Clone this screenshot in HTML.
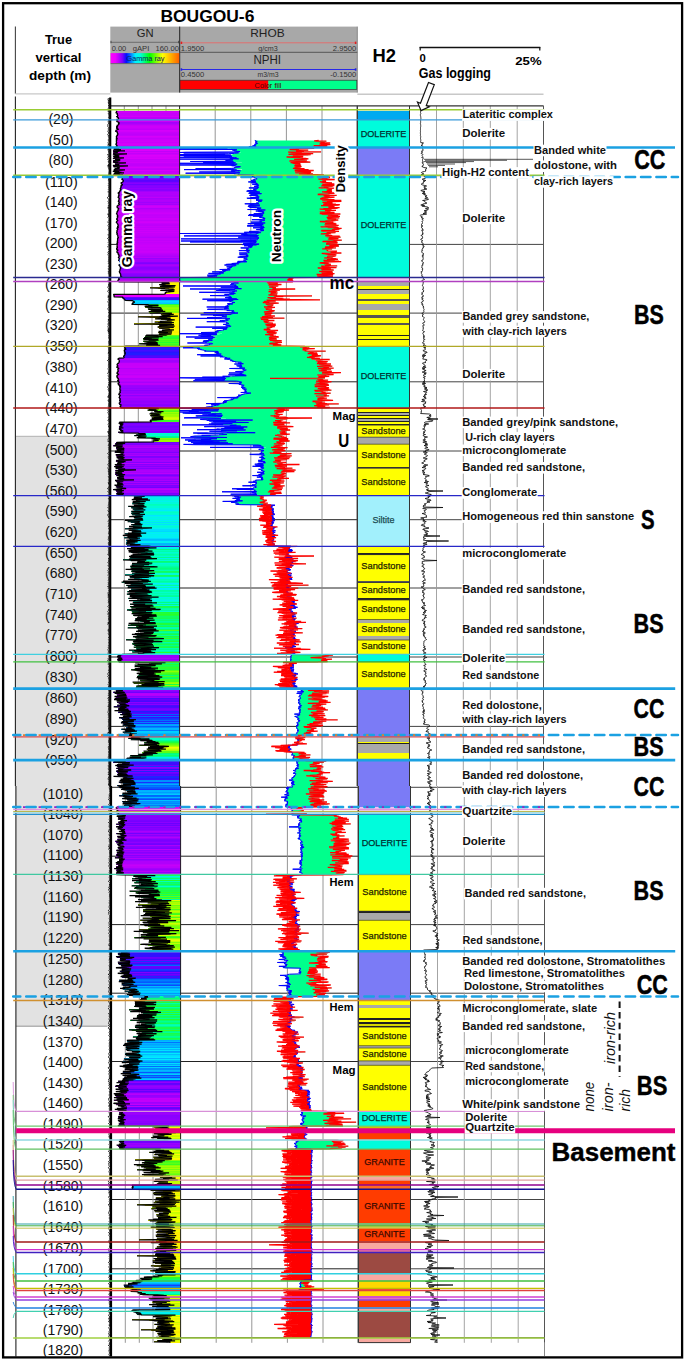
<!DOCTYPE html>
<html><head><meta charset="utf-8"><style>
html,body{margin:0;padding:0;background:#fff;width:685px;height:1361px;overflow:hidden}
svg{display:block}
text{font-family:"Liberation Sans",sans-serif}
</style></head><body>
<svg width="685" height="1361" viewBox="0 0 685 1361" font-family="'Liberation Sans', sans-serif"><text x="160.4" y="21.5" font-size="17" fill="#000" font-weight="bold" textLength="94" lengthAdjust="spacingAndGlyphs">BOUGOU-6</text>
<line x1="15.4" y1="26.6" x2="15.4" y2="93.8" stroke="#444" stroke-width="1.1"/>
<text x="58.5" y="43.6" font-size="13" fill="#000" font-weight="bold" text-anchor="middle" textLength="27" lengthAdjust="spacingAndGlyphs">True</text>
<text x="58.5" y="62.3" font-size="13" fill="#000" font-weight="bold" text-anchor="middle" textLength="46" lengthAdjust="spacingAndGlyphs">vertical</text>
<text x="60" y="80.1" font-size="13" fill="#000" font-weight="bold" text-anchor="middle" textLength="62" lengthAdjust="spacingAndGlyphs">depth (m)</text>
<line x1="15.4" y1="93.8" x2="110.3" y2="93.8" stroke="#c8c8c8" stroke-width="1.2"/>
<rect x="110.3" y="26.6" width="247.1" height="66" fill="#a8a8a8"/>
<line x1="179.7" y1="26.6" x2="179.7" y2="92.6" stroke="#222" stroke-width="1.0"/>
<line x1="357.3" y1="26.6" x2="357.3" y2="92.6" stroke="#777" stroke-width="0.8"/>
<text x="145.2" y="36.8" font-size="11.5" fill="#222" text-anchor="middle" textLength="16.8" lengthAdjust="spacingAndGlyphs">GN</text>
<line x1="110.8" y1="42.3" x2="178.8" y2="42.3" stroke="#666" stroke-width="0.9"/>
<line x1="111" y1="40.8" x2="111" y2="43.3" stroke="#444" stroke-width="0.9"/>
<line x1="178.6" y1="40.8" x2="178.6" y2="43.3" stroke="#444" stroke-width="0.9"/>
<text x="111.7" y="50.8" font-size="7.5" fill="#333" textLength="14.6" lengthAdjust="spacingAndGlyphs">0.00</text>
<text x="132.8" y="50.8" font-size="7.5" fill="#333" textLength="16.5" lengthAdjust="spacingAndGlyphs">gAPI</text>
<text x="178.9" y="50.8" font-size="7.5" fill="#333" text-anchor="end" textLength="23.4" lengthAdjust="spacingAndGlyphs">160.00</text>
<defs><linearGradient id="gr" x1="0" x2="1" y1="0" y2="0"><stop offset="0" stop-color="#ff00ff"/><stop offset="0.07" stop-color="#ee00ff"/><stop offset="0.17" stop-color="#8000ff"/><stop offset="0.23" stop-color="#0010ff"/><stop offset="0.36" stop-color="#00f0ff"/><stop offset="0.43" stop-color="#00ffe0"/><stop offset="0.57" stop-color="#00ff00"/><stop offset="0.76" stop-color="#ffff00"/><stop offset="1" stop-color="#ff6000"/></linearGradient></defs>
<rect x="110.6" y="53.1" width="68.6" height="10.2" fill="url(#gr)"/>
<line x1="110.6" y1="63.6" x2="179.2" y2="63.6" stroke="#555" stroke-width="0.7"/>
<text x="145.5" y="60.6" font-size="7.8" fill="#102060" text-anchor="middle" textLength="38" lengthAdjust="spacingAndGlyphs">Gamma ray</text>
<text x="267.4" y="36.8" font-size="11.5" fill="#222" text-anchor="middle" textLength="34.4" lengthAdjust="spacingAndGlyphs">RHOB</text>
<line x1="181" y1="42.8" x2="356" y2="42.8" stroke="#e07070" stroke-width="1.0"/>
<rect x="180.6" y="41.6" width="1.6" height="2.4" fill="#e02020"/>
<rect x="354.8" y="41.6" width="1.6" height="2.4" fill="#e02020"/>
<text x="180.8" y="50.6" font-size="7.5" fill="#333" textLength="23.4" lengthAdjust="spacingAndGlyphs">1.9500</text>
<text x="268" y="50.6" font-size="7.5" fill="#333" text-anchor="middle" textLength="19.5" lengthAdjust="spacingAndGlyphs">g/cm3</text>
<text x="356.2" y="50.6" font-size="7.5" fill="#333" text-anchor="end" textLength="23.4" lengthAdjust="spacingAndGlyphs">2.9500</text>
<line x1="179.7" y1="52.3" x2="357.3" y2="52.3" stroke="#555" stroke-width="1.0"/>
<text x="267.2" y="64.1" font-size="12" fill="#222" text-anchor="middle" textLength="27.6" lengthAdjust="spacingAndGlyphs">NPHI</text>
<line x1="181" y1="69.5" x2="356" y2="69.5" stroke="#2828e8" stroke-width="1.1"/>
<rect x="180.6" y="68.3" width="1.6" height="2.4" fill="#2020e0"/>
<rect x="354.8" y="68.3" width="1.6" height="2.4" fill="#2020e0"/>
<text x="180.8" y="77.4" font-size="7.5" fill="#333" textLength="23.4" lengthAdjust="spacingAndGlyphs">0.4500</text>
<text x="268" y="77.4" font-size="7.5" fill="#333" text-anchor="middle" textLength="21" lengthAdjust="spacingAndGlyphs">m3/m3</text>
<text x="356.2" y="77.4" font-size="7.5" fill="#333" text-anchor="end" textLength="26" lengthAdjust="spacingAndGlyphs">-0.1500</text>
<rect x="180" y="80.2" width="88.4" height="9.2" fill="#ff0000"/>
<rect x="268.4" y="80.2" width="88.4" height="9.2" fill="#00ff8c"/>
<rect x="180" y="80.2" width="176.8" height="9.2" fill="none" stroke="#333" stroke-width="0.7"/>
<text x="268" y="87.6" font-size="7.8" fill="#500000" text-anchor="middle" textLength="27" lengthAdjust="spacingAndGlyphs">Color fill</text>
<text x="372.5" y="62.2" font-size="17.5" fill="#000" font-weight="bold" textLength="23.5" lengthAdjust="spacingAndGlyphs">H2</text>
<line x1="419.6" y1="47.5" x2="540.3" y2="47.5" stroke="#111" stroke-width="1.4"/>
<line x1="420.2" y1="47" x2="420.2" y2="50.5" stroke="#111" stroke-width="1.2"/>
<line x1="539.8" y1="47" x2="539.8" y2="50.5" stroke="#111" stroke-width="1.2"/>
<text x="419.4" y="62.2" font-size="11.5" fill="#000" font-weight="bold" textLength="6.3" lengthAdjust="spacingAndGlyphs">0</text>
<text x="541.6" y="64.8" font-size="11.5" fill="#000" font-weight="bold" text-anchor="end" textLength="26.3" lengthAdjust="spacingAndGlyphs">25%</text>
<text x="418.8" y="78" font-size="14" fill="#000" font-weight="bold" textLength="72.2" lengthAdjust="spacingAndGlyphs">Gas logging</text>
<line x1="357.3" y1="94.2" x2="543.5" y2="94.2" stroke="#c8c8c8" stroke-width="1.4"/>
<rect x="3.1" y="3.2" width="679" height="1354.2" fill="none" stroke="#000" stroke-width="2.3"/>
<rect x="15.9" y="436.3" width="92.7" height="349.7" fill="#e2e2e2"/>
<rect x="15.9" y="786" width="93.5" height="240.2" fill="#e2e2e2"/>
<line x1="15.9" y1="436.3" x2="107.5" y2="436.3" stroke="#aaa" stroke-width="0.9"/>
<line x1="15.9" y1="1026.2" x2="107.5" y2="1026.2" stroke="#888" stroke-width="0.9"/>
<line x1="110.3" y1="175.7" x2="357" y2="175.7" stroke="#222" stroke-width="1.0"/>
<line x1="409.5" y1="175.7" x2="543.5" y2="175.7" stroke="#444" stroke-width="1.0"/>
<line x1="110.3" y1="244.4" x2="357" y2="244.4" stroke="#222" stroke-width="1.0"/>
<line x1="409.5" y1="244.4" x2="543.5" y2="244.4" stroke="#444" stroke-width="1.0"/>
<line x1="110.3" y1="313.1" x2="357" y2="313.1" stroke="#222" stroke-width="1.0"/>
<line x1="409.5" y1="313.1" x2="543.5" y2="313.1" stroke="#444" stroke-width="1.0"/>
<line x1="110.3" y1="381.8" x2="357" y2="381.8" stroke="#222" stroke-width="1.0"/>
<line x1="409.5" y1="381.8" x2="543.5" y2="381.8" stroke="#444" stroke-width="1.0"/>
<line x1="110.3" y1="451" x2="357" y2="451" stroke="#222" stroke-width="1.0"/>
<line x1="409.5" y1="451" x2="543.5" y2="451" stroke="#444" stroke-width="1.0"/>
<line x1="110.3" y1="519.7" x2="357" y2="519.7" stroke="#222" stroke-width="1.0"/>
<line x1="409.5" y1="519.7" x2="543.5" y2="519.7" stroke="#444" stroke-width="1.0"/>
<line x1="110.3" y1="588" x2="357" y2="588" stroke="#222" stroke-width="1.0"/>
<line x1="409.5" y1="588" x2="543.5" y2="588" stroke="#444" stroke-width="1.0"/>
<line x1="110.3" y1="657" x2="357" y2="657" stroke="#222" stroke-width="1.0"/>
<line x1="409.5" y1="657" x2="543.5" y2="657" stroke="#444" stroke-width="1.0"/>
<line x1="110.3" y1="726.4" x2="357" y2="726.4" stroke="#222" stroke-width="1.0"/>
<line x1="409.5" y1="726.4" x2="543.5" y2="726.4" stroke="#444" stroke-width="1.0"/>
<line x1="111.3" y1="787.3" x2="358" y2="787.3" stroke="#222" stroke-width="1.0"/>
<line x1="410.5" y1="787.3" x2="544.5" y2="787.3" stroke="#444" stroke-width="1.0"/>
<line x1="111.3" y1="856.2" x2="358" y2="856.2" stroke="#222" stroke-width="1.0"/>
<line x1="410.5" y1="856.2" x2="544.5" y2="856.2" stroke="#444" stroke-width="1.0"/>
<line x1="111.3" y1="924.6" x2="358" y2="924.6" stroke="#222" stroke-width="1.0"/>
<line x1="410.5" y1="924.6" x2="544.5" y2="924.6" stroke="#444" stroke-width="1.0"/>
<line x1="111.3" y1="993.2" x2="358" y2="993.2" stroke="#222" stroke-width="1.0"/>
<line x1="410.5" y1="993.2" x2="544.5" y2="993.2" stroke="#444" stroke-width="1.0"/>
<line x1="111.3" y1="1061.5" x2="358" y2="1061.5" stroke="#222" stroke-width="1.0"/>
<line x1="410.5" y1="1061.5" x2="544.5" y2="1061.5" stroke="#444" stroke-width="1.0"/>
<line x1="111.3" y1="1130.4" x2="358" y2="1130.4" stroke="#222" stroke-width="1.0"/>
<line x1="410.5" y1="1130.4" x2="544.5" y2="1130.4" stroke="#444" stroke-width="1.0"/>
<line x1="111.3" y1="1199.5" x2="358" y2="1199.5" stroke="#222" stroke-width="1.0"/>
<line x1="410.5" y1="1199.5" x2="544.5" y2="1199.5" stroke="#444" stroke-width="1.0"/>
<line x1="111.3" y1="1268.8" x2="358" y2="1268.8" stroke="#222" stroke-width="1.0"/>
<line x1="410.5" y1="1268.8" x2="544.5" y2="1268.8" stroke="#444" stroke-width="1.0"/>
<line x1="111.3" y1="1337.7" x2="358" y2="1337.7" stroke="#222" stroke-width="1.0"/>
<line x1="410.5" y1="1337.7" x2="544.5" y2="1337.7" stroke="#444" stroke-width="1.0"/>
<line x1="124.3" y1="105.8" x2="124.3" y2="786" stroke="#8a8a8a" stroke-width="0.9"/>
<line x1="125.3" y1="786" x2="125.3" y2="1342.8" stroke="#8a8a8a" stroke-width="0.9"/>
<line x1="138.3" y1="105.8" x2="138.3" y2="786" stroke="#8a8a8a" stroke-width="0.9"/>
<line x1="139.3" y1="786" x2="139.3" y2="1342.8" stroke="#8a8a8a" stroke-width="0.9"/>
<line x1="152" y1="105.8" x2="152" y2="786" stroke="#8a8a8a" stroke-width="0.9"/>
<line x1="153" y1="786" x2="153" y2="1342.8" stroke="#8a8a8a" stroke-width="0.9"/>
<line x1="166" y1="105.8" x2="166" y2="786" stroke="#8a8a8a" stroke-width="0.9"/>
<line x1="167" y1="786" x2="167" y2="1342.8" stroke="#8a8a8a" stroke-width="0.9"/>
<line x1="215.2" y1="105.8" x2="215.2" y2="786" stroke="#8a8a8a" stroke-width="0.9"/>
<line x1="216.2" y1="786" x2="216.2" y2="1342.8" stroke="#8a8a8a" stroke-width="0.9"/>
<line x1="250.8" y1="105.8" x2="250.8" y2="786" stroke="#8a8a8a" stroke-width="0.9"/>
<line x1="251.8" y1="786" x2="251.8" y2="1342.8" stroke="#8a8a8a" stroke-width="0.9"/>
<line x1="286.4" y1="105.8" x2="286.4" y2="786" stroke="#8a8a8a" stroke-width="0.9"/>
<line x1="287.4" y1="786" x2="287.4" y2="1342.8" stroke="#8a8a8a" stroke-width="0.9"/>
<line x1="322" y1="105.8" x2="322" y2="786" stroke="#8a8a8a" stroke-width="0.9"/>
<line x1="323" y1="786" x2="323" y2="1342.8" stroke="#8a8a8a" stroke-width="0.9"/>
<line x1="436.5" y1="105.8" x2="436.5" y2="786" stroke="#9a9a9a" stroke-width="0.9"/>
<line x1="437.5" y1="786" x2="437.5" y2="1342.8" stroke="#9a9a9a" stroke-width="0.9"/>
<line x1="463.3" y1="105.8" x2="463.3" y2="786" stroke="#9a9a9a" stroke-width="0.9"/>
<line x1="464.3" y1="786" x2="464.3" y2="1342.8" stroke="#9a9a9a" stroke-width="0.9"/>
<line x1="490.3" y1="105.8" x2="490.3" y2="786" stroke="#9a9a9a" stroke-width="0.9"/>
<line x1="491.3" y1="786" x2="491.3" y2="1342.8" stroke="#9a9a9a" stroke-width="0.9"/>
<line x1="517.2" y1="105.8" x2="517.2" y2="786" stroke="#9a9a9a" stroke-width="0.9"/>
<line x1="518.2" y1="786" x2="518.2" y2="1342.8" stroke="#9a9a9a" stroke-width="0.9"/>
<g shape-rendering="crispEdges">
<path fill="#cf00fa" d="M116.5 111h63.1v1.1h-63.1zM116.5 119h63.1v1.1h-63.1zM116 137h63.6v1.1h-63.6zM116.2 140h63.4v1.1h-63.4zM113 162h66.6v1.1h-66.6z"/>
<path fill="#d000fa" d="M115.6 112h64v1.1h-64z"/>
<path fill="#c500fa" d="M116.9 113h62.7v1.1h-62.7zM115.9 138h63.7v1.1h-63.7zM114.6 168h65v1.1h-65zM117.5 205h62.1v1.1h-62.1zM117 214h62.6v1.1h-62.6zM116.9 216h62.7v1.1h-62.7zM117.5 363h62.1v1.1h-62.1zM118.2 865h62.4v1.1h-62.4z"/>
<path fill="#c900fa" d="M116.8 114h62.8v1.1h-62.8zM117.1 115h62.5v1.1h-62.5zM114.6 172h65v1.1h-65zM113.7 173h65.9v1.1h-65.9zM116.8 212h62.8v1.1h-62.8zM116.8 228h62.8v1.1h-62.8zM117.1 241h62.5v1.1h-62.5z"/>
<path fill="#d200fa" d="M116.3 116h63.3v1.1h-63.3zM116.2 141h63.4v1.1h-63.4z"/>
<path fill="#be00fa" d="M117.4 117h62.2v1.1h-62.2zM118.1 197h61.5v1.1h-61.5zM118 225h61.6v1.1h-61.6zM117.8 383h61.8v1.1h-61.8zM113.1 489h66.5v1.1h-66.5z"/>
<path fill="#bf00fa" d="M118.1 118h61.5v1.1h-61.5z"/>
<path fill="#ca00fa" d="M116.8 120h62.8v1.1h-62.8zM116.6 121h63v1.1h-63zM113.4 160h66.2v1.1h-66.2zM113.4 166h66.2v1.1h-66.2zM116.7 207h62.9v1.1h-62.9zM117 246h62.6v1.1h-62.6zM116.9 377h62.7v1.1h-62.7z"/>
<path fill="#a600fc" d="M118.5 122h61.1v1.1h-61.1zM118.8 198h60.8v1.1h-60.8zM119.3 271h60.3v1.1h-60.3zM117.3 446h62.3v1.1h-62.3zM121.3 453h58.3v1.1h-58.3zM115.4 472h64.2v1.1h-64.2zM114.7 689h64.9v1.1h-64.9zM114.3 868h66.3v1.1h-66.3z"/>
<path fill="#ab00fc" d="M118.1 123h61.5v1.1h-61.5zM118.6 362h61v1.1h-61zM116.3 455h63.3v1.1h-63.3zM117.3 482h62.3v1.1h-62.3zM118.9 831h61.7v1.1h-61.7zM116.3 854h64.3v1.1h-64.3z"/>
<path fill="#b800fb" d="M118.1 124h61.5v1.1h-61.5zM117.7 237h61.9v1.1h-61.9zM118.1 379h61.5v1.1h-61.5z"/>
<path fill="#c600fa" d="M116.7 125h62.9v1.1h-62.9zM115.1 159h64.5v1.1h-64.5zM117.2 223h62.4v1.1h-62.4zM116.7 231h62.9v1.1h-62.9zM116.7 233h62.9v1.1h-62.9zM117.3 238h62.3v1.1h-62.3zM116.5 243h63.1v1.1h-63.1zM116.9 250h62.7v1.1h-62.7zM116.7 364h62.9v1.1h-62.9zM117.4 365h62.2v1.1h-62.2z"/>
<path fill="#cd00fa" d="M116.4 126h63.2v1.1h-63.2zM116.2 127h63.4v1.1h-63.4zM116.4 145h63.2v1.1h-63.2zM116.8 206h62.8v1.1h-62.8zM116.3 213h63.3v1.1h-63.3zM116.7 218h62.9v1.1h-62.9zM116.7 230h62.9v1.1h-62.9z"/>
<path fill="#c700fa" d="M116.5 128h63.1v1.1h-63.1zM117.2 132h62.4v1.1h-62.4zM112.8 171h66.8v1.1h-66.8zM117.3 226h62.3v1.1h-62.3zM116.6 234h63v1.1h-63zM117.3 239h62.3v1.1h-62.3zM117 247h62.6v1.1h-62.6zM116.7 373h62.9v1.1h-62.9zM116.8 375h62.8v1.1h-62.8z"/>
<path fill="#c000fa" d="M117 129h62.6v1.1h-62.6zM116.9 134h62.7v1.1h-62.7zM117.7 224h61.9v1.1h-61.9zM117.4 227h62.2v1.1h-62.2zM117.7 236h61.9v1.1h-61.9zM117.9 253h61.7v1.1h-61.7z"/>
<path fill="#d500fa" d="M115.9 130h63.7v1.1h-63.7zM116 136h63.6v1.1h-63.6zM117.6 167h62v1.1h-62z"/>
<path fill="#d100fa" d="M115.3 131h64.3v1.1h-64.3zM112.9 147h66.7v1.1h-66.7zM116.3 222h63.3v1.1h-63.3zM117.2 810h63.4v1.1h-63.4z"/>
<path fill="#c300fa" d="M117.5 133h62.1v1.1h-62.1zM117.3 217h62.3v1.1h-62.3zM117.5 229h62.1v1.1h-62.1zM117 242h62.6v1.1h-62.6zM117.7 280h61.9v1.1h-61.9z"/>
<path fill="#c400fa" d="M116.6 135h63v1.1h-63zM113.2 153h66.4v1.1h-66.4zM115.1 163h64.5v1.1h-64.5zM116.9 211h62.7v1.1h-62.7zM117.2 235h62.4v1.1h-62.4zM117.2 372h62.4v1.1h-62.4z"/>
<path fill="#cc00fa" d="M116.4 139h63.2v1.1h-63.2zM116.2 146h63.4v1.1h-63.4zM116.8 376h62.8v1.1h-62.8z"/>
<path fill="#cb00fa" d="M116 142h63.6v1.1h-63.6zM116.5 219h63.1v1.1h-63.1zM116.9 245h62.7v1.1h-62.7zM116.3 248h63.3v1.1h-63.3zM116.7 251h62.9v1.1h-62.9z"/>
<path fill="#d400fa" d="M116 143h63.6v1.1h-63.6zM113.3 152h66.3v1.1h-66.3zM113.4 174h66.2v1.1h-66.2z"/>
<path fill="#d600fa" d="M115.8 144h63.8v1.1h-63.8z"/>
<path fill="#df00fc" d="M114.1 148h65.5v1.1h-65.5z"/>
<path fill="#d800fa" d="M114.7 149h64.9v1.1h-64.9zM113.8 170h65.8v1.1h-65.8z"/>
<path fill="#dd00fb" d="M113 150h66.6v1.1h-66.6z"/>
<path fill="#c200fa" d="M113.2 151h66.4v1.1h-66.4zM117.5 210h62.1v1.1h-62.1zM117.3 215h62.3v1.1h-62.3zM117.3 220h62.3v1.1h-62.3zM116 873h64.6v1.1h-64.6zM118.3 1098h62.3v1.1h-62.3z"/>
<path fill="#ce00fa" d="M112.9 154h66.7v1.1h-66.7zM116.5 221h63.1v1.1h-63.1zM116.6 232h63v1.1h-63z"/>
<path fill="#db00fb" d="M115.6 155h64v1.1h-64z"/>
<path fill="#d700fa" d="M113.2 156h66.4v1.1h-66.4zM115.9 808h64.7v1.1h-64.7z"/>
<path fill="#d300fa" d="M113.7 157h65.9v1.1h-65.9zM117.1 814h63.5v1.1h-63.5z"/>
<path fill="#d900fa" d="M112.9 158h66.7v1.1h-66.7zM115.9 807h64.7v1.1h-64.7zM116.5 811h64.1v1.1h-64.1z"/>
<path fill="#c800fa" d="M113.1 161h66.5v1.1h-66.5zM117.1 244h62.5v1.1h-62.5zM116.6 249h63v1.1h-63zM116.7 252h62.9v1.1h-62.9zM117.2 366h62.4v1.1h-62.4zM116.6 367h63v1.1h-63zM116.8 809h63.8v1.1h-63.8z"/>
<path fill="#c100fa" d="M115.4 164h64.2v1.1h-64.2zM113.3 165h66.3v1.1h-66.3zM113.7 169h65.9v1.1h-65.9zM117.2 240h62.4v1.1h-62.4zM117.7 369h61.9v1.1h-61.9zM117.8 370h61.8v1.1h-61.8zM117.6 371h62v1.1h-62zM117.3 380h62.3v1.1h-62.3zM118.1 813h62.5v1.1h-62.5zM113.8 1100h66.8v1.1h-66.8zM117.6 1101h63v1.1h-63zM116.3 1104h64.3v1.1h-64.3zM120.8 1106h59.8v1.1h-59.8z"/>
<path fill="#5d02ff" d="M122.7 175h56.9v1.1h-56.9zM122.6 975h58v1.1h-58z"/>
<path fill="#5804ff" d="M122.8 176h56.8v1.1h-56.8zM122.9 180h56.7v1.1h-56.7zM116.6 700h63v1.1h-63zM115.8 1089h64.8v1.1h-64.8z"/>
<path fill="#6500ff" d="M122.4 177h57.2v1.1h-57.2zM114.1 699h65.5v1.1h-65.5zM120.1 958h60.5v1.1h-60.5z"/>
<path fill="#7100ff" d="M122.1 178h57.5v1.1h-57.5z"/>
<path fill="#6f00ff" d="M121.5 179h58.1v1.1h-58.1zM115.6 765h64v1.1h-64zM121.5 966h59.1v1.1h-59.1zM121.6 1107h59v1.1h-59z"/>
<path fill="#5e02ff" d="M122.9 181h56.7v1.1h-56.7zM121.5 968h59.1v1.1h-59.1z"/>
<path fill="#7b00ff" d="M121 182h58.6v1.1h-58.6zM116.4 475h63.2v1.1h-63.2zM121.3 820h59.3v1.1h-59.3zM118.4 827h62.2v1.1h-62.2zM120 840h60.6v1.1h-60.6z"/>
<path fill="#8800ff" d="M120.8 183h58.8v1.1h-58.8zM120.8 186h58.8v1.1h-58.8zM118.8 422h60.8v1.1h-60.8zM114.7 696h64.9v1.1h-64.9zM123.8 1090h56.8v1.1h-56.8zM118 1125h62.6v1.1h-62.6z"/>
<path fill="#6d00ff" d="M121.6 184h58v1.1h-58zM114.5 710h65.1v1.1h-65.1z"/>
<path fill="#8300ff" d="M120.8 185h58.8v1.1h-58.8zM115.6 468h64v1.1h-64zM117.5 483h62.1v1.1h-62.1zM115.8 486h63.8v1.1h-63.8zM117.9 819h62.7v1.1h-62.7zM116.2 824h64.4v1.1h-64.4z"/>
<path fill="#8500ff" d="M120.5 187h59.1v1.1h-59.1zM114.8 464h64.8v1.1h-64.8zM117.5 494h62.1v1.1h-62.1zM116.2 691h63.4v1.1h-63.4zM117.4 770h62.2v1.1h-62.2zM117.6 847h63v1.1h-63z"/>
<path fill="#9300fe" d="M120.2 188h59.4v1.1h-59.4zM117.1 872h63.5v1.1h-63.5zM116.5 1082h64.1v1.1h-64.1z"/>
<path fill="#8700ff" d="M120 189h59.6v1.1h-59.6zM120.3 276h59.3v1.1h-59.3zM122 818h58.6v1.1h-58.6zM117.5 828h63.1v1.1h-63.1zM116.8 852h63.8v1.1h-63.8zM117.6 1110h63v1.1h-63z"/>
<path fill="#8900ff" d="M120 190h59.6v1.1h-59.6zM120.4 262h59.2v1.1h-59.2zM120 274h59.6v1.1h-59.6zM119.3 404h60.3v1.1h-60.3zM121 952h59.6v1.1h-59.6z"/>
<path fill="#a200fd" d="M119.4 191h60.2v1.1h-60.2zM118.9 360h60.7v1.1h-60.7zM118.1 458h61.5v1.1h-61.5zM115.5 490h64.1v1.1h-64.1z"/>
<path fill="#b200fb" d="M118.4 192h61.2v1.1h-61.2zM118.7 194h60.9v1.1h-60.9zM118.4 200h61.2v1.1h-61.2zM118.6 277h61v1.1h-61zM117.5 837h63.1v1.1h-63.1zM116.3 874h64.3v1.1h-64.3z"/>
<path fill="#b000fb" d="M117.9 193h61.7v1.1h-61.7zM118.3 201h61.3v1.1h-61.3zM118.2 279h61.4v1.1h-61.4zM118 358h61.6v1.1h-61.6zM115.8 862h64.8v1.1h-64.8zM116.5 863h64.1v1.1h-64.1z"/>
<path fill="#ac00fc" d="M118.6 195h61v1.1h-61zM115.4 470h64.2v1.1h-64.2zM117.1 477h62.5v1.1h-62.5z"/>
<path fill="#ae00fc" d="M118.2 196h61.4v1.1h-61.4zM118.6 394h61v1.1h-61z"/>
<path fill="#ad00fc" d="M118.9 199h60.7v1.1h-60.7zM118.6 256h61v1.1h-61zM118.4 281h61.2v1.1h-61.2zM117.7 658h61.9v1.1h-61.9zM117.8 660h61.8v1.1h-61.8zM113.8 1093h66.8v1.1h-66.8z"/>
<path fill="#a100fd" d="M118.9 202h60.7v1.1h-60.7zM119.2 361h60.4v1.1h-60.4zM116.9 449h62.7v1.1h-62.7zM116.3 870h64.3v1.1h-64.3z"/>
<path fill="#af00fb" d="M118.3 203h61.3v1.1h-61.3zM118 471h61.6v1.1h-61.6z"/>
<path fill="#a300fd" d="M118.6 204h61v1.1h-61zM119.4 396h60.2v1.1h-60.2z"/>
<path fill="#b100fb" d="M117.9 208h61.7v1.1h-61.7zM116.9 695h62.7v1.1h-62.7z"/>
<path fill="#bd00fa" d="M117.7 209h61.9v1.1h-61.9zM117.8 374h61.8v1.1h-61.8zM116.2 864h64.4v1.1h-64.4zM116.3 866h64.3v1.1h-64.3z"/>
<path fill="#b900fb" d="M118.1 254h61.5v1.1h-61.5zM117 463h62.6v1.1h-62.6z"/>
<path fill="#b400fb" d="M118.6 255h61v1.1h-61zM118.1 368h61.5v1.1h-61.5zM117.7 378h61.9v1.1h-61.9zM120.8 488h58.8v1.1h-58.8z"/>
<path fill="#ba00fa" d="M118.2 257h61.4v1.1h-61.4z"/>
<path fill="#9900fe" d="M118.9 258h60.7v1.1h-60.7zM119.8 266h59.8v1.1h-59.8zM119.6 391h60v1.1h-60zM119.4 400h60.2v1.1h-60.2zM119.1 403h60.5v1.1h-60.5zM115.7 454h63.9v1.1h-63.9zM117.3 654h62.3v1.1h-62.3zM115.6 697h64v1.1h-64zM118.9 1114h61.7v1.1h-61.7zM119.5 1148h61.1v1.1h-61.1z"/>
<path fill="#aa00fc" d="M118.7 259h60.9v1.1h-60.9zM119 397h60.6v1.1h-60.6zM115 480h64.6v1.1h-64.6zM118.2 845h62.4v1.1h-62.4z"/>
<path fill="#a500fc" d="M118.4 260h61.2v1.1h-61.2zM117.2 484h62.4v1.1h-62.4z"/>
<path fill="#a400fd" d="M119.4 261h60.2v1.1h-60.2zM116.2 460h63.4v1.1h-63.4zM115.9 461h63.7v1.1h-63.7zM118.4 469h61.2v1.1h-61.2z"/>
<path fill="#8000ff" d="M120.6 263h59v1.1h-59zM115.4 841h65.2v1.1h-65.2zM118.4 951h62.2v1.1h-62.2zM121.6 972h59v1.1h-59z"/>
<path fill="#9f00fd" d="M119.2 264h60.4v1.1h-60.4zM118.9 851h61.7v1.1h-61.7zM119.2 1113h61.4v1.1h-61.4z"/>
<path fill="#a900fc" d="M118.9 265h60.7v1.1h-60.7zM116.4 491h63.2v1.1h-63.2z"/>
<path fill="#8b00ff" d="M120 267h59.6v1.1h-59.6zM120.4 268h59.2v1.1h-59.2zM120 390h59.6v1.1h-59.6zM117 702h62.6v1.1h-62.6zM114.8 1109h65.8v1.1h-65.8zM118.4 1116h62.2v1.1h-62.2z"/>
<path fill="#9100ff" d="M119.7 269h59.9v1.1h-59.9zM120.3 1119h60.3v1.1h-60.3z"/>
<path fill="#9b00fd" d="M119.7 270h59.9v1.1h-59.9zM118.8 450h60.8v1.1h-60.8zM116.6 869h64v1.1h-64z"/>
<path fill="#a700fc" d="M119.3 272h60.3v1.1h-60.3z"/>
<path fill="#9200fe" d="M120.1 273h59.5v1.1h-59.5zM119.3 476h60.3v1.1h-60.3zM117.2 659h62.4v1.1h-62.4zM116.1 826h64.5v1.1h-64.5zM116.9 853h63.7v1.1h-63.7z"/>
<path fill="#8600ff" d="M120.5 275h59.1v1.1h-59.1zM120.5 405h59.1v1.1h-59.1zM115.3 443h64.3v1.1h-64.3zM115.6 481h64v1.1h-64zM116.7 816h63.9v1.1h-63.9zM119.1 859h61.5v1.1h-61.5z"/>
<path fill="#b500fb" d="M118.6 278h61v1.1h-61zM117.7 359h61.9v1.1h-61.9zM118.2 381h61.4v1.1h-61.4zM114.6 693h65v1.1h-65z"/>
<path fill="#fcf300" d="M161.6 282h18v1.1h-18zM159.5 1203h21.1v1.1h-21.1zM155.8 1224h24.8v1.1h-24.8zM161.4 1245h19.2v1.1h-19.2zM137 1255h43.6v1.1h-43.6zM153.5 1258h27.1v1.1h-27.1zM169.5 1342h11.1v1.1h-11.1z"/>
<path fill="#fcf400" d="M161.7 283h17.9v1.1h-17.9zM171.4 289h8.2v1.1h-8.2zM160.4 290h19.2v1.1h-19.2zM159.2 325h20.4v1.1h-20.4zM155.8 1253h24.8v1.1h-24.8z"/>
<path fill="#fbf900" d="M159.2 284h20.4v1.1h-20.4zM158.8 333h20.8v1.1h-20.8zM159.6 334h20v1.1h-20zM155.7 1198h24.9v1.1h-24.9zM150.7 1227h29.9v1.1h-29.9zM158.9 1241h21.7v1.1h-21.7zM154.5 1315h26.1v1.1h-26.1zM165 1327h15.6v1.1h-15.6z"/>
<path fill="#fcf200" d="M162.1 285h17.5v1.1h-17.5zM160.9 314h18.7v1.1h-18.7zM159.1 328h20.5v1.1h-20.5zM154.5 1206h26.1v1.1h-26.1zM155.4 1248h25.2v1.1h-25.2zM157.2 1249h23.4v1.1h-23.4z"/>
<path fill="#fbfc00" d="M159.9 286h19.7v1.1h-19.7zM165.3 329h14.3v1.1h-14.3zM157.5 1134h23.1v1.1h-23.1zM161.5 1228h19.1v1.1h-19.1zM161.5 1317h19.1v1.1h-19.1z"/>
<path fill="#fcf600" d="M150 287h29.6v1.1h-29.6zM154.9 1271h25.7v1.1h-25.7zM155.3 1272h25.3v1.1h-25.3z"/>
<path fill="#fded00" d="M157.8 288h21.8v1.1h-21.8zM156.8 1246h23.8v1.1h-23.8z"/>
<path fill="#fee700" d="M168.4 291h11.2v1.1h-11.2z"/>
<path fill="#fbfa00" d="M165.1 292h14.5v1.1h-14.5zM134 323h45.6v1.1h-45.6zM155.5 1128h25.1v1.1h-25.1zM161.2 1196h19.4v1.1h-19.4zM152.6 1260h28v1.1h-28zM151.3 1330h29.3v1.1h-29.3zM161.3 1335h19.3v1.1h-19.3z"/>
<path fill="#fafd00" d="M164.7 293h14.9v1.1h-14.9zM154.6 321h25v1.1h-25zM155.4 1129h25.2v1.1h-25.2zM154.4 1154h26.2v1.1h-26.2zM145.3 1205h35.3v1.1h-35.3zM154.9 1263h25.7v1.1h-25.7zM150.9 1265h29.7v1.1h-29.7zM164.1 1273h16.5v1.1h-16.5zM157 1338h23.6v1.1h-23.6z"/>
<path fill="#ed00fe" d="M113.6 294h66v1.1h-66z"/>
<path fill="#ea00fe" d="M113.8 295h65.8v1.1h-65.8z"/>
<path fill="#e900fe" d="M113.8 296h65.8v1.1h-65.8z"/>
<path fill="#6b00ff" d="M122.2 297h57.4v1.1h-57.4zM119.6 823h61v1.1h-61zM117.4 957h63.2v1.1h-63.2z"/>
<path fill="#430bff" d="M123 298h56.6v1.1h-56.6z"/>
<path fill="#450aff" d="M123.9 299h55.7v1.1h-55.7zM113.7 706h65.9v1.1h-65.9zM122 977h58.6v1.1h-58.6z"/>
<path fill="#00bcff" d="M125.3 300h54.3v1.1h-54.3z"/>
<path fill="#00dcff" d="M133.2 301h46.4v1.1h-46.4z"/>
<path fill="#00d1ff" d="M132.7 302h46.9v1.1h-46.9zM124.6 991h56v1.1h-56zM123.2 1065h57.4v1.1h-57.4z"/>
<path fill="#00c5ff" d="M132.2 303h47.4v1.1h-47.4zM126.4 540h53.2v1.1h-53.2z"/>
<path fill="#1aff48" d="M131.6 304h48v1.1h-48z"/>
<path fill="#71ff0d" d="M152.9 305h26.7v1.1h-26.7z"/>
<path fill="#68ff11" d="M144.7 306h34.9v1.1h-34.9z"/>
<path fill="#8dff03" d="M145.1 307h34.5v1.1h-34.5zM142.4 1160h38.2v1.1h-38.2z"/>
<path fill="#97ff00" d="M160 308h19.6v1.1h-19.6z"/>
<path fill="#85ff06" d="M148 309h31.6v1.1h-31.6zM156.4 1171h24.2v1.1h-24.2z"/>
<path fill="#a1ff00" d="M151 310h28.6v1.1h-28.6zM153.4 416h26.2v1.1h-26.2zM144.7 948h35.9v1.1h-35.9z"/>
<path fill="#87ff05" d="M148.7 311h30.9v1.1h-30.9zM135.9 907h44.7v1.1h-44.7zM144 1167h36.6v1.1h-36.6z"/>
<path fill="#8cff04" d="M149.2 312h30.4v1.1h-30.4z"/>
<path fill="#fee500" d="M162.5 313h17.1v1.1h-17.1z"/>
<path fill="#fbf800" d="M162.2 315h17.4v1.1h-17.4zM150.4 324h29.2v1.1h-29.2zM135 1159h45.6v1.1h-45.6zM155.9 1229h24.7v1.1h-24.7zM141 1329h39.6v1.1h-39.6z"/>
<path fill="#fee900" d="M138 316h41.6v1.1h-41.6zM155.9 1269h24.7v1.1h-24.7z"/>
<path fill="#fdec00" d="M149.5 317h30.1v1.1h-30.1zM155.1 318h24.5v1.1h-24.5zM158.7 1268h21.9v1.1h-21.9zM155.6 1331h25v1.1h-25z"/>
<path fill="#fbf700" d="M161 319h18.6v1.1h-18.6zM155.7 1199h24.9v1.1h-24.9zM155.9 1236h24.7v1.1h-24.7zM156.3 1250h24.3v1.1h-24.3zM155.2 1274h25.4v1.1h-25.4z"/>
<path fill="#fdeb00" d="M166.8 320h12.8v1.1h-12.8zM155.8 1232h24.8v1.1h-24.8zM166.8 1237h13.8v1.1h-13.8zM161.5 1332h19.1v1.1h-19.1z"/>
<path fill="#f6ff00" d="M158.3 322h21.3v1.1h-21.3zM154.8 1211h25.8v1.1h-25.8z"/>
<path fill="#fdee00" d="M157.7 326h21.9v1.1h-21.9zM154.1 1192h26.5v1.1h-26.5zM165.9 1233h14.7v1.1h-14.7zM155.7 1235h24.9v1.1h-24.9z"/>
<path fill="#fdf000" d="M158 327h21.6v1.1h-21.6zM158.7 331h20.9v1.1h-20.9zM161.6 1230h19v1.1h-19z"/>
<path fill="#fbfb00" d="M162.2 330h17.4v1.1h-17.4zM154.7 1184h25.9v1.1h-25.9zM157.4 1221h23.2v1.1h-23.2z"/>
<path fill="#fcf100" d="M158.3 332h21.3v1.1h-21.3zM153.7 1194h26.9v1.1h-26.9z"/>
<path fill="#65ff12" d="M146.4 335h33.2v1.1h-33.2zM144.1 744h35.5v1.1h-35.5z"/>
<path fill="#32ff25" d="M145 336h34.6v1.1h-34.6z"/>
<path fill="#20ff3a" d="M144.2 337h35.4v1.1h-35.4zM133.2 615h46.4v1.1h-46.4zM133 636h46.6v1.1h-46.6z"/>
<path fill="#28ff29" d="M143.1 338h36.5v1.1h-36.5z"/>
<path fill="#53ff19" d="M143.4 339h36.2v1.1h-36.2z"/>
<path fill="#3dff20" d="M148.5 340h31.1v1.1h-31.1z"/>
<path fill="#4bff1b" d="M143.3 341h36.3v1.1h-36.3zM148.6 679h31v1.1h-31zM140.8 936h39.8v1.1h-39.8z"/>
<path fill="#24ff31" d="M148.5 342h31.1v1.1h-31.1z"/>
<path fill="#4dff1b" d="M139.1 343h40.5v1.1h-40.5zM151.8 917h28.8v1.1h-28.8z"/>
<path fill="#36ff23" d="M152 344h27.6v1.1h-27.6zM132.2 1030h48.4v1.1h-48.4z"/>
<path fill="#45ff1d" d="M146.2 345h33.4v1.1h-33.4z"/>
<path fill="#2f12ff" d="M124.8 346h54.8v1.1h-54.8z"/>
<path fill="#360fff" d="M124.5 347h55.1v1.1h-55.1zM114.9 760h64.7v1.1h-64.7z"/>
<path fill="#2121ff" d="M124.7 348h54.9v1.1h-54.9zM122.1 1080h58.5v1.1h-58.5z"/>
<path fill="#241cff" d="M124.3 349h55.3v1.1h-55.3zM121.4 711h58.2v1.1h-58.2z"/>
<path fill="#470aff" d="M123.9 350h55.7v1.1h-55.7z"/>
<path fill="#380fff" d="M124.2 351h55.4v1.1h-55.4z"/>
<path fill="#2715ff" d="M124.7 352h54.9v1.1h-54.9z"/>
<path fill="#241bff" d="M124.4 353h55.2v1.1h-55.2z"/>
<path fill="#251bff" d="M124.7 354h54.9v1.1h-54.9z"/>
<path fill="#420bff" d="M123.9 355h55.7v1.1h-55.7zM118.3 712h61.3v1.1h-61.3z"/>
<path fill="#5007ff" d="M123.4 356h56.2v1.1h-56.2z"/>
<path fill="#4b08ff" d="M123.6 357h56v1.1h-56zM114.6 698h65v1.1h-65z"/>
<path fill="#a800fc" d="M118.8 382h60.8v1.1h-60.8zM113.3 445h66.3v1.1h-66.3zM113.8 1103h66.8v1.1h-66.8z"/>
<path fill="#bc00fa" d="M118.2 384h61.4v1.1h-61.4zM118.8 849h61.8v1.1h-61.8zM116.5 1099h64.1v1.1h-64.1z"/>
<path fill="#9e00fd" d="M119.4 385h60.2v1.1h-60.2zM119.4 398h60.2v1.1h-60.2zM115.6 467h64v1.1h-64zM119.9 834h60.7v1.1h-60.7zM117.3 856h63.3v1.1h-63.3zM116.6 1145h64v1.1h-64z"/>
<path fill="#9a00fe" d="M119.4 386h60.2v1.1h-60.2zM119.8 387h59.8v1.1h-59.8zM119.1 393h60.5v1.1h-60.5zM117 656h62.6v1.1h-62.6zM118.4 1146h62.2v1.1h-62.2z"/>
<path fill="#9100fe" d="M119.5 388h60.1v1.1h-60.1zM119.8 401h59.8v1.1h-59.8zM118.5 1087h62.1v1.1h-62.1z"/>
<path fill="#9d00fd" d="M119.7 389h59.9v1.1h-59.9zM122.2 832h58.4v1.1h-58.4zM121.7 1143h58.9v1.1h-58.9z"/>
<path fill="#9600fe" d="M119.8 392h59.8v1.1h-59.8zM116.2 448h63.4v1.1h-63.4zM114.9 1095h65.7v1.1h-65.7zM119.2 1112h61.4v1.1h-61.4z"/>
<path fill="#8d00ff" d="M119.6 395h60v1.1h-60zM120 430h59.6v1.1h-59.6z"/>
<path fill="#a000fd" d="M119.6 399h60v1.1h-60zM117.3 478h62.3v1.1h-62.3zM113.9 1097h66.7v1.1h-66.7zM118.4 1102h62.2v1.1h-62.2z"/>
<path fill="#9400fe" d="M119.4 402h60.2v1.1h-60.2z"/>
<path fill="#9800fe" d="M120 406h59.6v1.1h-59.6zM120.8 838h59.8v1.1h-59.8zM115.2 1086h65.4v1.1h-65.4zM116.2 1096h64.4v1.1h-64.4z"/>
<path fill="#8a00ff" d="M120.6 407h59v1.1h-59zM120.1 704h59.5v1.1h-59.5zM120 846h60.6v1.1h-60.6zM116.1 1085h64.5v1.1h-64.5zM119.1 1088h61.5v1.1h-61.5zM121.3 1115h59.3v1.1h-59.3z"/>
<path fill="#45ff1e" d="M143.5 408h36.1v1.1h-36.1z"/>
<path fill="#95ff00" d="M148.8 409h30.8v1.1h-30.8z"/>
<path fill="#5fff14" d="M147.5 410h32.1v1.1h-32.1z"/>
<path fill="#4dff1a" d="M154.3 411h25.3v1.1h-25.3zM141.9 1162h38.7v1.1h-38.7z"/>
<path fill="#9eff00" d="M156.8 412h22.8v1.1h-22.8zM151.3 414h28.3v1.1h-28.3z"/>
<path fill="#7eff09" d="M149.5 413h30.1v1.1h-30.1zM142.6 922h38v1.1h-38z"/>
<path fill="#9aff00" d="M150.3 415h29.3v1.1h-29.3zM138.8 685h40.8v1.1h-40.8zM153.3 1276h27.3v1.1h-27.3z"/>
<path fill="#c8ff00" d="M151.9 417h27.7v1.1h-27.7zM149.7 941h30.9v1.1h-30.9zM155.3 1309h25.3v1.1h-25.3z"/>
<path fill="#d4ff00" d="M154.6 418h25v1.1h-25zM148.9 939h31.7v1.1h-31.7z"/>
<path fill="#c2ff00" d="M151.9 419h27.7v1.1h-27.7zM157 1305h23.6v1.1h-23.6z"/>
<path fill="#2eff26" d="M150.1 420h29.5v1.1h-29.5zM139.6 667h40v1.1h-40z"/>
<path fill="#43ff1e" d="M150.5 421h29.1v1.1h-29.1z"/>
<path fill="#7300ff" d="M118.6 423h61v1.1h-61zM116.6 487h63v1.1h-63zM117.4 844h63.2v1.1h-63.2zM119 1147h61.6v1.1h-61.6z"/>
<path fill="#8400ff" d="M120.2 424h59.4v1.1h-59.4zM114.1 466h65.5v1.1h-65.5zM118.1 817h62.5v1.1h-62.5zM119.5 829h61.1v1.1h-61.1zM121.4 835h59.2v1.1h-59.2zM116.3 855h64.3v1.1h-64.3z"/>
<path fill="#7d00ff" d="M119.8 425h59.8v1.1h-59.8zM118.4 709h61.2v1.1h-61.2zM118.2 848h62.4v1.1h-62.4zM118.1 1105h62.5v1.1h-62.5z"/>
<path fill="#7000ff" d="M119 426h60.6v1.1h-60.6z"/>
<path fill="#7500ff" d="M119.2 427h60.4v1.1h-60.4z"/>
<path fill="#7f00ff" d="M119.4 428h60.2v1.1h-60.2zM114.7 452h64.9v1.1h-64.9zM116.8 456h62.8v1.1h-62.8z"/>
<path fill="#7800ff" d="M119.1 429h60.5v1.1h-60.5zM121.1 431h58.5v1.1h-58.5zM115.8 444h63.8v1.1h-63.8zM118.5 843h62.1v1.1h-62.1z"/>
<path fill="#8200ff" d="M118.1 432h61.5v1.1h-61.5zM116.8 457h62.8v1.1h-62.8zM117.9 462h61.7v1.1h-61.7zM119 1123h61.6v1.1h-61.6z"/>
<path fill="#00fdcf" d="M138.3 433h41.3v1.1h-41.3z"/>
<path fill="#00ffc2" d="M136.8 434h42.8v1.1h-42.8zM128.3 738h51.3v1.1h-51.3z"/>
<path fill="#00f9da" d="M134.3 435h45.3v1.1h-45.3z"/>
<path fill="#00ff95" d="M138.2 436h41.4v1.1h-41.4zM135 1001h45.6v1.1h-45.6z"/>
<path fill="#00ff82" d="M136.8 437h42.8v1.1h-42.8z"/>
<path fill="#89ff05" d="M151.5 438h28.1v1.1h-28.1z"/>
<path fill="#77ff0b" d="M152.5 439h27.1v1.1h-27.1z"/>
<path fill="#9dff00" d="M153.1 440h26.5v1.1h-26.5zM150.4 916h30.2v1.1h-30.2z"/>
<path fill="#98ff00" d="M152.9 441h26.7v1.1h-26.7z"/>
<path fill="#7400ff" d="M116.2 442h63.4v1.1h-63.4zM118.3 708h61.3v1.1h-61.3zM118.9 1141h61.7v1.1h-61.7zM120 1142h60.6v1.1h-60.6z"/>
<path fill="#b600fb" d="M116.1 447h63.5v1.1h-63.5z"/>
<path fill="#9700fe" d="M115.1 451h64.5v1.1h-64.5zM118.2 655h61.4v1.1h-61.4zM117.9 1120h62.7v1.1h-62.7z"/>
<path fill="#9c00fd" d="M118.8 459h60.8v1.1h-60.8zM115.6 465h64v1.1h-64zM117.6 657h62v1.1h-62zM117.3 836h63.3v1.1h-63.3zM119.5 1140h61.1v1.1h-61.1z"/>
<path fill="#bb00fa" d="M117.6 473h62v1.1h-62zM116 867h64.6v1.1h-64.6zM116.5 871h64.1v1.1h-64.1z"/>
<path fill="#8c00ff" d="M115.1 474h64.5v1.1h-64.5zM117.6 767h62v1.1h-62zM118.3 822h62.3v1.1h-62.3zM116.4 850h64.2v1.1h-64.2zM119.3 1111h61.3v1.1h-61.3zM118.3 1117h62.3v1.1h-62.3z"/>
<path fill="#9500fe" d="M118.7 479h60.9v1.1h-60.9zM116.1 690h63.5v1.1h-63.5z"/>
<path fill="#7c00ff" d="M114.5 485h65.1v1.1h-65.1zM116.3 768h63.3v1.1h-63.3z"/>
<path fill="#a500fd" d="M117.2 492h62.4v1.1h-62.4z"/>
<path fill="#7a00ff" d="M116.1 493h63.5v1.1h-63.5zM118.1 1081h62.5v1.1h-62.5z"/>
<path fill="#00ffb1" d="M117.2 495h62.4v1.1h-62.4zM130.7 555h48.9v1.1h-48.9zM121.5 582h58.1v1.1h-58.1zM138.3 877h42.3v1.1h-42.3z"/>
<path fill="#00f2ec" d="M134.2 496h45.4v1.1h-45.4zM134.4 578h45.2v1.1h-45.2zM140.2 1281h40.4v1.1h-40.4z"/>
<path fill="#00f1ef" d="M133.7 497h45.9v1.1h-45.9zM127 545h52.6v1.1h-52.6z"/>
<path fill="#00f3e8" d="M135.5 498h44.1v1.1h-44.1z"/>
<path fill="#00f4e5" d="M131.8 499h47.8v1.1h-47.8zM129.9 577h49.7v1.1h-49.7zM126.5 758h53.1v1.1h-53.1z"/>
<path fill="#00f7dd" d="M135.9 500h43.7v1.1h-43.7zM133.4 519h46.2v1.1h-46.2zM132.9 527h46.7v1.1h-46.7zM133.6 605h46v1.1h-46z"/>
<path fill="#00f2ed" d="M132.8 501h46.8v1.1h-46.8zM128.3 534h51.3v1.1h-51.3zM129.6 757h50v1.1h-50z"/>
<path fill="#00f9d9" d="M132.5 502h47.1v1.1h-47.1zM132.3 503h47.3v1.1h-47.3zM127.6 521h52v1.1h-52zM132 563h47.6v1.1h-47.6zM131 584h48.6v1.1h-48.6z"/>
<path fill="#00ffba" d="M137.8 504h41.8v1.1h-41.8z"/>
<path fill="#00ffc0" d="M133.9 505h45.7v1.1h-45.7z"/>
<path fill="#00fad5" d="M128.2 506h51.4v1.1h-51.4zM129 556h50.6v1.1h-50.6zM131.9 573h47.7v1.1h-47.7zM136.9 1314h43.7v1.1h-43.7z"/>
<path fill="#00fcd1" d="M131.2 507h48.4v1.1h-48.4z"/>
<path fill="#00f2eb" d="M132.6 508h47v1.1h-47z"/>
<path fill="#00f1ee" d="M132.8 509h46.8v1.1h-46.8zM127.5 536h52.1v1.1h-52.1zM126.4 542h53.2v1.1h-53.2z"/>
<path fill="#00e8ff" d="M134 510h45.6v1.1h-45.6zM133 1290h47.6v1.1h-47.6z"/>
<path fill="#00fad7" d="M131.3 511h48.3v1.1h-48.3z"/>
<path fill="#00ffc4" d="M132.4 512h47.2v1.1h-47.2zM131.8 611h47.8v1.1h-47.8zM137.9 653h41.7v1.1h-41.7zM135.7 1280h44.9v1.1h-44.9zM137.5 1292h43.1v1.1h-43.1z"/>
<path fill="#00fcd2" d="M131.1 513h48.5v1.1h-48.5z"/>
<path fill="#00fad6" d="M131.8 514h47.8v1.1h-47.8zM129.7 560h49.9v1.1h-49.9z"/>
<path fill="#00e5ff" d="M135.4 515h44.2v1.1h-44.2z"/>
<path fill="#00f0f2" d="M129.2 516h50.4v1.1h-50.4zM124.9 528h54.7v1.1h-54.7z"/>
<path fill="#00f7df" d="M134.1 517h45.5v1.1h-45.5z"/>
<path fill="#00f1ed" d="M135.1 518h44.5v1.1h-44.5z"/>
<path fill="#00eaff" d="M124.9 520h54.7v1.1h-54.7zM129.2 1057h51.4v1.1h-51.4z"/>
<path fill="#00dfff" d="M130.7 522h48.9v1.1h-48.9z"/>
<path fill="#00f8dc" d="M134.5 523h45.1v1.1h-45.1z"/>
<path fill="#00e1ff" d="M131.2 524h48.4v1.1h-48.4zM126.7 1050h53.9v1.1h-53.9zM130 1056h50.6v1.1h-50.6zM131.5 1310h49.1v1.1h-49.1z"/>
<path fill="#00f5e4" d="M132.6 525h47v1.1h-47z"/>
<path fill="#00fbd2" d="M129.1 526h50.5v1.1h-50.5z"/>
<path fill="#00deff" d="M131.6 529h48v1.1h-48zM128.7 530h50.9v1.1h-50.9zM129 1063h51.6v1.1h-51.6zM131.8 1311h48.8v1.1h-48.8z"/>
<path fill="#00d7ff" d="M131.7 531h47.9v1.1h-47.9z"/>
<path fill="#00f3ea" d="M133.1 532h46.5v1.1h-46.5zM131.1 589h48.5v1.1h-48.5zM136.1 1313h44.5v1.1h-44.5z"/>
<path fill="#00ecfd" d="M124.7 533h54.9v1.1h-54.9zM131.2 737h48.4v1.1h-48.4z"/>
<path fill="#00eff4" d="M122.8 535h56.8v1.1h-56.8zM124.2 537h55.4v1.1h-55.4z"/>
<path fill="#00d9ff" d="M128.7 538h50.9v1.1h-50.9z"/>
<path fill="#00bbff" d="M132.2 539h47.4v1.1h-47.4zM129.3 986h51.3v1.1h-51.3zM129.4 990h51.2v1.1h-51.2zM131.9 1187h48.7v1.1h-48.7z"/>
<path fill="#00eff3" d="M127.3 541h52.3v1.1h-52.3z"/>
<path fill="#00b9ff" d="M125.9 543h53.7v1.1h-53.7zM129.6 1070h51v1.1h-51z"/>
<path fill="#00b8ff" d="M130.6 544h49v1.1h-49zM130.4 733h49.2v1.1h-49.2zM128.5 1060h52.1v1.1h-52.1z"/>
<path fill="#00ff86" d="M142.5 546h37.1v1.1h-37.1z"/>
<path fill="#00f6e1" d="M130.8 547h48.8v1.1h-48.8z"/>
<path fill="#00edfa" d="M127 548h52.6v1.1h-52.6zM124.7 583h54.9v1.1h-54.9z"/>
<path fill="#01ff80" d="M132.8 549h46.8v1.1h-46.8z"/>
<path fill="#00ffbc" d="M128.7 550h50.9v1.1h-50.9zM141.6 580h38v1.1h-38z"/>
<path fill="#00ffa9" d="M128.7 551h50.9v1.1h-50.9zM127 609h52.6v1.1h-52.6zM141.1 1024h39.5v1.1h-39.5z"/>
<path fill="#00fbd3" d="M131.3 552h48.3v1.1h-48.3z"/>
<path fill="#00ffc1" d="M141.2 553h38.4v1.1h-38.4zM126.9 594h52.7v1.1h-52.7z"/>
<path fill="#00ffa5" d="M132.5 554h47.1v1.1h-47.1z"/>
<path fill="#00ff8e" d="M129.8 557h49.8v1.1h-49.8zM132.2 756h47.4v1.1h-47.4z"/>
<path fill="#00f4e7" d="M130 558h49.6v1.1h-49.6z"/>
<path fill="#00ffab" d="M123 559h56.6v1.1h-56.6zM127.7 627h51.9v1.1h-51.9zM136.3 648h43.3v1.1h-43.3z"/>
<path fill="#08ff70" d="M137.6 561h42v1.1h-42z"/>
<path fill="#00ff88" d="M137 562h42.6v1.1h-42.6z"/>
<path fill="#00ffbf" d="M131.7 564h47.9v1.1h-47.9z"/>
<path fill="#00ffbb" d="M136.2 565h43.4v1.1h-43.4zM136.1 881h44.5v1.1h-44.5z"/>
<path fill="#00ffa3" d="M130.4 566h49.2v1.1h-49.2zM129.1 590h50.5v1.1h-50.5z"/>
<path fill="#00ff90" d="M130.5 567h49.1v1.1h-49.1zM134.9 1026h45.7v1.1h-45.7z"/>
<path fill="#03ff7c" d="M132.2 568h47.4v1.1h-47.4zM135 887h45.6v1.1h-45.6z"/>
<path fill="#00ff8d" d="M125.6 569h54v1.1h-54z"/>
<path fill="#00ffaf" d="M132.2 570h47.4v1.1h-47.4zM137.1 628h42.5v1.1h-42.5z"/>
<path fill="#11ff5b" d="M131.2 571h48.4v1.1h-48.4zM136.6 677h43v1.1h-43z"/>
<path fill="#07ff73" d="M141.7 572h37.9v1.1h-37.9zM132.2 643h47.4v1.1h-47.4z"/>
<path fill="#00f9d8" d="M125 574h54.6v1.1h-54.6z"/>
<path fill="#13ff58" d="M133 575h46.6v1.1h-46.6z"/>
<path fill="#06ff75" d="M129.5 576h50.1v1.1h-50.1z"/>
<path fill="#00ffb6" d="M128.2 579h51.4v1.1h-51.4z"/>
<path fill="#00ff9b" d="M123 581h56.6v1.1h-56.6zM139.7 621h39.9v1.1h-39.9zM132.2 651h47.4v1.1h-47.4zM140.3 740h39.3v1.1h-39.3z"/>
<path fill="#00ff9e" d="M126.3 585h53.3v1.1h-53.3z"/>
<path fill="#00eef7" d="M127.8 586h51.8v1.1h-51.8z"/>
<path fill="#00ffb0" d="M127.6 587h52v1.1h-52z"/>
<path fill="#00ebfe" d="M142.1 588h37.5v1.1h-37.5z"/>
<path fill="#00ffaa" d="M127.4 591h52.2v1.1h-52.2zM139.9 642h39.7v1.1h-39.7zM141.9 1007h38.7v1.1h-38.7z"/>
<path fill="#00fecb" d="M135.4 592h44.2v1.1h-44.2z"/>
<path fill="#00ffae" d="M128.6 593h51v1.1h-51z"/>
<path fill="#00ffa2" d="M129.8 595h49.8v1.1h-49.8z"/>
<path fill="#00ff99" d="M129.7 596h49.9v1.1h-49.9z"/>
<path fill="#00f4e6" d="M131.5 597h48.1v1.1h-48.1z"/>
<path fill="#00ffc8" d="M128.4 598h51.2v1.1h-51.2z"/>
<path fill="#00f8db" d="M140.2 599h39.4v1.1h-39.4zM134 603h45.6v1.1h-45.6z"/>
<path fill="#00f3e9" d="M129 600h50.6v1.1h-50.6z"/>
<path fill="#00fdcc" d="M133.4 601h46.2v1.1h-46.2z"/>
<path fill="#00ff84" d="M132.7 602h46.9v1.1h-46.9zM139.8 1294h40.8v1.1h-40.8z"/>
<path fill="#05ff77" d="M130 604h49.6v1.1h-49.6zM140.9 998h39.7v1.1h-39.7zM139.2 1008h41.4v1.1h-41.4zM129 1029h51.6v1.1h-51.6z"/>
<path fill="#1bff46" d="M130.1 606h49.5v1.1h-49.5zM129 1009h51.6v1.1h-51.6zM136.1 1038h44.5v1.1h-44.5z"/>
<path fill="#12ff5a" d="M131.4 607h48.2v1.1h-48.2z"/>
<path fill="#00ff9f" d="M136.2 608h43.4v1.1h-43.4z"/>
<path fill="#00ff96" d="M129.4 610h50.2v1.1h-50.2zM132.9 1036h47.7v1.1h-47.7z"/>
<path fill="#25ff2f" d="M132.4 612h47.2v1.1h-47.2z"/>
<path fill="#1fff3c" d="M131.6 613h48v1.1h-48zM130.5 624h49.1v1.1h-49.1z"/>
<path fill="#2aff27" d="M139.2 614h40.4v1.1h-40.4z"/>
<path fill="#0dff65" d="M141.6 616h38v1.1h-38zM136.8 1039h43.8v1.1h-43.8z"/>
<path fill="#10ff5d" d="M136.9 617h42.7v1.1h-42.7z"/>
<path fill="#16ff50" d="M135.5 618h44.1v1.1h-44.1zM136.8 1016h43.8v1.1h-43.8z"/>
<path fill="#00ff89" d="M135.4 619h44.2v1.1h-44.2z"/>
<path fill="#0aff6c" d="M134.7 620h44.9v1.1h-44.9z"/>
<path fill="#00ff87" d="M143.9 622h35.7v1.1h-35.7z"/>
<path fill="#21ff38" d="M128.6 623h51v1.1h-51z"/>
<path fill="#01ff7f" d="M128.1 625h51.5v1.1h-51.5z"/>
<path fill="#1bff45" d="M136.3 626h43.3v1.1h-43.3z"/>
<path fill="#0eff63" d="M142.4 629h37.2v1.1h-37.2zM129.5 895h51.1v1.1h-51.1z"/>
<path fill="#53ff18" d="M138.2 630h41.4v1.1h-41.4z"/>
<path fill="#00ff8b" d="M136.1 631h43.5v1.1h-43.5z"/>
<path fill="#00ffa7" d="M143.8 632h35.8v1.1h-35.8z"/>
<path fill="#0bff68" d="M134.8 633h44.8v1.1h-44.8z"/>
<path fill="#18ff4c" d="M131.9 634h47.7v1.1h-47.7z"/>
<path fill="#00ff9d" d="M136.6 635h43v1.1h-43z"/>
<path fill="#0fff60" d="M135.1 637h44.5v1.1h-44.5zM132 878h48.6v1.1h-48.6zM135.1 1005h45.5v1.1h-45.5z"/>
<path fill="#35ff23" d="M147.7 638h31.9v1.1h-31.9zM140.9 1012h39.7v1.1h-39.7zM144.5 1161h36.1v1.1h-36.1z"/>
<path fill="#00ff85" d="M126 639h53.6v1.1h-53.6z"/>
<path fill="#0cff67" d="M137.5 640h42.1v1.1h-42.1zM138 678h41.6v1.1h-41.6zM143.9 1279h36.7v1.1h-36.7z"/>
<path fill="#22ff35" d="M132.9 641h46.7v1.1h-46.7z"/>
<path fill="#17ff4e" d="M132.5 644h47.1v1.1h-47.1zM146.2 884h34.4v1.1h-34.4z"/>
<path fill="#00ff8f" d="M134.4 645h45.2v1.1h-45.2zM143.3 649h36.3v1.1h-36.3z"/>
<path fill="#14ff55" d="M135.8 646h43.8v1.1h-43.8zM137 893h43.6v1.1h-43.6z"/>
<path fill="#1cff43" d="M133.7 647h45.9v1.1h-45.9zM134.2 888h46.4v1.1h-46.4z"/>
<path fill="#00ffb9" d="M129 650h50.6v1.1h-50.6z"/>
<path fill="#27ff2a" d="M145.1 652h34.5v1.1h-34.5zM132 880h48.6v1.1h-48.6z"/>
<path fill="#8f00ff" d="M118.1 661h61.5v1.1h-61.5zM120.2 1122h60.4v1.1h-60.4z"/>
<path fill="#55ff18" d="M135.2 662h44.4v1.1h-44.4zM134.8 670h44.8v1.1h-44.8z"/>
<path fill="#05ff78" d="M150.5 663h29.1v1.1h-29.1z"/>
<path fill="#29ff27" d="M137.6 664h42v1.1h-42z"/>
<path fill="#13ff57" d="M134.6 665h45v1.1h-45zM139.1 1017h41.5v1.1h-41.5z"/>
<path fill="#1dff42" d="M134.6 666h45v1.1h-45z"/>
<path fill="#24ff32" d="M135.2 668h44.4v1.1h-44.4z"/>
<path fill="#1eff3e" d="M131.1 669h48.5v1.1h-48.5z"/>
<path fill="#8eff03" d="M139.5 671h40.1v1.1h-40.1z"/>
<path fill="#5eff15" d="M139.5 672h40.1v1.1h-40.1z"/>
<path fill="#46ff1d" d="M136.7 673h42.9v1.1h-42.9z"/>
<path fill="#34ff23" d="M139 674h40.6v1.1h-40.6z"/>
<path fill="#04ff79" d="M137.8 675h41.8v1.1h-41.8z"/>
<path fill="#47ff1d" d="M137.1 676h42.5v1.1h-42.5z"/>
<path fill="#3fff20" d="M139.9 680h39.7v1.1h-39.7z"/>
<path fill="#3fff1f" d="M149.9 681h29.7v1.1h-29.7z"/>
<path fill="#8bff04" d="M132.6 682h47v1.1h-47zM144.3 925h36.3v1.1h-36.3z"/>
<path fill="#a0ff00" d="M133.5 683h46.1v1.1h-46.1z"/>
<path fill="#19ff4a" d="M141.5 684h38.1v1.1h-38.1z"/>
<path fill="#1cff42" d="M136.3 686h43.3v1.1h-43.3z"/>
<path fill="#66ff11" d="M135.8 687h43.8v1.1h-43.8zM142.1 905h38.5v1.1h-38.5z"/>
<path fill="#7e00ff" d="M113.7 688h65.9v1.1h-65.9z"/>
<path fill="#6e00ff" d="M113.4 692h66.2v1.1h-66.2zM118.9 825h61.7v1.1h-61.7zM120.5 960h60.1v1.1h-60.1zM123.5 974h57.1v1.1h-57.1z"/>
<path fill="#b900fa" d="M116.6 694h63v1.1h-63z"/>
<path fill="#4909ff" d="M121 701h58.6v1.1h-58.6z"/>
<path fill="#6c00ff" d="M118.8 703h60.8v1.1h-60.8z"/>
<path fill="#4f07ff" d="M117.2 705h62.4v1.1h-62.4zM113.5 761h66.1v1.1h-66.1z"/>
<path fill="#4d08ff" d="M120.7 707h58.9v1.1h-58.9z"/>
<path fill="#5a03ff" d="M122.2 713h57.4v1.1h-57.4zM117.7 775h61.9v1.1h-61.9z"/>
<path fill="#035dff" d="M120.3 714h59.3v1.1h-59.3z"/>
<path fill="#400cff" d="M127.2 715h52.4v1.1h-52.4z"/>
<path fill="#006dff" d="M122.9 716h56.7v1.1h-56.7zM122.8 796h57.8v1.1h-57.8zM127.5 979h53.1v1.1h-53.1z"/>
<path fill="#3011ff" d="M119.1 717h60.5v1.1h-60.5zM118 769h61.6v1.1h-61.6zM117.8 953h62.8v1.1h-62.8z"/>
<path fill="#1932ff" d="M120.5 718h59.1v1.1h-59.1zM125.7 961h54.9v1.1h-54.9zM119.3 964h61.3v1.1h-61.3z"/>
<path fill="#1141ff" d="M122.3 719h57.3v1.1h-57.3z"/>
<path fill="#0073ff" d="M123 720h56.6v1.1h-56.6zM121.6 984h59v1.1h-59zM130.4 1042h50.2v1.1h-50.2z"/>
<path fill="#1c2cff" d="M121.6 721h58v1.1h-58z"/>
<path fill="#0082ff" d="M120.9 722h58.7v1.1h-58.7z"/>
<path fill="#1c2bff" d="M123.2 723h56.4v1.1h-56.4z"/>
<path fill="#00a1ff" d="M125.1 724h54.5v1.1h-54.5zM125.7 734h53.9v1.1h-53.9zM125.8 1047h54.8v1.1h-54.8z"/>
<path fill="#00a4ff" d="M122.5 725h57.1v1.1h-57.1zM124.2 1044h56.4v1.1h-56.4z"/>
<path fill="#035eff" d="M129.9 726h49.7v1.1h-49.7z"/>
<path fill="#0087ff" d="M126.4 727h53.2v1.1h-53.2z"/>
<path fill="#00b6ff" d="M126.8 728h52.8v1.1h-52.8zM125.8 1049h54.8v1.1h-54.8z"/>
<path fill="#00b3ff" d="M121.4 729h58.2v1.1h-58.2zM120.1 988h60.5v1.1h-60.5z"/>
<path fill="#007bff" d="M125.1 730h54.5v1.1h-54.5z"/>
<path fill="#00cfff" d="M125.4 731h54.2v1.1h-54.2zM132.5 1282h48.1v1.1h-48.1z"/>
<path fill="#00ccff" d="M122.7 732h56.9v1.1h-56.9zM128.1 992h52.5v1.1h-52.5z"/>
<path fill="#00b4ff" d="M118.2 735h61.4v1.1h-61.4z"/>
<path fill="#00a3ff" d="M133.2 736h46.4v1.1h-46.4z"/>
<path fill="#00fdce" d="M130.8 739h48.8v1.1h-48.8z"/>
<path fill="#0eff62" d="M146.6 741h33v1.1h-33zM140.9 897h39.7v1.1h-39.7zM137.9 1035h42.7v1.1h-42.7z"/>
<path fill="#1eff3f" d="M144.2 742h35.4v1.1h-35.4z"/>
<path fill="#4cff1b" d="M148 743h31.6v1.1h-31.6z"/>
<path fill="#86ff06" d="M139.2 745h40.4v1.1h-40.4zM136.6 1165h44v1.1h-44z"/>
<path fill="#b2ff00" d="M162.9 746h16.7v1.1h-16.7zM149.3 1152h31.3v1.1h-31.3z"/>
<path fill="#f3ff00" d="M148.1 747h31.5v1.1h-31.5zM164.3 1178h16.3v1.1h-16.3zM148.6 1320h32v1.1h-32z"/>
<path fill="#e2ff00" d="M147.8 748h31.8v1.1h-31.8z"/>
<path fill="#c4ff00" d="M146.7 749h32.9v1.1h-32.9zM156.3 1222h24.3v1.1h-24.3z"/>
<path fill="#aaff00" d="M151.7 750h27.9v1.1h-27.9zM142.5 1170h38.1v1.1h-38.1z"/>
<path fill="#59ff16" d="M143.5 751h36.1v1.1h-36.1z"/>
<path fill="#58ff17" d="M142.4 752h37.2v1.1h-37.2z"/>
<path fill="#08ff71" d="M143.6 753h36v1.1h-36z"/>
<path fill="#00ff92" d="M138.3 754h41.3v1.1h-41.3z"/>
<path fill="#0bff69" d="M130.3 755h49.3v1.1h-49.3z"/>
<path fill="#00c3ff" d="M127.8 759h51.8v1.1h-51.8z"/>
<path fill="#410cff" d="M113.4 762h66.2v1.1h-66.2z"/>
<path fill="#3b0eff" d="M122.2 763h57.4v1.1h-57.4zM120.6 779h59v1.1h-59z"/>
<path fill="#3f0cff" d="M117.1 764h62.5v1.1h-62.5z"/>
<path fill="#1735ff" d="M117.3 766h62.3v1.1h-62.3z"/>
<path fill="#2023ff" d="M116.1 771h63.5v1.1h-63.5z"/>
<path fill="#7700ff" d="M117.4 772h62.2v1.1h-62.2z"/>
<path fill="#6700ff" d="M118.4 773h61.2v1.1h-61.2zM116.8 1108h63.8v1.1h-63.8z"/>
<path fill="#440bff" d="M117.2 774h62.4v1.1h-62.4z"/>
<path fill="#2025ff" d="M113.5 776h66.1v1.1h-66.1zM120.6 976h60v1.1h-60z"/>
<path fill="#2024ff" d="M124.3 777h55.3v1.1h-55.3z"/>
<path fill="#2e12ff" d="M122.9 778h56.7v1.1h-56.7z"/>
<path fill="#008fff" d="M119.6 780h60v1.1h-60zM131.7 1068h48.9v1.1h-48.9zM125 1069h55.6v1.1h-55.6z"/>
<path fill="#0092ff" d="M122.3 781h57.3v1.1h-57.3zM122.3 801h58.3v1.1h-58.3z"/>
<path fill="#1a30ff" d="M118.8 782h60.8v1.1h-60.8z"/>
<path fill="#008aff" d="M123.3 783h56.3v1.1h-56.3zM122.9 987h57.7v1.1h-57.7z"/>
<path fill="#00abff" d="M123 784h56.6v1.1h-56.6z"/>
<path fill="#006bff" d="M117.4 785h62.2v1.1h-62.2z"/>
<path fill="#007dff" d="M121.5 786h59.1v1.1h-59.1z"/>
<path fill="#025fff" d="M119.4 787h61.2v1.1h-61.2z"/>
<path fill="#0953ff" d="M122.3 788h58.3v1.1h-58.3zM122.6 1072h58v1.1h-58z"/>
<path fill="#1b2fff" d="M121 789h59.6v1.1h-59.6z"/>
<path fill="#00b0ff" d="M126.3 790h54.3v1.1h-54.3z"/>
<path fill="#00b5ff" d="M126.8 791h53.8v1.1h-53.8zM122.5 793h58.1v1.1h-58.1zM125.1 797h55.5v1.1h-55.5zM124.6 1043h56v1.1h-56zM132.3 1189h48.3v1.1h-48.3z"/>
<path fill="#009dff" d="M128 792h52.6v1.1h-52.6z"/>
<path fill="#00c9ff" d="M122.3 794h58.3v1.1h-58.3z"/>
<path fill="#0066ff" d="M119.2 795h61.4v1.1h-61.4zM121.1 965h59.5v1.1h-59.5z"/>
<path fill="#0071ff" d="M122.2 798h58.4v1.1h-58.4z"/>
<path fill="#0b4dff" d="M126.7 799h53.9v1.1h-53.9z"/>
<path fill="#00c2ff" d="M129.1 800h51.5v1.1h-51.5z"/>
<path fill="#0096ff" d="M122.9 802h57.7v1.1h-57.7z"/>
<path fill="#0088ff" d="M122.5 803h58.1v1.1h-58.1zM122.2 806h58.4v1.1h-58.4zM131.9 1076h48.7v1.1h-48.7zM124 1286h56.6v1.1h-56.6z"/>
<path fill="#00a8ff" d="M125.3 804h55.3v1.1h-55.3z"/>
<path fill="#006fff" d="M124.1 805h56.5v1.1h-56.5z"/>
<path fill="#da00fb" d="M116.2 812h64.4v1.1h-64.4z"/>
<path fill="#9000ff" d="M121.6 815h59v1.1h-59zM121 830h59.6v1.1h-59.6zM116.4 842h64.2v1.1h-64.2zM119 1124h61.6v1.1h-61.6zM118.9 1144h61.7v1.1h-61.7z"/>
<path fill="#7600ff" d="M119.6 821h61v1.1h-61z"/>
<path fill="#7200ff" d="M116.4 833h64.2v1.1h-64.2z"/>
<path fill="#8100ff" d="M117.4 839h63.2v1.1h-63.2zM120.6 1092h60v1.1h-60z"/>
<path fill="#8e00ff" d="M114.9 857h65.7v1.1h-65.7zM117.8 1118h62.8v1.1h-62.8zM118.6 1121h62v1.1h-62z"/>
<path fill="#b300fb" d="M121.4 858h59.2v1.1h-59.2z"/>
<path fill="#9b00fe" d="M119.1 860h61.5v1.1h-61.5z"/>
<path fill="#af00fc" d="M117.6 861h63v1.1h-63z"/>
<path fill="#16ff51" d="M133.7 875h46.9v1.1h-46.9z"/>
<path fill="#00f7de" d="M133.4 876h47.2v1.1h-47.2z"/>
<path fill="#00ffbe" d="M139.2 879h41.4v1.1h-41.4z"/>
<path fill="#0eff61" d="M134.4 882h46.2v1.1h-46.2z"/>
<path fill="#02ff7d" d="M140.8 883h39.8v1.1h-39.8zM140.4 1000h40.2v1.1h-40.2zM136.7 1022h43.9v1.1h-43.9z"/>
<path fill="#00ff83" d="M131.6 885h49v1.1h-49z"/>
<path fill="#00fccf" d="M136.1 886h44.5v1.1h-44.5z"/>
<path fill="#10ff5e" d="M144.7 889h35.9v1.1h-35.9z"/>
<path fill="#1cff44" d="M140.5 890h40.1v1.1h-40.1z"/>
<path fill="#19ff4b" d="M129.5 891h51.1v1.1h-51.1z"/>
<path fill="#30ff25" d="M135.6 892h45v1.1h-45z"/>
<path fill="#42ff1f" d="M148.7 894h31.9v1.1h-31.9z"/>
<path fill="#61ff13" d="M135.1 896h45.5v1.1h-45.5z"/>
<path fill="#55ff17" d="M150 898h30.6v1.1h-30.6z"/>
<path fill="#00ffa1" d="M138.1 899h42.5v1.1h-42.5z"/>
<path fill="#e1ff00" d="M140.9 900h39.7v1.1h-39.7z"/>
<path fill="#84ff07" d="M135.1 901h45.5v1.1h-45.5z"/>
<path fill="#acff00" d="M147.6 902h33v1.1h-33z"/>
<path fill="#a8ff00" d="M151.1 903h29.5v1.1h-29.5z"/>
<path fill="#bbff00" d="M138 904h42.6v1.1h-42.6zM153.8 1133h26.8v1.1h-26.8z"/>
<path fill="#94ff01" d="M142.5 906h38.1v1.1h-38.1zM150.4 919h30.2v1.1h-30.2z"/>
<path fill="#9cff00" d="M156.5 908h24.1v1.1h-24.1zM133.7 931h46.9v1.1h-46.9zM143.8 1175h36.8v1.1h-36.8z"/>
<path fill="#48ff1c" d="M143 909h37.6v1.1h-37.6zM145.1 913h35.5v1.1h-35.5z"/>
<path fill="#a3ff00" d="M143.2 910h37.4v1.1h-37.4z"/>
<path fill="#bfff00" d="M143.1 911h37.5v1.1h-37.5zM152.3 1207h28.3v1.1h-28.3z"/>
<path fill="#a6ff00" d="M145.7 912h34.9v1.1h-34.9z"/>
<path fill="#3eff20" d="M143.6 914h37v1.1h-37z"/>
<path fill="#caff00" d="M140.7 915h39.9v1.1h-39.9z"/>
<path fill="#c6ff00" d="M142.6 918h38v1.1h-38zM140.2 920h40.4v1.1h-40.4z"/>
<path fill="#6fff0e" d="M147.4 921h33.2v1.1h-33.2z"/>
<path fill="#d2ff00" d="M148.5 923h32.1v1.1h-32.1zM162.6 1195h18v1.1h-18z"/>
<path fill="#b4ff00" d="M140.1 924h40.5v1.1h-40.5zM140.7 934h39.9v1.1h-39.9zM150.3 1299h30.3v1.1h-30.3z"/>
<path fill="#7bff0a" d="M148 926h32.6v1.1h-32.6z"/>
<path fill="#6dff0f" d="M150.5 927h30.1v1.1h-30.1z"/>
<path fill="#72ff0d" d="M148.4 928h32.2v1.1h-32.2zM137 1169h43.6v1.1h-43.6z"/>
<path fill="#dbff00" d="M139 929h41.6v1.1h-41.6z"/>
<path fill="#74ff0c" d="M142.6 930h38v1.1h-38z"/>
<path fill="#6aff10" d="M142.8 932h37.8v1.1h-37.8z"/>
<path fill="#69ff10" d="M165.9 933h14.7v1.1h-14.7z"/>
<path fill="#d1ff00" d="M146.1 935h34.5v1.1h-34.5z"/>
<path fill="#39ff22" d="M134.3 937h46.3v1.1h-46.3z"/>
<path fill="#96ff00" d="M143.5 938h37.1v1.1h-37.1zM157.7 1275h22.9v1.1h-22.9z"/>
<path fill="#e7ff00" d="M149.6 940h31v1.1h-31zM158.4 1252h22.2v1.1h-22.2zM132 1319h48.6v1.1h-48.6z"/>
<path fill="#83ff07" d="M148.5 942h32.1v1.1h-32.1z"/>
<path fill="#c3ff00" d="M151.2 943h29.4v1.1h-29.4z"/>
<path fill="#79ff0a" d="M140.4 944h40.2v1.1h-40.2z"/>
<path fill="#7aff0a" d="M148.2 945h32.4v1.1h-32.4zM155.2 946h25.4v1.1h-25.4z"/>
<path fill="#91ff02" d="M149.6 947h31v1.1h-31z"/>
<path fill="#bdff00" d="M152.4 949h28.2v1.1h-28.2zM152.9 1136h27.7v1.1h-27.7z"/>
<path fill="#cdff00" d="M144 950h36.6v1.1h-36.6zM153.6 1202h27v1.1h-27z"/>
<path fill="#3111ff" d="M118.1 954h62.5v1.1h-62.5zM119.5 955h61.1v1.1h-61.1z"/>
<path fill="#3410ff" d="M116 956h64.6v1.1h-64.6z"/>
<path fill="#3a0eff" d="M119.7 959h60.9v1.1h-60.9zM118 963h62.6v1.1h-62.6z"/>
<path fill="#6a00ff" d="M117.8 962h62.8v1.1h-62.8z"/>
<path fill="#6001ff" d="M115.9 967h64.7v1.1h-64.7z"/>
<path fill="#133eff" d="M121.8 969h58.8v1.1h-58.8z"/>
<path fill="#1a2fff" d="M121.5 970h59.1v1.1h-59.1z"/>
<path fill="#2815ff" d="M119.7 971h60.9v1.1h-60.9z"/>
<path fill="#4a09ff" d="M117.8 973h62.8v1.1h-62.8z"/>
<path fill="#1835ff" d="M128.3 978h52.3v1.1h-52.3z"/>
<path fill="#007cff" d="M119.2 980h61.4v1.1h-61.4z"/>
<path fill="#006aff" d="M118.8 981h61.8v1.1h-61.8z"/>
<path fill="#0658ff" d="M123.6 982h57v1.1h-57z"/>
<path fill="#009bff" d="M121.6 983h59v1.1h-59z"/>
<path fill="#0d49ff" d="M123.1 985h57.5v1.1h-57.5zM124.4 1077h56.2v1.1h-56.2z"/>
<path fill="#00cdff" d="M122.7 989h57.9v1.1h-57.9z"/>
<path fill="#0098ff" d="M132.8 993h47.8v1.1h-47.8z"/>
<path fill="#00c8ff" d="M126.7 994h53.9v1.1h-53.9zM122.8 1079h57.8v1.1h-57.8z"/>
<path fill="#00a2ff" d="M128.8 995h51.8v1.1h-51.8z"/>
<path fill="#00ffad" d="M140.3 996h40.3v1.1h-40.3z"/>
<path fill="#00ff8c" d="M141.5 997h39.1v1.1h-39.1z"/>
<path fill="#00ffa4" d="M140 999h40.6v1.1h-40.6z"/>
<path fill="#23ff34" d="M138.6 1002h42v1.1h-42z"/>
<path fill="#00ffac" d="M135 1003h45.6v1.1h-45.6z"/>
<path fill="#0cff68" d="M139.5 1004h41.1v1.1h-41.1z"/>
<path fill="#26ff2c" d="M134.2 1006h46.4v1.1h-46.4zM142.7 1019h37.9v1.1h-37.9z"/>
<path fill="#3cff21" d="M138.1 1010h42.5v1.1h-42.5z"/>
<path fill="#00ff81" d="M130.3 1011h50.3v1.1h-50.3z"/>
<path fill="#00ff91" d="M143.1 1013h37.5v1.1h-37.5zM137.1 1015h43.5v1.1h-43.5z"/>
<path fill="#2dff26" d="M138.5 1014h42.1v1.1h-42.1zM143.9 1277h36.7v1.1h-36.7z"/>
<path fill="#00ff94" d="M133 1018h47.6v1.1h-47.6zM140.1 1021h40.5v1.1h-40.5z"/>
<path fill="#0cff66" d="M130.4 1020h50.2v1.1h-50.2z"/>
<path fill="#15ff54" d="M145.3 1023h35.3v1.1h-35.3z"/>
<path fill="#00ffb8" d="M135.6 1025h45v1.1h-45z"/>
<path fill="#17ff4d" d="M135 1027h45.6v1.1h-45.6z"/>
<path fill="#18ff4b" d="M138.8 1028h41.8v1.1h-41.8z"/>
<path fill="#02ff7f" d="M135.9 1031h44.7v1.1h-44.7z"/>
<path fill="#00ff97" d="M141.6 1032h39v1.1h-39z"/>
<path fill="#1aff47" d="M136.6 1033h44v1.1h-44z"/>
<path fill="#11ff5c" d="M139.5 1034h41.1v1.1h-41.1z"/>
<path fill="#00ff8a" d="M137.4 1037h43.2v1.1h-43.2z"/>
<path fill="#00aeff" d="M126.9 1040h53.7v1.1h-53.7zM137.4 1052h43.2v1.1h-43.2z"/>
<path fill="#00bdff" d="M127.2 1041h53.4v1.1h-53.4zM125.9 1046h54.7v1.1h-54.7zM125 1054h55.6v1.1h-55.6z"/>
<path fill="#00b1ff" d="M123 1045h57.6v1.1h-57.6zM123.7 1078h56.9v1.1h-56.9z"/>
<path fill="#00e3ff" d="M126.4 1048h54.2v1.1h-54.2z"/>
<path fill="#00a0ff" d="M132 1051h48.6v1.1h-48.6z"/>
<path fill="#00ebff" d="M125.1 1053h55.5v1.1h-55.5z"/>
<path fill="#00dbff" d="M126.1 1055h54.5v1.1h-54.5z"/>
<path fill="#00b2ff" d="M123.9 1058h56.7v1.1h-56.7z"/>
<path fill="#00e7ff" d="M125 1059h55.6v1.1h-55.6z"/>
<path fill="#00a5ff" d="M123.1 1061h57.5v1.1h-57.5zM126.7 1064h53.9v1.1h-53.9z"/>
<path fill="#0084ff" d="M121.8 1062h58.8v1.1h-58.8z"/>
<path fill="#006cff" d="M119.6 1066h61v1.1h-61zM124.8 1287h55.8v1.1h-55.8z"/>
<path fill="#00d0ff" d="M125.2 1067h55.4v1.1h-55.4z"/>
<path fill="#00adff" d="M122.8 1071h57.8v1.1h-57.8zM120.7 1073h59.9v1.1h-59.9z"/>
<path fill="#00ceff" d="M129.9 1074h50.7v1.1h-50.7z"/>
<path fill="#0a51ff" d="M122.5 1075h58.1v1.1h-58.1z"/>
<path fill="#5f02ff" d="M119.8 1083h60.8v1.1h-60.8z"/>
<path fill="#6600ff" d="M119.4 1084h61.2v1.1h-61.2z"/>
<path fill="#6201ff" d="M115.8 1091h64.8v1.1h-64.8z"/>
<path fill="#b700fb" d="M119.2 1094h61.4v1.1h-61.4z"/>
<path fill="#dfff00" d="M152.6 1126h28v1.1h-28zM158.6 1156h22v1.1h-22zM153 1193h27.6v1.1h-27.6zM137 1204h43.6v1.1h-43.6zM156.2 1256h24.4v1.1h-24.4zM154.4 1324h26.2v1.1h-26.2z"/>
<path fill="#fafc00" d="M154.3 1127h26.3v1.1h-26.3zM154 1158h26.6v1.1h-26.6zM153.1 1219h27.5v1.1h-27.5zM156.2 1226h24.4v1.1h-24.4zM161.3 1325h19.3v1.1h-19.3z"/>
<path fill="#beff00" d="M154.6 1130h26v1.1h-26zM168.9 1153h11.7v1.1h-11.7z"/>
<path fill="#e4ff00" d="M158.9 1131h21.7v1.1h-21.7zM163.2 1247h17.4v1.1h-17.4zM155.7 1318h24.9v1.1h-24.9z"/>
<path fill="#e6ff00" d="M154.4 1132h26.2v1.1h-26.2z"/>
<path fill="#cbff00" d="M157.7 1135h22.9v1.1h-22.9zM157 1209h23.6v1.1h-23.6z"/>
<path fill="#e5ff00" d="M151.2 1137h29.4v1.1h-29.4zM153.5 1151h27.1v1.1h-27.1z"/>
<path fill="#c5ff00" d="M157.2 1138h23.4v1.1h-23.4zM163.4 1212h17.2v1.1h-17.2z"/>
<path fill="#eeff00" d="M164 1139h16.6v1.1h-16.6zM154.7 1223h25.9v1.1h-25.9zM155.1 1259h25.5v1.1h-25.5z"/>
<path fill="#fafe00" d="M154.7 1149h25.9v1.1h-25.9zM159.3 1336h21.3v1.1h-21.3zM162.2 1339h18.4v1.1h-18.4z"/>
<path fill="#ccff00" d="M155.7 1150h24.9v1.1h-24.9zM158.9 1213h21.7v1.1h-21.7zM157.3 1322h23.3v1.1h-23.3zM157.3 1340h23.3v1.1h-23.3z"/>
<path fill="#c1ff00" d="M158.3 1155h22.3v1.1h-22.3zM156.8 1183h23.8v1.1h-23.8z"/>
<path fill="#d8ff00" d="M153.3 1157h27.3v1.1h-27.3z"/>
<path fill="#5cff15" d="M144.2 1163h36.4v1.1h-36.4z"/>
<path fill="#3bff21" d="M133.9 1164h46.7v1.1h-46.7z"/>
<path fill="#a2ff00" d="M141.2 1166h39.4v1.1h-39.4z"/>
<path fill="#abff00" d="M145.7 1168h34.9v1.1h-34.9z"/>
<path fill="#93ff01" d="M143.6 1172h37v1.1h-37z"/>
<path fill="#79ff0b" d="M158.6 1173h22v1.1h-22z"/>
<path fill="#63ff12" d="M142 1174h38.6v1.1h-38.6z"/>
<path fill="#ddff00" d="M156.5 1176h24.1v1.1h-24.1zM156.2 1307h24.4v1.1h-24.4z"/>
<path fill="#faff00" d="M159.9 1177h20.7v1.1h-20.7zM156.2 1197h24.4v1.1h-24.4z"/>
<path fill="#b0ff00" d="M155 1179h25.6v1.1h-25.6z"/>
<path fill="#f9ff00" d="M155.4 1180h25.2v1.1h-25.2zM152.4 1302h28.2v1.1h-28.2zM157.8 1334h22.8v1.1h-22.8z"/>
<path fill="#c0ff00" d="M153.7 1181h26.9v1.1h-26.9zM151.4 1208h29.2v1.1h-29.2z"/>
<path fill="#c7ff00" d="M158.5 1182h22.1v1.1h-22.1z"/>
<path fill="#00a9ff" d="M131.9 1185h48.7v1.1h-48.7z"/>
<path fill="#00baff" d="M132.3 1186h48.3v1.1h-48.3z"/>
<path fill="#00aaff" d="M131.9 1188h48.7v1.1h-48.7z"/>
<path fill="#f0ff00" d="M150.5 1190h30.1v1.1h-30.1z"/>
<path fill="#feea00" d="M162.6 1191h18v1.1h-18zM156.9 1234h23.7v1.1h-23.7z"/>
<path fill="#fdef00" d="M158.7 1200h21.9v1.1h-21.9zM139 1239h41.6v1.1h-41.6zM159.9 1323h20.7v1.1h-20.7zM156.1 1337h24.5v1.1h-24.5z"/>
<path fill="#deff00" d="M154.8 1201h25.8v1.1h-25.8zM156.3 1214h24.3v1.1h-24.3zM148.7 1298h31.9v1.1h-31.9z"/>
<path fill="#d6ff00" d="M154.2 1210h26.4v1.1h-26.4z"/>
<path fill="#ebff00" d="M159.5 1215h21.1v1.1h-21.1zM153.8 1266h26.8v1.1h-26.8zM154 1341h26.6v1.1h-26.6z"/>
<path fill="#ceff00" d="M156.7 1216h23.9v1.1h-23.9z"/>
<path fill="#e8ff00" d="M158.1 1217h22.5v1.1h-22.5z"/>
<path fill="#cfff00" d="M161.7 1218h18.9v1.1h-18.9z"/>
<path fill="#f1ff00" d="M148.4 1220h32.2v1.1h-32.2z"/>
<path fill="#fcf500" d="M169 1225h11.6v1.1h-11.6zM155.1 1254h25.5v1.1h-25.5zM157.1 1257h23.5v1.1h-23.5zM152.8 1262h27.8v1.1h-27.8z"/>
<path fill="#edff00" d="M156.9 1231h23.7v1.1h-23.7z"/>
<path fill="#ecff00" d="M156.8 1238h23.8v1.1h-23.8z"/>
<path fill="#efff00" d="M155.9 1240h24.7v1.1h-24.7zM157.7 1321h22.9v1.1h-22.9z"/>
<path fill="#fcf000" d="M150.8 1242h29.8v1.1h-29.8zM159.6 1243h21v1.1h-21zM155.9 1328h24.7v1.1h-24.7z"/>
<path fill="#fee800" d="M158.6 1244h22v1.1h-22zM150.3 1270h30.3v1.1h-30.3z"/>
<path fill="#e0ff00" d="M154.4 1251h26.2v1.1h-26.2z"/>
<path fill="#d0ff00" d="M163.9 1261h16.7v1.1h-16.7z"/>
<path fill="#d3ff00" d="M160.9 1264h19.7v1.1h-19.7z"/>
<path fill="#fdea00" d="M161.2 1267h19.4v1.1h-19.4z"/>
<path fill="#1fff3d" d="M140.3 1278h40.3v1.1h-40.3z"/>
<path fill="#00afff" d="M128.1 1283h52.5v1.1h-52.5z"/>
<path fill="#007fff" d="M128 1284h52.6v1.1h-52.6z"/>
<path fill="#133fff" d="M123.7 1285h56.9v1.1h-56.9z"/>
<path fill="#00a6ff" d="M127.9 1288h52.7v1.1h-52.7z"/>
<path fill="#00cbff" d="M131.5 1289h49.1v1.1h-49.1z"/>
<path fill="#00fec9" d="M130.6 1291h50v1.1h-50z"/>
<path fill="#00ffc3" d="M139.8 1293h40.8v1.1h-40.8z"/>
<path fill="#afff00" d="M153.3 1295h27.3v1.1h-27.3z"/>
<path fill="#bcff00" d="M154.1 1296h26.5v1.1h-26.5z"/>
<path fill="#a9ff00" d="M152.2 1297h28.4v1.1h-28.4z"/>
<path fill="#b8ff00" d="M154.7 1300h25.9v1.1h-25.9zM153 1316h27.6v1.1h-27.6z"/>
<path fill="#b9ff00" d="M152.7 1301h27.9v1.1h-27.9z"/>
<path fill="#baff00" d="M156.4 1303h24.2v1.1h-24.2z"/>
<path fill="#c9ff00" d="M149.1 1304h31.5v1.1h-31.5zM152.2 1306h28.4v1.1h-28.4z"/>
<path fill="#dcff00" d="M162 1308h18.6v1.1h-18.6z"/>
<path fill="#00edf8" d="M135.4 1312h45.2v1.1h-45.2z"/>
<path fill="#f5ff00" d="M157.3 1326h23.3v1.1h-23.3z"/>
<path fill="#fbf600" d="M157.4 1333h23.2v1.1h-23.2z"/>
</g>
<path d="M116.5 111l.2.2-.2.2 .3.3 .3.2-.8.2-.7.2 .9.2-.4.3-.3.2 1.1.2 0 .2 .6.2-.1.3 .1.2-.7.2 .3.2 .6.2-.1.3 .3.2 .1.2-.9.2 .4.2 .1.3-.5.2-.8.2 .7.2 0 .2 .4.3 .6.2 .2.2 .5.2-.6.2 .3.3-.3.2 .5.2 .4.2-1.1.2-.9.3-.5.2 .9.2-.2.2 .2.2-.4.3 0 .2-.2.2-.2.2 .2.2 .2.3 .7.2 .2.2 .6.2 .3.2 .5.3-.2.2-1 .2 .4.2 .5.2 .3.3-.3.2 0 .2-.9.2 .3.2-.1.3-.7.2-.9.2 .7.2 .8.2-1 .3 .5.2-.3.2-.7.2-.3.2 .6.3 .7.2-1 .2 .3.2-.8.2 .5.3-.2.2 .8.2 .8.2-.2.2 .7.3-.7.2-.9.2 .2.2-.9.2-.4.3 .1.2 .4.2-.5.2-.6.2 1 .3-.2.2 1 .2 .7.2-.4.2-.1.3-.1.2 .2.2 .1.2 0 .2 .1.3 .7.2-.3.2-.3.2 .3.2-.7.3-.4.2 .9.2-.2.2 0 .2-1 .3-.1.2 .3.2-.8.2 .4.2 .3.3-.7.2 .4.2 .1.2 .4.2-.2.3 .4.2 .4.2-.9.2-.7.2 .5.3 .9.2-.5.2 0 .2 .2.2-.3.3-.2.2-.2.2-.1.2 .3.2-.2.3-.1.2 .6.2-.8.2 .4.2 .5.3-.3.2-.4.2 .7.2-.5.2-.4.3 .1.2 .5.2-.6.2-.1.2-.1.3 .8.2 0 .2 .7.2-.6.2-.3.3 .4.2 .7.2-.2.2-.5.2-.6.3-.1.2-.4.2 0 .2-2.8.2 4.9.3 1.2.2-2.5.2-.4.2-2 .2 1.4.3 1.4.2-1.3.2 5.3.2-6.2.2-1.7.3 5.3.2 1.3.2 5.4.2-4.9.2-2 .3-3 .2-1.5.2-.4.2 3.4.2 1.2.3-4.5.2 1 .2 .3.2 .6.2-2 .3 1.1.2 12.7.2-5.2.2-6.7.2 .8.3-3 .2 6.4.2-1.5.2 1.4.2-3.6.3 3.7.2-4.8.2 .2.2-1.5.2 5.4.3 .5.2-4.5.2-.6.2-.3.2 10.3.3-3.6.2-7.5.2 6.8.2-3.3.2 3.6.3-1.8.2-.3.2-2.8.2 5.2.2-1.2.3-3.3.2-2.4.2 6.7.2-2.2.2 .7.3-5.5.2 1.4.2 2.6.2-4.1.2 1.3.3 3.6.2-3.3.2 11.4.2-2.9.2-8 .3 3.6.2 .8.2-3.5.2-.2.2-.4.3 .8.2 3 .2-2.1.2-3.8.2 .1.3 .8.2 13.8.2-4.6.2-8.8.2-1.2.3 1.1.2 3.6.2 .4.2 1.1.2-.6.3-1.4.2-.3.2 2.3.2-5 .2 3 .3 1.8.2-2.4.2 2.4.2-5.7.2 11.3.3-3.1.2-7.8.2-.3.2 4.1.2 1.5.3-6.6.2 2.1.2 1.6.2-1.4.2 4 .3 2.3.2-6.8.2 9.4.2-3.6.2-3.2.3-3.5.2 6.2.2-3.3.2 2.3.2-3.5.3 4.2.2-6.2.2 9.6.2-.3.2 .5.3 .4.2-.5.2-.3.2 .4.2 .2.3 .3.2-.4.2-.6.2-.3.2 .5.3-.4.2-.2.2 0 .2-.1.2-.1.3 .6.2-.5.2-.7.2 .8.2 .4.3 .6.2-.4.2 .4.2 .3.2-.7.3 .1.2 .2.2-.1.2-.2.2-.5.3-.4.2-.5.2-.5.2 .2.2-.3.3 .5.2-.6.2 .6.2 .2.2 .5.3 .3.2 .3.2-.3.2-.9.2 .2.3-.6.2-.3.2 .2.2-.1.2-.1.3 .5.2 0 .2-.4.2-.4.2 .4.3-.1.2 .3.2-.4.2-.5.2 0 .3 .4.2-.6.2 .4.2 .5.2 .2.3 .1.2-.9.2 .1.2 .3.2-.7.3-.4.2-.2.2 .1.2-.1.2 0 .3 .4.2-.6.2-.5.2-.3.2-.2.3-.3.2 .9.2 .6.2-.5.2 .1.3-.1.2-.2.2 0 .2 .3.2 .2.3-.2.2-.3.2-.1.2-.4.2 .3.3 .4.2-.1.2-.5.2-.2.2 0 .3 .3.2 .5.2-.1.2 .4.2 .1.3-.2.2-.2.2 0 .2 .2.2-.1.3 .2.2-.2.2-.3.2 0 .2 .2.3-.5.2-.1.2 0 .2 .5.2 .5.3-.3.2 .4.2 .2.2-.6.2-.1.3-.6.2 .4.2 .1.2 .4.2 .2.3 0 .2 0 .2-.1.2-.7.2 0 .3-.7.2-.4.2 .5.2-.6.2-.4.3-.2.2 .7.2-.3.2-.5.2 .7.3-.4.2 .6.2 .3.2 .4.2 .4.3 0 .2 .1.2-.8.2 .3.2-.1.3 .2.2-.7.2 .3.2 .5.2-.8.3-.2.2 .1.2 .3.2-.4.2-.4.3-.2.2-.1.2 .4.2-.1.2-.2.3 0 .2-.1.2-.1.2-.4.2 .2.3 .7.2-.1.2 .3.2-.4.2 .3.3 .3.2 .1.2-.1.2-.1.2 .2.3 .4.2-.6.2-.6.2 .4.2 .5.3-.1.2-.2.2 .3.2-.5.2-.3.3-.3.2 .2.2-.2.2-.2.2 .4.3 .6.2-.3.2 .3.2-.2.2 .5.3 0 .2-.4.2-.4.2-.5.2 .1.3 0 .2-.3.2 0 .2 0 .2 .5.3-.3.2 .8.2-.1.2 .2.2-.1.3 .4.2 .3.2 0 .2-.2.2 .2.3 .3.2-.3.2 .1.2 .4.2-.3.3-.5.2-.4.2 .3.2 .1.2 .5.3 .3.2-.6.2-.5.2-.3.2-.3.3 .3.2 .5.2 .4.2-.4.2 .4.3-.4.2-.1.2 .2.2-.6.2-.4.3 .5.2-.2.2-.1.2 .2.2 .2.3-.6.2 0 .2 0 .2 .1.2-.2.3 .2.2 .7.2-.2.2 .1.2-.5.3-.2.2 .4.2-.5.2 .7.2 .5.3-.6.2 .6.2-.3.2 .3.2 .3.3-.4.2 .1.2 .1.2 .3.2-.5.3 .3.2 .4.2 0 .2-.1.2-.7.3 0 .2-.3.2 .3.2 .2.2 0 .3-.5.2 .2.2 .2.2-.5.2 .5.3 .2.2-.6.2 .6.2-.6.2-.2.3 .4.2 .1.2 0 .2 .2.2-.2.3-.2.2-.4.2-.5.2 .5.2 .4.3 0 .2 .3.2-.2.2-.3.2-.1.3 .5.2-.6.2 .1.2-.2.2 .4.3-.1.2-.2.2 0 .2 .1.2 .4.3-.2.2 .5.2-.6.2-.2.2-.4.3-.3.2 .6.2 .4.2-.4.2-.3.3 .1.2 .5.2 .4.2 .3.2 0 .3-.5.2-.1.2-.4.2 .2.2 .2.3-.4.2-.2.2 .5.2-.5.2 .5.3 .6.2 .5.2-.3.2-.1.2 .1.3 0 .2 .5.2 0 .2-.4.2 .3.3-.2.2 1 .2 .2.2-.8.2 .4.3 .2.2-.1.2 0 .2-.1.2-.4.3 .1.2-.5.2 .2.2 .3.2 0 .3 .2.2 .6.2 .4.2-.6.2 .4.3 .1.2-.7.2-.1.2-.3.2-.3.3 .2.2 .7.2-.1.2 .5.2 .2.3-.5.2 .5.2 .1.2 .5.2 .1.3 .1.2-.3.2 .2.2 .4.2 .3.3-.4.2 .2.2-.3.2-.6.2-.6.3-.4.2-.2.2-.1.2 .2.2 .5.3 .2.2 0 .2 .3.2-.2.2 .1.3 .4.2-.1.2-.3.2 .6.2 .3.3-.2.2-.2.2 .1.2 .2.2-.4.3-.5.2-.2.2 .6.2-.3.2 .1.3-.2.2-.1.2-.1.2 .1.2-.1.3-.3.2-.1.2 0 .2 .4.2-.2.3-.2.2 .3.2 .3.2 .5.2-.3.3 .2.2 .1.2-.4.2 .9.2-.2.3-.3.2 .3.2-.2.2 .4.2 0 .3-.3.2-.3.2 .6.2 0 .2 .5.3 .1.2 .7.2-.3.2-3.2.2-.1.3 .3.2 .2.2-.2.2-.3.2 .2.3 .5.2 0 .2-.5.2-.4.2-.2.3-.1.2-.3.2-.1.2 .4.2 .5.3-.2.2 .6.2-.1.2 .3.2 50.2.3-1 .2-6.8.2 1.1.2 2.4.2-3.4.3 6.7.2 .3.2 1.1.2-7 .2-1.9.3-1.7.2 4.1.2 2.2.2-.6.2-2.8.3 13.5.2-5.8.2-7.8.2-2.1.2 7.4.3-5 .2 12.6.2-2.5.2-8.6.2 1.4.3-15.2.2 7.8.2 4.3.2-2.5.2 9.5.3-4.1.2 8.7.2-1 .2-1.3.2 3.3.3-3.9.2-9.6.2-.8.2 8.5.2 1.6.3-2.1.2 5.9.2-3.3.2-1.9.2-3 .3 .6.2-1.2.2-.4.2 .1.2 .8.3-.9.2-.4.2 .7.2-.8.2-50.9.3-.1.2 .1.2 .2.2-.1.2 .1.3 .1.2 .1.2-.1.2 .2.2-.2.3 0 .2-.2.2 8.9.2 .1.2-.3.3-.3.2 .8.2 .5.2 .6.2-.1.3 .2.2-.3.2 .7.2-.6.2 .4.3 .8.2 .6.2-.5.2 6.8.2 .8.3 .3.2 .6.2 .5.2-.4.2 .6.3 .1.2-.6.2-.5.2-.8.2-.1.3 .9.2-.8.2 .2.2-.7.2-.6.3 .6.2 16.3.2-.2.2 9.1.2 1.1.3-4.1.2-1.5.2 5.5.2-12.1.2-1.6.3 7.7.2-3.7.2 .6.2-4.2.2 2.4.3 12.1.2 1.6.2-1.2.2 1.3.2-.4.3 .8.2-13.7.2 1.6.2-1.1.2 5.5.3-.4.2 9.4.2-12 .2 11 .2-10.2.3 5 .2-6.3.2 14.8.2-16.6.2 9.2.3-8.7.2 7.9.2-1 .2 4.4.2-10.7.3 22.1.2-9.4.2 7.3.2-2 .2-2.8.3 8.8.2-5.7.2-4.9.2-2.3.2 1.7.3-.4.2 8.1.2-.3.2 7.9.2-6.1.3-7.5.2-4.8.2-21.5.2 11.5.2 17.8.3-6.7.2 .1.2 6.7.2 3.2.2-3.2.3-8.5.2-3.8.2 15.6.2-9.7.2 10 .3 3.8.2-8 .2 7 .2-4.6.2 3.1.3-2.2.2 1.8.2-12.1.2 3.2.2 2 .3-10.4.2 14.5.2-10.8.2 15.6.2-13.7.3 9.8.2-9.8.2 10.5.2 1.1.2-37.8.3 16.4.2 10.5.2 13.1.2-8.2.2 3.9.3-4.7.2 4.5.2-10.3.2 13.1.2 2.3.3-15.5.2 12.3.2-13.7.2 .3.2 15.8.3-13.7.2 12.9.2-13 .2-.9.2 2.8.3 2.9.2 4.7.2-4.2.2 3.6.2 1 .3-4.6.2 8.7.2-11.8.2 .1.2 6.8.3 1.3.2-2.6.2 4.4.2-13.5.2 1.6.3 7.6.2-8.1.2-1.5.2 8.1.2 5.6.3-7.5.2 5.3.2-.8.2-6 .2-4.2.3 12.6.2-11.6.2 7.6.2-7.8.2 7 .3-20.2.2 0 .2 6 .2 5.7.2-13.1.3 12.6.2-5.6.2 10.7.2-17.6.2 12.4.3-1.1.2-12.2.2 14.6.2-11 .2 1.2.3-5.9.2 2.1.2 .4.2 6.3.2-8.5.3 14.8.2-8.9.2 5.5.2 3.8.2-10.1.3 8.6.2-7.7.2-6.1.2 12.5.2-8.6.3-2.9.2 4.3.2 2.1.2-2.2.2 9.1.3-.7.2-10.5.2 11 .2-12.6.2-5.7.3 8.8.2 10.2.2-6.1.2 5.4.2 .5.3-11.7.2 13.9.2-11.6.2 8.4.2-4 .3-27.5.2-.4.2-.2.2 .2.2 .1.3-.4.2-.2.2 .5.2-.3.2 .1.3-.1.2 .8.2 .1.2 .3.2-.1.3-.5.2-.5.2-.5.2 .6.2-.5.3-.5.2 .9.2-.4.2 .6.2-.5.3 0 .2-.3.2 .5.2 .2.2 .2.3 .2.2 .4.2-.4.2 0 .2-.3.3-.6.2 .5.2 0 .2 .3.2-.5.3 0 .2-.2.2 .3.2-.7.2-.2.3 .1.2-.6.2 .2.2 .4.2-.1.3 .2.2 .1.2-.4.2-.2.2-4.3.3-.3.2-.2.2-.5.2-.3.2-.3.3 .6.2 .3.2 .3.2 .4.2-.1.3 .3.2-.3.2-.3.2 .3.2 .2.3 .1.2-.3.2 0 .2-.5.2 .3.3 .2.2-.6.2 .2.2-.7.2-.6.3 .2.2-.4.2 0 .2 0 .2-.6.3 .3.2 .5.2 0 .2-.1.2 .4.3 .3.2-.3.2-.5.2-.1.2 0 .3-.4.2-.2.2 .6.2 .4.2 .6.3 .5.2 .3.2-.4.2-.5.2-.3.3 0 .2 0 .2 .1.2-.2.2 .5.3-.3.2-.1.2 .5.2 .3.2-.3.3-.4.2 .4.2-.7.2-.4.2 .2.3 .2.2-.4.2-.4.2-.1.2 .6.3 .1.2 .7.2 .3.2 .5.2-.7.3-.4.2-.6.2 .1.2-.1.2-.4.3 .3.2-.3.2 0 .2 0 .2 .6.3 0 .2-.1.2-.4.2 .1.2 .4.3 .3.2 .6.2 .3.2-.4.2-.4.3 .3.2 .4.2-.1.2 .4.2-.1.3-.4.2-.4.2-.6.2 .4.2 .5.3 .5.2-.1.2 .1.2 .4.2 .2.3-.1.2-.3.2-.1.2-.5.2-.5.3 .3.2 .7.2-.1.2-.2.2-.2.3-.1.2 .4.2 1.1.2 .6.2-.6.3-.3.2 .1.2-.1.2 .5.2 .3.3 .4.2 0 .2-.8.2 .1.2 0 .3-.1.2-.3.2 .3.2 .5.2-.6.3 .2.2-.2.2 0 .2 .5.2 .5.3 0 .2-.6.2 .5.2-.6.2-.2.3 .4.2-.3.2-.3.2 .6.2 .5.3-.4.2-.2.2-.3.2-.5.2-.2.3 .8.2-.5.2-.2.2-.3.2-.3.3 .3.2 .5.2 .6.2 .1.2 .4.3-.7.2-.2.2 .6.2-.5.2-.3.3 .1.2-.1.2 .2.2-.5.2-.1.3 .8.2-.4.2 .6.2-.3.2 .7.3 .1.2 .1.2-.5.2-.5.2 .4.3-.4.2-.2.2 .5.2 .6.2-.6.3 .6.2 0 .2-.2.2-.5.2 0 .3 .7.2-.3.2-.5.2-.3.2-.3.3 .1.2 .7.2-.4.2-.2.2 .8.3 .6.2 .6.2-.5.2-.3.2 .6.3-.2.2 .2.2-.4.2-.6.2-.1.3 .4.2 .3.2 .1.2-.1.2 0 .3-.1.2 22.9.2 6.5.2 7 .2 1.8.3-9.7.2-.3.2 6.5.2 .1.2-5.9.3 6.9.2-8.9.2 6.1.2 1.1.2 2.9.3-.5.2-2.8.2 9.2.2-6.2.2-2.6.3 2.1.2 2 .2 .9.2 1.6.2-10.8.3 3.9.2 4.9.2-7.7.2-2.1.2 7.6.3-5.8.2 4 .2 5.1.2-2.6.2-4.9.3-2.6.2 6.7.2-6 .2 2.4.2 8 .3-5.7.2 7.8.2-2.8.2-4.1.2-2.9.3 2.2.2-4 .2 11.2.2-8.5.2 2.9.3-1.6.2-4 .2 .3.2 11.3.2-5.7.3-1.3.2-6.3.2 .5.2-.6.2 .1.3 .7.2 .5.2-.9.2 .7.2 .4.3-31.4.2-1 .2 1.6.2 2.7.2-4.7.3 3.2.2-3.4.2 1.9.2-.6.2 3.4.3-1.1.2-2 .2 2.8.2-1.8.2-1.4.3 1.8.2-.9.2 1.6.2-.2.2-2 .3 .6.2-.5.2-1.2.2 2.6.2-1.8.3-.6.2 4.2.2-1.6.2-1.2.2-.4.3-.8.2 0 .2-.3.2 .3.2 2 .3-.8.2 .1.2 .9.2-1.6.2 3.2.3-1.1.2-.3.2-.2.2 .3.2-.8.3 2.3.2-5.3.2 2.5.2-1.6.2 3.5.3 16.3.2-.5.2 2 .2 5.1.2-1 .3-2.5.2 4 .2-6.4.2-2.7.2-.5.3-.6.2-1.4.2 9.6.2 1.1.2 1.5.3-8.3.2 2.1.2 4.7.2 .7.2-2.4.3 .9.2-7.4.2 1.7.2 17.2.2-4.2.3 4.5.2 4 .2-7.5.2 4.2.2-2.8.3 1.4.2 2.2.2-2.9.2 4.1.2-3 .3-2.6.2-.2.2 1.3.2-1.3.2 .8.3 .2.2-30 .2-6.6.2-1 .2 3.2.3-3.3.2 5.2.2 3.7.2-2.3.2-7.5.3 .5.2 2.1.2-.9.2 2.9.2 2 .3 .8.2-8.3.2 7.2.2-8.3.2 5.4.3 3.9.2-4.2.2-1.1.2 4.6.2-1.8.3-4 .2 3.2.2-.3.2 5.1.2-6.6.3 6.9.2-8.2.2 .7.2 7.1.2-5.4.3 2.2.2-3.9.2 7.4.2-4.1.2 1.1.3-2.5.2 1.7.2-5.2.2 5.2.2-5.4.3 7.8.2 1.3.2-9.5.2 2.6.2 6.4.3-3.9.2 3.3.2-.6.2 .9.2-2.1.3 1.3.2 .2.2-2.3.2-3.7.2-1.1.3 8.8.2-5.5.2 4.9.2-7.6.2 6.9.3-3.6.2-1.1.2 2.7.2-4.4.2 0 .3 4.9.2 2.9.2-5.9.2-1.9.2 6.2.3-2.9.2 1.8.2-3.8.2 5.2.2 .7.3-3.5.2-1.7.2 13.2.2-5.4.2-10.4.3 2.6.2 4 .2-6.9.2 2.4.2 2.8.3 4.5.2-6.3.2-1.4.2 6 .2-5.7.3 3.2.2-2.2.2-2.2.2 1.1.2 3.4.3-.9.2-3.6.2 4.8.2-7 .2 9.8.3-5 .2 2.3.2-6 .2-.3.2 6.3.3-6.7.2 4.7.2-5.8.2 9.6.2-3.3.3-2.2.2 3.9.2-6.1.2-.4.2 5.5.3-2.7.2-2.8.2 3.5.2 6 .2-2.2.3-1.6.2-2.9.2 17.6.2-6.9.2-9.6.3-4.1.2 3.5.2 0 .2 4.5.2 0 .3-5.4.2 2 .2-.7.2-3.9.2 6.5.3-4 .2-2.5.2 2.2.2 4.6.2-.3.3-1.9.2-4.9.2 5.1.2-1.4.2 6.3.3-6.1.2 0 .2-.7.2-1.9.2 4 .3-2.2.2 5.6.2-3.5.2 3.1.2-4.1.3 4.6.2-5.1.2 3.2.2-4.9.2 1.3.3 .4.2-.3.2 5.7.2-6.9.2 3.2.3 1.8.2-3.6.2 5 .2 10.3.2-9.2.3-9.8.2 4.8.2 3.6.2-7.8.2 1.2.3-.7.2 7.1.2-4.9.2-.7.2-.2.3 2.5.2-2.6.2 .2.2 2 .2 3.2.3-2.9.2 1.1.2-3.7.2 .4.2 1.4.3 4.5.2-5.5.2-3.5.2 1.2.2 4.6.3-3.2.2 4.1.2-.9.2 2.6.2-7.1.3 4.1.2-2.7.2 2.6.2 .7.2-3.9.3 5.2.2 4.1.2-.2.2-4.9.2 .2.3-1.4.2-3.7.2-2.8.2 8.1.2 .6.3-6.3.2 8.4.2-5.9.2-.7.2 .8.3-.9.2-.8.2 5.9.2-1.2.2-3.7.3-.2.2 4.5.2-1.7.2-2.9.2 6.8.3-.7.2-7.1.2 1.9.2-.5.2 1.7.3 .2.2 3.9.2-.5.2-5.6.2 24.4.3-8 .2 9.6.2-6.3.2 7.8.2-8.2.3-2.3.2 4.8.2-.2.2-4.2.2 7.4.3-8.3.2 1.8.2 2.1.2 .3.2 10 .3-10.8.2-3.1.2-2.2.2 6.6.2 11.6.3-8.9.2-4.5.2-.7.2 4.1.2-2.5.3-4.7.2 12.9.2-.9.2-3.7.2-7.8.3-.8.2 6.4.2-.6.2-.2.2 1.8.3-1.8.2 6.5.2-12.3.2 10.3.2 1 .3-4.8.2-1 .2 .1.2-4 .2 10.5.3-2.5.2 0 .2-6.8.2-6.9.2 13.6.3 4.6.2-6.8.2 5.2.2-4.8.2-.2.3-8.6.2 10 .2 2.2.2-7.7.2-3.1.3 6.6.2-1.9.2-4.5.2 10.4.2 2.1.3-5.9.2-4.7.2 2.2.2 .8.2-3.7.3-.1.2-2.6.2 12.3.2-7.5.2 7.7.3-3.8.2-.7.2-6.9.2 5.4.2-6.7.3 3 .2 .6.2 5.4.2-8.3.2 13.2.3-11 .2-2 .2 8.3.2-.9.2 .4.3-3.3.2-1.1.2 7.7.2-5 .2-8.9.3 12.7.2-6.5.2 5.5.2-5.9.2-.7.3-.2.2 2.3.2-1.3.2 7.4.2-2.4.3 2.7.2-7.1.2 4.6.2-6.9.2 2 .3 2.7.2 5.1.2-18.3.2 15.7.2-1 .3-2.1.2-.4.2-9.5.2 12.2.2-2.6.3-6.5.2 9.1.2-5.1.2 1.2.2 2.2.3 2.6.2-1.1.2-5.1.2 2.5.2 1.9.3 3.5.2-11.2.2 9.3.2-4.9.2 5.3.3-1.9.2 2.8.2-9.2.2 4.1.2-7.6.3 .8.2 4.4.2 7.7.2-9.1.2 8.5.3-8.4.2 19 .2-5.7.2-17.7.2 14.3.3-18 .2 13.4.2-.5.2-3.3.2-1.8.3-1.1.2 .3.2-3.2.2 6.4.2 5.9.3-2.9.2-4.9.2 2.3.2 5.8.2-9.6.3 5.1.2 4 .2-2.9.2-4.8.2 13.1.3-18.3.2 7.8.2 4.8.2-15.8.2 4.2.3-.6.2 4.7.2 3 .2 5.1.2-7.3.3-11 .2 3.6.2 1.3.2 14.2.2-5.2.3 1.4.2-10.6.2 2.6.2 4.4.2-3.5.3 6 .2-12.8.2 15.8.2-10.3.2-1 .3 9.6.2-8.4.2 7.5.2-1.2.2-2.2.3-1.8.2-5.8.2 4.9.2 9.4.2-6.5.3-4.3.2-2.6.2 1.8.2 6.9.2 1.6.3-9.3.2-1.9.2 .9.2 7.8.2-7.9.3 0 .2 .8.2 3.4.2 2.1.2-7.6.3 4.7.2 4.7.2 5.2.2-3.8.2 3.2.3-9.9.2 6.5.2-4.9.2-4.6.2 21.1.3 2.4.2-2.1.2-5.9.2-6.4.2 9.6.3-12.7.2-2.2.2 25.7.2-13 .2-12.5.3-4 .2 8.2.2 9.4.2-11.8.2 15.8.3-13.6.2 10.7.2-14.9.2-2.1.2 .2.3 17.6.2 6 .2-23.6.2 16.4.2-9.3.3-7.3.2 3.4.2-.8.2 6.5.2 9.8.3-3.7.2 9.9.2-8.6.2-4 .2 .8.3-9.5.2 21.7.2-14 .2-1.5.2 .1.3 15.2.2-23.3.2 1.8.2 15.5.2-10 .3-9 .2 3.2.2 18.4.2-16.3.2-4.2.3 2.4.2-2.7.2 21.8.2-21.6.2 6.5.3 7.6.2 12.9.2-10.8.2-17.3.2 12.8.3-10.4.2-8.3.2 6.7.2 16.6.2-15.5.3 10.1.2-3.2.2 7.2.2-1.4.2 .3.3-6.2.2 1.2.2-1.5.2 11.9.2-10.4.3-1.8.2 15.3.2-20.3.2 19.6.2-3.4.3-11.9.2 .1.2 10.7.2 1.9.2-17.3.3 12.2.2-.1.2-4.5.2-3.1.2 7.9.3-13.1.2-.6.2 22.8.2 4.3.2-17.4.3-8 .2 9.1.2 1.3.2-12 .2 1.7.3 7.6.2-4 .2 14.3.2-7.5.2-17 .3 18.1.2-1.8.2-6.6.2-3.1.2 11.8.3 10.2.2-4 .2-1.8.2-17.2.2 3.9.3 5.9.2-5.6.2 13.5.2-7.2.2 5.5.3-3 .2-4.6.2-7.7.2 23 .2-15.7.3 5.6.2-10.5.2 14.1.2 .6.2-12 .3-12 .2 8 .2 16.6.2 3.7.2 .8.3-22 .2 17.4.2 1.5.2-21.5.2 9.4.3 10.1.2-2.2.2-16.9.2 12.2.2-6.5.3 .5.2-1.7.2 .7.2 4.7.2-4.7.3-6.9.2 13.5.2 4.9.2 2.2.2-4.8.3-2.4.2 7 .2-6.1.2-19.5.2 27.9.3-20.3.2 14.9.2-24 .2 26.6.2-20.2.3-.5.2-.7.2 1.8.2-3.8.2 18.2.3-6.6.2 4.7.2 11.8.2-21.4.2 9.2.3-9.6.2-.4.2-4.3.2 18.9.2-17.3.3 18 .2-.8.2-6.1.2 2.9.2-14.1.3 27.1.2-7.7.2-19.6.2 19.3.2-2.7.3 12.4.2-13.9.2-.6.2 4.7.2-15.7.3 8.7.2-3.8.2-4.5.2 17.5.2 .2.3-6.4.2-13.7.2 15.4.2-1.9.2 8.8.3-23.7.2 21.4.2-21.7.2 24.7.2-2.3.3 0 .2-14.4.2 .5.2-6.3.2 .7.3 17.2.2-18.9.2-1.7.2 4.6.2 1.7.3 2.1.2 10.7.2 2.4.2-18.6.2 21.8.3-10.7.2-9.6.2 3.4.2-5 .2 3.7.3 2.6.2 22.6.2-27.1.2 11.1.2 9.3.3-11.7.2-11.8.2 11.1.2 5.1.2 5.7.3-5.1.2 1.2.2-6.2.2 9.2.2-12.4.3 15.1.2-8.4.2-14.7.2 23 .2-18.6.3 6.9.2 11.6.2-10.6.2 2.9.2 2.3.3 3.4.2-17.2.2 24.3.2-18.8.2-1.9.3-.2.2-2.1.2 11.2.2-15.2.2 5.2.3 3.3.2 4.1.2 10 .2-19 .2 9 .3-3.4.2 14.4.2-15 .2 9.8.2-18.3.3 20.2.2-17.4.2 .5.2 16.9.2-12.5.3-6.4.2 19.7.2 4.5.2-19.4.2 13.8.3-14.4.2 25 .2-1.7.2-26.5.2-5.4.3 2.4.2 11.3.2 11.1.2-20.2.2 8.9.3-8.7.2 9.2.2 4.7.2-10.5.2 10.8.3-13.6.2 20.1.2-14.7.2 3.8.2-5.2.3 15.3.2-20.1.2 16.1.2-8.5.2 12.2.3 0 .2 4.9.2-7.7.2-15.4.2 1.6.3 16.5.2 4.3.2 1.2.2-7.6.2-7.6.3 6.7.2-10.6.2 5.3.2 2.2.2 4 .3-12.3.2 16.5.2-7.9.2-10 .2 1.2.3-.8.2-.5.2 11.4.2-8.3.2-3.1.3 19.2.2-5.2.2-8.5.2-6.2.2 7.8.3-2.8.2 5.3.2 4.8.2-3.6.2 1.6.3 .2.2 7.5.2-11.6.2 9.6.2-18.2.3-6.7.2 27.2.2-7.7.2-7.1.2-10.5.3 15.5.2-5.8.2-1.3.2-10.8.2 11.2.3 3.8.2-4 .2 13.3.2 4.6.2-18.2.3 10.8.2-13.3.2 6.2.2 3.7.2 7.7.3-26.2.2 12.1.2 5.6.2-8.3.2 3.8.3 10.1.2 5 .2-13.6.2 13.9.2-10.4.3 2.4.2-10.1.2 1 .2 13.3.2 6.2.3-20.7.2-1.9.2 11.1.2 4.7.2-2.2.3-5.9.2 9.9.2-1.4.2-6.9.2-5.6.3 13.4.2-1.2.2-17.2.2 16.4.2-10.5.3-8.8.2 3.5.2 6.5.2 .7.2 9 .3-7.4.2 12.4.2-20 .2 1.7.2 17.3.3-22.6.2 .9.2 4.7.2 0 .2 9.4.3-12.9.2 13.4.2-.8.2 7.1.2 9.1.3-13 .2-14.8.2 12.9.2-4.6.2 6.3.3-24.7.2 11.5.2 16.1.2-9.7.2-2.8.3 6.1.2-13.8.2 23.8.2 5.1.2-29.4.3 7 .2 13.3.2-8 .2-.2.2 4.3.3-15.4.2 16.6.2 1.6.2-19.9.2 14.3.3-14 .2 4 .2 16.5.2-9.7.2 2.8.3-11.7.2 15.5.2-2 .2 6.1.2-16.6.3-1.6.2 5.2.2-.5.2-6.8.2 15.6.3 9.7.2-3.4.2-8.1.2-6.7.2 10.8.3-6.8.2-8.5.2 11.9.2-4.9.2 12.7.3-10.7.2-16.3.2 15.3.2-10.2.2 5.4.3-4.8.2 16.3.2-.7.2-6.4.2 .4.3-12.1.2 20.2.2-7.3.2 10.1.2-9.4.3-2.2.2-.8.2-4.9.2 4.7.2 1.1.3-13.1.2-8.4.2-.1.2-4.8.2 1.8.3 1.4.2-1.2.2-1.1.2 1.4.2 1.4.3-2.2.2-1.8.2 3 .2-.3.2 .9.3-1.2.2-1.8.2 2 .2 1.8.2 .7.3-2.8.2-1.6.2 2.6.2 1.8.2 0 .3-1 .2-3.9.2 3 .2-2.4.2 2.6.3 .6.2-1.8.2-1.1.2 3.6.2-.6.3-2.4.2 18.5.2 3 .2 25.3.2-30.3.3 20.6.2 4 .2-9.3.2 8.4.2 3 .3-12.4.2-.4.2-11.5.2 1.4.2 14.3.3-18.7.2 21.1.2-15.3.2 15 .2-10.3.3 4.3.2-14.8.2 6.5.2 4.9.2 5.3.3-11.7.2 9.3.2-1.7.2 10.8.2-8.2.3-14.6.2 22.8.2-16 .2-6.3.2-1.4.3 21.1.2-24.3.2 3.7.2 18 .2-16.3.3 28.1.2-9 .2-3.9.2-12.2.2 4 .3 13 .2 4.5.2-9.3.2-12.2.2 12.7.3-4.9.2 7 .2-17.6.2 3.4.2 2.1.3 13.5.2-7 .2 5 .2-14.7.2 10 .3-7.7.2-1.9.2 2.7.2 17.3.2-21.6.3 14.7.2-10.5.2-4.9.2 22.6.2 2.5.3-16.9.2-8.7.2 10.6.2 13.1.2-3.4.3-.6.2-11.8.2-6.5.2 10.6.2 11.1.3-4.6.2-2.9.2-2.8.2-9.5.2 14.5.3-13.9.2 13 .2 .3.2-.9.2-3 .3 14.8.2-10.3.2-21.8.2 26 .2-9.2.3 2.8.2-18.7.2 20.7.2-8.5.2 18.6.3-6.6.2-12.6.2-.6.2-3 .2 18.4.3 4.6.2-5.7.2 2.4.2-11.1.2-11.3.3-2.5.2 22 .2-20.3.2 18.6.2-11.3.3-3.7.2 21.6.2-27.4.2 24.5.2 1.9.3-13.1.2-32.7.2-2.7.2 3.3.2 6.2.3-1.9.2-6.6.2 5.7.2-3.5.2 6 .3-6.8.2 3.1.2 1.8.2 1.8.2-5.9.3-.7.2 .6.2 7.5.2-10.9.2 6.9.3 4.5.2-6.6.2-.2.2-3.4.2 9.7.3-7.9.2 7.5.2 2.2.2-9.5.2 3.3.3 6 .2-3.3.2 3.7.2-3.7.2-5.7.3 3.6.2 6.3.2-12.1.2 .3.2 11.7.3-11.1.2 3 .2 3.6.2-.2.2 5.5.3-11.5.2 1.2.2-2.6.2 4.2.2 4 .3 3.2.2-11.9.2 4.4.2 11.5.2-4.3.3-.7.2 2.9.2-11.3.2 5.5.2 7.5.3-3.2.2-5.4.2 6.3.2-10.3.2 11 .3-10 .2 5.8.2-2.7.2-2.3.2 1.3.3 5.5.2-.6.2-4.5.2-.4.2 1.9.3 5.1.2-3 .2-6.9.2 10.4.2 1.5.3-.4.2-4.3.2-3.8.2 4.2.2-11.1.3 7 .2 5.4.2 .1.2-2.5.2-3 .3-1 .2 5.3.2-3.8.2-2.1.2-.8.3 10 .2-8.9.2 4 .2-5 .2 1.3.3 9.3.2-12.3.2-2.2.2 15 .2-8.1.3 9.6.2-3.6.2-2.7.2-6.4.2 10.8.3 1 .2 .1.2-7 .2-1 .2 4.7.3 3.5.2-6.9.2 8.2.2-3.4.2-.8.3-7.2.2 9 .2 .8.2-2.9.2 3.5.3 .6.2-5.4.2-1.8.2-1.2.2 7.9.3 .8.2-7.3.2 1.1.2-4.5.2-1.8.3 5 .2-3.6.2 9 .2-4.1.2 1.8.3-.5.2-4.4.2 10.5.2 3.1.2-5.8.3-3.3.2 1.8.2-2.7.2-2.9.2 10.5.3 .1.2-6.3.2-5.7.2 5.5.2-4.3.3 4.9.2-1.4.2-5.4.2 7.4.2 5.3.3-6.2.2-4.2.2 1 .2 9.8.2-8.9.3 3.7.2-2.4.2-1.3.2-2.6.2 13 .3-6.9.2-.9.2 7.5.2-5.3.2 5.4.3-2.6.2-4.5.2 2.9.2-2.1.2 2.7.3-5.3.2 .4.2 3.7.2 1.2.2-2.7.3 4.6.2-12.2.2 3.7.2 .7.2 5 .3 3.4.2 .7.2-9.8.2 7.7.2-6.7.3 10.8.2-4.6.2-6.9.2 6.2.2-8.9.3 8.4.2-1.6.2-2.6.2-2.7.2 6.8.3-.6.2 .6.2 3.1.2 2.9.2-7.2.3 6.2.2-3.7.2-6.6.2 11.2.2-7.6.3 10.6.2-21.7.2 20.6.2 1.3.2-6.9.3 11.3.2-4 .2-9.3.2 5.7.2 2.7.3-8.1.2 6 .2-6.7.2-2.5.2 12.4.3 8.7.2-17.7.2 13.6.2-14.5.2 11.3.3 8.2.2-6.2.2 8.1.2-11.9.2 7.6.3 5.3.2-5.2.2-1.4.2 8.9.2-8.7.3 1.5.2 10.2.2-9.9.2-4.4.2 11.8.3-4.8.2 8.3.2-11.5.2 2.3.2-1.1.3-5.1.2 3 .2 9.9.2-17.8.2 19.9.3-8 .2 4.3.2-5.4.2 13.4.2 5.5.3-2.6.2-3.4.2-1.9.2-12.9.2 15.6.3-12.5.2-3.1.2 4.5.2 10 .2-10.7.3-4.1.2 18.1.2-19.2.2 13 .2-11.5.3-.3.2 4.6.2-.8.2 9.1.2-6.3.3 7.1.2-18.1.2 14.2.2-6.6.2-7 .3 11.9.2-4.5.2-3.7.2-1.5.2-3.9.3 3 .2 12.1.2-13.5.2-.4.2 6.2.3-11.5.2 6.7.2 7.8.2-.5.2-8.2.3 2 .2-15.8.2 16.1.2-14.2.2 6.2.3 2.6.2-8.3.2 .4.2-3.5.2 6.8.3-2 .2 12 .2-4.4.2-14.7.2-.8.3 18.2.2-18.1.2 7.9.2-2.7.2-4 .3 17.1.2-26.1.2 12.8.2-16.7.2 10 .3-1.2.2-10 .2 .2.2 11.8.2-12.2.3 4.9.2-5 .2 5.5.2 10.1.2 .9.3-5.7.2-2 .2 7.2.2-6.6.2 6.7.3-11.5.2 5 .2-5.9.2 3.6.2 13 .3-18.1.2 .1.2 5.3.2 8.7.2-8 .3-4.4.2 8.2.2-2.3.2-2.7.2 7.3.3 .2.2-10.4.2 7.1.2-1.7.2-6.7.3 3.4.2 .1.2-1.8.2 4.9.2-2.9.3 3.2.2 7.8.2-.2.2-12.5.2 3.9.3-4.8.2-1.3.2 12 .2-1.7.2-.1.3 1.7.2-10.6.2 4.4.2 2.3.2-6.3.3 1.1.2 7.7.2-6 .2-2.2.2 2.4.3-2.9.2 8 .2 1.3.2-10 .2 3 .3-.9.2 8.9.2-10.5.2 13.3.2 1.7.3-19.2.2 6.7.2 12.2.2-9.8.2 2.3.3-.6.2 2.9.2-2.9.2-1.4.2 10.6.3-4.4.2 2.3.2-3.3.2-7.5.2 10.8.3-6.9.2 1.1.2-5 .2 .3.2 12.7.3-14 .2 3.1.2 6.1.2 5.5.2-12 .3 4.3.2-7.8.2 2.3.2 13.8.2-7 .3-7.4.2 15 .2-10.7.2-.2.2-1.3.3 1.1.2 11.2.2-2.1.2-8.8.2-1.7.3-1.9.2 10 .2-9.4.2-4.3.2 1.4.3 6.2.2 4.1.2-7.6.2 8.1.2 5.3.3-15.5.2 .5.2 6.2.2-4.2.2 2 .3 14.9.2-16.5.2 2.5.2 7.9.2-11.7.3 14.2.2-3.1.2-8.9.2 3.1.2 4.6.3-.7.2 3.1.2-1.3.2 3.1.2-3.8.3-4.5.2 8.8.2-.6.2-2.8.2-1.6.3-2.6.2 3.8.2-9.3.2 13.3.2-12.4.3 14.2.2-15.3.2 8.8.2-6.7.2 5.4.3-4.5.2 1.2.2-3 .2 6.2.2-10.5.3 7.1.2 6.7.2-10.2.2 6.7.2-5.6.3 8.4.2-7.2.2 1.4.2 .4.2 9.7.3-7 .2 .4.2-7.8.2 7.4.2 9 .3-11.9.2 1.4.2 5.9.2 1.4.2-6.3.3 8.2.2-6.5.2 7.6.2-11.1.2 4.9.3-9.9.2 11.7.2 2.9.2-1.6.2-9.7.3 1.1.2-3.8.2 7.4.2-4.6.2 14.7.3-17.9.2 16 .2-12.8.2 6 .2-6.4.3 5.3.2-3.9.2-1.8.2-.8.2 3 .3 3.7.2 4.3.2-12.9.2 2.9.2 .6.3-8 .2-.6.2-.5.2-.7.2 1 .3-.1.2 .7.2-.8.2-.8.2 .9.3 .5.2 .8.2 .1.2-.2.2 .3.3-1 .2 0 .2-.1.2-.7.2 .3.3-.3.2 .1.2-.1.2-.2.2-.1.3 .3.2 .9.2 .7.2 .4.2 .3.3-.7.2 .6.2-.7.2-.9.2 0 .3 .4.2 6.7.2-.3.2-2.3.2 4.2.3-3.2.2-1.5.2-4.4.2 8.6.2-7.2.3 2.5.2 2 .2-2.7.2-1.8.2 1.2.3 5.9.2-3.2.2 2.1.2 .6.2-1.4.3-5.4.2 5 .2 0 .2-1 .2-.6.3 .7.2 1.4.2 3.6.2-5.7.2-1.1.3 .8.2 3.2.2-4.6.2-1.3.2 3.1.3 3.3.2-4.9.2-1.2.2 4.9.2-3.9.3 4.4.2-4 .2-3.8.2 3.7.2 4.3.3 1 .2-1.6.2-2 .2 2.7.2-.6.3-4.8.2 5.2.2-1.2.2-1.8.2-3.9.3-1.1.2 3.4.2 3.4.2-4.5.2 3.6.3-1.8.2-.3.2 1.5.2-2.6.2-1.3.3 2 .2 2.9.2 2.6.2-3.3.2-.3.3-.2.2-.2.2 3.3.2-1.2.2-.3.3-3.9.2 6.2.2-6 .2 .8.2 3.5.3-1.2.2 2.2.2 .9.2-1.1.2 1 .3-.1.2-8.7.2 2.1.2 5.3.2-1.1.3-2.8.2 2.2.2 1 .2-1.7.2 0 .3 5.1.2-2.6.2 2.3.2-8.9.2 4.7.3-4.3.2 1.1.2 6 .2-1.4.2-1.4.3-4.5.2 5.8.2 .2.2 0 .2-1.9.3-.8.2 1.6.2 2.4.2-3.9.2-3.5.3 9.1.2-6.5.2 2.5.2-1.6.2 .2.3-5.7.2 5.5.2 1 .2-.3.2-2.3.3 2.3.2 1.8.2-3.5.2-3.5.2 2.7.3-.6.2 5 .2-4.9.2 2.3.2-2.2.3 .6.2-1.9.2 1.9.2 .1.2-.4.3 1.3.2-2.1.2 5.4.2-3.6.2 .7.3 3.6.2-.5.2-4.5.2 2.1.2-3.8.3 3.2.2-2.6.2 4.4.2-3.9.2 4.4.3-.7.2-3.6.2 2 .2 2.7.2-2.8.3 1.2.2-4.3.2-1.2.2 3.6.2-3.4.3 5.5.2 .2.2-1.2.2-2.2.2 5.4.3-3 .2-4.5.2 6.6.2-1 .2-5.5.3 1.1.2 3.6.2-.4.2 2.4.2-6.7.3 6.3.2-.4.2-6.5.2 3.9.2-3.9.3 6 .2 .1.2-1.8.2-3.3.2 2 .3-.2.2 4.1.2-4.9.2 1 .2-.3.3 3.4.2-7.5.2 7.8.2-1 .2 .8.3-1.1.2 3.4.2-4.3.2-1.4.2 4.2.3 .3.2-2.7.2-1.8.2 1.8.2 2.5.3-3.6.2 2.1.2-.9.2-3.4.2 .1.3 .2.2 4.8.2-.6.2-6.3.2 4 .3-3.3.2 4.7.2-4 .2 5.3.2-6.3.3 3.9.2 1.8.2-.9.2-2.6.2 1.3.3 2.3.2-3.8.2 3.9.2-.1.2-.5.3-1.4.2 1.6.2-5.4.2 4.1.2-4.4.3 3.8.2 3 .2-1.1.2 1.5.2-4.4.3-4.5.2 8.9.2-6.6.2 2.1.2-1.1.3 5.6.2-4 .2-2.9.2 3.4.2-2.6.3 2.1.2 1.6.2-2.4.2 2 .2-3.9.3 6.2.2-5.6.2 3.3.2-2.2.2 5.8.3-8 .2 5.3.2-.7.2 2.1.2 0 .3-.3.2-6.1.2 .5.2 6.1.2 20.4.3-9.6.2 21.6.2-14.9.2-.6.2-6.4.3 1.1.2 12.6.2-.4.2-8.4.2 0 .3 12.8.2-5.3.2-.4.2-9.8.2-.1.3 6.7.2-10.2.2 7.5.2-.1.2-.2.3 12.6.2-2 .2-11 .2 7.1.2-13.9.3 19.2.2-15.1.2 7.9.2-1.7.2 13.4.3-16.8.2 1.9.2-.6.2-.8.2-5 .3 15.3.2 2 .2 4.5.2 1.7.2-17.1.3 9.8.2 1.4.2 .9.2-6.7.2 4.6.3-11.6.2 15.1.2-8.8.2-13.9.2 26.1.3-21.6.2 20.4.2-6.1.2-9.9.2-3.7.3 2.6.2-4.4.2 1.1.2-1.9.2 18.5.3-16.6.2 18.2.2-17.4.2 17.1.2-9.3.3 6.3.2-5.9.2-4.6.2 17.9.2-13.5.3 6.8.2-9.9.2-12.3.2 29.4.2-13.3.3-7.4.2 22.1.2-21.3.2 18.1.2-14.7.3-6.8.2 1.4.2 2.1.2 3.9.2 8.3.3 8.2.2-3.4.2-2.1.2 5.7.2-11 .3 3.1.2-.2.2-22.1.2 30.4.2-12.2.3 .3.2-11.6.2 2.3.2-3.6.2 18.7.3 .4.2-13.3.2 9.9.2-7.3.2 10 .3-3.1.2 6 .2-6.4.2-2.7.2-4.3.3-4.9.2 7 .2 13.6.2 3.3.2-16.8.3 26.1.2-30.4.2 6.3.2 5.7.2-17.8.3 29.6.2-24.5.2 28 .2-16.5.2 2.6.3-6.7.2 4.5.2-1 .2 11.5.2 6.6.3-10.6.2 7.6.2-7.1.2 4.9.2-13.4.3-12.6.2 13.1.2 20 .2-12.6.2-16.4.3 6.8.2 .7.2-.8.2 17.7.2-24 .3 3.7.2-10.3.2 26 .2 8.6.2-10.3.3 4.4.2-8 .2-.1.2 7.6.2-17.9.3-.7.2 25.2.2-27.7.2 24.6.2-24.4.3 18.3.2-.6.2 8.1.2 .3.2-15.8.3-10.4.2 11.3.2-2.2.2 12.7.2-19.2.3 3.5.2 22.6.2-20.1.2-6.6.2 17 .3 7 .2-10 .2-5.1.2 1.8.2-12.2.3 25.5.2-3.4.2-20.1.2-4.9.2 24.7.3 3.5.2-18.5.2 20.3.2-2.4.2-11.8.3 13.9.2-9.5.2-2 .2-7.1.2 5 .3-14.2.2 13.2.2 14.8.2-15.6.2-3.5.3 3.3.2 4.3.2-1.8.2-6.9.2-10.2.3 10.8.2 25.1.2-21.7.2-7 .2 11.9.3 .3.2-3.8.2 12.3.2-24 .2-1.5.3 25.6.2-12.7.2-7 .2 0 .2 9.5.3-3.6.2 3.7.2-14.8.2 16.7.2-19.9.3 6 .2-1.8.2 16.2.2-6.2.2-9.6.3 19.6.2-16.3.2 7.8.2-6.3.2 .3.3 4.6.2-2.2.2 19.2.2-20.9.2 16.8.3 1 .2-14.7.2 20.3.2-15.7.2-9.8.3 7.7.2 6.8.2 7.1.2-31 .2 8 .3-3.3.2 35.3.2-36.4.2 8.4.2 11.4.3-28.7.2 20.5.2 15.2.2-1.4.2-24.3.3 12.7.2-13.6.2 7.7.2 15.4.2 1.3.3 9.2.2-8 .2-21.2.2 23.5.2-30 .3 9.2.2 7.5.2 .2.2-11.5.2 7.8.3 4.3.2-17.4.2 4.5.2 6.6.2-.7.3-2.6.2 7.2.2 10.1.2-24.5.2-7.1.3 26.4.2-6.2.2-6.3.2 12.3.2-17 .3 23.5.2-12.5.2 2.7.2 6.9.2-15.2.3 16.1.2 1 .2 4.3.2-20.7.2 .1.3 15.4.2-3.4.2 8 .2 .4.2-21.6.3 21.7.2-10.3.2 2.7.2 5.4.2-16.8.3 .6.2 13.4.2 1.2.2-22.7.2-3.3.3 26.2.2-21.3.2 24.6.2-21.7.2 9.5.3 16.1.2-6.5.2-1.1.2-9.8.2 5.6.3-6.8.2-2.7.2 22.4.2-20.2.2-5.1.3 22 .2-26.9.2 1.1.2 14.7.2 9.9.3-6 .2 8.9.2-20.9.2 15.8.2-15.8.3 17 .2-20.4.2-5 .2 24.7.2-7.9.3-34.3.2 3.5.2-9.8.2-1.8.2 8.5.3 .4.2-4.2.2 4.5.2-6.6.2 8.8.3-5.5.2 .5.2-7 .2 2.5.2 4.8.3 5 .2-12 .2 3.4.2 6.2.2 .9.3-9.1.2 8.5.2-4.2.2 6.2.2-11.7.3-2.3.2 1.2.2 .2.2 16.8.2-4.2.3-1.2.2-.2.2 3.8.2-11.5.2-.8.3 3.1.2 .8.2 1.8.2-3.3.2-1.4.3-1.4.2 2.4.2-1.6.2 .2.2 8.4.3 1 .2-1.5.2-.3.2-2.6.2 4.6.3-12.5.2 12.4.2-1.6.2-9.6.2 4.6.3 3.6.2 1.8.2-11 .2 11.9.2-4.4.3-6.2.2 2.4.2 .4.2 10.1.2-.2.3-7 .2-2.5.2-1.4.2 8.3.2 2.2.3-4.6.2-5.5.2 2.9.2 1.9.2-10.4.3 11 .2-10.9.2 5.5.2 7.3.2-2.4.3 4.8.2-7.1.2-2.3.2 8.6.2-5.5.3 6 .2-9.4.2 3.6.2-.9.2 .8.3 5 .2-10.3.2 8.4.2-6.9.2 1.1.3-.7.2 7.7.2-.1.2-1.4.2-6 .3-3.5.2-.5.2 4.5.2 6.9.2-1.6.3-3.3.2 6.4.2-4 .2-3.2.2 8.6.3-6.9.2-.1.2-2.5.2-1.2.2 10.8.3-3.2.2-8.4.2 6 .2-4.6.2 2.6.3 2.5.2 1.6.2 .6.2 6.5.2-3 .3-4.5.2 4 .2-.7.2-4.1.2 1.5.3 3.3.2-3.7.2-9.4.2 3.3.2 10.3.3-10.1.2 10.7.2-11.4.2-3.2.2 12.3.3-7.4.2 10.1.2 1.4.2-11.6.2 9 .3-11 .2 .9.2 8.7.2-6 .2 .4.3 2.7.2 5.3.2-9.1.2-2.9.2 9.6.3-4.4.2-.7.2 3 .2-6 .2 14.1.3-7.9.2 1.1.2-.9.2 1.1.2-1.4.3-.7.2-4.6.2-1 .2-.2.2-2.6.3 5.1.2-2.9.2 13.3.2-12.9.2 14.6.3-3.6.2-4.4.2 5.4.2-3.2.2-2.1.3 1.6.2-6.4.2 10.3.2 3.8.2-1.7.3-.8.2-5.4.2 4.7.2-7.4.2 7.7.3 4.3.2 0 .2-7 .2 4.7.2-5 .3 2 .2-5.2.2 10.5.2-13.4.2 8.6.3-2.3.2-4.2.2 11.2.2-6.6.2 10.7.3 0 .2-3.8.2 9.2.2-4.4.2-2.7.3 5.5.2-2.6.2-3.8.2-.5.2 5.4.3-5.5.2 5.6.2-.8.2 1.1.2-1 .3-4.3.2-1.5.2 6.6.2-.7.2-2.2.3 1.5.2-4.8.2-5.4.2 2.7.2-2.6.3 0 .2 21.2.2-17.7.2 12.5.2 5.1.3-11.3.2-9.8.2 .3.2-.2.2 8.4.3-8.6.2 18.8.2-7.5.2 9.8.2-16.6.3-4.4.2 4 .2 4.6.2-3.1.2 5.2.3-5.5.2-6.1.2 4 .2 8.4.2-4.7.3 12.9.2-.5.2-11.1.2 10.2.2-14.2.3 1.9.2 .5.2 11.1.2 1.3.2-15 .3 2 .2 4.4.2-16.4.2 9.1.2 7.7.3-4 .2 7.7.2-6.4.2-6.2.2-6.6.3 27.7.2-11 .2 6.7.2 7.3.2-4.1.3-16 .2 14.1.2-2.3.2-8.3.2-1.3.3 13.6.2-9.2.2-4.4.2-4.6.2 13 .3 4.8.2-17.9.2 4.2.2-5.5.2 1.8.3 1.4.2 12.1.2-9.2.2-4.4.2-2 .3 2.3.2 6.2.2 9.3.2-.9.2-10.4.3-10.3.2 15.2.2-6.9.2-3 .2 4.4.3 6.9.2-3.7.2 11.3.2-26.8.2 11 .3 3 .2 7.7.2-15.4.2 20.4.2-17 .3 6.9.2-4.6.2 9.1.2 4.2.2-19 .3 5.1.2 14.3.2-5.4.2 1 .2-6.4.3 9.4.2-11.9.2-1.7.2 5.4.2-3.1.3 2.1.2-8 .2-1.9.2 16.4.2-10.1.3 13.3.2-20.3.2 12.1.2 1.4.2 3.6.3-4.8.2-12.2.2 19.7.2-12.8.2-.9.3 5.2.2 1.5.2-8.9.2 .5.2-3 .3 3.3.2 16.2.2-6.5.2-20.3.2 3.2.3 25 .2-7.9.2-6.2.2 7.3.2-14.5.3 26.5.2-8.8.2-8.5.2 2.4.2-5.9.3 1.3.2 10 .2-5.3.2-9.7.2-1.3.3 19.5.2 .2.2-16.8.2 6.6.2-3.7.3 3.1.2-7.6.2 4.4.2-.9.2 12.5.3-15.5.2 13.6.2-1.3.2-13.4.2 13.6.3-18 .2 4.5.2 1.1.2 8.3.2-4.9.3 7.8.2-13.4.2-.2.2 10 .2-1.3.3 9 .2-10.3.2-6.7.2 18.4.2-25.3.3-3 .2 12.6.2-10.4.2 9.9.2-7.1.3 4.1.2-3.6.2-5.2.2 3.2.2 11.9.3-3.8.2-1.5.2 1 .2-8.8.2-2.7.3-1.9.2 14.6.2-12.1.2 14.6.2-17.5.3 1.5.2 14.1.2-14.2.2-2.6.2 11.4.3-2.6.2 1.6.2-4.3.2 8.4.2 2 .3-13.6.2 4.6.2-4.7.2 1.8.2 9.8.3-6.9.2 .4.2-2.5.2 10.9.2-12.9.3 4.1.2-4.7.2 1.8.2-.8.2 2.1.3-1.1.2-1.1.2 2.7.2 3 .2 6 .3 1.8.2-2.7.2-5.5.2 8.2.2-2.7.3-.1.2 1.6.2-.4.2-5.9.2-6.7.3 3.8.2 4.9.2-9.6.2 11.7.2-11.8.3 15.1.2-12.2.2 .4.2 12.3.2-14.5.3 8.5.2-6.6.2 14.3.2-12.3.2 4.7.3 4.1.2-2.4.2-6.5.2-.7.2 11.3.3-3.6.2 1.7.2-8.3.2 1.1.2 6.6.3-14.1.2 1.5.2-.4.2 8.6.2 5 .3-10.1.2 2.2.2 7.9.2-2.2.2 6.1.3-19.4.2 5.1.2 3.9.2 8.1.2-13.3.3 12.9.2-18 .2 15.5.2 1.4.2-1.9.3-7.8.2 10 .2-2.2.2 2.6.2-6.1.3-1.8.2-2.7.2-2.1.2-1.5.2-2 .3 10 .2-3.6.2 8.1.2-18.1.2 3.9.3 3.8.2-4.1.2 3.8.2 11.4.2-13.2.3 1.5.2 5.8.2 4 .2 1.5.2-6.3.3 3.4.2-10 .2-.1.2 6.9.2 5.8.3 .7.2-8.8.2 7.7.2-7.7.2 2.6.3-4.7.2-4.7.2 11 .2 .5.2-6.2.3-4.5.2 .3.2 5.5.2-6.8.2 8.3.3-1 .2 .6.2-9.8.2 6.7.2 7.2.3 4.7.2-7.2.2-2.2.2 5.5.2-12.9.3 3.5.2 10.7.2-9.6.2 8.9.2-4.1.3 1.4.2 6.7.2-15.6.2 6 .2 7.2.3-11.8.2 3.9.2 11.7.2-17.7.2 10.8.3 1 .2-12.3.2-.4.2 4.2.2-1.6.3 8.1.2-7.4.2-4 .2 2.3.2-.8.3 5.1.2-10.6.2 4.3.2-3.6.2 5 .3 1.4.2-.8.2-7.9.2 6.6.2 2.3.3 3.4.2-4.2.2 .9.2-5.7.2 3 .3 5 .2-8.4.2 6.7.2 .7.2-.1.3-5 .2-5.6.2 7.8.2-8.7.2 11.1.3-5.9.2 1 .2 2.6.2 2.9.2-8.3.3-.1.2 1.9.2-.3.2-1 .2 4.1.3-2.4.2 7.3.2-11.9.2-.4.2 1.8.3 3.7.2 3.8.2-1.3.2 4.7.2-.9.3-2.2.2-5 .2-.7.2-3.9.2 6 .3 3.9.2 1.4.2-6.5.2 5 .2 .5.3-4.4.2-2.4.2-3.3.2-2.2.2 1.4.3 4.2.2-.2.2 3.2.2 1.7.2-7.9.3-1.3.2 3.4.2 3.7.2-6.4.2 10.3.3-6.6.2-3.1.2 2.1.2 1.5.2-1.7.3 8.8.2-13 .2 5.9.2 2.6.2-4.1.3 8.9.2-4.9.2-5.8.2 4.4.2 2.1.3 4.8.2 1 .2-15 .2 4.7.2 .6.3 3.8.2-3.4.2-1 .2-.9.2 6.6.3-6 .2 .2.2 2.7.2 3.6.2-.1.3-4.9.2-5.9.2 0 .2 1.3.2 14.8.3-11.1.2 1.2.2-3.7.2 2.4.2 .3.3 7.1.2-5 .2-.2.2-2.8.2 4.5.3 1.6.2-.9.2-2.5.2 .4.2 5.8.3-5.4.2 3 .2-1.6.2 2.6.2-8.8.3 7.5.2 2.5.2-1.8.2-5.3.2-4.9.3 5.9.2 3.2.2-6.3.2 2.4.2 6.5.3-5.6.2-3.1.2 3.9.2-1.6.2-.8.3 1 .2-.6.2-.5.2 3.1.2 .3.3-.8.2 .1.2-.7.2-.2.2-1.8.3 4.9.2-.2.2-5 .2 1.3.2 1.6.3 .5.2 3 .2-4 .2 1.8.2 1.1.3-2.8.2-2.7.2-.3.2 5.6.2-2 .3-.2.2 2.2.2-5.7.2 4.4.2-2.1.3-.3.2-2.5.2 4 .2 1.3.2-2.1.3-.7.2 5.4.2-5.1.2 1.5.2-4.2.3 2.5.2 3.5.2-2.1.2 1.2.2-3 .3-1.4.2 4.6.2-1.5.2 2.8.2-.9.3-3.4.2 3.6.2-1.5.2-.9.2 2.8.3-5.2.2 0 .2 4.9.2-3.9.2 4.1.3-1.6.2-.8.2 3.3.2-7 .2 .3.3 50.9.2-2.4.2-4 .2-10.2.2 15.1.3-13.4.2 9.5.2 1.7.2-5 .2 7.6.3 1.1.2-2 .2-4.1.2-7.6.2-.1.3 6.9.2 3.7.2-7.5.2-3.9.2 10.4.3 .5.2-3.4.2 1.3.2 8.2.2-9.4.3 3.5.2-6.8.2 8.9.2-9.6.2 17.6.3-10.6.2-10.8.2 14.3.2-7 .2 1.5.3-9.4.2 7.5.2 10.3.2-.9.2-13.2.3 5 .2 1.8.2-.4.2 .4.2-6.6.3 3.5.2-8.3.2 1.5.2 7.3.2-6.8.3 13.4.2-5.5.2-11.6.2 16.9.2-2.3.3 4.9.2-13.5.2 14.2.2-.8.2-6.6.3 6.5.2-6.1.2-.4.2 4.4.2-48.9.3 4.6.2-3.7.2 2.2.2 0 .2-.5.3 2 .2-5.2.2 4.7.2-3.6.2 2 .3-1.1.2 .3.2 2.3.2-.1.2-1.7.3 2.6.2-2.3.2-3.1.2 1 .2 .4.3 1.8.2-5.5.2 6.6.2 3 .2-4.2.3-3.2.2-.4.2 2.6.2 3.5.2 .5.3-3.1.2-2.3.2 3 .2 .7.2-4.3.3 .8.2-.3.2 3.3.2 .8.2-4 .3 41.1.2-4.8.2-1.2.2 2.5.2 6.9.3-4.4.2 4.6.2-8.6.2 13.4.2-3.7.3-11.9.2 16 .2-7.9.2 8.9.2-21.2.3 22.1.2-13.4.2 4.4.2 9.6.2-2.6.3-.5.2 5.2.2-19.2.2 13.1.2-13.6.3 5.1.2 3.9.2 3.6.2-8.7.2 7.7.3-.8.2-6.6.2 13.9.2-4 .2-7.6.3-1.1.2-6.5.2 6.5.2-6.1.2 18.1.3-16.2.2 5.7.2-7.3.2 16.7.2 1.3.3-14.9.2 14.3.2-3.9.2-11.5.2-21 .3 15.2.2-7.8.2 22.4.2-4.8.2-12 .3-3.5.2 13.9.2-6 .2 10.2.2-3 .3-12 .2-4.3.2-1.4.2 8.7.2 6.7.3-11.8.2-1 .2-.3.2 4.3.2-2.2.3-12.4.2 18.4.2 2 .2-8.4.2-9.3.3 6.1.2 13 .2-10.5.2 3.9.2-3.2.3-4.7.2 14.1.2 3.3.2-14.6.2 9 .3 7.7.2-15 .2 10 .2-.3.2-6.2.3 6.6.2-12.3.2 6.7.2 3.1.2-16.3.3 11.7.2 7.1.2 4.7.2-18 .2 20.9.3-7 .2 5.8.2-4.4.2 .7.2-7.8.3 3.8.2-2.4.2-8.5.2 25.5.2-8.6.3 4.6.2-6.5.2 7.1.2-1.6.2-15 .3-5.1.2-2 .2 8.4.2 12.8.2-19.4.3 6.1.2-5.2.2 25.2.2-13.4.2 7.2.3 2.9.2-4.1.2-2.6.2 12.2.2-4.1.3-5 .2 5.5.2 7.1.2-11.3.2 4.9.3-.5.2-7.5.2-6.2.2 12.4.2-2.4.3-5 .2 17.8.2-9.8.2-12.6.2 12.4.3-14.1.2 2 .2 12.1.2-8.1.2 7.2.3 1.1.2-9.5.2 4 .2 3.1.2-2.8.3-4.8.2 14.1.2-6.7.2-8.6.2 3.8.3 9.9.2-15.8.2 2.5.2-25.1.2 .2.3-.4.2 .8.2-.2.2-.1.2-.1.3 .6.2 .7.2-.3.2-.3.2 0 .3-1 .2-.1.2 .6.2 .4.2-1 .3 .7.2-.3.2 .8.2-.5.2 35.7.3 3.8.2 3.2.2-24.8.2 23.9.2 5.5.3-24.6.2 7.3.2 5.3.2-4.5.2 1.3.3 6.9.2-10.3.2-7.2.2 6 .2 12.8.3-19.9.2 13.7.2-9.5.2 17.8.2-7 .3-5.9.2-8.4.2 5.7.2-4 .2 13.1.3-5.9.2 11.4.2 1.5.2-14.3.2 5.1.3 8.6.2-11.6.2 5.3.2 5 .2-5.7.3-3.3.2-8.4.2 13.5.2-14 .2 4.8.3-4.7.2 19.5.2-18.7.2-.9.2 7.7.3 8.4.2-1.5.2 10 .2-21.6.2 17.8.3-13.1.2-8.6.2 12.6.2-5.4.2-3.3.3-2.2.2 23.1.2-9.9.2 5 .2-21.1.3 22.4.2-11.5.2-3.3.2-1.7.2 2.5.3 12 .2 .9.2-19.6.2-18.3.2 8.3.3 28.2.2-3.4.2-17.8.2 12.1.2 11.9.3-21.8.2 17.6.2-16.9.2-2.9.2 11.2.3-2.8.2-4.9.2 10.1.2-.8.2 2 .3 .5.2-16.2.2 11.2.2 1.9.2 1.1.3 3.9.2-12.5.2 9.3.2 .8.2-12.9.3 16 .2-5.9.2 6.1.2-6 .2-9.6.3 5.2.2 11 .2-5 .2 .5.2-3.1.3 2.6.2 1.2.2 1.7.2-10 .2 4.4.3 4 .2-3.8.2 4.9.2-6.8.2-5.3.3 4.7.2 5.6.2 1.6.2-8.7.2-2.8.3 13.5.2-1.3.2-6 .2-3.4.2 2.5.3 14.5.2-17.9.2-.5.2 13.3.2-8.3.3 8.2.2-9.6.2 7.6.2-14.5.2-1.7.3 19.2.2-17.1.2-6.8.2 16.2.2 6.8.3-15.4.2-6.1.2 15.2.2-3.5.2-4.2.3 3.5.2 14.1.2 .2.2-4 .2-1.1.3-13.8.2 9.6.2-8.8.2-2.4.2 9.2.3 5.1.2-7.2.2 .1.2 4 .2-10.1.3 16.6.2 1 .2-4.4.2 4.7.2-2.6.3-6.7.2-8.2.2 13.6.2-11.4.2-7.7.3 8.6.2 6.7.2 8.7.2-4.5.2-3.4.3 3.3.2 1.1.2-9.7.2-5.6.2 13.4.3-2.8.2-9.2.2 15.5.2-1.1.2-10.1.3 13.6.2 .1.2-12.3.2-5.1.2 8.2.3-9.2.2 15.8.2-16.9.2 17.3.2-4.7.3-.1.2 .9.2 1.8.2 2.9.2 .7.3-8.7.2-9 .2 9.8.2-3.8.2-5.5.3 11.3.2-13 .2 10.2.2 10.3.2-2.8.3-11.4.2-6.1.2 3.1.2 5.3.2 3.2.3 2.4.2-3.1.2 8.2.2-8.2.2-10 .3 14.3.2-11.8.2 7 .2 5.8.2-5.8.3 7.8.2-18.3.2-16.8.2 16.9.2 21.7.3-3.4.2-12.6.2 10.7.2-13.4.2 5.1.3 2.4.2-1.7.2-8.7.2 6.9.2 3.6.3-15.7.2 17.8.2 4.9.2 .1.2-14 .3 11.6.2-5.9.2 9.8.2 1.5.2-18 .3 6.7.2 2.4.2-3.6.2 2.2.2-4.9.3 11 .2-12.3.2 0 .2 15.7.2-19 .3 20.8.2-12.6.2-1.8.2 9.5.2 3.4.3-15 .2-5.7.2 5.8.2 11.8.2-6.3.3 .4.2 4.3.2-14.2.2 2.9.2-3.8.3 20 .2-9.4.2 3 .2-9.9.2 3.3.3-.5.2-.7.2-7.7.2 11.8.2-5.1.3-.6.2-2.1.2 1.4.2-3.9.2-.1.3 14.4.2-9.5.2 12.5.2-11 .2-7.1.3 19 .2-5.1.2 3.6.2 .1.2 1.5.3-37.2.2 19.2.2 1.7.2 10.8.2 6.8.3-3.7.2-14.7.2 16.9.2-4.2.2-7.3.3 12.4.2 1 .2-18.4.2-4 .2 6.2.3 16.6.2-18.3.2-2.9.2 11.4.2 1.5.3 4.1.2-13.3.2 1.8.2-8 .2 13.7.3 6.9.2-1.3.2-8 .2 2.3.2 8.1.3-21.5.2 9.9.2 7.4.2-1.5.2-13.7.3 20.1.2-8.2.2-1.7.2-1.9.2-1.6.3 9.7.2-10.4.2 8.4.2 3.8.2 1.4.3-23.6.2 2.9.2 .9.2 8.8.2-4.8.3 12.1.2-9.6.2 12.5.2-3.2.2-.8.3 4.2.2-.4.2-14.1.2-.7.2 12 .3-11.7.2-.4.2 14.6.2-17.3.2 8.3.3-9.6.2-1.8.2 15.1.2-17.6.2 16.3.3-11.7.2 9.2.2 11.5.2-1.6.2-16.5.3-2.2.2 20.2.2-8.3.2-3.1.2 7.4.3-6.6.2 11.8.2 3.6.2-25.1.2 8 .3 12.5.2-1.5.2-13.8.2 2.8.2-2.4.3-3.1.2 4.5.2-8.9.2 2.3.2 3.6.3-2.5.2-9.1.2-3.7.2 3.8.2 2.9.3-3.2.2 4.9.2-12 .2 3.2.2 7.6.3-9.7.2 10.5.2-3.6.2 1.7.2-6.1.3-3.3.2-1.7.2-1.9.2-1.3.2 3.1.3 3.8.2-1.7.2-.7.2 1.1.2-8.6.3 1.1.2-1.3.2 7.8.2-5.7.2-3.3.3-3.2.2 5.7.2-1.2.2 5 .2-9.4.3 2.8.2-3 .2 4.2.2-8.5.2 5.2.3-.8.2 .5.2-.6.2-4 .2 4.4.3 .6.2 4.5.2-1.9.2-2.3.2-4.5.3 1 .2 2.1.2 4.3.2 2.1.2-4.3.3 2.1.2 .1.2 4.7.2-1.7.2-3.7.3 9.3.2-5 .2-2.8.2 1.8.2 1.4.3 1.5.2-1.7.2-5.4.2 5.7.2 1.3.3 .7.2 .3.2 3.3.2-4.4.2 2.3.3 1.7.2-.4.2 3.9.2 .6.2-5.8.3 1.1.2 7.7.2-6.1.2 14.7.2 6.7.3-10.6.2 13.4.2-5.4.2-5.1.2-.1.3-2 .2 .8.2-1.1.2-1.6.2 15.1.3-7.3.2 9.9.2-21.2.2 6.4.2 9.3.3-10.3.2-1.3.2 6.2.2 3.8.2-12.5.3 2.3.2 10.7.2 5.6.2-4 .2-.3.3-9.9.2 15.5.2-17.5.2 12.7.2-10.1.3-2.9.2 14.4.2-10 .2-.5.2-3.5.3 9.4.2-5.8.2 0 .2 5.5.2 8.4.3-1.4.2-12.4.2-7.4.2 14 .2 11.3.3-17.1.2-.3.2 10.8.2-4.4.2-.4.3-10.8.2 16.5.2-4.6.2-1.2.2-6.7.3 13.2.2 .6.2-.8.2-5.4.2 1.1.3 5.3.2-8.2.2-6.7.2 8.7.2 6.3.3-12.7.2-23.7.2-1.6.2 2.2.2-3 .3 5.1.2-4.8.2 1.6.2 5.8.2-4 .3-1.7.2 1.9.2 1.3.2-1.1.2 4.9.3-3.6.2 1.1.2-1.9.2 4.3.2 .8.3-2.5.2-1.8.2 4.9.2-1 .2 34.7.3-10 .2-9.4.2 15.8.2-17.4.2 16 .3-12.1.2-5.4.2 17.3.2-2.9.2-5.9.3 2.2.2 1.2.2 3 .2-10.1.2-2.1.3 11.1.2 4.1.2-2.4.2-6.5.2 2.4.3 .1.2-32.5.2 16.6.2 4.7.2 1.6.3-.8.2 11.4.2 7.6.2-15.4.2 16.6.3-11.7.2 4.1.2-9.3.2 11.8.2-6.3.3-5.6.2 2.6.2 1.3.2 1 .2 1.5.3 6.3.2-12.6.2-3 .2 12.9.2 6.4.3-7.7.2 2 .2 4.4.2-11.1.2-4 .3 1.6.2 1.8.2 9.6.2-12.6.2 14.5.3-7.2.2 4 .2 6.4.2-18.7.2 17.3.3-18.1.2 5 .2-3.9.2 18.6.2-9.2.3 1.2.2-26.6.2 10.3.2 .6.2 18 .3 3.7.2-13 .2 13.1.2-18.1.2 6.5.3-3.6.2 10.4.2 2.2.2 3.2.2-3.7.3-9.1.2-.6.2-3.5.2 13.3.2-2.7.3-8.9.2 13.7.2 2.3.2 .2.2-17.5.3 3.6.2 4.1.2 8.2.2-12.4.2 9.8.3-2.7.2 .8.2-.8.2-9.1.2 5.3.3-2.7.2-5.8.2 19.1.2-17.9.2-.3.3 9.5.2 1.5.2 11.7.2-10.2.2-2.9.3-3 .2 8.4.2-9.8.2 9.8.2-2.6.3-12.1.2 17.8.2-14.9.2-1.3.2 6.2.3-2.1.2-9 .2 16.5.2-1 .2" fill="none" stroke="#000" stroke-width="1.25" stroke-linejoin="bevel"/>
<path fill="#00ff8c" d="M254.8 140.5h63.8v.3h-63.8zM255.9 140.8h58.2v.3h-58.2zM255.3 141.1h71.1v.3h-71.1zM257.2 141.4h58.1v.3h-58.1zM256.4 141.7h65v.3h-65zM257.2 142h62.7v.3h-62.7zM255.3 142.3h66.2v.3h-66.2zM256.3 142.6h68.4v.3h-68.4zM256.5 142.9h73.2v.3h-73.2zM255.8 143.2h74.2v.3h-74.2zM257.6 143.5h64.5v.3h-64.5zM255.3 143.8h64.4v.3h-64.4zM255.5 144.1h64.5v.3h-64.5zM254.5 144.4h67v.3h-67zM256.2 144.7h74.2v.3h-74.2zM255.7 145h66.5v.3h-66.5zM254.2 145.3h70v.3h-70zM253.5 145.6h59.9v.3h-59.9zM255.5 145.9h62.8v.3h-62.8zM252 146.2h75.2v.3h-75.2zM255.8 146.5h66.8v.3h-66.8zM248.9 146.8h71.8v.3h-71.8zM256.5 147.1h61.2v.3h-61.2zM255.1 147.4h57.1v.3h-57.1zM233 147.7h57.2v.3h-57.2zM229.2 148h67.5v.3h-67.5zM227.1 148.3h87.1v.3h-87.1zM231 148.6h63.5v.3h-63.5zM227.4 148.9h71v.3h-71zM232.1 149.2h67v.3h-67zM233.2 149.5h56.3v.3h-56.3zM237 149.8h59.9v.3h-59.9zM232.5 150.1h75.7v.3h-75.7zM235.3 150.4h64.1v.3h-64.1zM234.5 150.7h63.6v.3h-63.6zM234.3 151h61.7v.3h-61.7zM235.8 151.3h68.1v.3h-68.1zM240 151.6h56.5v.3h-56.5zM237.4 151.9h83.7v.3h-83.7zM237.5 152.2h50.6v.3h-50.6zM241 152.5h55.2v.3h-55.2zM238.6 152.8h63.2v.3h-63.2zM235.1 153.1h59.4v.3h-59.4zM234.4 153.4h64v.3h-64zM228.5 153.7h84.7v.3h-84.7zM232.5 154h59.7v.3h-59.7zM225.1 154.3h63.3v.3h-63.3zM232.5 154.6h78.3v.3h-78.3zM228.9 154.9h79.1v.3h-79.1zM231 155.2h66.7v.3h-66.7zM230.9 155.5h70.7v.3h-70.7zM231.4 155.8h61.2v.3h-61.2zM233.1 156.1h62.9v.3h-62.9zM228.3 156.4h74.9v.3h-74.9zM232.3 156.7h67.3v.3h-67.3zM230.1 157h56.5v.3h-56.5zM234.5 157.3h58.2v.3h-58.2zM234.6 157.6h63.3v.3h-63.3zM236.6 157.9h66.6v.3h-66.6zM229.8 158.2h71.6v.3h-71.6zM232.7 158.5h72.6v.3h-72.6zM238.6 158.8h69.8v.3h-69.8zM229.3 159.1h72.3v.3h-72.3zM231.1 159.4h63v.3h-63zM233.1 159.7h72v.3h-72zM231.6 160h75.3v.3h-75.3zM228.6 160.3h66.5v.3h-66.5zM225.6 160.6h79.2v.3h-79.2zM231.7 160.9h57.9v.3h-57.9zM232.9 161.2h57.1v.3h-57.1zM232.2 161.5h71.8v.3h-71.8zM233.1 161.8h74.6v.3h-74.6zM233.8 162.1h76.5v.3h-76.5zM241.8 162.4h54.1v.3h-54.1zM235.5 162.7h55.1v.3h-55.1zM234 163h65.2v.3h-65.2zM230.9 163.3h61.6v.3h-61.6zM234.3 163.6h65.9v.3h-65.9zM235.1 163.9h64.7v.3h-64.7zM237.2 164.2h58.5v.3h-58.5zM234.9 164.5h62v.3h-62zM236 164.8h58.6v.3h-58.6zM230.4 165.1h70.7v.3h-70.7zM235.5 165.4h64.1v.3h-64.1zM231.6 165.7h63.3v.3h-63.3zM235.1 166h59.5v.3h-59.5zM235.4 166.3h61.5v.3h-61.5zM240.5 166.6h61v.3h-61zM239.4 166.9h55.8v.3h-55.8zM239.6 167.2h58.2v.3h-58.2zM234.2 167.5h64.4v.3h-64.4zM234.4 167.8h59.7v.3h-59.7zM235.2 168.1h65.5v.3h-65.5zM231.3 168.4h61.6v.3h-61.6zM229.3 168.7h74.3v.3h-74.3zM230 169h74.6v.3h-74.6zM233.7 169.3h70.5v.3h-70.5zM242.1 169.6h66.4v.3h-66.4zM236.6 169.9h60.7v.3h-60.7zM231.3 170.2h63.4v.3h-63.4zM239.6 170.5h74v.3h-74zM240.5 170.8h68.9v.3h-68.9zM237.8 171.1h56.8v.3h-56.8zM231.1 171.4h68.2v.3h-68.2zM235.1 171.7h69.6v.3h-69.6zM240 172h70.5v.3h-70.5zM238.2 172.3h72.7v.3h-72.7zM239.8 172.6h69.7v.3h-69.7zM234.6 172.9h60.5v.3h-60.5zM238.2 173.2h70.7v.3h-70.7zM235.2 173.5h68.1v.3h-68.1zM234.2 173.8h78.6v.3h-78.6zM239.6 174.1h59.4v.3h-59.4zM237.8 174.4h71.1v.3h-71.1zM239.2 174.7h77.2v.3h-77.2zM253.5 175h70.4v.3h-70.4zM253.9 175.3h61.2v.3h-61.2zM243.9 175.6h84.2v.3h-84.2zM252.7 175.9h72.9v.3h-72.9zM252.8 176.2h70.3v.3h-70.3zM251.1 176.5h71.8v.3h-71.8zM247 176.8h72.3v.3h-72.3zM254.3 177.1h75.6v.3h-75.6zM253.9 177.4h75.2v.3h-75.2zM254.5 177.7h75.3v.3h-75.3zM255.5 178h68.6v.3h-68.6zM256.9 178.3h64.7v.3h-64.7zM256.1 178.6h71.3v.3h-71.3zM257.2 178.9h65.9v.3h-65.9zM255.2 179.2h63.1v.3h-63.1zM253.6 179.5h82.7v.3h-82.7zM255 179.8h69.7v.3h-69.7zM252.9 180.1h69.4v.3h-69.4zM251 180.4h74.9v.3h-74.9zM252.1 180.7h70.7v.3h-70.7zM255.8 181h67.1v.3h-67.1zM252.1 181.3h71v.3h-71zM255.7 181.6h70.5v.3h-70.5zM248.3 181.9h71.7v.3h-71.7zM255.8 182.2h68v.3h-68zM255.5 182.5h65.9v.3h-65.9zM251.3 182.8h80.7v.3h-80.7zM256.5 183.1h66.2v.3h-66.2zM255.7 183.4h71.6v.3h-71.6zM257.5 183.7h66.4v.3h-66.4zM256.6 184h77.4v.3h-77.4zM252.3 184.3h82.2v.3h-82.2zM257.9 184.6h64.3v.3h-64.3zM256.9 184.9h72.3v.3h-72.3zM259 185.2h74.5v.3h-74.5zM256.4 185.5h83.7v.3h-83.7zM255.9 185.8h65.3v.3h-65.3zM254.9 186.1h77.7v.3h-77.7zM254 186.4h78v.3h-78zM258.4 186.7h69v.3h-69zM256.8 187h66.9v.3h-66.9zM257.4 187.3h71.1v.3h-71.1zM258.8 187.6h65.6v.3h-65.6zM248.9 187.9h69.9v.3h-69.9zM258 188.2h79.7v.3h-79.7zM256.7 188.5h69.5v.3h-69.5zM254.9 188.8h74.7v.3h-74.7zM253.2 189.1h78.8v.3h-78.8zM255.1 189.4h75.6v.3h-75.6zM253.9 189.7h73.2v.3h-73.2zM256.7 190h73.9v.3h-73.9zM255.9 190.3h75.8v.3h-75.8zM247.6 190.6h79.8v.3h-79.8zM255.9 190.9h71.1v.3h-71.1zM246.6 191.2h85.2v.3h-85.2zM257.8 191.5h73.7v.3h-73.7zM257.5 191.8h64.5v.3h-64.5zM259.9 192.1h69.9v.3h-69.9zM255.8 192.4h68.5v.3h-68.5zM249.4 192.7h79.6v.3h-79.6zM259.7 193h74.3v.3h-74.3zM248.6 193.3h85.9v.3h-85.9zM261.6 193.6h66.7v.3h-66.7zM260.4 193.9h69.1v.3h-69.1zM250.7 194.2h68.5v.3h-68.5zM256.2 194.5h61.5v.3h-61.5zM257.5 194.8h69.2v.3h-69.2zM255.9 195.1h71.8v.3h-71.8zM249.5 195.4h87.2v.3h-87.2zM258.1 195.7h67.6v.3h-67.6zM255.7 196h67.9v.3h-67.9zM258.2 196.3h67.9v.3h-67.9zM257.4 196.6h70.5v.3h-70.5zM259.3 196.9h70.4v.3h-70.4zM258.4 197.2h76v.3h-76zM250.6 197.5h79.8v.3h-79.8zM259.1 197.8h62.3v.3h-62.3zM246.9 198.1h81.5v.3h-81.5zM247.4 198.4h78v.3h-78zM258.1 198.7h62.9v.3h-62.9zM259 199h61.3v.3h-61.3zM258.1 199.3h69v.3h-69zM256 199.6h78.4v.3h-78.4zM257.5 199.9h68.2v.3h-68.2zM262.4 200.2h59.7v.3h-59.7zM256.2 200.5h85.2v.3h-85.2zM259.7 200.8h76v.3h-76zM260.5 201.1h66.2v.3h-66.2zM261.6 201.4h79.8v.3h-79.8zM258 201.7h75.2v.3h-75.2zM258.4 202h71v.3h-71zM258 202.3h64.4v.3h-64.4zM257.6 202.6h68.4v.3h-68.4zM256.3 202.9h76.3v.3h-76.3zM256.8 203.2h70.1v.3h-70.1zM258.8 203.5h64.8v.3h-64.8zM244.8 203.8h83v.3h-83zM254.4 204.1h81.5v.3h-81.5zM249.8 204.4h73.3v.3h-73.3zM253.2 204.7h86.6v.3h-86.6zM259.7 205h78.4v.3h-78.4zM248.5 205.3h83.1v.3h-83.1zM253 205.6h68.1v.3h-68.1zM259.8 205.9h71.9v.3h-71.9zM251.2 206.2h79.2v.3h-79.2zM247.9 206.5h86.6v.3h-86.6zM249.9 206.8h78.4v.3h-78.4zM256.3 207.1h72.8v.3h-72.8zM249.6 207.4h82.3v.3h-82.3zM259.1 207.7h80.5v.3h-80.5zM261.3 208h67.7v.3h-67.7zM261 208.3h76.6v.3h-76.6zM257.2 208.6h66.1v.3h-66.1zM260.1 208.9h70.4v.3h-70.4zM260.1 209.2h59.5v.3h-59.5zM247.6 209.5h83.8v.3h-83.8zM263.1 209.8h67.9v.3h-67.9zM265.4 210.1h61.3v.3h-61.3zM257.9 210.4h78.1v.3h-78.1zM261.8 210.7h63.1v.3h-63.1zM255.8 211h74.7v.3h-74.7zM263.5 211.3h62.2v.3h-62.2zM258.3 211.6h67.2v.3h-67.2zM260.3 211.9h67.5v.3h-67.5zM264.2 212.2h55.4v.3h-55.4zM262.5 212.5h72v.3h-72zM263.4 212.8h68.3v.3h-68.3zM263.9 213.1h67.2v.3h-67.2zM264 213.4h70.1v.3h-70.1zM253.8 213.7h65.9v.3h-65.9zM261.6 214h78.8v.3h-78.8zM260 214.3h61.7v.3h-61.7zM248.9 214.6h83.3v.3h-83.3zM263.2 214.9h69.8v.3h-69.8zM261.1 215.2h67v.3h-67zM248.1 215.5h90.2v.3h-90.2zM262.9 215.8h64.9v.3h-64.9zM252.9 216.1h80.3v.3h-80.3zM261.4 216.4h78.6v.3h-78.6zM259.7 216.7h71.2v.3h-71.2zM259.1 217h79.7v.3h-79.7zM261.5 217.3h65.1v.3h-65.1zM259.7 217.6h68.8v.3h-68.8zM264.3 217.9h75.1v.3h-75.1zM262.7 218.2h66.4v.3h-66.4zM265.2 218.5h62.1v.3h-62.1zM264.1 218.8h63.9v.3h-63.9zM264.9 219.1h62.8v.3h-62.8zM262.9 219.4h73.1v.3h-73.1zM251.9 219.7h82.8v.3h-82.8zM259.7 220h78.6v.3h-78.6zM264.9 220.3h66.5v.3h-66.5zM264.3 220.6h71.1v.3h-71.1zM259.5 220.9h65.9v.3h-65.9zM259.7 221.2h71.4v.3h-71.4zM261.7 221.5h58.1v.3h-58.1zM260.5 221.8h62.3v.3h-62.3zM250.9 222.1h82.5v.3h-82.5zM261.1 222.4h68.3v.3h-68.3zM260.8 222.7h65.6v.3h-65.6zM265.2 223h62.4v.3h-62.4zM260.7 223.3h74.9v.3h-74.9zM247.8 223.6h77.1v.3h-77.1zM263.1 223.9h73.3v.3h-73.3zM254.2 224.2h81.2v.3h-81.2zM261.3 224.5h70.1v.3h-70.1zM263.4 224.8h66v.3h-66zM259.6 225.1h64.8v.3h-64.8zM247.5 225.4h91.1v.3h-91.1zM262 225.7h63.5v.3h-63.5zM247.2 226h88.9v.3h-88.9zM261.7 226.3h73.5v.3h-73.5zM260.7 226.6h67v.3h-67zM263.9 226.9h56.7v.3h-56.7zM261.2 227.2h76.5v.3h-76.5zM264.4 227.5h63.3v.3h-63.3zM253 227.8h85.9v.3h-85.9zM262.1 228.1h72.4v.3h-72.4zM263.4 228.4h78.2v.3h-78.2zM260.3 228.7h79.4v.3h-79.4zM261.9 229h71.6v.3h-71.6zM261.5 229.3h77.9v.3h-77.9zM256.3 229.6h76.5v.3h-76.5zM263.8 229.9h68.1v.3h-68.1zM260.5 230.2h74.7v.3h-74.7zM263.9 230.5h57.5v.3h-57.5zM261.1 230.8h60.6v.3h-60.6zM261.4 231.1h62.9v.3h-62.9zM249 231.4h90v.3h-90zM251.6 231.7h74.4v.3h-74.4zM258.6 232h71v.3h-71zM244.2 232.3h90.6v.3h-90.6zM260.8 232.6h74.6v.3h-74.6zM255.8 232.9h74.5v.3h-74.5zM258.3 233.2h68.5v.3h-68.5zM257.6 233.5h73.1v.3h-73.1zM246.8 233.8h73.8v.3h-73.8zM244.4 234.1h83.7v.3h-83.7zM247.5 234.4h81v.3h-81zM241.3 234.7h87.1v.3h-87.1zM256.9 235h69.3v.3h-69.3zM243.7 235.3h87.2v.3h-87.2zM258.6 235.6h73.6v.3h-73.6zM256.4 235.9h68.6v.3h-68.6zM249.1 236.2h90.6v.3h-90.6zM257.7 236.5h68.9v.3h-68.9zM257.4 236.8h73.6v.3h-73.6zM238.2 237.1h102.4v.3h-102.4zM257.7 237.4h73.9v.3h-73.9zM258.9 237.7h77.4v.3h-77.4zM257.2 238h71.7v.3h-71.7zM258.9 238.3h74v.3h-74zM258.1 238.6h80.3v.3h-80.3zM257.3 238.9h72.3v.3h-72.3zM256.5 239.2h71.5v.3h-71.5zM257.5 239.5h76.9v.3h-76.9zM257.8 239.8h75.5v.3h-75.5zM245.2 240.1h96.6v.3h-96.6zM240.7 240.4h93.5v.3h-93.5zM256 240.7h81.4v.3h-81.4zM245.9 241h88.2v.3h-88.2zM256.6 241.3h66.9v.3h-66.9zM252.7 241.6h69.9v.3h-69.9zM255.5 241.9h81.3v.3h-81.3zM242.4 242.2h93.1v.3h-93.1zM256.2 242.5h81.4v.3h-81.4zM255.2 242.8h71.3v.3h-71.3zM254 243.1h73.9v.3h-73.9zM254.3 243.4h82.6v.3h-82.6zM243.1 243.7h88.3v.3h-88.3zM259.1 244h66.9v.3h-66.9zM258.4 244.3h79.6v.3h-79.6zM242.4 244.6h90.6v.3h-90.6zM256.6 244.9h78.4v.3h-78.4zM244.4 245.2h94.2v.3h-94.2zM252.8 245.5h77.6v.3h-77.6zM244.1 245.8h85.2v.3h-85.2zM252.4 246.1h86.5v.3h-86.5zM252.4 246.4h80.8v.3h-80.8zM248.2 246.7h84.7v.3h-84.7zM251.5 247h73.6v.3h-73.6zM251.7 247.3h81.7v.3h-81.7zM251 247.6h76.6v.3h-76.6zM240.7 247.9h95.4v.3h-95.4zM246.1 248.2h78.7v.3h-78.7zM248.6 248.5h83.7v.3h-83.7zM248.3 248.8h73.9v.3h-73.9zM246.1 249.1h85.9v.3h-85.9zM247.7 249.4h78.6v.3h-78.6zM246.7 249.7h80.6v.3h-80.6zM247.5 250h78.9v.3h-78.9zM249.6 250.3h77.6v.3h-77.6zM238.9 250.6h88.9v.3h-88.9zM249.3 250.9h78.4v.3h-78.4zM247.5 251.2h89.5v.3h-89.5zM246.7 251.5h88v.3h-88zM248.5 251.8h82.3v.3h-82.3zM248.2 252.1h82.9v.3h-82.9zM249.2 252.4h87.3v.3h-87.3zM249.2 252.7h83.2v.3h-83.2zM239.2 253h102.2v.3h-102.2zM246.7 253.3h75v.3h-75zM246.5 253.6h77.1v.3h-77.1zM247.1 253.9h80.3v.3h-80.3zM239.5 254.2h85.5v.3h-85.5zM239.7 254.5h92.8v.3h-92.8zM247.8 254.8h88.6v.3h-88.6zM247.9 255.1h79.6v.3h-79.6zM245.9 255.4h87.9v.3h-87.9zM248.3 255.7h87.7v.3h-87.7zM245.2 256h89.6v.3h-89.6zM239.5 256.3h93.3v.3h-93.3zM248.2 256.6h85.2v.3h-85.2zM246.5 256.9h80.5v.3h-80.5zM237.8 257.2h90.9v.3h-90.9zM243.6 257.5h89v.3h-89zM245.6 257.8h78.6v.3h-78.6zM247.1 258.1h83.7v.3h-83.7zM244.2 258.4h86.8v.3h-86.8zM243.7 258.7h91.3v.3h-91.3zM245.5 259h90.8v.3h-90.8zM247.5 259.3h90.5v.3h-90.5zM245.5 259.6h81.4v.3h-81.4zM244.3 259.9h90.4v.3h-90.4zM243.5 260.2h90v.3h-90zM244.7 260.5h78.6v.3h-78.6zM245 260.8h89.7v.3h-89.7zM246 261.1h92.8v.3h-92.8zM237.7 261.4h92.1v.3h-92.1zM246.9 261.7h94.3v.3h-94.3zM243.6 262h80.5v.3h-80.5zM237 262.3h89.8v.3h-89.8zM240.2 262.6h80.9v.3h-80.9zM238.2 262.9h81.9v.3h-81.9zM235.2 263.2h84.7v.3h-84.7zM231.8 263.5h96.9v.3h-96.9zM238.7 263.8h85.5v.3h-85.5zM229.1 264.1h101.6v.3h-101.6zM226.1 264.4h101v.3h-101zM235.8 264.7h94.6v.3h-94.6zM224.5 265h105.9v.3h-105.9zM236.1 265.3h90.7v.3h-90.7zM235.8 265.6h89.4v.3h-89.4zM235.6 265.9h101.6v.3h-101.6zM231.5 266.2h89.7v.3h-89.7zM232.5 266.5h89.7v.3h-89.7zM226.6 266.8h102.9v.3h-102.9zM229.8 267.1h98.8v.3h-98.8zM231.7 267.4h90.3v.3h-90.3zM229 267.7h107.5v.3h-107.5zM228.8 268h88.9v.3h-88.9zM227.3 268.3h96.7v.3h-96.7zM229.1 268.6h98.7v.3h-98.7zM230.5 268.9h97v.3h-97zM230.1 269.2h100.8v.3h-100.8zM219.7 269.5h101.6v.3h-101.6zM230.1 269.8h103.3v.3h-103.3zM228.4 270.1h104.8v.3h-104.8zM227 270.4h95.8v.3h-95.8zM222.2 270.7h99.8v.3h-99.8zM225.4 271h107v.3h-107zM225.4 271.3h93.8v.3h-93.8zM222.5 271.6h105.4v.3h-105.4zM212.2 271.9h108.1v.3h-108.1zM219 272.2h103.4v.3h-103.4zM223.4 272.5h109.4v.3h-109.4zM219.5 272.8h109.3v.3h-109.3zM223.7 273.1h97.9v.3h-97.9zM208.5 273.4h117.9v.3h-117.9zM220 273.7h114.5v.3h-114.5zM220.7 274h109.7v.3h-109.7zM219.2 274.3h97.3v.3h-97.3zM218.5 274.6h105.8v.3h-105.8zM213 274.9h115.3v.3h-115.3zM207.3 275.2h125.8v.3h-125.8zM217.1 275.5h102.5v.3h-102.5zM214.2 275.8h102.8v.3h-102.8zM214.8 276.1h105.3v.3h-105.3zM213.3 276.4h119.6v.3h-119.6zM207.6 276.7h109.7v.3h-109.7zM217 277h114.5v.3h-114.5zM212.8 277.3h104.6v.3h-104.6zM179.7 277.6h111.2v.3h-111.2zM179.7 277.9h108.9v.3h-108.9zM179.6 278.2h113.8v.3h-113.8zM179.7 278.5h109.1v.3h-109.1zM179.7 278.8h109.2v.3h-109.2zM179.6 279.1h109.5v.3h-109.5zM179.9 279.4h108v.3h-108zM179.6 279.7h113.1v.3h-113.1zM179.9 280h107.3v.3h-107.3zM180.1 280.3h109.1v.3h-109.1zM180.2 280.6h112.7v.3h-112.7zM180.2 280.9h111v.3h-111zM180.3 281.2h113v.3h-113zM180.3 281.5h109.8v.3h-109.8zM180 281.8h112.9v.3h-112.9zM233.1 282.1h33.6v.3h-33.6zM235.3 282.4h34.3v.3h-34.3zM236.5 282.7h40.6v.3h-40.6zM238.5 283h28.9v.3h-28.9zM232.7 283.3h45.1v.3h-45.1zM231.3 283.6h40.1v.3h-40.1zM233.9 283.9h38v.3h-38zM230.9 284.2h37.8v.3h-37.8zM230.4 284.5h51.1v.3h-51.1zM234.2 284.8h34.1v.3h-34.1zM236.2 285.1h40.4v.3h-40.4zM234.6 285.4h34.3v.3h-34.3zM236.4 285.7h41.9v.3h-41.9zM234.5 286h43.1v.3h-43.1zM233.6 286.3h39.2v.3h-39.2zM237.9 286.6h35.7v.3h-35.7zM234.9 286.9h36.4v.3h-36.4zM236.4 287.2h32.7v.3h-32.7zM238.3 287.5h37.5v.3h-37.5zM237.9 287.8h36.6v.3h-36.6zM236.3 288.1h38.6v.3h-38.6zM234.6 288.4h39.4v.3h-39.4zM241.5 288.7h30.9v.3h-30.9zM235.4 289h59.8v.3h-59.8zM230 289.3h42.9v.3h-42.9zM235.2 289.6h38.9v.3h-38.9zM233.6 289.9h35.2v.3h-35.2zM230.1 290.2h49.8v.3h-49.8zM231.3 290.5h39.9v.3h-39.9zM237 290.8h39.3v.3h-39.3zM236.7 291.1h40.5v.3h-40.5zM235.6 291.4h38.9v.3h-38.9zM231.7 291.7h36.7v.3h-36.7zM228.2 292h47.8v.3h-47.8zM228.7 292.3h44.6v.3h-44.6zM232.8 292.6h39.7v.3h-39.7zM234.3 292.9h43.3v.3h-43.3zM231.1 293.2h39.6v.3h-39.6zM235.4 293.5h41.5v.3h-41.5zM229.5 293.8h45.1v.3h-45.1zM233.9 294.1h43.3v.3h-43.3zM224.5 294.4h45.6v.3h-45.6zM229 294.7h45.6v.3h-45.6zM229.1 295h39.3v.3h-39.3zM227.3 295.3h49.8v.3h-49.8zM227.5 295.6h48.2v.3h-48.2zM225.6 295.9h86.4v.3h-86.4zM230.3 296.2h49.4v.3h-49.4zM230.7 296.5h52.6v.3h-52.6zM229.9 296.8h43.8v.3h-43.8zM228.7 297.1h45.9v.3h-45.9zM231.8 297.4h44.2v.3h-44.2zM225 297.7h42.6v.3h-42.6zM227.8 298h43.9v.3h-43.9zM230.6 298.3h39.5v.3h-39.5zM228.7 298.6h53.1v.3h-53.1zM236.8 298.9h46.8v.3h-46.8zM230.2 299.2h59.7v.3h-59.7zM238.2 299.5h36.6v.3h-36.6zM230.9 299.8h89.1v.3h-89.1zM225.8 300.1h40.7v.3h-40.7zM233.2 300.4h42v.3h-42zM227.9 300.7h44.6v.3h-44.6zM229.8 301h45.9v.3h-45.9zM229.4 301.3h34.5v.3h-34.5zM231.3 301.6h38.1v.3h-38.1zM231.8 301.9h35.5v.3h-35.5zM232.3 302.2h33.7v.3h-33.7zM235 302.5h27.6v.3h-27.6zM232.1 302.8h43.6v.3h-43.6zM232.9 303.1h45.7v.3h-45.7zM229.3 303.4h45v.3h-45zM227.4 303.7h38v.3h-38zM232.8 304h35.9v.3h-35.9zM227.9 304.3h37.9v.3h-37.9zM230 304.6h42.8v.3h-42.8zM228.6 304.9h44.7v.3h-44.7zM227.3 305.2h44.4v.3h-44.4zM227.9 305.5h45.2v.3h-45.2zM226.7 305.8h44.8v.3h-44.8zM228.2 306.1h39.2v.3h-39.2zM225 306.4h46.3v.3h-46.3zM228.7 306.7h42.8v.3h-42.8zM229.1 307h34.9v.3h-34.9zM228.4 307.3h46.6v.3h-46.6zM224.7 307.6h46.8v.3h-46.8zM227 307.9h38.8v.3h-38.8zM225.6 308.2h40.1v.3h-40.1zM224.4 308.5h44v.3h-44zM228.8 308.8h38.2v.3h-38.2zM229 309.1h43.1v.3h-43.1zM227.4 309.4h38.4v.3h-38.4zM223.5 309.7h44.7v.3h-44.7zM227.6 310h41.8v.3h-41.8zM229.7 310.3h41.4v.3h-41.4zM226.8 310.6h47.9v.3h-47.9zM234 310.9h37v.3h-37zM231.8 311.2h42.5v.3h-42.5zM232.4 311.5h39.4v.3h-39.4zM231.9 311.8h32.1v.3h-32.1zM233.6 312.1h31v.3h-31zM235 312.4h33.9v.3h-33.9zM232.5 312.7h35.8v.3h-35.8zM238 313h33.4v.3h-33.4zM233.8 313.3h38.6v.3h-38.6zM232.8 313.6h32.1v.3h-32.1zM231 313.9h34.1v.3h-34.1zM231.3 314.2h39.4v.3h-39.4zM231 314.5h39.7v.3h-39.7zM224.6 314.8h39.9v.3h-39.9zM223.5 315.1h47.6v.3h-47.6zM226.8 315.4h41.8v.3h-41.8zM224.7 315.7h40.4v.3h-40.4zM227 316h47.9v.3h-47.9zM221.9 316.3h44.6v.3h-44.6zM223.4 316.6h38.7v.3h-38.7zM225.6 316.9h40.7v.3h-40.7zM226.6 317.2h36v.3h-36zM224.6 317.5h48.5v.3h-48.5zM224.5 317.8h35.7v.3h-35.7zM221.7 318.1h62.7v.3h-62.7zM223.2 318.4h44.8v.3h-44.8zM230 318.7h38.4v.3h-38.4zM225.3 319h42.2v.3h-42.2zM226.4 319.3h34.6v.3h-34.6zM227.2 319.6h39.7v.3h-39.7zM226 319.9h42.3v.3h-42.3zM228.4 320.2h34.7v.3h-34.7zM221.6 320.5h52.8v.3h-52.8zM219.8 320.8h45.9v.3h-45.9zM224.6 321.1h44.5v.3h-44.5zM224.5 321.4h42.2v.3h-42.2zM228.2 321.7h35.6v.3h-35.6zM226 322h42.3v.3h-42.3zM227.4 322.3h37.3v.3h-37.3zM226.5 322.6h39v.3h-39zM226.1 322.9h43.5v.3h-43.5zM228 323.2h44.9v.3h-44.9zM228.9 323.5h42.1v.3h-42.1zM226.2 323.8h43.7v.3h-43.7zM226.6 324.1h49v.3h-49zM223.2 324.4h45v.3h-45zM226.9 324.7h38.5v.3h-38.5zM227.6 325h41.5v.3h-41.5zM229.8 325.3h46v.3h-46zM227 325.6h46.9v.3h-46.9zM225.7 325.9h40.8v.3h-40.8zM231.1 326.2h40.6v.3h-40.6zM230.4 326.5h44.5v.3h-44.5zM228.3 326.8h42.2v.3h-42.2zM225.6 327.1h46.5v.3h-46.5zM225.9 327.4h46v.3h-46zM227.7 327.7h42.1v.3h-42.1zM224.2 328h42.5v.3h-42.5zM223.4 328.3h45.6v.3h-45.6zM227 328.6h41.5v.3h-41.5zM224.5 328.9h43.7v.3h-43.7zM226.6 329.2h43.8v.3h-43.8zM223.1 329.5h40.6v.3h-40.6zM224 329.8h42.5v.3h-42.5zM222.6 330.1h42.3v.3h-42.3zM221.2 330.4h56.9v.3h-56.9zM216.8 330.7h60v.3h-60zM216.7 331h50.1v.3h-50.1zM217.2 331.3h54.4v.3h-54.4zM215.2 331.6h55.7v.3h-55.7zM218.5 331.9h56.9v.3h-56.9zM217.6 332.2h53.8v.3h-53.8zM217.5 332.5h49.1v.3h-49.1zM214.7 332.8h62.1v.3h-62.1zM216.9 333.1h58.3v.3h-58.3zM214.8 333.4h58v.3h-58zM222 333.7h53.8v.3h-53.8zM216.7 334h51.6v.3h-51.6zM219.7 334.3h50.8v.3h-50.8zM216.9 334.6h48.2v.3h-48.2zM213.2 334.9h59.6v.3h-59.6zM216.6 335.2h56.9v.3h-56.9zM211.1 335.5h59.3v.3h-59.3zM207.3 335.8h62.5v.3h-62.5zM206.7 336.1h69.2v.3h-69.2zM216.4 336.4h57.3v.3h-57.3zM213.2 336.7h64v.3h-64zM213.6 337h65.1v.3h-65.1zM214.4 337.3h56.3v.3h-56.3zM214.7 337.6h54.2v.3h-54.2zM211.6 337.9h58.8v.3h-58.8zM216.3 338.2h57.6v.3h-57.6zM212.7 338.5h63.8v.3h-63.8zM212.8 338.8h56.7v.3h-56.7zM210.6 339.1h66.2v.3h-66.2zM208.4 339.4h60.7v.3h-60.7zM209.5 339.7h61.6v.3h-61.6zM211.1 340h63.7v.3h-63.7zM212.4 340.3h57.6v.3h-57.6zM205.2 340.6h75.9v.3h-75.9zM203.4 340.9h78v.3h-78zM208.7 341.2h63.9v.3h-63.9zM202.9 341.5h74.9v.3h-74.9zM205.4 341.8h73.1v.3h-73.1zM207 342.1h72.3v.3h-72.3zM204.8 342.4h77.1v.3h-77.1zM204.5 342.7h75.1v.3h-75.1zM208.7 343h66.4v.3h-66.4zM212 343.3h57.8v.3h-57.8zM212.6 343.6h65v.3h-65zM212.7 343.9h56.3v.3h-56.3zM209.1 344.2h64.8v.3h-64.8zM210 344.5h64v.3h-64zM209.2 344.8h72.1v.3h-72.1zM204.9 345.1h68.1v.3h-68.1zM204.3 345.4h69.4v.3h-69.4zM205.9 345.7h68.3v.3h-68.3zM207.8 346h66.4v.3h-66.4zM192.5 346.3h112.4v.3h-112.4zM179.6 346.6h123.2v.3h-123.2zM188.9 346.9h111.1v.3h-111.1zM190.2 347.2h116.5v.3h-116.5zM193.2 347.5h109.5v.3h-109.5zM179.6 347.8h129.7v.3h-129.7zM199.7 348.1h106.7v.3h-106.7zM197.2 348.4h108.1v.3h-108.1zM199.7 348.7h115.1v.3h-115.1zM197.9 349h104.7v.3h-104.7zM201.4 349.3h107.1v.3h-107.1zM200.4 349.6h105.2v.3h-105.2zM202.3 349.9h100.2v.3h-100.2zM203.9 350.2h102.3v.3h-102.3zM204.5 350.5h100.4v.3h-100.4zM205.7 350.8h98.9v.3h-98.9zM204.6 351.1h121.1v.3h-121.1zM218 351.4h89.6v.3h-89.6zM216.5 351.7h93.6v.3h-93.6zM218.5 352h95.1v.3h-95.1zM214.8 352.3h95.3v.3h-95.3zM218.7 352.6h90.8v.3h-90.8zM217.2 352.9h99.8v.3h-99.8zM218 353.2h98.7v.3h-98.7zM218.5 353.5h89.1v.3h-89.1zM216.2 353.8h97.3v.3h-97.3zM221.3 354.1h90.7v.3h-90.7zM217.1 354.4h100.7v.3h-100.7zM197.1 354.7h118.5v.3h-118.5zM217.1 355h97.7v.3h-97.7zM221 355.3h90.6v.3h-90.6zM221.4 355.6h99.2v.3h-99.2zM200.6 355.9h119.9v.3h-119.9zM222.9 356.2h95.7v.3h-95.7zM221.8 356.5h90.7v.3h-90.7zM219.9 356.8h89v.3h-89zM224.5 357.1h90.3v.3h-90.3zM225.1 357.4h81.9v.3h-81.9zM226.7 357.7h84.8v.3h-84.8zM224.9 358h88.4v.3h-88.4zM230.2 358.3h89.6v.3h-89.6zM228.3 358.6h85.7v.3h-85.7zM224.4 358.9h87v.3h-87zM226.4 359.2h88.3v.3h-88.3zM229.6 359.5h100.1v.3h-100.1zM229.7 359.8h92.7v.3h-92.7zM232.2 360.1h83.4v.3h-83.4zM232.2 360.4h88v.3h-88zM230.4 360.7h85.2v.3h-85.2zM233.3 361h87.4v.3h-87.4zM232.4 361.3h88.5v.3h-88.5zM235.5 361.6h92.2v.3h-92.2zM235 361.9h82.6v.3h-82.6zM241.3 362.2h80.1v.3h-80.1zM241 362.5h85.7v.3h-85.7zM241.4 362.8h75.9v.3h-75.9zM238 363.1h84.2v.3h-84.2zM239.6 363.4h82.1v.3h-82.1zM243.4 363.7h73.3v.3h-73.3zM234.4 364h96.6v.3h-96.6zM240.7 364.3h78.2v.3h-78.2zM240.2 364.6h83.3v.3h-83.3zM241.5 364.9h77.6v.3h-77.6zM241.4 365.2h84.5v.3h-84.5zM241.8 365.5h88.8v.3h-88.8zM236.6 365.8h87.2v.3h-87.2zM237.5 366.1h94.7v.3h-94.7zM241.1 366.4h76v.3h-76zM242.2 366.7h79.4v.3h-79.4zM239.3 367h88.9v.3h-88.9zM239.8 367.3h84.8v.3h-84.8zM240.1 367.6h88.9v.3h-88.9zM242.3 367.9h80.5v.3h-80.5zM245 368.2h88.7v.3h-88.7zM229.5 368.5h88.6v.3h-88.6zM243.2 368.8h82.4v.3h-82.4zM242.9 369.1h88.2v.3h-88.2zM244 369.4h79.4v.3h-79.4zM242.7 369.7h78.6v.3h-78.6zM246.3 370h76.1v.3h-76.1zM245.8 370.3h75.1v.3h-75.1zM243.5 370.6h83.2v.3h-83.2zM243.1 370.9h75.7v.3h-75.7zM243.4 371.2h88.2v.3h-88.2zM235.5 371.5h95.6v.3h-95.6zM242.6 371.8h79.7v.3h-79.7zM243.5 372.1h87.6v.3h-87.6zM240.5 372.4h86.4v.3h-86.4zM240.7 372.7h100.3v.3h-100.3zM228.9 373h93v.3h-93zM242.2 373.3h84.2v.3h-84.2zM241.4 373.6h87.1v.3h-87.1zM239.7 373.9h89.4v.3h-89.4zM240.4 374.2h87.6v.3h-87.6zM243.7 374.5h89.9v.3h-89.9zM228.4 374.8h97v.3h-97zM245.6 375.1h71.5v.3h-71.5zM235.3 375.4h91.1v.3h-91.1zM246.3 375.7h72.4v.3h-72.4zM231.8 376h88.9v.3h-88.9zM232.4 376.3h96.8v.3h-96.8zM229.5 376.6h94.2v.3h-94.2zM226.1 376.9h92.3v.3h-92.3zM222 377.2h98.4v.3h-98.4zM224.8 377.5h100.2v.3h-100.2zM221.4 377.8h96.3v.3h-96.3zM222.2 378.1h102.8v.3h-102.8zM225.9 378.4h44.1v.3h-44.1zM224.5 378.7h98.3v.3h-98.3zM225.5 379h91.6v.3h-91.6zM222.6 379.3h97.4v.3h-97.4zM225.1 379.6h97.2v.3h-97.2zM222.4 379.9h101.1v.3h-101.1zM224.4 380.2h103.7v.3h-103.7zM223.9 380.5h95v.3h-95zM222.1 380.8h96.3v.3h-96.3zM236 381.1h80.1v.3h-80.1zM238.8 381.4h81.3v.3h-81.3zM239.8 381.7h91.8v.3h-91.8zM241.1 382h87.2v.3h-87.2zM241.8 382.3h77.7v.3h-77.7zM239.4 382.6h80.8v.3h-80.8zM241.1 382.9h82.1v.3h-82.1zM241.2 383.2h74.4v.3h-74.4zM228.8 383.5h92.1v.3h-92.1zM239.3 383.8h88.4v.3h-88.4zM241.2 384.1h81.4v.3h-81.4zM238.9 384.4h89.7v.3h-89.7zM241.8 384.7h84.8v.3h-84.8zM242.8 385h71.9v.3h-71.9zM244.2 385.3h84.7v.3h-84.7zM243.8 385.6h81.1v.3h-81.1zM241.4 385.9h81.7v.3h-81.7zM242.9 386.2h74v.3h-74zM243.3 386.5h71.4v.3h-71.4zM242.5 386.8h83.9v.3h-83.9zM242.4 387.1h74.8v.3h-74.8zM241.2 387.4h84.2v.3h-84.2zM245.3 387.7h83.7v.3h-83.7zM244.9 388h80.7v.3h-80.7zM242.5 388.3h80.9v.3h-80.9zM242.1 388.6h75.5v.3h-75.5zM243.8 388.9h77.5v.3h-77.5zM246.6 389.2h82.9v.3h-82.9zM243.9 389.5h76v.3h-76zM243.6 389.8h83.6v.3h-83.6zM245.4 390.1h86v.3h-86zM244.9 390.4h69.4v.3h-69.4zM246.2 390.7h81.8v.3h-81.8zM245.8 391h72.3v.3h-72.3zM244.6 391.3h70.3v.3h-70.3zM246.6 391.6h76.6v.3h-76.6zM245.3 391.9h75.5v.3h-75.5zM246.6 392.2h76.2v.3h-76.2zM240.8 392.5h84.7v.3h-84.7zM246.5 392.8h74.7v.3h-74.7zM250.9 393.1h79.8v.3h-79.8zM249.1 393.4h78v.3h-78zM245.7 393.7h68.8v.3h-68.8zM243.7 394h78.5v.3h-78.5zM243.8 394.3h80.9v.3h-80.9zM241.6 394.6h85.2v.3h-85.2zM242 394.9h81.9v.3h-81.9zM238.1 395.2h86.5v.3h-86.5zM240.5 395.5h83.8v.3h-83.8zM240.9 395.8h88.2v.3h-88.2zM240.6 396.1h75.2v.3h-75.2zM237.8 396.4h88.7v.3h-88.7zM237.2 396.7h79.7v.3h-79.7zM236.7 397h85.7v.3h-85.7zM238.4 397.3h85.9v.3h-85.9zM217.4 397.6h104.1v.3h-104.1zM237.8 397.9h84.9v.3h-84.9zM234 398.2h92.9v.3h-92.9zM233.4 398.5h85.5v.3h-85.5zM234.1 398.8h83.5v.3h-83.5zM230.8 399.1h88.2v.3h-88.2zM233.1 399.4h89.2v.3h-89.2zM232.8 399.7h84.5v.3h-84.5zM229.9 400h96v.3h-96zM228.8 400.3h104.2v.3h-104.2zM227.1 400.6h95.3v.3h-95.3zM224.1 400.9h100.9v.3h-100.9zM227 401.2h86.3v.3h-86.3zM224.1 401.5h88.5v.3h-88.5zM223 401.8h98.4v.3h-98.4zM226.4 402.1h94.9v.3h-94.9zM226.4 402.4h95.1v.3h-95.1zM222.7 402.7h92.4v.3h-92.4zM224.2 403h100.5v.3h-100.5zM222.6 403.3h102.3v.3h-102.3zM206.1 403.6h120.9v.3h-120.9zM220.3 403.9h118.5v.3h-118.5zM216.9 404.2h99.3v.3h-99.3zM211.3 404.5h108v.3h-108zM218.7 404.8h110.4v.3h-110.4zM217 405.1h104.3v.3h-104.3zM216.2 405.4h102.8v.3h-102.8zM213.9 405.7h100.2v.3h-100.2zM211.4 406h107.4v.3h-107.4zM212.7 406.3h112.5v.3h-112.5zM210.3 406.6h112.8v.3h-112.8zM207 406.9h118.3v.3h-118.3zM205.7 407.2h111.3v.3h-111.3zM205.8 407.5h124v.3h-124zM205.3 407.8h117.4v.3h-117.4zM179.6 408.1h99.1v.3h-99.1zM212.2 408.4h66v.3h-66zM213.2 408.7h63.4v.3h-63.4zM213.3 409h71.5v.3h-71.5zM219 409.3h59.1v.3h-59.1zM191.8 409.6h92.2v.3h-92.2zM207.2 409.9h81.4v.3h-81.4zM208.2 410.2h80.7v.3h-80.7zM179.6 410.5h98v.3h-98zM218.4 410.8h55.7v.3h-55.7zM203.9 411.1h74.1v.3h-74.1zM188.9 411.4h87.2v.3h-87.2zM198.7 411.7h85.1v.3h-85.1zM219.3 412h61.9v.3h-61.9zM196 412.3h80v.3h-80zM210.8 412.6h68.2v.3h-68.2zM182.7 412.9h93.5v.3h-93.5zM184.4 413.2h90.1v.3h-90.1zM190.5 413.5h86.7v.3h-86.7zM221.7 413.8h56v.3h-56zM212 414.1h64v.3h-64zM215.7 414.4h67v.3h-67zM207.8 414.7h69.8v.3h-69.8zM202.4 415h77.4v.3h-77.4zM222.6 415.3h51.5v.3h-51.5zM203 415.6h72.1v.3h-72.1zM195.8 415.9h74.8v.3h-74.8zM216.5 416.2h59.4v.3h-59.4zM221.9 416.5h57.2v.3h-57.2zM217.7 416.8h55.9v.3h-55.9zM197 417.1h89v.3h-89zM197.3 417.4h83.3v.3h-83.3zM184.7 417.7h103v.3h-103zM225.9 418h86.1v.3h-86.1zM221 418.3h54.6v.3h-54.6zM219.9 418.6h68.2v.3h-68.2zM202.3 418.9h76.5v.3h-76.5zM200.1 419.2h86.6v.3h-86.6zM200.5 419.5h82.3v.3h-82.3zM207.5 419.8h75.3v.3h-75.3zM252.7 420.1h28.8v.3h-28.8zM206.8 420.4h73.4v.3h-73.4zM224.4 420.7h50.7v.3h-50.7zM209.3 421h70.9v.3h-70.9zM236.1 421.3h41.3v.3h-41.3zM213 421.6h67.5v.3h-67.5zM232.2 421.9h49.4v.3h-49.4zM232.5 422.2h54v.3h-54zM248.5 422.5h24.6v.3h-24.6zM213.6 422.8h76.4v.3h-76.4zM211.3 423.1h72.2v.3h-72.2zM228.7 423.4h44.9v.3h-44.9zM232.4 423.7h50.7v.3h-50.7zM208.9 424h73.3v.3h-73.3zM211.3 424.3h73.1v.3h-73.1zM223.1 424.6h50.4v.3h-50.4zM235.2 424.9h40.4v.3h-40.4zM236.4 425.2h37.3v.3h-37.3zM229.9 425.5h49.3v.3h-49.3zM235.3 425.8h49.4v.3h-49.4zM240.9 426.1h44.9v.3h-44.9zM212 426.4h77.9v.3h-77.9zM204.2 426.7h89.2v.3h-89.2zM247.3 427h30v.3h-30zM224.5 427.3h60.3v.3h-60.3zM243.6 427.6h38.5v.3h-38.5zM227.2 427.9h50.5v.3h-50.5zM243.1 428.2h34.1v.3h-34.1zM221.4 428.5h66.4v.3h-66.4zM243.5 428.8h39.6v.3h-39.6zM216.6 429.1h66.4v.3h-66.4zM219.5 429.4h63.5v.3h-63.5zM197 429.7h82.6v.3h-82.6zM245.7 430h44.5v.3h-44.5zM234.5 430.3h46.5v.3h-46.5zM221 430.6h63.1v.3h-63.1zM236.9 430.9h46.4v.3h-46.4zM209.5 431.2h75.7v.3h-75.7zM221.6 431.5h63.7v.3h-63.7zM220.8 431.8h59.2v.3h-59.2zM226.6 432.1h53.1v.3h-53.1zM226.8 432.4h56.3v.3h-56.3zM255.2 432.7h26.5v.3h-26.5zM193.2 433h93.1v.3h-93.1zM207.6 433.3h72.6v.3h-72.6zM197.6 433.6h86.6v.3h-86.6zM223.2 433.9h63.6v.3h-63.6zM222.3 434.2h67.5v.3h-67.5zM226.9 434.5h57.4v.3h-57.4zM219.1 434.8h57.8v.3h-57.8zM218.8 435.1h63.7v.3h-63.7zM201.7 435.4h73.4v.3h-73.4zM210.6 435.7h70.3v.3h-70.3zM194.3 436h83.9v.3h-83.9zM193.1 436.3h88.9v.3h-88.9zM190.6 436.6h90.5v.3h-90.5zM196.8 436.9h87.3v.3h-87.3zM216.8 437.2h65.9v.3h-65.9zM227 437.5h59.7v.3h-59.7zM215.1 437.8h67.8v.3h-67.8zM193.9 438.1h79.8v.3h-79.8zM208.9 438.4h68.5v.3h-68.5zM217 438.7h71.1v.3h-71.1zM214.4 439h58.9v.3h-58.9zM201 439.3h78.7v.3h-78.7zM211.2 439.6h76.9v.3h-76.9zM185 439.9h96.4v.3h-96.4zM195.7 440.2h83.4v.3h-83.4zM189.6 440.5h90.2v.3h-90.2zM226.4 440.8h62.8v.3h-62.8zM188 441.1h101.4v.3h-101.4zM213.2 441.4h67.4v.3h-67.4zM200.9 441.7h79.7v.3h-79.7zM219.5 442h57.4v.3h-57.4zM191 442.3h85.6v.3h-85.6zM220.1 442.6h59.2v.3h-59.2zM228 442.9h56.1v.3h-56.1zM200.8 443.2h80.9v.3h-80.9zM193.4 443.5h91.6v.3h-91.6zM232.7 443.8h41.3v.3h-41.3zM205 444.1h76.5v.3h-76.5zM183.6 444.4h100.1v.3h-100.1zM193.7 444.7h84.6v.3h-84.6zM258.4 445h20.1v.3h-20.1zM260.2 445.3h22.3v.3h-22.3zM261.3 445.6h14v.3h-14zM253 445.9h27.2v.3h-27.2zM260.2 446.2h13.2v.3h-13.2zM260.5 446.5h20v.3h-20zM261.3 446.8h16.2v.3h-16.2zM263.5 447.1h19.2v.3h-19.2zM266.1 447.4h5v.3h-5zM262.6 447.7h25v.3h-25zM261.7 448h19.9v.3h-19.9zM264 448.3h13.4v.3h-13.4zM263.8 448.6h20.7v.3h-20.7zM261.9 448.9h22.4v.3h-22.4zM258.8 449.2h24v.3h-24zM258.8 449.5h17.3v.3h-17.3zM260.6 449.8h11.4v.3h-11.4zM261.2 450.1h21.9v.3h-21.9zM261.1 450.4h18.2v.3h-18.2zM264 450.7h21.4v.3h-21.4zM261.1 451h19.2v.3h-19.2zM262 451.3h12.4v.3h-12.4zM262.1 451.6h14.5v.3h-14.5zM262.2 451.9h17.5v.3h-17.5zM262.4 452.2h10.7v.3h-10.7zM261.9 452.5h16.5v.3h-16.5zM260.9 452.8h20.6v.3h-20.6zM262.1 453.1h7.5v.3h-7.5zM259.7 453.4h18.1v.3h-18.1zM264 453.7h27.5v.3h-27.5zM263.6 454h22.5v.3h-22.5zM249.8 454.3h30.4v.3h-30.4zM251.5 454.6h34.9v.3h-34.9zM263.3 454.9h19v.3h-19zM264.5 455.2h20v.3h-20zM263.1 455.5h16.4v.3h-16.4zM263 455.8h28.8v.3h-28.8zM261.3 456.1h21.5v.3h-21.5zM262.3 456.4h19.6v.3h-19.6zM262.8 456.7h14.8v.3h-14.8zM262.8 457h27.5v.3h-27.5zM259.4 457.3h18.5v.3h-18.5zM263.9 457.6h16.3v.3h-16.3zM261.6 457.9h12.4v.3h-12.4zM262.4 458.2h22.5v.3h-22.5zM265.1 458.5h24.2v.3h-24.2zM263.9 458.8h14.8v.3h-14.8zM260.9 459.1h13.8v.3h-13.8zM262.6 459.4h24.2v.3h-24.2zM261 459.7h26v.3h-26zM261.9 460h17.6v.3h-17.6zM258.2 460.3h16.7v.3h-16.7zM258.9 460.6h20.4v.3h-20.4zM262.4 460.9h18.7v.3h-18.7zM260.8 461.2h18.2v.3h-18.2zM264.7 461.5h13.6v.3h-13.6zM258.3 461.8h14.9v.3h-14.9zM265.1 462.1h11v.3h-11zM263.4 462.4h22.9v.3h-22.9zM265.5 462.7h16.8v.3h-16.8zM264.8 463h12v.3h-12zM262.1 463.3h20.4v.3h-20.4zM257.7 463.6h23.3v.3h-23.3zM262.8 463.9h18.2v.3h-18.2zM254.8 464.2h23.6v.3h-23.6zM262.5 464.5h36.9v.3h-36.9zM261.9 464.8h15.7v.3h-15.7zM263.8 465.1h19.6v.3h-19.6zM262.1 465.4h12.6v.3h-12.6zM255.5 465.7h22.3v.3h-22.3zM263.6 466h23.4v.3h-23.4zM252.6 466.3h28.7v.3h-28.7zM262.5 466.6h12.6v.3h-12.6zM262.5 466.9h15v.3h-15zM263.1 467.2h22.1v.3h-22.1zM260.7 467.5h19.7v.3h-19.7zM262.6 467.8h17.9v.3h-17.9zM264.1 468.1h28.4v.3h-28.4zM261.9 468.4h22.7v.3h-22.7zM261.6 468.7h14.9v.3h-14.9zM261.7 469h23.9v.3h-23.9zM258.5 469.3h24.2v.3h-24.2zM260.3 469.6h22.5v.3h-22.5zM261.3 469.9h32.3v.3h-32.3zM262.6 470.2h33v.3h-33zM261.1 470.5h23.2v.3h-23.2zM263.1 470.8h19.6v.3h-19.6zM262.7 471.1h21v.3h-21zM264.5 471.4h16.9v.3h-16.9zM263.2 471.7h31.2v.3h-31.2zM263.9 472h18.4v.3h-18.4zM257.1 472.3h27.6v.3h-27.6zM264 472.6h17.7v.3h-17.7zM263.2 472.9h17.5v.3h-17.5zM262.4 473.2h19.5v.3h-19.5zM260.7 473.5h23.1v.3h-23.1zM264.4 473.8h21.8v.3h-21.8zM262.9 474.1h19.7v.3h-19.7zM258.6 474.4h25.2v.3h-25.2zM261.2 474.7h19.4v.3h-19.4zM262.5 475h10.6v.3h-10.6zM260.3 475.3h17v.3h-17zM252.5 475.6h30.5v.3h-30.5zM261.8 475.9h24.2v.3h-24.2zM260.4 476.2h24.3v.3h-24.3zM259.3 476.5h24v.3h-24zM261.3 476.8h14.7v.3h-14.7zM256.9 477.1h15.6v.3h-15.6zM262.7 477.4h20.8v.3h-20.8zM261.1 477.7h17.6v.3h-17.6zM261.9 478h17.5v.3h-17.5zM262.8 478.3h26.2v.3h-26.2zM261 478.6h17.2v.3h-17.2zM261.2 478.9h22.8v.3h-22.8zM263.3 479.2h13.7v.3h-13.7zM261 479.5h18.9v.3h-18.9zM262.6 479.8h18.7v.3h-18.7zM255.5 480.1h16.1v.3h-16.1zM255.2 480.4h14.8v.3h-14.8zM255.8 480.7h23v.3h-23zM256.6 481h27.7v.3h-27.7zM253.2 481.3h20v.3h-20zM254.4 481.6h26.1v.3h-26.1zM255.4 481.9h16.5v.3h-16.5zM248.5 482.2h25.5v.3h-25.5zM256.7 482.5h17.2v.3h-17.2zM257 482.8h26.9v.3h-26.9zM255.7 483.1h24.8v.3h-24.8zM256.4 483.4h19.8v.3h-19.8zM256.8 483.7h22v.3h-22zM255.5 484h14v.3h-14zM256 484.3h18.3v.3h-18.3zM255.3 484.6h25.1v.3h-25.1zM252 484.9h25.7v.3h-25.7zM254.5 485.2h19.8v.3h-19.8zM254.6 485.5h20.3v.3h-20.3zM242.5 485.8h42.2v.3h-42.2zM256.5 486.1h23.4v.3h-23.4zM254.9 486.4h27.8v.3h-27.8zM254.7 486.7h20.8v.3h-20.8zM255.3 487h18.6v.3h-18.6zM256.4 487.3h17.4v.3h-17.4zM254.6 487.6h22.1v.3h-22.1zM253.3 487.9h29.7v.3h-29.7zM253.8 488.2h18v.3h-18zM252 488.5h27.1v.3h-27.1zM252 488.8h25.2v.3h-25.2zM253.2 489.1h26.4v.3h-26.4zM236.8 489.4h45v.3h-45zM252.4 489.7h28.7v.3h-28.7zM254.8 490h23.8v.3h-23.8zM255.4 490.3h17.7v.3h-17.7zM254.3 490.6h15v.3h-15zM254.1 490.9h18.2v.3h-18.2zM254.6 491.2h19.6v.3h-19.6zM256.7 491.5h16v.3h-16zM256.3 491.8h11.6v.3h-11.6zM251.2 492.1h30.1v.3h-30.1zM251.9 492.4h21.8v.3h-21.8zM255.1 492.7h16.7v.3h-16.7zM256.3 493h14v.3h-14zM254.8 493.3h26.9v.3h-26.9zM256.2 493.6h16.2v.3h-16.2zM251.6 493.9h19.1v.3h-19.1zM230.7 494.2h44.8v.3h-44.8zM256.9 494.5h13v.3h-13zM253.5 494.8h21.3v.3h-21.3zM253.8 495.1h21.9v.3h-21.9zM249.3 495.4h20.9v.3h-20.9zM232.1 495.7h31.7v.3h-31.7zM237.5 496h22.2v.3h-22.2zM234.3 496.3h27.2v.3h-27.2zM239.1 496.6h21.5v.3h-21.5zM234.8 496.9h28.8v.3h-28.8zM240.8 497.2h22.6v.3h-22.6zM237.6 497.5h23.4v.3h-23.4zM239.4 497.8h21.2v.3h-21.2zM239.7 498.1h21.9v.3h-21.9zM232.6 498.4h29.3v.3h-29.3zM239.1 498.7h20.7v.3h-20.7zM239.7 499h23.4v.3h-23.4zM236.4 499.3h27v.3h-27zM238.7 499.6h24.5v.3h-24.5zM240 499.9h22.6v.3h-22.6zM238.6 500.2h28v.3h-28zM234.9 500.5h31.2v.3h-31.2zM242.6 500.8h23.6v.3h-23.6zM238.2 501.1h26v.3h-26zM222.7 501.4h40.8v.3h-40.8zM237.4 501.7h27.6v.3h-27.6zM234 502h28.3v.3h-28.3zM231.1 502.3h28.6v.3h-28.6zM234.9 502.6h25.7v.3h-25.7zM234.9 502.9h27.8v.3h-27.8zM238.4 503.2h29.5v.3h-29.5zM238.5 503.5h24.9v.3h-24.9zM237.6 503.8h28.1v.3h-28.1zM235.7 504.1h29.9v.3h-29.9zM236.7 504.4h26.8v.3h-26.8zM241.2 504.7h22.6v.3h-22.6zM273.2 526.9h4.3v.3h-4.3zM271.8 535.3h6.4v.3h-6.4zM273.1 537.7h3v.3h-3zM273.2 538h.2v.3h-.2zM273.3 538.9h.6v.3h-.6zM272.9 539.5h.5v.3h-.5zM271.6 540.7h.3v.3h-.3zM270.8 541.3h5.2v.3h-5.2zM273.5 541.6h1.2v.3h-1.2zM272.6 542.2h0v.3h0zM274.4 544h.4v.3h-.4zM273.2 545.8h1.3v.3h-1.3zM291.1 546.4h6.1v.3h-6.1zM284.3 547.9h5.7v.3h-5.7zM291.6 552.4h4v.3h-4zM287 553.3h1.5v.3h-1.5zM287.7 553.6h.9v.3h-.9zM290.4 556h23.6v.3h-23.6zM291.2 558.4h6.9v.3h-6.9zM291.2 560.5h6.7v.3h-6.7zM293.6 561.7h2.7v.3h-2.7zM290.8 563.8h15.2v.3h-15.2zM289.2 566.2h3.4v.3h-3.4zM289 566.8h1.2v.3h-1.2zM287 567.1h3.7v.3h-3.7zM291.1 567.4h.8v.3h-.8zM286.5 571.6h.9v.3h-.9zM290.4 573.1h.9v.3h-.9zM289 576.4h1.5v.3h-1.5zM289 577.3h3.6v.3h-3.6zM286.4 580.9h3.7v.3h-3.7zM289.2 581.5h0v.3h0zM286.8 582.1h4.4v.3h-4.4zM288.7 583h6.5v.3h-6.5zM287.6 583.3h15.3v.3h-15.3zM287.5 585.1h21v.3h-21zM288.2 586.3h2.9v.3h-2.9zM286.5 588.1h11.8v.3h-11.8zM289.3 589.6h5.8v.3h-5.8zM285.5 590.2h.7v.3h-.7zM285.6 590.8h5.2v.3h-5.2zM285.7 591.7h.7v.3h-.7zM288.7 592.9h2.2v.3h-2.2zM288.3 593.2h4.4v.3h-4.4zM288.2 594.1h4.3v.3h-4.3zM290.3 594.4h4.5v.3h-4.5zM290.5 594.7h6.1v.3h-6.1zM287.3 595.3h8.7v.3h-8.7zM287.9 596.2h4.2v.3h-4.2zM288.8 597.7h2.3v.3h-2.3zM291.7 598h2.4v.3h-2.4zM290.6 599.5h4.5v.3h-4.5zM292.2 600.4h5.9v.3h-5.9zM294.3 604h2.7v.3h-2.7zM290.1 610.9h.8v.3h-.8zM294.5 613h2.6v.3h-2.6zM291.6 613.6h5.1v.3h-5.1zM286 616.6h5v.3h-5zM292.2 618.1h4.4v.3h-4.4zM292.6 620.2h1.8v.3h-1.8zM292.2 621.4h9v.3h-9zM294.1 622.3h11.9v.3h-11.9zM295 624.1h1.2v.3h-1.2zM294.8 625h1.7v.3h-1.7zM293.2 628.6h9.2v.3h-9.2zM293.1 628.9h.2v.3h-.2zM293.5 629.8h4.6v.3h-4.6zM291.9 630.4h4v.3h-4zM290.8 632.5h1.7v.3h-1.7zM295 632.8h7.8v.3h-7.8zM287.3 634.3h.4v.3h-.4zM290.9 635.8h4.9v.3h-4.9zM292.3 636.1h1.2v.3h-1.2zM291.5 636.7h.5v.3h-.5zM295.6 639.7h.5v.3h-.5zM295.4 640h4.3v.3h-4.3zM295 641.8h5.9v.3h-5.9zM293.5 643.6h.7v.3h-.7zM293.6 644.5h5.5v.3h-5.5zM285.2 647.8h1v.3h-1zM294.4 648.4h6.4v.3h-6.4zM292.2 649h.1v.3h-.1zM291.9 649.3h18.4v.3h-18.4zM291.9 649.9h5.4v.3h-5.4zM294.5 650.8h.2v.3h-.2zM294.1 652h1v.3h-1zM291.7 652.3h8.7v.3h-8.7zM293 652.6h3.6v.3h-3.6zM291.4 654.7h29.6v.3h-29.6zM291.1 655h41.9v.3h-41.9zM291.3 655.3h33.2v.3h-33.2zM291.4 655.6h37.5v.3h-37.5zM291.7 655.9h36.2v.3h-36.2zM290.5 656.2h36.3v.3h-36.3zM291.2 656.5h30.6v.3h-30.6zM290.7 656.8h33.5v.3h-33.5zM290.8 657.1h28.4v.3h-28.4zM291.3 657.4h23.5v.3h-23.5zM290.6 657.7h20v.3h-20zM290.6 658h33.3v.3h-33.3zM290.9 658.3h33v.3h-33zM290.5 658.6h35.6v.3h-35.6zM290.2 658.9h32.1v.3h-32.1zM290.1 659.2h42v.3h-42zM291.5 659.5h34.4v.3h-34.4zM291 659.8h31.1v.3h-31.1zM290.4 660.1h30.8v.3h-30.8zM290.6 660.4h33.1v.3h-33.1zM290.3 660.7h37v.3h-37zM291.4 661h32.2v.3h-32.2zM290.4 661.3h30.4v.3h-30.4zM290.4 661.6h37.3v.3h-37.3zM290 661.9h28v.3h-28zM291 663.4h5.8v.3h-5.8zM292.1 672.7h0v.3h0zM294.7 674.8h1.5v.3h-1.5zM293.3 677.5h4.1v.3h-4.1zM295.2 677.8h1.5v.3h-1.5zM294.8 678.4h1.8v.3h-1.8zM291.4 681.7h4.5v.3h-4.5zM301.7 688.6h26.9v.3h-26.9zM301.1 688.9h19.1v.3h-19.1zM301.9 689.2h17.9v.3h-17.9zM301.4 689.5h20.9v.3h-20.9zM301.6 689.8h14.3v.3h-14.3zM302.9 690.1h19.1v.3h-19.1zM300.8 690.4h7.3v.3h-7.3zM302 690.7h13.6v.3h-13.6zM301.1 691h28.1v.3h-28.1zM301.6 691.3h12.1v.3h-12.1zM303.8 691.6h23v.3h-23zM297.3 691.9h26.4v.3h-26.4zM302.7 692.2h17.3v.3h-17.3zM303.1 692.5h16v.3h-16zM302.8 692.8h26v.3h-26zM299.8 693.1h12.3v.3h-12.3zM296.7 693.4h22.7v.3h-22.7zM301.7 693.7h24.8v.3h-24.8zM301.5 694h14.5v.3h-14.5zM302 694.3h9.5v.3h-9.5zM301.4 694.6h20.4v.3h-20.4zM301 694.9h21.1v.3h-21.1zM299.3 695.2h9.7v.3h-9.7zM300.3 695.5h10.6v.3h-10.6zM300.1 695.8h7.9v.3h-7.9zM299.8 696.1h22.4v.3h-22.4zM299.2 696.4h29v.3h-29zM298.7 696.7h28.6v.3h-28.6zM300.3 697h11.4v.3h-11.4zM300.7 697.3h24.1v.3h-24.1zM300.1 697.6h13.2v.3h-13.2zM299.9 697.9h20.2v.3h-20.2zM300.6 698.2h16.3v.3h-16.3zM300.7 698.5h21.2v.3h-21.2zM299.6 698.8h8.6v.3h-8.6zM299.9 699.1h17.5v.3h-17.5zM298.8 699.4h20.7v.3h-20.7zM298.2 699.7h13.5v.3h-13.5zM299.5 700h23.4v.3h-23.4zM298 700.3h28.1v.3h-28.1zM299.1 700.6h24.5v.3h-24.5zM299.1 700.9h28.6v.3h-28.6zM299.6 701.2h25.6v.3h-25.6zM299.9 701.5h19.9v.3h-19.9zM299.5 701.8h19.2v.3h-19.2zM298.2 702.1h24.4v.3h-24.4zM299.3 702.4h31.3v.3h-31.3zM298 702.7h21.2v.3h-21.2zM299 703h21.3v.3h-21.3zM298.7 703.3h9v.3h-9zM299.8 703.6h19.3v.3h-19.3zM300.5 703.9h16.8v.3h-16.8zM299.5 704.2h26.8v.3h-26.8zM300.1 704.5h15.8v.3h-15.8zM299.3 704.8h21.7v.3h-21.7zM299.9 705.1h16.7v.3h-16.7zM300.9 705.4h11.4v.3h-11.4zM301.7 705.7h19.5v.3h-19.5zM299.8 706h16.8v.3h-16.8zM300.1 706.3h17.5v.3h-17.5zM298.7 706.6h20.5v.3h-20.5zM300.8 706.9h10.9v.3h-10.9zM301 707.2h11.2v.3h-11.2zM298.6 707.5h24.4v.3h-24.4zM299.2 707.8h21.8v.3h-21.8zM299.3 708.1h25.8v.3h-25.8zM299.2 708.4h20v.3h-20zM298 708.7h18.2v.3h-18.2zM299.7 709h8.1v.3h-8.1zM300.6 709.3h25.5v.3h-25.5zM299.8 709.6h16.8v.3h-16.8zM300.4 709.9h27.5v.3h-27.5zM299 710.2h23.1v.3h-23.1zM300 710.5h17.9v.3h-17.9zM300.6 710.8h17.5v.3h-17.5zM299.8 711.1h19.8v.3h-19.8zM299.4 711.4h17v.3h-17zM299.8 711.7h23.9v.3h-23.9zM300.3 712h21.1v.3h-21.1zM299.8 712.3h11.2v.3h-11.2zM300.4 712.6h11.6v.3h-11.6zM298.8 712.9h15.6v.3h-15.6zM300 713.2h15.8v.3h-15.8zM299.6 713.5h17.1v.3h-17.1zM298.6 713.8h26.1v.3h-26.1zM294.4 714.1h18.2v.3h-18.2zM298.2 714.4h19.4v.3h-19.4zM300.1 714.7h15.9v.3h-15.9zM298.6 715h16.2v.3h-16.2zM297.5 715.3h11.4v.3h-11.4zM298.9 715.6h26.5v.3h-26.5zM298.6 715.9h19.6v.3h-19.6zM296.5 716.2h19.8v.3h-19.8zM294.7 716.5h16.6v.3h-16.6zM296.6 716.8h20.7v.3h-20.7zM296.5 717.1h23.2v.3h-23.2zM296.4 717.4h27.1v.3h-27.1zM297.9 717.7h16.1v.3h-16.1zM297.4 718h21.8v.3h-21.8zM299 718.3h19v.3h-19zM298.3 718.6h18.3v.3h-18.3zM299.3 718.9h27.1v.3h-27.1zM297.3 719.2h21.4v.3h-21.4zM297.8 719.5h17.3v.3h-17.3zM298.6 719.8h39.1v.3h-39.1zM298.1 720.1h18.8v.3h-18.8zM298.2 720.4h25v.3h-25zM300.1 720.7h19.7v.3h-19.7zM299.3 721h27v.3h-27zM298.4 721.3h21v.3h-21zM299.3 721.6h20.9v.3h-20.9zM298.9 721.9h15.2v.3h-15.2zM297.8 722.2h15.7v.3h-15.7zM297.1 722.5h16.6v.3h-16.6zM296.6 722.8h25.9v.3h-25.9zM297.8 723.1h16.5v.3h-16.5zM297.8 723.4h23.8v.3h-23.8zM297.4 723.7h12.2v.3h-12.2zM298.3 724h14.3v.3h-14.3zM297.3 724.3h21.1v.3h-21.1zM298.4 724.6h8.7v.3h-8.7zM297.3 724.9h13.7v.3h-13.7zM297.8 725.2h24.9v.3h-24.9zM296.3 725.5h26.1v.3h-26.1zM298.3 725.8h23.7v.3h-23.7zM297.3 726.1h12.4v.3h-12.4zM296.4 726.4h12.6v.3h-12.6zM296 726.7h7.7v.3h-7.7zM296.6 727h14.9v.3h-14.9zM296.6 727.3h7.5v.3h-7.5zM296.6 727.6h12.8v.3h-12.8zM296.7 727.9h16.6v.3h-16.6zM296.3 728.2h20.2v.3h-20.2zM297.5 728.5h16.3v.3h-16.3zM297.6 728.8h13.5v.3h-13.5zM297.2 729.1h14.9v.3h-14.9zM297.6 729.4h15.7v.3h-15.7zM297.6 729.7h13.7v.3h-13.7zM298.6 730h15.2v.3h-15.2zM298.4 730.3h8.6v.3h-8.6zM297.2 730.6h11.2v.3h-11.2zM298.5 730.9h12.5v.3h-12.5zM297.5 731.2h20.1v.3h-20.1zM297.8 731.5h12.8v.3h-12.8zM298.1 731.8h13.1v.3h-13.1zM297.7 732.1h11.7v.3h-11.7zM296.9 732.4h9.2v.3h-9.2zM297.3 732.7h13.8v.3h-13.8zM296.2 733h11.8v.3h-11.8zM296.3 733.3h7.7v.3h-7.7zM296.4 733.6h11.8v.3h-11.8zM296.8 733.9h7.1v.3h-7.1zM296.5 734.2h16.2v.3h-16.2zM295.9 734.5h7.5v.3h-7.5zM294.6 734.8h13.3v.3h-13.3zM297.1 735.1h6v.3h-6zM296.7 735.7h1.9v.3h-1.9zM297.6 736h0v.3h0zM298.5 736.9h1v.3h-1zM299 737.5h6.2v.3h-6.2zM298.7 738.1h3.6v.3h-3.6zM298.2 738.4h5.3v.3h-5.3zM297.6 739h4.6v.3h-4.6zM299.2 739.3h1v.3h-1zM297.3 739.6h7.6v.3h-7.6zM298.6 739.9h1.4v.3h-1.4zM299 740.2h1.2v.3h-1.2zM297.7 740.5h4.1v.3h-4.1zM298.6 740.8h1.8v.3h-1.8zM297.9 741.1h1.7v.3h-1.7zM297.4 741.7h1.7v.3h-1.7zM298.4 742h.6v.3h-.6zM296.9 743.2h6.1v.3h-6.1zM297.7 743.5h3.2v.3h-3.2zM296.2 743.8h10.7v.3h-10.7zM288.3 751.3h3.1v.3h-3.1zM292.3 752.2h5.6v.3h-5.6zM292.2 752.5h12.4v.3h-12.4zM291.8 752.8h9.3v.3h-9.3zM292.1 753.1h11.6v.3h-11.6zM292.2 753.4h13.9v.3h-13.9zM292.7 753.7h5.8v.3h-5.8zM292 754h9.6v.3h-9.6zM292.6 754.3h10.4v.3h-10.4zM291.9 754.6h13.8v.3h-13.8zM291.3 754.9h19.2v.3h-19.2zM293.6 755.2h9.8v.3h-9.8zM293.6 755.5h7.6v.3h-7.6zM294.8 755.8h3.9v.3h-3.9zM293.6 756.1h12.2v.3h-12.2zM293 756.4h6.5v.3h-6.5zM293.3 756.7h3.9v.3h-3.9zM293.4 757.3h16.7v.3h-16.7zM292.8 757.6h14.9v.3h-14.9zM294.1 757.9h6.1v.3h-6.1zM293.2 758.2h9.3v.3h-9.3zM293.4 758.5h6v.3h-6zM292.7 758.8h10.2v.3h-10.2zM294 759.1h15.2v.3h-15.2zM294 759.4h4.8v.3h-4.8zM296 759.7h1.5v.3h-1.5zM294.4 760h12.2v.3h-12.2zM299.2 760.3h24.3v.3h-24.3zM297.9 760.6h7.7v.3h-7.7zM298.9 760.9h27.3v.3h-27.3zM296.6 761.2h28.5v.3h-28.5zM296.2 761.5h19.6v.3h-19.6zM296.9 761.8h22.5v.3h-22.5zM296.2 762.1h27.7v.3h-27.7zM297.3 762.4h15.8v.3h-15.8zM297.9 762.7h17.8v.3h-17.8zM297.5 763h18.9v.3h-18.9zM297.9 763.3h19.8v.3h-19.8zM296.7 763.6h22.8v.3h-22.8zM296.9 763.9h15.7v.3h-15.7zM297.1 764.2h20.1v.3h-20.1zM297.8 764.5h14.7v.3h-14.7zM298.8 764.8h10.7v.3h-10.7zM296.8 765.1h17.6v.3h-17.6zM296.7 765.4h19.5v.3h-19.5zM298 765.7h23.7v.3h-23.7zM298.5 766h17.7v.3h-17.7zM297.6 766.3h22.4v.3h-22.4zM298.4 766.6h11.5v.3h-11.5zM297.2 766.9h26.1v.3h-26.1zM297.5 767.2h21.3v.3h-21.3zM297.1 767.5h20.8v.3h-20.8zM296.8 767.8h21.1v.3h-21.1zM295.9 768.1h23.9v.3h-23.9zM298.7 768.4h21.7v.3h-21.7zM295.5 768.7h25.7v.3h-25.7zM296.6 769h20v.3h-20zM295 769.3h22.1v.3h-22.1zM296 769.6h22.1v.3h-22.1zM295.5 769.9h17.7v.3h-17.7zM295.5 770.2h25.8v.3h-25.8zM293.2 770.5h10.4v.3h-10.4zM294.7 770.8h19.9v.3h-19.9zM295.6 771.1h23.7v.3h-23.7zM295.7 771.4h15.3v.3h-15.3zM295.2 771.7h26.8v.3h-26.8zM294.5 772h26.1v.3h-26.1zM294.7 772.3h29.5v.3h-29.5zM294.2 772.6h35.8v.3h-35.8zM294.5 772.9h26.5v.3h-26.5zM293 773.2h25.7v.3h-25.7zM293.9 773.5h26.9v.3h-26.9zM296 773.8h26.7v.3h-26.7zM296.2 774.1h23.8v.3h-23.8zM295.4 774.4h23.9v.3h-23.9zM295 774.7h21.8v.3h-21.8zM295.4 775h25.5v.3h-25.5zM294.7 775.3h15.2v.3h-15.2zM294.8 775.6h17.9v.3h-17.9zM293.8 775.9h12.4v.3h-12.4zM294.9 776.2h17.2v.3h-17.2zM294.2 776.5h18.9v.3h-18.9zM293.3 776.8h28.1v.3h-28.1zM293.2 777.1h31.2v.3h-31.2zM293.8 777.4h31.7v.3h-31.7zM291.9 777.7h31v.3h-31zM292 778h27.1v.3h-27.1zM292.2 778.3h35.6v.3h-35.6zM291.6 778.6h24.3v.3h-24.3zM291.5 778.9h24.2v.3h-24.2zM292.6 779.2h34.6v.3h-34.6zM292.7 779.5h27.2v.3h-27.2zM292.9 779.8h30.2v.3h-30.2zM289 780.1h29.6v.3h-29.6zM291.6 780.4h26.6v.3h-26.6zM290.8 780.7h18.7v.3h-18.7zM292.6 781h27.9v.3h-27.9zM293.8 781.3h39v.3h-39zM294.2 781.6h21.8v.3h-21.8zM292 781.9h27.1v.3h-27.1zM294.2 782.2h32.5v.3h-32.5zM292 782.5h35.8v.3h-35.8zM291.2 782.8h24.4v.3h-24.4zM292.9 783.1h18.7v.3h-18.7zM293.7 783.4h21.5v.3h-21.5zM291.1 783.7h24.6v.3h-24.6zM292.6 784h28.2v.3h-28.2zM292 784.3h18.1v.3h-18.1zM294.6 784.6h31.7v.3h-31.7zM292.2 784.9h24.1v.3h-24.1zM291.6 785.2h32.4v.3h-32.4zM291.9 785.5h21.8v.3h-21.8zM291.9 785.8h23.3v.3h-23.3zM292.5 786.1h22v.3h-22zM292.7 786.4h21.6v.3h-21.6zM292.1 786.7h35.4v.3h-35.4zM292.5 787h18.2v.3h-18.2zM287.8 787.3h37.1v.3h-37.1zM288.6 787.6h36.3v.3h-36.3zM286.1 787.9h34.5v.3h-34.5zM288.2 788.2h25.8v.3h-25.8zM286.4 788.5h26.8v.3h-26.8zM288.7 788.8h19.3v.3h-19.3zM287.7 789.1h31v.3h-31zM287.6 789.4h25.8v.3h-25.8zM288 789.7h26.1v.3h-26.1zM286.8 790h38v.3h-38zM287.4 790.3h30.9v.3h-30.9zM286.5 790.6h39.2v.3h-39.2zM287.3 790.9h21.7v.3h-21.7zM286.2 791.2h40.7v.3h-40.7zM286.4 791.5h29.6v.3h-29.6zM285.6 791.8h29v.3h-29zM288 792.1h29.2v.3h-29.2zM288 792.4h21.4v.3h-21.4zM286.8 792.7h37.6v.3h-37.6zM288.5 793h32.9v.3h-32.9zM286.9 793.3h36.4v.3h-36.4zM288.4 793.6h31.3v.3h-31.3zM286.4 793.9h20v.3h-20zM286.5 794.2h19.7v.3h-19.7zM286.7 794.5h35.9v.3h-35.9zM284.5 794.8h30.4v.3h-30.4zM289.2 795.1h21v.3h-21zM289 795.4h25.3v.3h-25.3zM286.8 795.7h36.7v.3h-36.7zM287.3 796h31.6v.3h-31.6zM285.6 796.3h27.1v.3h-27.1zM286.8 796.6h22v.3h-22zM285.4 796.9h38.9v.3h-38.9zM281.2 797.2h29.1v.3h-29.1zM287.2 797.5h26.3v.3h-26.3zM285.4 797.8h34.1v.3h-34.1zM287.6 798.1h24.1v.3h-24.1zM285.4 798.4h29.6v.3h-29.6zM285.4 798.7h32.1v.3h-32.1zM285.9 799h22.4v.3h-22.4zM284.4 799.3h34.7v.3h-34.7zM285.5 799.6h34.2v.3h-34.2zM285.2 799.9h39v.3h-39zM285.8 800.2h33.5v.3h-33.5zM284.9 800.5h29.5v.3h-29.5zM284.2 800.8h26.2v.3h-26.2zM285.9 801.1h36.3v.3h-36.3zM287.9 801.4h21.9v.3h-21.9zM287.1 801.7h22.9v.3h-22.9zM287.7 802h39.3v.3h-39.3zM287.2 802.3h32.1v.3h-32.1zM288.1 802.6h30.4v.3h-30.4zM286.8 802.9h38.5v.3h-38.5zM287.5 803.2h29.9v.3h-29.9zM287.9 803.5h26v.3h-26zM287.1 803.8h42.6v.3h-42.6zM287.1 804.1h24.5v.3h-24.5zM285.6 804.4h42v.3h-42zM287.3 804.7h23v.3h-23zM287.8 805h27.9v.3h-27.9zM286.6 805.3h28.9v.3h-28.9zM286.1 805.6h31.6v.3h-31.6zM285.2 805.9h35.8v.3h-35.8zM286.5 806.2h24.3v.3h-24.3zM286.2 806.5h35.7v.3h-35.7zM285.6 806.8h36.7v.3h-36.7zM290.6 807.1h16.1v.3h-16.1zM290.3 807.4h16.3v.3h-16.3zM289.7 807.7h9.3v.3h-9.3zM291 808h5.7v.3h-5.7zM291.8 808.3h10.9v.3h-10.9zM291.6 808.6h8.4v.3h-8.4zM291.8 808.9h7.6v.3h-7.6zM291.5 809.2h4.7v.3h-4.7zM292.2 809.5h9v.3h-9zM292.7 809.8h8.1v.3h-8.1zM291.9 810.1h9.8v.3h-9.8zM292.7 810.4h10.1v.3h-10.1zM291.7 810.7h11.5v.3h-11.5zM292.3 811h11.6v.3h-11.6zM291.7 811.3h10.3v.3h-10.3zM291.9 811.6h6.1v.3h-6.1zM292.3 811.9h6.6v.3h-6.6zM291.1 812.2h10.8v.3h-10.8zM292.9 812.5h9.5v.3h-9.5zM293.6 813.1h6v.3h-6zM293.4 813.4h13.4v.3h-13.4zM292.1 813.7h10.2v.3h-10.2zM291.3 814h11.2v.3h-11.2zM291.4 814.3h12.3v.3h-12.3zM291.8 814.6h7.2v.3h-7.2zM291.7 814.9h9.1v.3h-9.1zM299.8 815.2h36.9v.3h-36.9zM299.1 815.5h35.1v.3h-35.1zM299.8 815.8h34.2v.3h-34.2zM298.7 816.1h40v.3h-40zM297 816.4h37.2v.3h-37.2zM298.8 816.7h38.6v.3h-38.6zM299 817h41.6v.3h-41.6zM297.4 817.3h40.9v.3h-40.9zM298.5 817.6h44.3v.3h-44.3zM297.5 817.9h42.4v.3h-42.4zM299.3 818.2h47.8v.3h-47.8zM299.5 818.5h38.6v.3h-38.6zM300.5 818.8h39.5v.3h-39.5zM301.7 819.1h33v.3h-33zM300.5 819.4h48.3v.3h-48.3zM300.1 819.7h42.6v.3h-42.6zM301.1 820h43.7v.3h-43.7zM298.9 820.3h35.8v.3h-35.8zM299.1 820.6h37.9v.3h-37.9zM302 820.9h39.8v.3h-39.8zM300.6 821.2h48.4v.3h-48.4zM301.2 821.5h32.2v.3h-32.2zM302.1 821.8h39.4v.3h-39.4zM300.9 822.1h30.8v.3h-30.8zM299.5 822.4h41.6v.3h-41.6zM299.6 822.7h46.1v.3h-46.1zM299.8 823h34.4v.3h-34.4zM299 823.3h30.5v.3h-30.5zM299.4 823.6h33.8v.3h-33.8zM298.3 823.9h52.5v.3h-52.5zM299.4 824.2h36.5v.3h-36.5zM298.4 824.5h33.2v.3h-33.2zM299.9 824.8h42v.3h-42zM300.3 825.1h41.8v.3h-41.8zM298.3 825.4h37.5v.3h-37.5zM299.3 825.7h36.6v.3h-36.6zM299.1 826h38.4v.3h-38.4zM298.4 826.3h44.8v.3h-44.8zM298.8 826.6h37.4v.3h-37.4zM289 826.9h47.8v.3h-47.8zM297.4 827.2h34.9v.3h-34.9zM298.5 827.5h35.8v.3h-35.8zM299.7 827.8h42.2v.3h-42.2zM301.2 828.1h38v.3h-38zM298.6 828.4h44.8v.3h-44.8zM298.8 828.7h36v.3h-36zM299.1 829h31.9v.3h-31.9zM299.7 829.3h38.7v.3h-38.7zM298.9 829.6h46.2v.3h-46.2zM299.8 829.9h33.7v.3h-33.7zM298.7 830.2h33.7v.3h-33.7zM300.3 830.5h34.6v.3h-34.6zM301 830.8h37.5v.3h-37.5zM300.2 831.1h34.9v.3h-34.9zM299 831.4h42.6v.3h-42.6zM299.3 831.7h39.4v.3h-39.4zM299.5 832h37.1v.3h-37.1zM300 832.3h45.9v.3h-45.9zM298.6 832.6h37.9v.3h-37.9zM297.4 832.9h38.9v.3h-38.9zM298.7 833.2h36.2v.3h-36.2zM299.4 833.5h37.4v.3h-37.4zM300.6 833.8h36.2v.3h-36.2zM300 834.1h30.4v.3h-30.4zM299.1 834.4h32.4v.3h-32.4zM299.7 834.7h37.4v.3h-37.4zM299.5 835h39.9v.3h-39.9zM299.5 835.3h32.6v.3h-32.6zM298.9 835.6h39.5v.3h-39.5zM301.1 835.9h43.5v.3h-43.5zM299.4 836.2h37.7v.3h-37.7zM299.1 836.5h38.3v.3h-38.3zM300.2 836.8h38.7v.3h-38.7zM299.7 837.1h38v.3h-38zM299.2 837.4h37.7v.3h-37.7zM298.8 837.7h37.1v.3h-37.1zM298.6 838h40.8v.3h-40.8zM300 838.3h33.1v.3h-33.1zM297.8 838.6h35.7v.3h-35.7zM298.2 838.9h45v.3h-45zM299.2 839.2h49.6v.3h-49.6zM300.2 839.5h42.8v.3h-42.8zM300.3 839.8h36.1v.3h-36.1zM300.4 840.1h30.3v.3h-30.3zM301.2 840.4h36v.3h-36zM300.8 840.7h30.1v.3h-30.1zM301.3 841h47.8v.3h-47.8zM301 841.3h41.9v.3h-41.9zM302 841.6h44.6v.3h-44.6zM301.7 841.9h36.6v.3h-36.6zM302.5 842.2h32v.3h-32zM301.5 842.5h43v.3h-43zM300.2 842.8h42v.3h-42zM301 843.1h49.5v.3h-49.5zM300.7 843.4h39.1v.3h-39.1zM300.8 843.7h32.7v.3h-32.7zM300.5 844h38.6v.3h-38.6zM301.7 844.3h47.6v.3h-47.6zM303.1 844.6h39.3v.3h-39.3zM301.7 844.9h32v.3h-32zM300.4 845.2h35.7v.3h-35.7zM302.3 845.5h36.7v.3h-36.7zM301.7 845.8h44.7v.3h-44.7zM301 846.1h32.1v.3h-32.1zM303.3 846.4h36.4v.3h-36.4zM303.2 846.7h40.4v.3h-40.4zM301 847h28v.3h-28zM304.1 847.3h41.5v.3h-41.5zM303.1 847.6h45.7v.3h-45.7zM300 847.9h29.8v.3h-29.8zM300.4 848.2h43v.3h-43zM301.7 848.5h45.9v.3h-45.9zM302.5 848.8h46.4v.3h-46.4zM302.4 849.1h34.9v.3h-34.9zM300.9 849.4h32v.3h-32zM300.4 849.7h37.5v.3h-37.5zM301.5 850h38.7v.3h-38.7zM301.1 850.3h43.7v.3h-43.7zM301.8 850.6h38.3v.3h-38.3zM300.7 850.9h39.2v.3h-39.2zM300.7 851.2h40.5v.3h-40.5zM300.9 851.5h34.6v.3h-34.6zM301.3 851.8h35.4v.3h-35.4zM302.6 852.1h34.9v.3h-34.9zM300.3 852.4h38.4v.3h-38.4zM300.7 852.7h29.3v.3h-29.3zM301.6 853h43.7v.3h-43.7zM301.3 853.3h45.3v.3h-45.3zM301.9 853.6h33.5v.3h-33.5zM303 853.9h41v.3h-41zM301.9 854.2h36.6v.3h-36.6zM301.3 854.5h47.4v.3h-47.4zM300.7 854.8h29.6v.3h-29.6zM302.1 855.1h40.2v.3h-40.2zM301.4 855.4h43.2v.3h-43.2zM302.3 855.7h41.8v.3h-41.8zM303 856h49.4v.3h-49.4zM302.2 856.3h47.8v.3h-47.8zM301.2 856.6h31.1v.3h-31.1zM302.3 856.9h44.1v.3h-44.1zM301.4 857.2h38.1v.3h-38.1zM301.2 857.5h31.7v.3h-31.7zM301.7 857.8h49v.3h-49zM301.5 858.1h30.5v.3h-30.5zM301.5 858.4h38.9v.3h-38.9zM302.2 858.7h38v.3h-38zM302.3 859h37.4v.3h-37.4zM302.3 859.3h45.3v.3h-45.3zM301.1 859.6h46.6v.3h-46.6zM301.8 859.9h39.1v.3h-39.1zM302.4 860.2h38.1v.3h-38.1zM299.8 860.5h31.9v.3h-31.9zM300.5 860.8h46.4v.3h-46.4zM300.8 861.1h46.3v.3h-46.3zM299.7 861.4h38.4v.3h-38.4zM301.4 861.7h44.4v.3h-44.4zM300.8 862h47.7v.3h-47.7zM300.5 862.3h41.2v.3h-41.2zM301.7 862.6h37.2v.3h-37.2zM299.2 862.9h36v.3h-36zM299.2 863.2h45.6v.3h-45.6zM301.4 863.5h47.4v.3h-47.4zM301.6 863.8h36.2v.3h-36.2zM300.1 864.1h43.3v.3h-43.3zM300 864.4h34.6v.3h-34.6zM300.3 864.7h29.6v.3h-29.6zM302.1 865h30.4v.3h-30.4zM301.5 865.3h38.9v.3h-38.9zM301.8 865.6h37.7v.3h-37.7zM300.7 865.9h41.8v.3h-41.8zM301 866.2h39.3v.3h-39.3zM300.6 866.5h41.6v.3h-41.6zM300.1 866.8h35.6v.3h-35.6zM300.7 867.1h34v.3h-34zM299.7 867.4h28v.3h-28zM300 867.7h35v.3h-35zM301.6 868h40.3v.3h-40.3zM301.9 868.3h34.2v.3h-34.2zM302.2 868.6h33.5v.3h-33.5zM301.6 868.9h32.8v.3h-32.8zM292.7 869.2h42.5v.3h-42.5zM300.9 869.5h43.3v.3h-43.3zM301.4 869.8h39.9v.3h-39.9zM300.5 870.1h39v.3h-39zM300.9 870.4h45.4v.3h-45.4zM300.5 870.7h33.5v.3h-33.5zM301.4 871h45.1v.3h-45.1zM300.1 871.3h30.8v.3h-30.8zM300 871.6h37.8v.3h-37.8zM299.4 871.9h38.1v.3h-38.1zM300.2 872.2h40.4v.3h-40.4zM299.7 872.5h44.9v.3h-44.9zM301.1 872.8h42.6v.3h-42.6zM302.3 873.1h33.4v.3h-33.4zM302.2 873.4h35.3v.3h-35.3zM302.4 873.7h39.7v.3h-39.7zM302.4 874h39.9v.3h-39.9zM300.9 874.3h42.6v.3h-42.6zM301.8 874.6h40.9v.3h-40.9zM300.5 874.9h31.6v.3h-31.6zM290.7 875.5h3.6v.3h-3.6zM287.3 877h2.4v.3h-2.4zM289.1 878.2h1v.3h-1zM287.8 878.8h9.1v.3h-9.1zM286.6 880h7.3v.3h-7.3zM287 881.8h1.9v.3h-1.9zM289.5 882.1h4.7v.3h-4.7zM289 887.8h3.8v.3h-3.8zM292.2 892.3h8.6v.3h-8.6zM291.1 892.9h.6v.3h-.6zM293.4 893.2h1.3v.3h-1.3zM294 894.1h2.1v.3h-2.1zM292.4 896.2h1.4v.3h-1.4zM293.3 896.5h1.2v.3h-1.2zM292 897.1h3.8v.3h-3.8zM294.3 898.3h10.1v.3h-10.1zM293.3 901.6h.1v.3h-.1zM290.7 902.8h5v.3h-5zM293.4 908.2h2.6v.3h-2.6zM292.3 908.5h4.8v.3h-4.8zM296.5 913h2.9v.3h-2.9zM295.7 919.9h4.2v.3h-4.2zM294.5 920.2h.8v.3h-.8zM299.6 926.2h.6v.3h-.6zM297.5 927.1h1.7v.3h-1.7zM297.5 927.7h1.1v.3h-1.1zM299.1 929.2h1.7v.3h-1.7zM295.8 930.1h4.3v.3h-4.3zM296.1 931.3h3.1v.3h-3.1zM296.9 933.1h11.8v.3h-11.8zM295.6 934h5.6v.3h-5.6zM294.6 934.3h5.6v.3h-5.6zM296.6 935.2h.5v.3h-.5zM296.6 935.5h.7v.3h-.7zM296.4 937h1.9v.3h-1.9zM297.9 937.3h1.1v.3h-1.1zM297.4 939.1h1.8v.3h-1.8zM294.5 940.3h3v.3h-3zM294.6 940.9h6.9v.3h-6.9zM292.3 941.8h8.3v.3h-8.3zM293.6 944.2h3.4v.3h-3.4zM292.5 944.5h4.1v.3h-4.1zM293.2 945.7h2.5v.3h-2.5zM291.6 946.9h1.3v.3h-1.3zM296.8 948.4h1v.3h-1zM295.2 949.6h4.4v.3h-4.4zM282.1 951.1h37.2v.3h-37.2zM282.6 951.4h32.5v.3h-32.5zM281.8 951.7h41v.3h-41zM281.7 952h40v.3h-40zM281.7 952.3h48v.3h-48zM282.7 952.6h33.6v.3h-33.6zM283.9 952.9h44.2v.3h-44.2zM282.4 953.2h42.3v.3h-42.3zM282.8 953.5h43.7v.3h-43.7zM282.8 953.8h35.9v.3h-35.9zM283.8 954.1h43.1v.3h-43.1zM283.5 954.4h26.9v.3h-26.9zM279.5 954.7h37.6v.3h-37.6zM283.3 955h33.4v.3h-33.4zM280.7 955.3h30v.3h-30zM281.2 955.6h35.1v.3h-35.1zM283.7 955.9h29.9v.3h-29.9zM280.1 956.2h42.9v.3h-42.9zM281.8 956.5h46.8v.3h-46.8zM284.1 956.8h35.8v.3h-35.8zM285.4 957.1h35v.3h-35zM283.1 957.4h45.2v.3h-45.2zM282.5 957.7h37.3v.3h-37.3zM285.5 958h32.6v.3h-32.6zM286.3 958.3h33.2v.3h-33.2zM284.8 958.6h32.4v.3h-32.4zM284.4 958.9h40.8v.3h-40.8zM283 959.2h38.2v.3h-38.2zM278.8 959.5h40.3v.3h-40.3zM284.9 959.8h36.5v.3h-36.5zM284.1 960.1h32.7v.3h-32.7zM288.1 960.4h36.5v.3h-36.5zM286.9 960.7h38.3v.3h-38.3zM285.7 961h32.3v.3h-32.3zM286.7 961.3h32.5v.3h-32.5zM287.1 961.6h40.4v.3h-40.4zM286.6 961.9h34.9v.3h-34.9zM285.4 962.2h41.7v.3h-41.7zM277.4 962.5h42.3v.3h-42.3zM286.3 962.8h28.5v.3h-28.5zM285.8 963.1h23.1v.3h-23.1zM284.2 963.4h36.3v.3h-36.3zM285.1 963.7h36.6v.3h-36.6zM284.9 964h40.6v.3h-40.6zM284.9 964.3h38.5v.3h-38.5zM287.3 964.6h31.2v.3h-31.2zM286.8 964.9h39.1v.3h-39.1zM285.5 965.2h34.8v.3h-34.8zM285.4 965.5h34.6v.3h-34.6zM287 965.8h28.7v.3h-28.7zM284.9 966.1h32.4v.3h-32.4zM278.9 966.4h48.6v.3h-48.6zM285.6 966.7h40v.3h-40zM283.3 967h40.6v.3h-40.6zM282.9 967.3h33.8v.3h-33.8zM283.3 967.6h46.4v.3h-46.4zM285.3 967.9h23.7v.3h-23.7zM300.3 968.2h10.3v.3h-10.3zM300.1 968.5h13.1v.3h-13.1zM300.8 968.8h15.2v.3h-15.2zM299.8 969.1h13.2v.3h-13.2zM300.2 969.4h16.5v.3h-16.5zM299.8 969.7h9.2v.3h-9.2zM299.2 970h13v.3h-13zM299.5 970.3h9.3v.3h-9.3zM300.2 970.6h16.6v.3h-16.6zM298.9 970.9h11.2v.3h-11.2zM299.5 971.2h18.5v.3h-18.5zM300.4 971.5h13.5v.3h-13.5zM301.2 971.8h6.7v.3h-6.7zM300.3 972.1h9.9v.3h-9.9zM298.7 972.4h18.8v.3h-18.8zM301.1 972.7h12.6v.3h-12.6zM300.3 973h11.2v.3h-11.2zM299.9 973.3h7.4v.3h-7.4zM299.7 973.6h15.5v.3h-15.5zM300.3 973.9h9.1v.3h-9.1zM289.6 974.2h31.1v.3h-31.1zM287.9 974.5h27.8v.3h-27.8zM287.5 974.8h24.1v.3h-24.1zM287.9 975.1h22.4v.3h-22.4zM280.1 975.4h34.4v.3h-34.4zM285.2 975.7h21.3v.3h-21.3zM286.3 976h34.3v.3h-34.3zM284.9 976.3h34.8v.3h-34.8zM286.1 976.6h26.7v.3h-26.7zM287.9 976.9h24.1v.3h-24.1zM288.2 977.2h20.6v.3h-20.6zM286.3 977.5h35.6v.3h-35.6zM288.9 977.8h35.4v.3h-35.4zM286.5 978.1h30.8v.3h-30.8zM285.5 978.4h31.1v.3h-31.1zM288.7 978.7h25.2v.3h-25.2zM285.5 979h32.5v.3h-32.5zM289.1 979.3h38.2v.3h-38.2zM286.8 979.6h39.1v.3h-39.1zM288.1 979.9h31.4v.3h-31.4zM289.1 980.2h27.4v.3h-27.4zM287.4 980.5h21.5v.3h-21.5zM287.7 980.8h32.9v.3h-32.9zM288 981.1h28.9v.3h-28.9zM288.2 981.4h33.1v.3h-33.1zM287.6 981.7h29.8v.3h-29.8zM288.3 982h40.2v.3h-40.2zM286.9 982.3h39.4v.3h-39.4zM285.6 982.6h27.7v.3h-27.7zM288.8 982.9h21.8v.3h-21.8zM287.4 983.2h18.9v.3h-18.9zM289.9 983.5h26.4v.3h-26.4zM287.6 983.8h24.7v.3h-24.7zM288.6 984.1h27.3v.3h-27.3zM290.7 984.4h17.8v.3h-17.8zM289.4 984.7h29.1v.3h-29.1zM289.3 985h41.5v.3h-41.5zM287.1 985.3h41.5v.3h-41.5zM278.8 985.6h31.5v.3h-31.5zM288 985.9h23.6v.3h-23.6zM289.2 986.2h36.2v.3h-36.2zM290 986.5h33.1v.3h-33.1zM286.5 986.8h29.4v.3h-29.4zM289.8 987.1h37.2v.3h-37.2zM289.4 987.4h25.2v.3h-25.2zM288.6 987.7h33.6v.3h-33.6zM286.4 988h45.4v.3h-45.4zM287.4 988.3h32.6v.3h-32.6zM286.7 988.6h39.8v.3h-39.8zM287.6 988.9h34.7v.3h-34.7zM287.9 989.2h40v.3h-40zM287.2 989.5h25.4v.3h-25.4zM287.3 989.8h34.9v.3h-34.9zM286.6 990.1h32.1v.3h-32.1zM289.5 990.4h25.3v.3h-25.3zM291.6 990.7h34.3v.3h-34.3zM289.1 991h40v.3h-40zM291.7 991.3h33.5v.3h-33.5zM290.3 991.6h24.5v.3h-24.5zM288.9 991.9h29.1v.3h-29.1zM288 992.2h27.8v.3h-27.8zM291.3 992.5h29.3v.3h-29.3zM289.8 992.8h23.8v.3h-23.8zM289.7 993.1h34.5v.3h-34.5zM288.9 993.4h37.2v.3h-37.2zM290.3 993.7h32.7v.3h-32.7zM291 994h27.7v.3h-27.7zM289.3 994.3h34.6v.3h-34.6zM291.3 994.6h33.6v.3h-33.6zM291.5 994.9h24.5v.3h-24.5zM288 995.2h34.6v.3h-34.6zM288.7 995.5h28v.3h-28zM289.6 995.8h35.2v.3h-35.2zM288.6 996.1h38.9v.3h-38.9zM290.4 996.4h32.7v.3h-32.7zM290.9 996.7h5v.3h-5zM289.5 997h.4v.3h-.4zM290.4 997.6h.9v.3h-.9zM288.6 998.8h5v.3h-5zM292.4 1007.2h2.7v.3h-2.7zM289.7 1009.9h1v.3h-1zM288.7 1010.2h2.6v.3h-2.6zM290.2 1010.5h7.4v.3h-7.4zM287.1 1011.7h3.7v.3h-3.7zM290.6 1014.4h.2v.3h-.2zM294.5 1017.1h9.1v.3h-9.1zM291.7 1017.7h8v.3h-8zM290.2 1020.1h5.7v.3h-5.7zM290.2 1020.7h4.5v.3h-4.5zM289.1 1021.3h.9v.3h-.9zM288.9 1023.7h3.1v.3h-3.1zM284.8 1025.2h5.6v.3h-5.6zM288.3 1028.5h1.7v.3h-1.7zM293.5 1033.3h1v.3h-1zM293.6 1034.2h5.3v.3h-5.3zM293.6 1036.9h2v.3h-2zM292.4 1037.2h11.6v.3h-11.6zM295.7 1038.1h1v.3h-1zM294 1038.4h6.1v.3h-6.1zM294.7 1040.2h3.5v.3h-3.5zM293.2 1040.8h5.5v.3h-5.5zM295 1044.4h.3v.3h-.3zM298.4 1045.9h1.3v.3h-1.3zM297.6 1047.1h1.2v.3h-1.2zM293.7 1047.7h.7v.3h-.7zM292.6 1048.6h.7v.3h-.7zM296.5 1050.4h1.6v.3h-1.6zM295.4 1051.9h10v.3h-10zM296.4 1054h.1v.3h-.1zM294.2 1054.3h2.4v.3h-2.4zM292.7 1057.9h3.5v.3h-3.5zM294.8 1058.5h5.1v.3h-5.1zM295.8 1059.4h2.3v.3h-2.3zM296.3 1062.1h1.7v.3h-1.7zM296.9 1063h6v.3h-6zM298.3 1063.3h.9v.3h-.9zM298 1067.5h5.5v.3h-5.5zM301 1069.3h3.6v.3h-3.6zM299.8 1069.9h4.7v.3h-4.7zM300.7 1072h2.3v.3h-2.3zM300.7 1072.9h1.8v.3h-1.8zM303.7 1074.7h1.9v.3h-1.9zM300 1076.5h4.8v.3h-4.8zM301.1 1079.2h7.5v.3h-7.5zM300.4 1079.5h2.7v.3h-2.7zM299.3 1079.8h7.8v.3h-7.8zM301.8 1080.7h3.6v.3h-3.6zM300.1 1082.5h3.5v.3h-3.5zM299.2 1083.4h8.2v.3h-8.2zM299.1 1084.9h7.1v.3h-7.1zM308.9 1097.2h.3v.3h-.3zM308.4 1107.7h.5v.3h-.5zM310.9 1109.5h.2v.3h-.2zM310.2 1110.4h1.2v.3h-1.2zM299.9 1111.3h26.9v.3h-26.9zM301 1111.6h22.4v.3h-22.4zM301 1111.9h30v.3h-30zM302.1 1112.2h33.2v.3h-33.2zM302.8 1112.5h28.8v.3h-28.8zM301.2 1112.8h26v.3h-26zM302 1113.1h41.8v.3h-41.8zM302.5 1113.4h41.2v.3h-41.2zM301.8 1113.7h24.6v.3h-24.6zM302.8 1114h20.6v.3h-20.6zM301.6 1114.3h31.4v.3h-31.4zM300.2 1114.6h34.4v.3h-34.4zM301.8 1114.9h33.1v.3h-33.1zM302.1 1115.2h32v.3h-32zM301 1115.5h30.5v.3h-30.5zM300.9 1115.8h30.1v.3h-30.1zM305.9 1116.1h25.6v.3h-25.6zM302.8 1116.4h24v.3h-24zM303.6 1116.7h30.4v.3h-30.4zM304.2 1117h29.9v.3h-29.9zM303.7 1117.3h39.7v.3h-39.7zM303.6 1117.6h28.2v.3h-28.2zM302.2 1117.9h29.4v.3h-29.4zM302.2 1118.2h27.1v.3h-27.1zM304.2 1118.5h28.4v.3h-28.4zM304.1 1118.8h47.1v.3h-47.1zM303.9 1119.1h27.9v.3h-27.9zM302.3 1119.4h26.3v.3h-26.3zM301.7 1119.7h36.6v.3h-36.6zM303 1120h29.6v.3h-29.6zM302.9 1120.3h20.1v.3h-20.1zM302.1 1120.6h33.9v.3h-33.9zM302.1 1120.9h28v.3h-28zM303.5 1121.2h37.9v.3h-37.9zM303.6 1121.5h23.8v.3h-23.8zM302.9 1121.8h31.7v.3h-31.7zM304.2 1122.1h51.9v.3h-51.9zM303.2 1122.4h32.5v.3h-32.5zM304 1122.7h38.6v.3h-38.6zM303.3 1123h34.5v.3h-34.5zM300.9 1123.3h23.5v.3h-23.5zM302.6 1123.6h24.9v.3h-24.9zM300.1 1123.9h37.3v.3h-37.3zM301.9 1124.2h36.4v.3h-36.4zM300.8 1124.5h41.2v.3h-41.2zM302.3 1124.8h40.1v.3h-40.1zM302.4 1125.1h26.8v.3h-26.8zM302.3 1125.4h37v.3h-37zM304.4 1125.7h21.6v.3h-21.6zM304.2 1126h38.8v.3h-38.8zM298 1140.1h38.7v.3h-38.7zM298.2 1140.4h40.5v.3h-40.5zM297.3 1140.7h46v.3h-46zM298.6 1141h43.2v.3h-43.2zM297 1141.3h34.9v.3h-34.9zM296.8 1141.6h37.3v.3h-37.3zM295.7 1141.9h39v.3h-39zM297.2 1142.2h43.9v.3h-43.9zM296.4 1142.5h36.7v.3h-36.7zM296.8 1142.8h42.3v.3h-42.3zM295.8 1143.1h48.6v.3h-48.6zM294.2 1143.4h39.7v.3h-39.7zM295.4 1143.7h47.3v.3h-47.3zM295.9 1144h48.2v.3h-48.2zM295.7 1144.3h49.8v.3h-49.8zM294.9 1144.6h38.4v.3h-38.4zM295.3 1144.9h43v.3h-43zM296.3 1145.2h45.6v.3h-45.6zM296.1 1145.5h45.8v.3h-45.8zM296.6 1145.8h29.8v.3h-29.8zM297.4 1146.1h50.9v.3h-50.9zM294.5 1146.4h44.3v.3h-44.3zM296 1146.7h42.2v.3h-42.2zM296.4 1147h49.2v.3h-49.2zM296.8 1147.3h41.6v.3h-41.6zM297.1 1147.6h42.6v.3h-42.6zM295.8 1147.9h46.1v.3h-46.1zM296.5 1148.2h43.9v.3h-43.9zM295.1 1148.5h36.6v.3h-36.6zM295.6 1148.8h33.7v.3h-33.7zM301.2 1280.2h2.9v.3h-2.9zM300.9 1280.5h1.1v.3h-1.1zM302 1280.8h11.1v.3h-11.1zM301.7 1281.1h7v.3h-7zM302.2 1281.4h5.8v.3h-5.8zM300.9 1281.7h3v.3h-3zM300.8 1282h2.3v.3h-2.3zM300.1 1282.3h9.4v.3h-9.4zM301.7 1282.6h6.2v.3h-6.2zM299.9 1282.9h2v.3h-2zM300 1283.2h.9v.3h-.9zM300 1283.5h5.5v.3h-5.5zM299.5 1283.8h9v.3h-9zM300.7 1284.1h2.7v.3h-2.7zM301.1 1284.4h4.7v.3h-4.7zM300.3 1284.7h4.4v.3h-4.4zM301 1285h2.9v.3h-2.9zM300.4 1285.3h7.2v.3h-7.2zM300.5 1285.6h7.1v.3h-7.1zM300 1285.9h11.4v.3h-11.4zM300.7 1286.2h10.3v.3h-10.3zM299.6 1286.5h5.4v.3h-5.4zM301.5 1286.8h12.8v.3h-12.8zM299.9 1287.1h10.4v.3h-10.4zM299.9 1287.4h8.3v.3h-8.3zM300.3 1287.7h1v.3h-1zM300.2 1288h10.4v.3h-10.4zM301 1288.3h8.3v.3h-8.3zM300.9 1288.6h6.5v.3h-6.5zM298.7 1288.9h8.8v.3h-8.8zM299.6 1289.2h11.5v.3h-11.5zM300.5 1289.5h4v.3h-4zM300.8 1289.8h23.2v.3h-23.2z"/>
<path fill="#ff0000" d="M271.1 505h3.3v.3h-3.3zM263.2 505.3h11.8v.3h-11.8zM260.9 505.6h11.8v.3h-11.8zM265.5 505.9h6.6v.3h-6.6zM257 506.2h15.3v.3h-15.3zM260.5 506.5h10.9v.3h-10.9zM264.3 506.8h8v.3h-8zM263.5 507.1h8.3v.3h-8.3zM265.1 507.4h5.8v.3h-5.8zM263.8 507.7h7.9v.3h-7.9zM263.9 508h8.5v.3h-8.5zM262.8 508.3h10.3v.3h-10.3zM266.9 508.6h5.8v.3h-5.8zM262.8 508.9h10.9v.3h-10.9zM259 509.2h14.1v.3h-14.1zM264.8 509.5h7.1v.3h-7.1zM259.3 509.8h14.2v.3h-14.2zM263 510.1h8.6v.3h-8.6zM267.8 510.4h4.1v.3h-4.1zM262.4 510.7h10.8v.3h-10.8zM270.6 511h2.1v.3h-2.1zM266.8 511.3h7.1v.3h-7.1zM265.4 511.6h7.4v.3h-7.4zM266.7 511.9h7v.3h-7zM262.3 512.2h11.3v.3h-11.3zM267.9 512.5h4.1v.3h-4.1zM264 512.8h8.4v.3h-8.4zM263 513.1h10.3v.3h-10.3zM264.4 513.4h9.6v.3h-9.6zM264 513.7h8.9v.3h-8.9zM266.6 514h8.1v.3h-8.1zM264 514.3h9.9v.3h-9.9zM265.6 514.6h9v.3h-9zM269.9 514.9h3.1v.3h-3.1zM268.2 515.2h4.2v.3h-4.2zM266.3 515.5h5.4v.3h-5.4zM260 515.8h11.5v.3h-11.5zM262.1 516.1h11.2v.3h-11.2zM267 516.4h5.7v.3h-5.7zM262.6 516.7h10.1v.3h-10.1zM267.4 517h4.8v.3h-4.8zM260.5 517.3h12.5v.3h-12.5zM266.3 517.6h6v.3h-6zM269.4 517.9h4.4v.3h-4.4zM268.8 518.2h3.8v.3h-3.8zM258.9 518.5h15.8v.3h-15.8zM269.1 518.8h3.9v.3h-3.9zM259.6 519.1h13.1v.3h-13.1zM266.9 519.4h4.6v.3h-4.6zM271.7 519.7h0v.3h0zM265.3 520h7.7v.3h-7.7zM261.1 520.3h13.7v.3h-13.7zM259.2 520.6h14.2v.3h-14.2zM268.7 520.9h5.6v.3h-5.6zM262.3 521.2h10.7v.3h-10.7zM271.7 521.5h.3v.3h-.3zM269.2 521.8h1.9v.3h-1.9zM271.3 522.1h1.6v.3h-1.6zM266.8 522.4h6.9v.3h-6.9zM266.1 522.7h7.8v.3h-7.8zM266.5 523h4.8v.3h-4.8zM267.9 523.3h5.6v.3h-5.6zM270 523.6h2v.3h-2zM271.7 523.9h1.1v.3h-1.1zM266.9 524.2h5.5v.3h-5.5zM266.3 524.5h6.1v.3h-6.1zM266.8 524.8h4.6v.3h-4.6zM260.3 525.1h11.6v.3h-11.6zM267.9 525.4h2.6v.3h-2.6zM269.9 525.7h2.5v.3h-2.5zM266 526h5.8v.3h-5.8zM270 526.3h2.9v.3h-2.9zM264.1 526.6h8.4v.3h-8.4zM263 527.2h10v.3h-10zM267.2 527.5h8.2v.3h-8.2zM267.5 527.8h5.2v.3h-5.2zM267.8 528.1h5.8v.3h-5.8zM266.4 528.4h7.2v.3h-7.2zM269.7 528.7h4.6v.3h-4.6zM267.2 529h6.2v.3h-6.2zM269.9 529.3h3.4v.3h-3.4zM270.1 529.6h2.8v.3h-2.8zM265.9 529.9h7.4v.3h-7.4zM267 530.2h6.3v.3h-6.3zM269.4 530.5h5.8v.3h-5.8zM262 530.8h13.5v.3h-13.5zM264 531.1h8.1v.3h-8.1zM271.2 531.4h2.2v.3h-2.2zM269.6 531.7h4.5v.3h-4.5zM269.9 532h3.1v.3h-3.1zM271.4 532.3h3.8v.3h-3.8zM264.3 532.6h9.7v.3h-9.7zM262.2 532.9h11.7v.3h-11.7zM268.6 533.2h4.8v.3h-4.8zM266 533.5h7.7v.3h-7.7zM266.7 533.8h6.8v.3h-6.8zM264.9 534.1h7.4v.3h-7.4zM262.7 534.4h10.2v.3h-10.2zM272 534.7h1.7v.3h-1.7zM272.8 535h2.5v.3h-2.5zM266.2 535.6h6.8v.3h-6.8zM269.9 535.9h2.8v.3h-2.8zM265.6 536.2h6.9v.3h-6.9zM268.7 536.5h5.4v.3h-5.4zM270.1 536.8h4.8v.3h-4.8zM270.6 537.1h1.4v.3h-1.4zM265.6 537.4h8.6v.3h-8.6zM267.4 538.3h5.1v.3h-5.1zM268.1 538.6h5.4v.3h-5.4zM270.2 539.2h2.9v.3h-2.9zM267 539.8h7.1v.3h-7.1zM268.1 540.1h5.2v.3h-5.2zM265.9 540.4h7.5v.3h-7.5zM265.2 541h8v.3h-8zM271.6 541.9h.4v.3h-.4zM266.3 542.5h6.7v.3h-6.7zM267.9 542.8h5.4v.3h-5.4zM271.5 543.1h1.1v.3h-1.1zM268.2 543.4h4.7v.3h-4.7zM271.1 543.7h1.4v.3h-1.4zM270.7 544.3h2.4v.3h-2.4zM263.5 544.6h11.1v.3h-11.1zM270 544.9h4.1v.3h-4.1zM270 545.2h2.5v.3h-2.5zM267.2 545.5h5.6v.3h-5.6zM277.3 546.1h13.7v.3h-13.7zM288.5 546.7h2.4v.3h-2.4zM278.3 547h12.1v.3h-12.1zM283.2 547.3h4.7v.3h-4.7zM284.2 547.6h5.6v.3h-5.6zM286.8 548.2h1.7v.3h-1.7zM286.1 548.5h.5v.3h-.5zM282.4 548.8h7.5v.3h-7.5zM276.7 549.1h10.7v.3h-10.7zM288.7 549.4h.9v.3h-.9zM282.4 549.7h9.7v.3h-9.7zM283 550h6.4v.3h-6.4zM275.9 550.3h16.6v.3h-16.6zM284.3 550.6h8.3v.3h-8.3zM273 550.9h15.4v.3h-15.4zM282.4 551.2h9.2v.3h-9.2zM284.4 551.5h7.8v.3h-7.8zM281.1 551.8h7.1v.3h-7.1zM278.9 552.1h10v.3h-10zM282.6 552.7h3.6v.3h-3.6zM273.7 553h13.3v.3h-13.3zM275 553.9h11.8v.3h-11.8zM287.2 554.2h1.1v.3h-1.1zM281.9 554.5h4.8v.3h-4.8zM278.9 554.8h9.8v.3h-9.8zM288.1 555.1h.7v.3h-.7zM287 555.4h3.3v.3h-3.3zM285.5 555.7h4.6v.3h-4.6zM285.2 556.3h4.4v.3h-4.4zM286.4 556.6h5.4v.3h-5.4zM284.1 556.9h6.8v.3h-6.8zM274.3 557.2h17.4v.3h-17.4zM281.7 557.5h3.4v.3h-3.4zM278.8 557.8h13.5v.3h-13.5zM279.1 558.1h11.9v.3h-11.9zM282.6 558.7h8.8v.3h-8.8zM286.4 559h4.4v.3h-4.4zM278.7 559.3h10.7v.3h-10.7zM282.2 559.6h8.9v.3h-8.9zM292.8 559.9h.7v.3h-.7zM282.2 560.2h11.5v.3h-11.5zM282.5 560.8h12.3v.3h-12.3zM287.6 561.1h4.8v.3h-4.8zM278.9 561.4h15.5v.3h-15.5zM284.2 562h7.2v.3h-7.2zM291.5 562.3h.7v.3h-.7zM283.3 562.6h9.5v.3h-9.5zM274.5 562.9h17.8v.3h-17.8zM287.6 563.2h2.5v.3h-2.5zM286.9 563.5h4.9v.3h-4.9zM281.7 564.1h8.1v.3h-8.1zM282.7 564.4h9v.3h-9zM282.8 564.7h8.8v.3h-8.8zM274.9 565h16.9v.3h-16.9zM277.8 565.3h12.5v.3h-12.5zM289.9 565.6h3.4v.3h-3.4zM278.7 565.9h12.1v.3h-12.1zM285.5 566.5h3.9v.3h-3.9zM277.5 567.7h11v.3h-11zM276.7 568h11.5v.3h-11.5zM286.1 568.3h3.4v.3h-3.4zM284.3 568.6h2.8v.3h-2.8zM281.5 568.9h4.1v.3h-4.1zM285.9 569.2h.5v.3h-.5zM284.7 569.5h5.2v.3h-5.2zM284.3 569.8h6.6v.3h-6.6zM288.7 570.1h.7v.3h-.7zM278.9 570.4h10.9v.3h-10.9zM278.1 570.7h9.4v.3h-9.4zM270.5 571h17v.3h-17zM284.5 571.3h1.6v.3h-1.6zM276.5 571.9h10.8v.3h-10.8zM286.5 572.2h.1v.3h-.1zM279.1 572.5h9.4v.3h-9.4zM277.4 572.8h11.8v.3h-11.8zM285.5 573.4h5v.3h-5zM288.7 573.7h3.1v.3h-3.1zM277.3 574h12.1v.3h-12.1zM273.3 574.3h15.7v.3h-15.7zM281.9 574.6h5.9v.3h-5.9zM280.1 574.9h8.1v.3h-8.1zM284 575.2h7.3v.3h-7.3zM280.6 575.5h8.7v.3h-8.7zM279.2 575.8h10v.3h-10zM274.9 576.1h16.3v.3h-16.3zM278.5 576.7h10v.3h-10zM283.7 577h7.3v.3h-7.3zM280.5 577.6h10.4v.3h-10.4zM279.7 577.9h10.4v.3h-10.4zM281.3 578.2h10.7v.3h-10.7zM284 578.5h5.1v.3h-5.1zM284.8 578.8h5.8v.3h-5.8zM281.5 579.1h9v.3h-9zM290.3 579.4h2v.3h-2zM268.9 579.7h19.7v.3h-19.7zM278.8 580h9.7v.3h-9.7zM279.4 580.3h8.2v.3h-8.2zM279.8 580.6h8.4v.3h-8.4zM282.4 581.2h5.4v.3h-5.4zM277.6 581.8h10.2v.3h-10.2zM283.9 582.4h4.7v.3h-4.7zM270.7 582.7h18.2v.3h-18.2zM278.5 583.6h8.8v.3h-8.8zM279.9 583.9h5.7v.3h-5.7zM274 584.2h11.1v.3h-11.1zM286.5 584.5h1v.3h-1zM272.5 584.8h15v.3h-15zM283.9 585.4h2.3v.3h-2.3zM273.1 585.7h14v.3h-14zM271.7 586h17.5v.3h-17.5zM276.3 586.6h11.4v.3h-11.4zM277.5 586.9h8.7v.3h-8.7zM273.5 587.2h16v.3h-16zM281.1 587.5h5.8v.3h-5.8zM284.4 587.8h2.2v.3h-2.2zM282.2 588.4h7.2v.3h-7.2zM273.9 588.7h14.5v.3h-14.5zM273.9 589h13v.3h-13zM283.3 589.3h3.3v.3h-3.3zM286.8 589.9h.9v.3h-.9zM279 590.5h8.6v.3h-8.6zM285.1 591.1h.2v.3h-.2zM280.3 591.4h7.2v.3h-7.2zM277.1 592h10.3v.3h-10.3zM272.2 592.3h14.7v.3h-14.7zM275.4 592.6h12.4v.3h-12.4zM283.3 593.5h7.2v.3h-7.2zM286.1 593.8h1.4v.3h-1.4zM280.5 595h8.7v.3h-8.7zM280.2 595.6h6.4v.3h-6.4zM288.2 595.9h2.5v.3h-2.5zM276.9 596.5h10.8v.3h-10.8zM283.9 596.8h3.9v.3h-3.9zM282.2 597.1h4.6v.3h-4.6zM280 597.4h7.1v.3h-7.1zM285 598.3h5.1v.3h-5.1zM283.1 598.6h5.4v.3h-5.4zM278.6 598.9h9.3v.3h-9.3zM272.7 599.2h19.9v.3h-19.9zM281.6 599.8h8.5v.3h-8.5zM292.9 600.1h.2v.3h-.2zM286.8 600.7h5v.3h-5zM285.6 601h5.5v.3h-5.5zM283.7 601.3h10.7v.3h-10.7zM290.3 601.6h2v.3h-2zM289.9 601.9h4.7v.3h-4.7zM287 602.2h6v.3h-6zM285.9 602.5h8v.3h-8zM290.2 602.8h4v.3h-4zM282.3 603.1h12.3v.3h-12.3zM284.9 603.4h10.5v.3h-10.5zM288.9 603.7h6.8v.3h-6.8zM285.9 604.3h8.8v.3h-8.8zM282.3 604.6h12v.3h-12zM279.6 604.9h14.7v.3h-14.7zM287.4 605.2h3v.3h-3zM284.6 605.5h9.7v.3h-9.7zM283.7 605.8h10.9v.3h-10.9zM284.6 606.1h8.2v.3h-8.2zM282.6 606.4h12.7v.3h-12.7zM286.4 606.7h8v.3h-8zM292.8 607h2.7v.3h-2.7zM292 607.3h5.5v.3h-5.5zM292.5 607.6h3.2v.3h-3.2zM286.4 607.9h7.5v.3h-7.5zM287.1 608.2h8.7v.3h-8.7zM289.3 608.5h3.2v.3h-3.2zM277.7 608.8h13.7v.3h-13.7zM272.9 609.1h18.8v.3h-18.8zM282.4 609.4h6.2v.3h-6.2zM279 609.7h11.1v.3h-11.1zM288.8 610h2.5v.3h-2.5zM284.9 610.3h6.3v.3h-6.3zM285.5 610.6h5v.3h-5zM278.2 611.2h14.6v.3h-14.6zM289.3 611.5h3.3v.3h-3.3zM287.5 611.8h4.5v.3h-4.5zM280.8 612.1h11.4v.3h-11.4zM288.9 612.4h1.2v.3h-1.2zM277.5 612.7h16.4v.3h-16.4zM281.7 613.3h11.5v.3h-11.5zM287.4 613.9h5.6v.3h-5.6zM283.5 614.2h10.9v.3h-10.9zM294.3 614.5h1v.3h-1zM291.1 614.8h3.3v.3h-3.3zM286.1 615.1h7.2v.3h-7.2zM284.1 615.4h7.9v.3h-7.9zM279.2 615.7h14.1v.3h-14.1zM283.9 616h8.8v.3h-8.8zM288.6 616.3h7.3v.3h-7.3zM292 616.9h1.1v.3h-1.1zM282.7 617.2h11.3v.3h-11.3zM289.2 617.5h4.4v.3h-4.4zM278.5 617.8h13.9v.3h-13.9zM283.1 618.4h10v.3h-10zM291.6 618.7h3.7v.3h-3.7zM282.4 619h10.2v.3h-10.2zM290.9 619.3h4.5v.3h-4.5zM284.5 619.6h8.9v.3h-8.9zM277.9 619.9h17v.3h-17zM291.9 620.5h2.2v.3h-2.2zM288.1 620.8h5v.3h-5zM288.4 621.1h4.7v.3h-4.7zM286.6 621.7h3.6v.3h-3.6zM292.1 622h2.1v.3h-2.1zM288.2 622.6h8v.3h-8zM284.4 622.9h12.6v.3h-12.6zM292.7 623.2h6v.3h-6zM288.1 623.5h10v.3h-10zM281.6 623.8h14.2v.3h-14.2zM286.2 624.4h6.7v.3h-6.7zM284.1 624.7h9.7v.3h-9.7zM291.9 625.3h3v.3h-3zM289 625.6h5.4v.3h-5.4zM293.2 625.9h2.2v.3h-2.2zM289.7 626.2h4.6v.3h-4.6zM294.5 626.5h1.4v.3h-1.4zM283.3 626.8h11.2v.3h-11.2zM297.2 627.1h.4v.3h-.4zM282.5 627.4h13.1v.3h-13.1zM280 627.7h16.1v.3h-16.1zM282.2 628h13v.3h-13zM287.3 628.3h2.4v.3h-2.4zM287.9 629.2h5.6v.3h-5.6zM289.9 629.5h2.4v.3h-2.4zM279.4 630.1h10.3v.3h-10.3zM284.5 630.7h5.9v.3h-5.9zM285.5 631h7.4v.3h-7.4zM294.3 631.3h1.1v.3h-1.1zM289.1 631.6h6.9v.3h-6.9zM283.4 631.9h12v.3h-12zM293.8 632.2h.9v.3h-.9zM284 633.1h10.1v.3h-10.1zM284.9 633.4h9.3v.3h-9.3zM283.1 633.7h8.5v.3h-8.5zM293.4 634h.8v.3h-.8zM277.3 634.6h17.2v.3h-17.2zM286.7 634.9h6.9v.3h-6.9zM275.5 635.2h17v.3h-17zM290.3 635.5h2.1v.3h-2.1zM278.3 636.4h14.3v.3h-14.3zM292.3 637h1.9v.3h-1.9zM291.8 637.3h2.3v.3h-2.3zM276.6 637.6h18.3v.3h-18.3zM293.5 637.9h1.4v.3h-1.4zM287.3 638.2h6.9v.3h-6.9zM285.6 638.5h9.7v.3h-9.7zM286.3 638.8h6.3v.3h-6.3zM289 639.1h5.2v.3h-5.2zM281 639.4h15.4v.3h-15.4zM279.6 640.3h15.2v.3h-15.2zM290.2 640.6h5.4v.3h-5.4zM289.8 640.9h6.1v.3h-6.1zM290 641.2h4.8v.3h-4.8zM293.3 641.5h1.4v.3h-1.4zM290.3 642.1h3.7v.3h-3.7zM284.7 642.4h10.4v.3h-10.4zM290 642.7h3.9v.3h-3.9zM276.8 643h17.5v.3h-17.5zM293.2 643.3h2.7v.3h-2.7zM280 643.9h15.8v.3h-15.8zM282.3 644.2h13.1v.3h-13.1zM278.9 644.8h14.4v.3h-14.4zM290.5 645.1h2.7v.3h-2.7zM291.4 645.4h2v.3h-2zM287.3 645.7h7.1v.3h-7.1zM282.9 646h9.4v.3h-9.4zM283.5 646.3h9.9v.3h-9.9zM292.1 646.6h3.9v.3h-3.9zM287.5 646.9h6v.3h-6zM286.8 647.2h5.4v.3h-5.4zM290 647.5h3v.3h-3zM274 648.1h17v.3h-17zM287.8 648.7h3.7v.3h-3.7zM287.2 649.6h2.7v.3h-2.7zM280.2 650.2h10.6v.3h-10.6zM284.9 650.5h5.9v.3h-5.9zM285.7 651.1h7.1v.3h-7.1zM287.1 651.4h5v.3h-5zM287.7 651.7h3.9v.3h-3.9zM280.7 652.9h11.9v.3h-11.9zM291.1 653.2h1.2v.3h-1.2zM277 653.5h17.9v.3h-17.9zM292.2 653.8h.5v.3h-.5zM284.5 654.1h10.9v.3h-10.9zM287.9 654.4h3.7v.3h-3.7zM284.6 662.2h5.3v.3h-5.3zM283 662.5h7.7v.3h-7.7zM289.8 662.8h.4v.3h-.4zM291.1 663.1h.4v.3h-.4zM288.9 663.7h2.7v.3h-2.7zM289.8 664h3.2v.3h-3.2zM291.4 664.3h1.4v.3h-1.4zM289.3 664.6h4.3v.3h-4.3zM284.6 664.9h9.1v.3h-9.1zM287.3 665.2h4.9v.3h-4.9zM282.6 665.5h10.8v.3h-10.8zM286.6 665.8h6.5v.3h-6.5zM292.4 666.1h1.6v.3h-1.6zM272.9 666.4h18.5v.3h-18.5zM275.7 666.7h15.6v.3h-15.6zM281.9 667h9.4v.3h-9.4zM280.6 667.3h9.5v.3h-9.5zM277.9 667.6h15.1v.3h-15.1zM280.9 667.9h13.1v.3h-13.1zM285.8 668.2h4.4v.3h-4.4zM284.5 668.5h6v.3h-6zM287.3 668.8h4.6v.3h-4.6zM288.7 669.1h2.1v.3h-2.1zM285.7 669.4h8.3v.3h-8.3zM281.5 669.7h12.4v.3h-12.4zM287.9 670h5.8v.3h-5.8zM286.9 670.3h5.1v.3h-5.1zM283.8 670.6h7.2v.3h-7.2zM281.3 670.9h12.7v.3h-12.7zM284.1 671.2h7.7v.3h-7.7zM277.1 671.5h15v.3h-15zM284.3 671.8h7.6v.3h-7.6zM273.8 672.1h18.4v.3h-18.4zM288.1 672.4h3.7v.3h-3.7zM291.2 673h1.7v.3h-1.7zM293.3 673.3h2.9v.3h-2.9zM281.3 673.6h13.4v.3h-13.4zM285.5 673.9h12.5v.3h-12.5zM281.9 674.2h14.2v.3h-14.2zM281.4 674.5h13.8v.3h-13.8zM281.8 675.1h13.2v.3h-13.2zM287.4 675.4h4.9v.3h-4.9zM281 675.7h15.1v.3h-15.1zM290.4 676h3.9v.3h-3.9zM284.4 676.3h10.7v.3h-10.7zM284.3 676.6h9.5v.3h-9.5zM294.1 676.9h.6v.3h-.6zM292 677.2h2.8v.3h-2.8zM284.6 678.1h11.4v.3h-11.4zM290.1 678.7h5.2v.3h-5.2zM280.7 679h15.6v.3h-15.6zM295.2 679.3h2.4v.3h-2.4zM294.2 679.6h.2v.3h-.2zM284.4 679.9h11.4v.3h-11.4zM279.6 680.2h16.6v.3h-16.6zM290.2 680.5h3.1v.3h-3.1zM287.4 680.8h3.6v.3h-3.6zM291.6 681.1h1v.3h-1zM280 681.4h10.9v.3h-10.9zM289 682h4.4v.3h-4.4zM281.8 682.3h12.4v.3h-12.4zM283.5 682.6h11.1v.3h-11.1zM287.6 682.9h7.1v.3h-7.1zM291.8 683.2h1v.3h-1zM280.8 683.5h14.6v.3h-14.6zM278.1 683.8h15.7v.3h-15.7zM290.1 684.1h2.6v.3h-2.6zM288.7 684.4h5.4v.3h-5.4zM274.8 684.7h19.7v.3h-19.7zM284.7 685h9.4v.3h-9.4zM277.6 685.3h17.7v.3h-17.7zM290.5 685.6h4.9v.3h-4.9zM279.1 685.9h14.7v.3h-14.7zM286.7 686.2h10.4v.3h-10.4zM279.4 686.5h14.1v.3h-14.1zM292.8 686.8h3.8v.3h-3.8zM292.2 687.1h5.1v.3h-5.1zM295.1 687.4h1v.3h-1zM279.6 687.7h15.7v.3h-15.7zM296.2 688h.6v.3h-.6zM281.1 688.3h15.2v.3h-15.2zM295.1 735.4h1.8v.3h-1.8zM296.1 736.3h4v.3h-4zM296.6 736.6h3.3v.3h-3.3zM294.9 737.2h3.3v.3h-3.3zM295.7 737.8h2.1v.3h-2.1zM295.4 738.7h5v.3h-5zM297.2 741.4h.1v.3h-.1zM294 742.3h4.1v.3h-4.1zM296.8 742.6h.3v.3h-.3zM294.3 742.9h4.4v.3h-4.4zM294.6 744.1h2.8v.3h-2.8zM292.3 744.4h5.1v.3h-5.1zM296.9 744.7h1.2v.3h-1.2zM296.6 745h.7v.3h-.7zM281.4 745.3h6.7v.3h-6.7zM280.8 745.6h8.8v.3h-8.8zM282.9 745.9h7.3v.3h-7.3zM272.6 746.2h16.6v.3h-16.6zM271.3 746.5h18.3v.3h-18.3zM281.1 746.8h8.8v.3h-8.8zM281.3 747.1h6.9v.3h-6.9zM281.6 747.4h8.1v.3h-8.1zM275 747.7h13.1v.3h-13.1zM281.9 748h6.1v.3h-6.1zM283.6 748.3h4.9v.3h-4.9zM283.1 748.6h5.9v.3h-5.9zM282.8 748.9h8.3v.3h-8.3zM289.6 749.2h1.8v.3h-1.8zM280.1 749.5h8.7v.3h-8.7zM279.9 749.8h9.2v.3h-9.2zM280.3 750.1h8.7v.3h-8.7zM281.9 750.4h6.4v.3h-6.4zM275.5 750.7h14.3v.3h-14.3zM276.7 751h12.2v.3h-12.2zM283.7 751.6h5.1v.3h-5.1zM286.1 751.9h3.2v.3h-3.2zM293.7 757h.1v.3h-.1zM266 812.8h27.3v.3h-27.3zM275.9 875.2h15.1v.3h-15.1zM273.9 875.8h16.2v.3h-16.2zM289.5 876.1h3v.3h-3zM283.1 876.4h6.9v.3h-6.9zM283.2 876.7h6.5v.3h-6.5zM285.6 877.3h5.9v.3h-5.9zM287.4 877.6h1.3v.3h-1.3zM282.5 877.9h7.1v.3h-7.1zM286.1 878.5h1.9v.3h-1.9zM275.6 879.1h14.2v.3h-14.2zM273.4 879.4h14.4v.3h-14.4zM284 879.7h3.1v.3h-3.1zM283.3 880.3h4.7v.3h-4.7zM275.2 880.6h12.3v.3h-12.3zM281.6 880.9h8.6v.3h-8.6zM284.9 881.2h3.4v.3h-3.4zM279 881.5h9.6v.3h-9.6zM272.9 882.4h16.6v.3h-16.6zM286 882.7h7.1v.3h-7.1zM289 883h.5v.3h-.5zM276 883.3h13.1v.3h-13.1zM279.7 883.6h11.1v.3h-11.1zM279.1 883.9h13.7v.3h-13.7zM290.6 884.2h2.3v.3h-2.3zM287.8 884.5h3.6v.3h-3.6zM280.5 884.8h10.4v.3h-10.4zM273.3 885.1h17.1v.3h-17.1zM287.8 885.4h2.3v.3h-2.3zM278.5 885.7h10.8v.3h-10.8zM287.5 886h1.4v.3h-1.4zM289.8 886.3h2.6v.3h-2.6zM282.6 886.6h8v.3h-8zM287.4 886.9h3.3v.3h-3.3zM281.8 887.2h9.7v.3h-9.7zM277.4 887.5h13.1v.3h-13.1zM288.4 888.1h3.1v.3h-3.1zM285.5 888.4h4.3v.3h-4.3zM284 888.7h7.2v.3h-7.2zM279.4 889h11.4v.3h-11.4zM281.1 889.3h13.5v.3h-13.5zM287.9 889.6h6.4v.3h-6.4zM286.6 889.9h3.9v.3h-3.9zM281.8 890.2h10.6v.3h-10.6zM284.4 890.5h7.9v.3h-7.9zM280.7 890.8h13.6v.3h-13.6zM292.8 891.1h0v.3h0zM283.6 891.4h11.4v.3h-11.4zM280.6 891.7h12.8v.3h-12.8zM291.9 892h2.2v.3h-2.2zM283.2 892.6h9.5v.3h-9.5zM280.5 893.5h10.5v.3h-10.5zM287.3 893.8h4.4v.3h-4.4zM291.6 894.4h3.4v.3h-3.4zM280.9 894.7h11.7v.3h-11.7zM286.6 895h7.7v.3h-7.7zM276.6 895.3h17v.3h-17zM279.2 895.6h13.8v.3h-13.8zM289.6 895.9h2.7v.3h-2.7zM281.9 896.8h10.8v.3h-10.8zM285.1 897.4h8.3v.3h-8.3zM275.3 897.7h18.7v.3h-18.7zM288.4 898h6.6v.3h-6.6zM292.6 898.6h2.1v.3h-2.1zM279 898.9h14.8v.3h-14.8zM286.7 899.2h7.8v.3h-7.8zM287.8 899.5h8.6v.3h-8.6zM291 899.8h4.8v.3h-4.8zM280.1 900.1h11.9v.3h-11.9zM288.4 900.4h4.7v.3h-4.7zM290.9 900.7h4.1v.3h-4.1zM276.5 901h13.6v.3h-13.6zM288.6 901.3h2.5v.3h-2.5zM275.8 901.9h14.9v.3h-14.9zM276.4 902.2h15.2v.3h-15.2zM283 902.5h8v.3h-8zM280.1 903.1h14.2v.3h-14.2zM286.5 903.4h6v.3h-6zM283.2 903.7h8.8v.3h-8.8zM286.6 904h4.7v.3h-4.7zM276 904.3h16.1v.3h-16.1zM284 904.6h7.8v.3h-7.8zM285.9 904.9h6.1v.3h-6.1zM276.4 905.2h16.2v.3h-16.2zM285.1 905.5h7.8v.3h-7.8zM291.4 905.8h1.4v.3h-1.4zM283.3 906.1h10.2v.3h-10.2zM273.3 906.4h21.3v.3h-21.3zM283.5 906.7h10.7v.3h-10.7zM294.2 907h.2v.3h-.2zM286.1 907.3h7.6v.3h-7.6zM282.8 907.6h9.7v.3h-9.7zM290.7 907.9h4.3v.3h-4.3zM278.5 908.8h16.1v.3h-16.1zM280.2 909.1h15v.3h-15zM287 909.4h8.4v.3h-8.4zM285.7 909.7h9.4v.3h-9.4zM284.2 910h12.3v.3h-12.3zM277.3 910.3h19.2v.3h-19.2zM285 910.6h9.8v.3h-9.8zM292.7 910.9h3.7v.3h-3.7zM289.3 911.2h7.2v.3h-7.2zM293 911.5h6.7v.3h-6.7zM287.6 911.8h10.1v.3h-10.1zM285.9 912.1h10v.3h-10zM288.8 912.4h8.5v.3h-8.5zM280.8 912.7h15.6v.3h-15.6zM283.5 913.3h12.2v.3h-12.2zM283.1 913.6h13.1v.3h-13.1zM277.6 913.9h18.7v.3h-18.7zM276.5 914.2h20.8v.3h-20.8zM281.3 914.5h13.8v.3h-13.8zM296 914.8h1.2v.3h-1.2zM279.5 915.1h19.7v.3h-19.7zM291.6 915.4h6.9v.3h-6.9zM279.2 915.7h17.2v.3h-17.2zM290.9 916h5.4v.3h-5.4zM283.4 916.3h12.1v.3h-12.1zM291 916.6h5.8v.3h-5.8zM279.4 916.9h15v.3h-15zM288.7 917.2h7.3v.3h-7.3zM282.7 917.5h12.6v.3h-12.6zM289 917.8h3.6v.3h-3.6zM294.9 918.1h1.5v.3h-1.5zM291.9 918.4h3.9v.3h-3.9zM291.8 918.7h1.9v.3h-1.9zM284.2 919h12.3v.3h-12.3zM282.5 919.3h12.3v.3h-12.3zM282.1 919.6h11.7v.3h-11.7zM293.6 920.5h3v.3h-3zM295.7 920.8h1.8v.3h-1.8zM291.8 921.1h3.7v.3h-3.7zM293.4 921.4h3.6v.3h-3.6zM288.6 921.7h8v.3h-8zM293 922h3.2v.3h-3.2zM293.4 922.3h3v.3h-3zM295 922.6h.2v.3h-.2zM289.7 922.9h5.8v.3h-5.8zM294.6 923.2h1v.3h-1zM288.8 923.5h8.6v.3h-8.6zM286.7 923.8h10.5v.3h-10.5zM287.4 924.1h7.7v.3h-7.7zM293.6 924.4h3.4v.3h-3.4zM297.4 924.7h1.4v.3h-1.4zM283.8 925h12.4v.3h-12.4zM282.2 925.3h13.7v.3h-13.7zM289.9 925.6h7.2v.3h-7.2zM284.3 925.9h14.5v.3h-14.5zM286.5 926.5h12.4v.3h-12.4zM291 926.8h7.3v.3h-7.3zM291.4 927.4h7.5v.3h-7.5zM294 928h4.5v.3h-4.5zM295.4 928.3h1.4v.3h-1.4zM283.4 928.6h14.2v.3h-14.2zM277.9 928.9h20.3v.3h-20.3zM287.6 929.5h8v.3h-8zM289.6 929.8h9.3v.3h-9.3zM283.8 930.4h13.2v.3h-13.2zM281 930.7h14.6v.3h-14.6zM293.1 931h1v.3h-1zM288.4 931.6h8.5v.3h-8.5zM283.1 931.9h13v.3h-13zM292.6 932.2h2.5v.3h-2.5zM286.4 932.5h9.8v.3h-9.8zM288.8 932.8h8.3v.3h-8.3zM291.3 933.4h5.5v.3h-5.5zM281.9 933.7h15.8v.3h-15.8zM284.7 934.6h11.7v.3h-11.7zM292.9 934.9h3.5v.3h-3.5zM292.6 935.8h3.6v.3h-3.6zM285.8 936.1h10.6v.3h-10.6zM297.7 936.4h.2v.3h-.2zM285.7 936.7h12.6v.3h-12.6zM278.5 937.6h17.2v.3h-17.2zM285.6 937.9h8.5v.3h-8.5zM283.4 938.2h10.6v.3h-10.6zM293.8 938.5h1.9v.3h-1.9zM283.2 938.8h14v.3h-14zM280.4 939.4h18.1v.3h-18.1zM291 939.7h6.1v.3h-6.1zM285.6 940h9.5v.3h-9.5zM290.4 940.6h2.5v.3h-2.5zM290.2 941.2h3.9v.3h-3.9zM275.2 941.5h18.7v.3h-18.7zM281.6 942.1h13.9v.3h-13.9zM289.1 942.4h5.4v.3h-5.4zM277.8 942.7h16.2v.3h-16.2zM285.7 943h8.3v.3h-8.3zM290.4 943.3h1.8v.3h-1.8zM284.3 943.6h7.1v.3h-7.1zM284.9 943.9h7.4v.3h-7.4zM283.3 944.8h9.8v.3h-9.8zM285.8 945.1h10v.3h-10zM286.1 945.4h9.6v.3h-9.6zM282.5 946h13v.3h-13zM288 946.3h3.1v.3h-3.1zM282.5 946.6h9v.3h-9zM284.4 947.2h8.4v.3h-8.4zM287.9 947.5h7.9v.3h-7.9zM293.4 947.8h.5v.3h-.5zM287.5 948.1h9.9v.3h-9.9zM287.3 948.7h7.9v.3h-7.9zM278.4 949h15.6v.3h-15.6zM289.8 949.3h6.1v.3h-6.1zM283.9 949.9h10.7v.3h-10.7zM293.6 950.2h1.4v.3h-1.4zM280 950.5h13.1v.3h-13.1zM289.7 950.8h4.2v.3h-4.2zM282 997.3h10.1v.3h-10.1zM289 997.9h1.7v.3h-1.7zM274.2 998.2h18.5v.3h-18.5zM285.7 998.5h5.1v.3h-5.1zM281 999.1h7v.3h-7zM273.6 999.4h17.3v.3h-17.3zM285.2 999.7h5.3v.3h-5.3zM275 1000h14.9v.3h-14.9zM289.1 1000.3h1.2v.3h-1.2zM281 1000.6h10.9v.3h-10.9zM274.6 1000.9h13.1v.3h-13.1zM281.8 1001.2h8.1v.3h-8.1zM273.5 1001.5h15.7v.3h-15.7zM286.6 1001.8h3.7v.3h-3.7zM287.4 1002.1h4.6v.3h-4.6zM280.4 1002.4h9.4v.3h-9.4zM284.4 1002.7h5.4v.3h-5.4zM289.4 1003h.9v.3h-.9zM285.4 1003.3h3.7v.3h-3.7zM282.7 1003.6h7.5v.3h-7.5zM273.4 1003.9h15.6v.3h-15.6zM288.1 1004.2h4.1v.3h-4.1zM289.3 1004.5h4.8v.3h-4.8zM286.9 1004.8h5.4v.3h-5.4zM279.4 1005.1h12.1v.3h-12.1zM275.7 1005.4h16.5v.3h-16.5zM279.3 1005.7h11.5v.3h-11.5zM271.7 1006h19.1v.3h-19.1zM279.1 1006.3h13.2v.3h-13.2zM276.3 1006.6h16.7v.3h-16.7zM276.8 1006.9h14.3v.3h-14.3zM288.2 1007.5h4.1v.3h-4.1zM277.2 1007.8h14.8v.3h-14.8zM283.8 1008.1h7.5v.3h-7.5zM286.6 1008.4h4.3v.3h-4.3zM286.3 1008.7h4.1v.3h-4.1zM285.4 1009h7.4v.3h-7.4zM275.5 1009.3h15.6v.3h-15.6zM288.2 1009.6h.5v.3h-.5zM277.9 1010.8h11.3v.3h-11.3zM288.5 1011.1h1.5v.3h-1.5zM272.8 1011.4h15.7v.3h-15.7zM287.2 1012h.7v.3h-.7zM278.9 1012.3h10.7v.3h-10.7zM280.6 1012.6h10.2v.3h-10.2zM279.9 1012.9h10v.3h-10zM270.3 1013.2h19v.3h-19zM279.1 1013.5h10.2v.3h-10.2zM272.8 1013.8h18.1v.3h-18.1zM274.3 1014.1h15.1v.3h-15.1zM291.1 1014.7h.1v.3h-.1zM275.6 1015h13.3v.3h-13.3zM274 1015.3h17.8v.3h-17.8zM272.2 1015.6h18.1v.3h-18.1zM283.3 1015.9h5.1v.3h-5.1zM287.4 1016.2h4.1v.3h-4.1zM280 1016.5h12.5v.3h-12.5zM278.9 1016.8h14.5v.3h-14.5zM280.2 1017.4h11.4v.3h-11.4zM288.6 1018h3v.3h-3zM286.5 1018.3h5.1v.3h-5.1zM283.5 1018.6h6.7v.3h-6.7zM283.3 1018.9h8v.3h-8zM286.3 1019.2h6.1v.3h-6.1zM278.4 1019.5h11.1v.3h-11.1zM282.8 1019.8h6.7v.3h-6.7zM284.6 1020.4h5.4v.3h-5.4zM287.7 1021h2.6v.3h-2.6zM273 1021.6h16v.3h-16zM289.5 1021.9h1.8v.3h-1.8zM286 1022.2h3.7v.3h-3.7zM278.9 1022.5h10.9v.3h-10.9zM287 1022.8h.9v.3h-.9zM272.4 1023.1h15.2v.3h-15.2zM287.3 1023.4h1.8v.3h-1.8zM279.8 1024h6.6v.3h-6.6zM277.4 1024.3h9.3v.3h-9.3zM282 1024.6h5v.3h-5zM279.5 1024.9h7.1v.3h-7.1zM273.2 1025.5h15.4v.3h-15.4zM277.9 1025.8h7.9v.3h-7.9zM286.4 1026.1h4.2v.3h-4.2zM285.9 1026.4h4.6v.3h-4.6zM280.1 1026.7h10.1v.3h-10.1zM280.7 1027h7.3v.3h-7.3zM285.3 1027.3h1.3v.3h-1.3zM287.1 1027.6h2.8v.3h-2.8zM287.8 1027.9h1.8v.3h-1.8zM287.7 1028.2h2.3v.3h-2.3zM283 1028.8h7.8v.3h-7.8zM276.8 1029.1h13.7v.3h-13.7zM285.4 1029.4h2.5v.3h-2.5zM291.1 1029.7h.7v.3h-.7zM283.3 1030h8v.3h-8zM275.5 1030.3h19.5v.3h-19.5zM292.2 1030.6h2.5v.3h-2.5zM285.7 1030.9h9.2v.3h-9.2zM285 1031.2h9.4v.3h-9.4zM282.5 1031.5h12v.3h-12zM291.2 1031.8h3.2v.3h-3.2zM297.6 1032.1h.5v.3h-.5zM289.5 1032.4h6.5v.3h-6.5zM285.3 1032.7h12.5v.3h-12.5zM286.5 1033h8v.3h-8zM293.8 1033.6h2.7v.3h-2.7zM282.6 1033.9h12.2v.3h-12.2zM284 1034.5h10.9v.3h-10.9zM294.1 1034.8h1.4v.3h-1.4zM289.5 1035.1h3.9v.3h-3.9zM283.4 1035.4h10.1v.3h-10.1zM289.2 1035.7h2.6v.3h-2.6zM284.2 1036h8v.3h-8zM278.7 1036.3h16.7v.3h-16.7zM284.1 1036.6h7.8v.3h-7.8zM280.4 1037.5h13.8v.3h-13.8zM284.9 1037.8h10.4v.3h-10.4zM286.4 1038.7h8.2v.3h-8.2zM287.2 1039h6.3v.3h-6.3zM284.7 1039.3h10.3v.3h-10.3zM282.7 1039.6h11.8v.3h-11.8zM284.2 1039.9h7.8v.3h-7.8zM282.6 1040.5h11.4v.3h-11.4zM286.1 1041.1h6.6v.3h-6.6zM288.7 1041.4h6.5v.3h-6.5zM290.7 1041.7h1.6v.3h-1.6zM276.7 1042h15.8v.3h-15.8zM282.8 1042.3h10.9v.3h-10.9zM287.5 1042.6h6.6v.3h-6.6zM294.1 1042.9h2.2v.3h-2.2zM292.2 1043.2h2v.3h-2zM293.5 1043.5h1.3v.3h-1.3zM287.3 1043.8h8.4v.3h-8.4zM294 1044.1h1.3v.3h-1.3zM286 1044.7h10v.3h-10zM297 1045h.4v.3h-.4zM290.7 1045.3h6.4v.3h-6.4zM281.9 1045.6h13.3v.3h-13.3zM278.1 1046.2h20.5v.3h-20.5zM289.6 1046.5h9.6v.3h-9.6zM282.9 1046.8h13.9v.3h-13.9zM295.8 1047.4h4.1v.3h-4.1zM281.8 1048h12.3v.3h-12.3zM295.5 1048.3h.9v.3h-.9zM283.9 1048.9h9.6v.3h-9.6zM289.9 1049.2h2.8v.3h-2.8zM290.5 1049.5h4.5v.3h-4.5zM294.8 1049.8h.2v.3h-.2zM281 1050.1h14.3v.3h-14.3zM292.1 1050.7h2.1v.3h-2.1zM287.4 1051h6.3v.3h-6.3zM276.9 1051.3h19.3v.3h-19.3zM285.7 1051.6h10v.3h-10zM294.5 1052.2h3.4v.3h-3.4zM284.4 1052.5h12.1v.3h-12.1zM280.8 1052.8h16.4v.3h-16.4zM291.4 1053.1h6.3v.3h-6.3zM288.9 1053.4h7.7v.3h-7.7zM294.6 1053.7h2.7v.3h-2.7zM280.6 1054.6h14.1v.3h-14.1zM294.9 1054.9h.7v.3h-.7zM290 1055.2h4.1v.3h-4.1zM283.7 1055.5h11.4v.3h-11.4zM288.1 1055.8h7.1v.3h-7.1zM283.7 1056.1h12.1v.3h-12.1zM286.5 1056.4h7.1v.3h-7.1zM286.9 1056.7h7.8v.3h-7.8zM282.6 1057h13v.3h-13zM284.2 1057.3h11.2v.3h-11.2zM289.1 1057.6h5.2v.3h-5.2zM283.2 1058.2h13.4v.3h-13.4zM290.1 1058.8h4.4v.3h-4.4zM288.5 1059.1h9.7v.3h-9.7zM294 1059.7h4.7v.3h-4.7zM294.9 1060h2.8v.3h-2.8zM282.7 1060.3h16.1v.3h-16.1zM298.2 1060.6h.1v.3h-.1zM289.1 1060.9h8.6v.3h-8.6zM281.4 1061.2h16.1v.3h-16.1zM284.1 1061.5h12.2v.3h-12.2zM296.1 1061.8h2.3v.3h-2.3zM287.3 1062.4h10.7v.3h-10.7zM294.9 1062.7h3.4v.3h-3.4zM297.4 1063.6h.4v.3h-.4zM296.6 1063.9h1.4v.3h-1.4zM289.6 1064.2h6.8v.3h-6.8zM290.6 1064.5h8.2v.3h-8.2zM293 1064.8h4.3v.3h-4.3zM281.2 1065.1h15.7v.3h-15.7zM290.1 1065.4h8.2v.3h-8.2zM292.5 1065.7h8v.3h-8zM284.2 1066h15.2v.3h-15.2zM291 1066.3h10.3v.3h-10.3zM282.6 1066.6h17.4v.3h-17.4zM289.4 1066.9h9v.3h-9zM293.2 1067.2h8v.3h-8zM287.5 1067.8h9.6v.3h-9.6zM291.8 1068.1h7.6v.3h-7.6zM292.8 1068.4h9.9v.3h-9.9zM292.9 1068.7h7.2v.3h-7.2zM286.5 1069h16.2v.3h-16.2zM291.7 1069.6h7.9v.3h-7.9zM297.5 1070.2h3v.3h-3zM296 1070.5h6.4v.3h-6.4zM292.3 1070.8h10.1v.3h-10.1zM301.8 1071.1h.3v.3h-.3zM293 1071.4h8.4v.3h-8.4zM295.9 1071.7h5v.3h-5zM300.8 1072.3h1.6v.3h-1.6zM290.3 1072.6h10.5v.3h-10.5zM296 1073.2h4.4v.3h-4.4zM293.5 1073.5h8.5v.3h-8.5zM294 1073.8h7.1v.3h-7.1zM292.5 1074.1h8.7v.3h-8.7zM295.1 1074.4h7.8v.3h-7.8zM299.2 1075h4.4v.3h-4.4zM300.5 1075.3h2v.3h-2zM299.1 1075.6h2.7v.3h-2.7zM298.6 1075.9h1.5v.3h-1.5zM292.9 1076.2h9.1v.3h-9.1zM292.4 1076.8h6v.3h-6zM286.2 1077.1h12.6v.3h-12.6zM297.1 1077.4h4.1v.3h-4.1zM283.2 1077.7h17v.3h-17zM298 1078h4.8v.3h-4.8zM298 1078.3h.1v.3h-.1zM283.4 1078.6h19v.3h-19zM295.8 1078.9h6.3v.3h-6.3zM292.3 1080.1h5.8v.3h-5.8zM295.8 1080.4h4.7v.3h-4.7zM294.6 1081h7.4v.3h-7.4zM302.1 1081.3h.1v.3h-.1zM296 1081.6h5.8v.3h-5.8zM299.4 1081.9h2.2v.3h-2.2zM288.3 1082.2h14.5v.3h-14.5zM289 1082.8h12.2v.3h-12.2zM297.7 1083.1h2.1v.3h-2.1zM288.1 1083.7h10.6v.3h-10.6zM297.1 1084h2.9v.3h-2.9zM297.7 1084.3h3.2v.3h-3.2zM288.2 1084.6h10.3v.3h-10.3zM292.2 1085.2h4.8v.3h-4.8zM292.4 1085.5h5.3v.3h-5.3zM292.3 1085.8h7.4v.3h-7.4zM287.7 1086.1h10.7v.3h-10.7zM297.5 1086.4h1.2v.3h-1.2zM298.7 1086.7h1.3v.3h-1.3zM290.1 1087h10.3v.3h-10.3zM288.8 1087.3h13.3v.3h-13.3zM295.6 1087.6h5.2v.3h-5.2zM297.6 1087.9h2.8v.3h-2.8zM295.8 1088.2h4.5v.3h-4.5zM285.2 1088.5h15.7v.3h-15.7zM285.4 1088.8h16.9v.3h-16.9zM289 1089.1h10.6v.3h-10.6zM292 1089.4h8.9v.3h-8.9zM295.7 1089.7h3.5v.3h-3.5zM289.8 1090h10.4v.3h-10.4zM302.2 1090.3h6.8v.3h-6.8zM298.6 1090.6h10.2v.3h-10.2zM305.2 1090.9h2.7v.3h-2.7zM303.7 1091.2h3.4v.3h-3.4zM292.1 1091.5h17.8v.3h-17.8zM295 1091.8h14.2v.3h-14.2zM295.6 1092.1h12.2v.3h-12.2zM299.7 1092.4h9.7v.3h-9.7zM295.6 1092.7h13.7v.3h-13.7zM299.2 1093h10.9v.3h-10.9zM295.1 1093.3h12.2v.3h-12.2zM300.4 1093.6h7.4v.3h-7.4zM298.3 1093.9h10.3v.3h-10.3zM300.2 1094.2h7.4v.3h-7.4zM298.1 1094.5h9.9v.3h-9.9zM300.5 1094.8h9.3v.3h-9.3zM300.5 1095.1h7.7v.3h-7.7zM295.3 1095.4h11.6v.3h-11.6zM300 1095.7h8.1v.3h-8.1zM299.9 1096h7.5v.3h-7.5zM302.8 1096.3h3.5v.3h-3.5zM307 1096.6h.6v.3h-.6zM301.5 1096.9h8v.3h-8zM301.5 1097.5h6.1v.3h-6.1zM293.6 1097.8h15.5v.3h-15.5zM306.4 1098.1h2.3v.3h-2.3zM305.4 1098.4h5.1v.3h-5.1zM302.2 1098.7h7.5v.3h-7.5zM296.2 1099h11v.3h-11zM302.2 1099.3h7.4v.3h-7.4zM301.8 1099.6h6.1v.3h-6.1zM291.9 1099.9h15.6v.3h-15.6zM293.8 1100.2h13.5v.3h-13.5zM301.5 1100.5h6.3v.3h-6.3zM305 1100.8h3.2v.3h-3.2zM300.5 1101.1h6.8v.3h-6.8zM293.1 1101.4h17v.3h-17zM294.9 1101.7h15.4v.3h-15.4zM300.9 1102h8.7v.3h-8.7zM290.3 1102.3h19.6v.3h-19.6zM298 1102.6h11.5v.3h-11.5zM302.2 1102.9h7.4v.3h-7.4zM305.3 1103.2h3.5v.3h-3.5zM304.3 1103.5h3.6v.3h-3.6zM304.7 1103.8h4.8v.3h-4.8zM292.2 1104.1h17.7v.3h-17.7zM306.5 1104.4h.5v.3h-.5zM300.7 1104.7h8.4v.3h-8.4zM300.9 1105h6.4v.3h-6.4zM308.5 1105.3h1.1v.3h-1.1zM302.1 1105.6h8.4v.3h-8.4zM296.2 1105.9h13v.3h-13zM293.4 1106.2h15.7v.3h-15.7zM306 1106.5h4.1v.3h-4.1zM301.7 1106.8h8.4v.3h-8.4zM299.2 1107.1h11.5v.3h-11.5zM302.8 1107.4h7.3v.3h-7.3zM301.3 1108h6.5v.3h-6.5zM301 1108.3h8.2v.3h-8.2zM300.5 1108.6h9.4v.3h-9.4zM309 1108.9h1.3v.3h-1.3zM306.1 1109.2h3.7v.3h-3.7zM305.6 1109.8h4.4v.3h-4.4zM301.2 1110.1h8.9v.3h-8.9zM303.1 1110.7h8.1v.3h-8.1zM307 1111h4v.3h-4zM293 1126.3h13.6v.3h-13.6zM289.4 1126.6h16.5v.3h-16.5zM289.2 1126.9h16.7v.3h-16.7zM291.9 1127.2h15.4v.3h-15.4zM293.7 1127.5h13v.3h-13zM266 1127.8h41.2v.3h-41.2zM286.3 1128.1h19.5v.3h-19.5zM296.3 1128.4h10.5v.3h-10.5zM289.7 1128.7h16.2v.3h-16.2zM301.3 1129h6.2v.3h-6.2zM291.7 1129.3h15.2v.3h-15.2zM290.2 1129.6h15.6v.3h-15.6zM301.6 1129.9h4.3v.3h-4.3zM283.6 1130.2h24.4v.3h-24.4zM283.1 1130.5h24.4v.3h-24.4zM295.6 1130.8h9.1v.3h-9.1zM291.4 1131.1h14.5v.3h-14.5zM290.4 1131.4h14.9v.3h-14.9zM286.3 1131.7h18.7v.3h-18.7zM295.8 1132h10.5v.3h-10.5zM294.9 1132.3h11.5v.3h-11.5zM290.6 1132.6h14v.3h-14zM297.1 1132.9h7v.3h-7zM294.9 1133.2h10.1v.3h-10.1zM295.4 1133.5h10v.3h-10zM291.5 1133.8h14.5v.3h-14.5zM291 1134.1h14.7v.3h-14.7zM298.6 1134.4h8.7v.3h-8.7zM291.6 1134.7h14.9v.3h-14.9zM292.1 1135h13.2v.3h-13.2zM291.9 1135.3h13.6v.3h-13.6zM292.8 1135.6h12.1v.3h-12.1zM297.5 1135.9h6.7v.3h-6.7zM286.6 1136.2h18v.3h-18zM294.8 1136.5h9.5v.3h-9.5zM282.5 1136.8h22.3v.3h-22.3zM288.1 1137.1h16.2v.3h-16.2zM293 1137.4h11.3v.3h-11.3zM297.2 1137.7h7.6v.3h-7.6zM291.2 1138h14v.3h-14zM293.4 1138.3h12.4v.3h-12.4zM285.1 1138.6h21.2v.3h-21.2zM294.9 1138.9h11.7v.3h-11.7zM294.3 1139.2h12v.3h-12zM291.5 1139.5h14.8v.3h-14.8zM295.8 1139.8h11v.3h-11zM291.3 1149.1h20v.3h-20zM287.4 1149.4h23.7v.3h-23.7zM291 1149.7h20.6v.3h-20.6zM287.5 1150h24.9v.3h-24.9zM281.6 1150.3h29.6v.3h-29.6zM286.2 1150.6h26.4v.3h-26.4zM281.6 1150.9h30.7v.3h-30.7zM288.7 1151.2h23.6v.3h-23.6zM283.6 1151.5h27.6v.3h-27.6zM291.2 1151.8h20.9v.3h-20.9zM287.7 1152.1h24.1v.3h-24.1zM290.1 1152.4h21.8v.3h-21.8zM287.3 1152.7h25v.3h-25zM289.8 1153h21.6v.3h-21.6zM286.9 1153.3h23.8v.3h-23.8zM291.5 1153.6h19v.3h-19zM282.4 1153.9h29.2v.3h-29.2zM283.3 1154.2h27.9v.3h-27.9zM291.2 1154.5h19.9v.3h-19.9zM285.5 1154.8h26.1v.3h-26.1zM283.1 1155.1h28.5v.3h-28.5zM287 1155.4h25.2v.3h-25.2zM291 1155.7h20.9v.3h-20.9zM288.2 1156h23.7v.3h-23.7zM282.4 1156.3h28.9v.3h-28.9zM284.2 1156.6h28v.3h-28zM285.6 1156.9h25.7v.3h-25.7zM288.1 1157.2h23.7v.3h-23.7zM288.7 1157.5h23.2v.3h-23.2zM283.1 1157.8h28.6v.3h-28.6zM286.5 1158.1h25.3v.3h-25.3zM296.3 1158.4h15.1v.3h-15.1zM287.5 1158.7h24.3v.3h-24.3zM285.8 1159h25.4v.3h-25.4zM291.1 1159.3h20.3v.3h-20.3zM287.5 1159.6h23.6v.3h-23.6zM283.1 1159.9h28.7v.3h-28.7zM290.1 1160.2h22v.3h-22zM287.2 1160.5h25v.3h-25zM290.8 1160.8h21.8v.3h-21.8zM289 1161.1h22.3v.3h-22.3zM286.9 1161.4h24.7v.3h-24.7zM291.3 1161.7h20v.3h-20zM282.1 1162h29.3v.3h-29.3zM283.3 1162.3h28.3v.3h-28.3zM291.2 1162.6h20.5v.3h-20.5zM284.5 1162.9h27.1v.3h-27.1zM291 1163.2h20.7v.3h-20.7zM291.9 1163.5h20.1v.3h-20.1zM288.7 1163.8h22.3v.3h-22.3zM290.5 1164.1h20.5v.3h-20.5zM298.2 1164.4h12.6v.3h-12.6zM290.7 1164.7h20.2v.3h-20.2zM291.7 1165h19.5v.3h-19.5zM288.9 1165.3h22v.3h-22zM291.9 1165.6h20v.3h-20zM288.2 1165.9h22.9v.3h-22.9zM290.7 1166.2h21.1v.3h-21.1zM285.4 1166.5h25.4v.3h-25.4zM286.7 1166.8h24.7v.3h-24.7zM285.2 1167.1h26.3v.3h-26.3zM291.9 1167.4h20.2v.3h-20.2zM287.3 1167.7h24.6v.3h-24.6zM288.9 1168h22.7v.3h-22.7zM280.6 1168.3h30.5v.3h-30.5zM292 1168.6h19.3v.3h-19.3zM287.7 1168.9h23.2v.3h-23.2zM287.3 1169.2h24v.3h-24zM287.5 1169.5h23.4v.3h-23.4zM290.8 1169.8h20.3v.3h-20.3zM288.7 1170.1h21.6v.3h-21.6zM290.8 1170.4h20.3v.3h-20.3zM291.2 1170.7h20.4v.3h-20.4zM287.3 1171h24.1v.3h-24.1zM285.5 1171.3h26.5v.3h-26.5zM280.7 1171.6h30.6v.3h-30.6zM283.5 1171.9h28.2v.3h-28.2zM290.3 1172.2h21.6v.3h-21.6zM291.9 1172.5h19.8v.3h-19.8zM284.4 1172.8h27.1v.3h-27.1zM291.1 1173.1h19.6v.3h-19.6zM288.8 1173.4h21.9v.3h-21.9zM289.4 1173.7h21.9v.3h-21.9zM284.9 1174h25.9v.3h-25.9zM290.6 1174.3h20.3v.3h-20.3zM284.5 1174.6h26.8v.3h-26.8zM289.9 1174.9h21.3v.3h-21.3zM289.4 1175.2h21.4v.3h-21.4zM288.7 1175.5h23.1v.3h-23.1zM286.2 1175.8h25.6v.3h-25.6zM289 1176.1h22.9v.3h-22.9zM291.3 1176.4h20.9v.3h-20.9zM282.9 1176.7h29.7v.3h-29.7zM283.3 1177h28.7v.3h-28.7zM291.3 1177.3h20.2v.3h-20.2zM291.9 1177.6h19.9v.3h-19.9zM285.6 1177.9h25.2v.3h-25.2zM288.6 1178.2h22.2v.3h-22.2zM291.2 1178.5h20v.3h-20zM291.3 1178.8h19.5v.3h-19.5zM290.1 1179.1h20.8v.3h-20.8zM283.4 1179.4h27.4v.3h-27.4zM284 1179.7h26.8v.3h-26.8zM290.3 1180h20.6v.3h-20.6zM292 1180.3h19.9v.3h-19.9zM291.8 1180.6h19.9v.3h-19.9zM284.8 1180.9h27.6v.3h-27.6zM288.3 1181.2h23.3v.3h-23.3zM287.9 1181.5h24.2v.3h-24.2zM290.5 1181.8h20.7v.3h-20.7zM286.4 1182.1h24.9v.3h-24.9zM290.2 1182.4h21.7v.3h-21.7zM287 1182.7h24.2v.3h-24.2zM291.7 1183h19.8v.3h-19.8zM291.4 1183.3h19.7v.3h-19.7zM297.9 1183.6h14.1v.3h-14.1zM282.3 1183.9h29v.3h-29zM289.7 1184.2h21.6v.3h-21.6zM286.6 1184.5h24.6v.3h-24.6zM289.5 1184.8h21.5v.3h-21.5zM280.5 1185.1h30.8v.3h-30.8zM288.7 1185.4h22.6v.3h-22.6zM286.4 1185.7h25.7v.3h-25.7zM288.6 1186h22.6v.3h-22.6zM285.9 1186.3h25.3v.3h-25.3zM291.3 1186.6h20v.3h-20zM289 1186.9h22.8v.3h-22.8zM287.6 1187.2h24.2v.3h-24.2zM281.5 1187.5h29.7v.3h-29.7zM289.4 1187.8h22.2v.3h-22.2zM287 1188.1h23.8v.3h-23.8zM285 1188.4h26.2v.3h-26.2zM290 1188.7h21v.3h-21zM291.2 1189h20.2v.3h-20.2zM289.4 1189.3h22.1v.3h-22.1zM282.1 1189.6h29.2v.3h-29.2zM281 1189.9h29.8v.3h-29.8zM284.9 1190.2h26.5v.3h-26.5zM282.4 1190.5h29.5v.3h-29.5zM290.5 1190.8h20.8v.3h-20.8zM289.1 1191.1h22v.3h-22zM288.4 1191.4h22.2v.3h-22.2zM291.4 1191.7h20v.3h-20zM291.1 1192h20.5v.3h-20.5zM288.1 1192.3h23.8v.3h-23.8zM288.9 1192.6h22.6v.3h-22.6zM297.5 1192.9h14.1v.3h-14.1zM289 1193.2h22.5v.3h-22.5zM291.6 1193.5h20.2v.3h-20.2zM284.2 1193.8h26.8v.3h-26.8zM286.2 1194.1h25v.3h-25zM283.1 1194.4h28.4v.3h-28.4zM278.5 1194.7h32.5v.3h-32.5zM289.6 1195h21.9v.3h-21.9zM288.8 1195.3h22.9v.3h-22.9zM284.9 1195.6h26.2v.3h-26.2zM289.3 1195.9h21.2v.3h-21.2zM286.4 1196.2h24.4v.3h-24.4zM284.4 1196.5h26.5v.3h-26.5zM291.3 1196.8h20.4v.3h-20.4zM291.2 1197.1h20.6v.3h-20.6zM290.1 1197.4h21.5v.3h-21.5zM281.5 1197.7h29.7v.3h-29.7zM289.5 1198h22.4v.3h-22.4zM289.2 1198.3h21.9v.3h-21.9zM291.3 1198.6h20.4v.3h-20.4zM281 1198.9h30.4v.3h-30.4zM286.8 1199.2h24.5v.3h-24.5zM290.9 1199.5h20.4v.3h-20.4zM280.8 1199.8h30.7v.3h-30.7zM291.9 1200.1h20.2v.3h-20.2zM286.1 1200.4h25.7v.3h-25.7zM293.9 1200.7h17.7v.3h-17.7zM290.9 1201h20.4v.3h-20.4zM286.1 1201.3h25.2v.3h-25.2zM287.8 1201.6h23.3v.3h-23.3zM282.2 1201.9h29v.3h-29zM291.7 1202.2h19.1v.3h-19.1zM287.6 1202.5h23.4v.3h-23.4zM292 1202.8h19.9v.3h-19.9zM291 1203.1h20.3v.3h-20.3zM289.6 1203.4h22.5v.3h-22.5zM282.2 1203.7h29.8v.3h-29.8zM286.3 1204h25.6v.3h-25.6zM292 1204.3h19.9v.3h-19.9zM284.7 1204.6h27.5v.3h-27.5zM288.5 1204.9h23.4v.3h-23.4zM284.9 1205.2h26.2v.3h-26.2zM290.7 1205.5h20.8v.3h-20.8zM291.7 1205.8h19.7v.3h-19.7zM291.1 1206.1h20.5v.3h-20.5zM288.2 1206.4h23.2v.3h-23.2zM284.2 1206.7h27.1v.3h-27.1zM290 1207h21.6v.3h-21.6zM288.9 1207.3h22.9v.3h-22.9zM290.8 1207.6h21v.3h-21zM291.3 1207.9h20.9v.3h-20.9zM284.6 1208.2h27.6v.3h-27.6zM291 1208.5h20.6v.3h-20.6zM287.9 1208.8h23.9v.3h-23.9zM286.8 1209.1h25v.3h-25zM301.4 1209.4h10.9v.3h-10.9zM290.6 1209.7h21v.3h-21zM289.2 1210h23.1v.3h-23.1zM286.5 1210.3h25.8v.3h-25.8zM288.2 1210.6h24.1v.3h-24.1zM287.8 1210.9h23.8v.3h-23.8zM284.6 1211.2h27.2v.3h-27.2zM283.3 1211.5h28.1v.3h-28.1zM286.9 1211.8h24.7v.3h-24.7zM287.4 1212.1h23.4v.3h-23.4zM283.8 1212.4h27v.3h-27zM287.6 1212.7h23.4v.3h-23.4zM288.3 1213h22.9v.3h-22.9zM289.2 1213.3h22.4v.3h-22.4zM287.2 1213.6h24.4v.3h-24.4zM288.3 1213.9h24.1v.3h-24.1zM287 1214.2h25v.3h-25zM288.5 1214.5h23.6v.3h-23.6zM288.5 1214.8h22.5v.3h-22.5zM287.1 1215.1h24.3v.3h-24.3zM288.1 1215.4h23.1v.3h-23.1zM288.5 1215.7h22.9v.3h-22.9zM284.3 1216h26.9v.3h-26.9zM290.4 1216.3h21.3v.3h-21.3zM283.9 1216.6h27.1v.3h-27.1zM289 1216.9h22.8v.3h-22.8zM287.5 1217.2h24.6v.3h-24.6zM283 1217.5h28.3v.3h-28.3zM288.5 1217.8h23.6v.3h-23.6zM291.8 1218.1h19.9v.3h-19.9zM290.6 1218.4h21.5v.3h-21.5zM286.2 1218.7h24.9v.3h-24.9zM291.4 1219h20.3v.3h-20.3zM289.6 1219.3h22.4v.3h-22.4zM289.2 1219.6h22.5v.3h-22.5zM290.1 1219.9h21.1v.3h-21.1zM289.7 1220.2h21.5v.3h-21.5zM290.8 1220.5h19.9v.3h-19.9zM284.5 1220.8h27v.3h-27zM290.9 1221.1h19.7v.3h-19.7zM285.6 1221.4h25.6v.3h-25.6zM283.5 1221.7h27.8v.3h-27.8zM291 1222h20.3v.3h-20.3zM291 1222.3h20.2v.3h-20.2zM281.3 1222.6h29.9v.3h-29.9zM289.7 1222.9h21.7v.3h-21.7zM288.8 1223.2h22.9v.3h-22.9zM289.4 1223.5h22.2v.3h-22.2zM291.7 1223.8h19.5v.3h-19.5zM287.3 1224.1h24v.3h-24zM285.4 1224.4h26.4v.3h-26.4zM284.3 1224.7h27.3v.3h-27.3zM289.2 1225h21.6v.3h-21.6zM289.9 1225.3h21.3v.3h-21.3zM289 1225.6h22.5v.3h-22.5zM288.4 1225.9h23.4v.3h-23.4zM286.5 1226.2h25.4v.3h-25.4zM288.7 1226.5h23.6v.3h-23.6zM283.3 1226.8h28.5v.3h-28.5zM278.5 1227.1h33.3v.3h-33.3zM291 1227.4h20.3v.3h-20.3zM285.9 1227.7h25.9v.3h-25.9zM284.4 1228h26.7v.3h-26.7zM290.3 1228.3h21.1v.3h-21.1zM291.6 1228.6h20v.3h-20zM290.9 1228.9h20.6v.3h-20.6zM291.9 1229.2h19.2v.3h-19.2zM287.9 1229.5h23.1v.3h-23.1zM281.2 1229.8h30.5v.3h-30.5zM287.5 1230.1h23.8v.3h-23.8zM291.9 1230.4h19.7v.3h-19.7zM288.7 1230.7h23.6v.3h-23.6zM290.6 1231h21v.3h-21zM283.9 1231.3h27.7v.3h-27.7zM289.9 1231.6h21.8v.3h-21.8zM284.3 1231.9h27.5v.3h-27.5zM286.7 1232.2h24.7v.3h-24.7zM289.5 1232.5h22.1v.3h-22.1zM290.4 1232.8h20.9v.3h-20.9zM290.2 1233.1h20.9v.3h-20.9zM284.2 1233.4h26.4v.3h-26.4zM291.8 1233.7h19.1v.3h-19.1zM291.9 1234h19.5v.3h-19.5zM284.9 1234.3h26.3v.3h-26.3zM291.1 1234.6h20.1v.3h-20.1zM289.9 1234.9h22.6v.3h-22.6zM281.2 1235.2h30.6v.3h-30.6zM291.7 1235.5h20.5v.3h-20.5zM288.8 1235.8h23.2v.3h-23.2zM284.4 1236.1h27.4v.3h-27.4zM289.6 1236.4h21.8v.3h-21.8zM289.9 1236.7h21.6v.3h-21.6zM290.7 1237h21.1v.3h-21.1zM287.7 1237.3h24.5v.3h-24.5zM287.8 1237.6h23.7v.3h-23.7zM288.9 1237.9h22.2v.3h-22.2zM289 1238.2h23.4v.3h-23.4zM288.8 1238.5h23.2v.3h-23.2zM286.5 1238.8h25.1v.3h-25.1zM285.8 1239.1h25.2v.3h-25.2zM285.3 1239.4h26v.3h-26zM291.6 1239.7h20.7v.3h-20.7zM288.1 1240h23.5v.3h-23.5zM283.9 1240.3h27.7v.3h-27.7zM287 1240.6h24v.3h-24zM290.9 1240.9h20.2v.3h-20.2zM284.9 1241.2h27.1v.3h-27.1zM291.9 1241.5h19.7v.3h-19.7zM286.2 1241.8h25.4v.3h-25.4zM283.3 1242.1h28.3v.3h-28.3zM281.6 1242.4h30.7v.3h-30.7zM288.8 1242.7h22.9v.3h-22.9zM291.5 1243h20.1v.3h-20.1zM291.9 1243.3h19.2v.3h-19.2zM290 1243.6h21.3v.3h-21.3zM290.4 1243.9h20.7v.3h-20.7zM291.5 1244.2h20.1v.3h-20.1zM284.7 1244.5h26.5v.3h-26.5zM269 1244.8h42.5v.3h-42.5zM283.8 1245.1h27.9v.3h-27.9zM288.6 1245.4h22.8v.3h-22.8zM283.1 1245.7h28.1v.3h-28.1zM287.6 1246h23.2v.3h-23.2zM287.6 1246.3h23.7v.3h-23.7zM289.2 1246.6h21.8v.3h-21.8zM292 1246.9h19.7v.3h-19.7zM291.9 1247.2h19.2v.3h-19.2zM288 1247.5h23.8v.3h-23.8zM283.2 1247.8h27.7v.3h-27.7zM287.4 1248.1h23.9v.3h-23.9zM289.9 1248.4h21.8v.3h-21.8zM288.3 1248.7h23.9v.3h-23.9zM291.9 1249h19.9v.3h-19.9zM290.3 1249.3h21.6v.3h-21.6zM291.9 1249.6h20v.3h-20zM284.8 1249.9h26.5v.3h-26.5zM290.6 1250.2h21.4v.3h-21.4zM286.4 1250.5h25.3v.3h-25.3zM285.9 1250.8h26.1v.3h-26.1zM283.4 1251.1h28.9v.3h-28.9zM289.6 1251.4h22.6v.3h-22.6zM289.9 1251.7h22.1v.3h-22.1zM291.7 1252h20v.3h-20zM285.9 1252.3h26.1v.3h-26.1zM289.3 1252.6h22.1v.3h-22.1zM291 1252.9h20.2v.3h-20.2zM286.2 1253.2h25v.3h-25zM291.8 1253.5h19.5v.3h-19.5zM285.5 1253.8h26.1v.3h-26.1zM284.8 1254.1h26.7v.3h-26.7zM291.1 1254.4h20.7v.3h-20.7zM285.2 1254.7h26.9v.3h-26.9zM289.9 1255h22v.3h-22zM295.6 1255.3h16v.3h-16zM289.9 1255.6h21.6v.3h-21.6zM284.4 1255.9h27.2v.3h-27.2zM284.6 1256.2h26.9v.3h-26.9zM287.7 1256.5h23.9v.3h-23.9zM287.1 1256.8h24.3v.3h-24.3zM289.5 1257.1h22.1v.3h-22.1zM288.1 1257.4h23.2v.3h-23.2zM288.8 1257.7h23.1v.3h-23.1zM289.9 1258h22.3v.3h-22.3zM286.9 1258.3h24.5v.3h-24.5zM287.7 1258.6h24.2v.3h-24.2zM284.6 1258.9h27.2v.3h-27.2zM287.4 1259.2h24.5v.3h-24.5zM289.7 1259.5h21.8v.3h-21.8zM288.3 1259.8h23.5v.3h-23.5zM288.8 1260.1h23.3v.3h-23.3zM283.6 1260.4h28.2v.3h-28.2zM285.5 1260.7h26v.3h-26zM290 1261h21v.3h-21zM290.6 1261.3h20.6v.3h-20.6zM291.5 1261.6h19.7v.3h-19.7zM284 1261.9h27.6v.3h-27.6zM288 1262.2h22.7v.3h-22.7zM290.7 1262.5h20.6v.3h-20.6zM290.2 1262.8h21.7v.3h-21.7zM290.1 1263.1h21.5v.3h-21.5zM289.4 1263.4h22.4v.3h-22.4zM290.7 1263.7h21.6v.3h-21.6zM290.6 1264h21.1v.3h-21.1zM289.8 1264.3h22.2v.3h-22.2zM289.4 1264.6h22.4v.3h-22.4zM285.5 1264.9h26.4v.3h-26.4zM284.3 1265.2h26.8v.3h-26.8zM290.4 1265.5h20.9v.3h-20.9zM288.9 1265.8h22.2v.3h-22.2zM290.5 1266.1h21.3v.3h-21.3zM289.4 1266.4h23.1v.3h-23.1zM290.8 1266.7h20.5v.3h-20.5zM291.9 1267h19.7v.3h-19.7zM287.7 1267.3h23.3v.3h-23.3zM290.6 1267.6h20.2v.3h-20.2zM289.3 1267.9h22v.3h-22zM289.7 1268.2h21.9v.3h-21.9zM285.3 1268.5h26.4v.3h-26.4zM289.4 1268.8h22.1v.3h-22.1zM288.9 1269.1h22.1v.3h-22.1zM288.9 1269.4h22.3v.3h-22.3zM290.4 1269.7h21.3v.3h-21.3zM290.8 1270h19.5v.3h-19.5zM285.8 1270.3h25.3v.3h-25.3zM290.6 1270.6h20.6v.3h-20.6zM284.4 1270.9h27v.3h-27zM284.1 1271.2h27v.3h-27zM291.5 1271.5h19.1v.3h-19.1zM287.4 1271.8h24.3v.3h-24.3zM291.7 1272.1h20v.3h-20zM281.3 1272.4h30.6v.3h-30.6zM284.8 1272.7h26.9v.3h-26.9zM281.9 1273h29.1v.3h-29.1zM289.6 1273.3h22.2v.3h-22.2zM285.5 1273.6h25.8v.3h-25.8zM290.8 1273.9h21v.3h-21zM288.8 1274.2h22.7v.3h-22.7zM290.3 1274.5h21.5v.3h-21.5zM290.7 1274.8h20.1v.3h-20.1zM289.7 1275.1h22.1v.3h-22.1zM290.2 1275.4h21.7v.3h-21.7zM288 1275.7h23v.3h-23zM280.3 1276h30.9v.3h-30.9zM290.2 1276.3h21.6v.3h-21.6zM289.2 1276.6h22v.3h-22zM288.4 1276.9h23.4v.3h-23.4zM289.9 1277.2h21.1v.3h-21.1zM291.4 1277.5h20.1v.3h-20.1zM286.1 1277.8h25.6v.3h-25.6zM283.8 1278.1h27.5v.3h-27.5zM282.5 1278.4h28.4v.3h-28.4zM289.8 1278.7h21.9v.3h-21.9zM284.8 1279h27.2v.3h-27.2zM290.8 1279.3h21v.3h-21zM290.4 1279.6h21.4v.3h-21.4zM280.7 1279.9h31.3v.3h-31.3zM283.7 1290.1h27.9v.3h-27.9zM283.5 1290.4h28.2v.3h-28.2zM287 1290.7h23.9v.3h-23.9zM290.8 1291h21.2v.3h-21.2zM291.7 1291.3h19.4v.3h-19.4zM285.8 1291.6h25.7v.3h-25.7zM287.8 1291.9h23v.3h-23zM288.3 1292.2h23v.3h-23zM283.5 1292.5h28v.3h-28zM287.1 1292.8h24v.3h-24zM287.4 1293.1h24v.3h-24zM287.1 1293.4h24.5v.3h-24.5zM289.9 1293.7h21.9v.3h-21.9zM291.1 1294h20.3v.3h-20.3zM288 1294.3h23.1v.3h-23.1zM287.8 1294.6h23.5v.3h-23.5zM291.4 1294.9h20v.3h-20zM284.5 1295.2h27.2v.3h-27.2zM291.1 1295.5h20.9v.3h-20.9zM287.5 1295.8h24.3v.3h-24.3zM285.6 1296.1h25.7v.3h-25.7zM291.2 1296.4h19.9v.3h-19.9zM287.9 1296.7h23.2v.3h-23.2zM290.4 1297h20.6v.3h-20.6zM281.3 1297.3h29.7v.3h-29.7zM289.6 1297.6h22.4v.3h-22.4zM283.3 1297.9h27.7v.3h-27.7zM282.2 1298.2h29.2v.3h-29.2zM289.7 1298.5h21.3v.3h-21.3zM292 1298.8h19.3v.3h-19.3zM282.1 1299.1h29.8v.3h-29.8zM280.6 1299.4h30.5v.3h-30.5zM289 1299.7h22.5v.3h-22.5zM285 1300h26.4v.3h-26.4zM291.3 1300.3h20.5v.3h-20.5zM287.6 1300.6h24.6v.3h-24.6zM291.6 1300.9h19.4v.3h-19.4zM291.8 1301.2h19.4v.3h-19.4zM285.7 1301.5h25.8v.3h-25.8zM296 1301.8h15.4v.3h-15.4zM291.2 1302.1h20.3v.3h-20.3zM291.8 1302.4h19.3v.3h-19.3zM289.7 1302.7h21.3v.3h-21.3zM289.3 1303h21.8v.3h-21.8zM291.3 1303.3h19.7v.3h-19.7zM286 1303.6h25.1v.3h-25.1zM287.8 1303.9h23.5v.3h-23.5zM289.5 1304.2h21.7v.3h-21.7zM291.3 1304.5h19.8v.3h-19.8zM288.7 1304.8h22.6v.3h-22.6zM285.5 1305.1h26v.3h-26zM288.4 1305.4h23.6v.3h-23.6zM284.3 1305.7h27.9v.3h-27.9zM287.8 1306h24v.3h-24zM289.1 1306.3h22.6v.3h-22.6zM291.9 1306.6h19.6v.3h-19.6zM286.3 1306.9h25v.3h-25zM290.6 1307.2h21.1v.3h-21.1zM290.2 1307.5h22.2v.3h-22.2zM289.3 1307.8h22.5v.3h-22.5zM289.8 1308.1h21.4v.3h-21.4zM290.1 1308.4h20.9v.3h-20.9zM291.6 1308.7h19.8v.3h-19.8zM281.7 1309h29.3v.3h-29.3zM290.9 1309.3h21.1v.3h-21.1zM281 1309.6h30.6v.3h-30.6zM284.6 1309.9h27v.3h-27zM286.6 1310.2h24.7v.3h-24.7zM285.8 1310.5h26.1v.3h-26.1zM284.9 1310.8h27v.3h-27zM289 1311.1h22.4v.3h-22.4zM284.6 1311.4h26.8v.3h-26.8zM288.6 1311.7h23.1v.3h-23.1zM289.5 1312h22.4v.3h-22.4zM288.9 1312.3h22.8v.3h-22.8zM290.3 1312.6h21.5v.3h-21.5zM286.5 1312.9h25.3v.3h-25.3zM289.1 1313.2h22.7v.3h-22.7zM287.1 1313.5h24.7v.3h-24.7zM290.6 1313.8h21.7v.3h-21.7zM288 1314.1h24.4v.3h-24.4zM284.1 1314.4h28.3v.3h-28.3zM297.2 1314.7h14.8v.3h-14.8zM289.8 1315h22.5v.3h-22.5zM288.8 1315.3h23.1v.3h-23.1zM285.2 1315.6h26.3v.3h-26.3zM286.9 1315.9h25v.3h-25zM285.8 1316.2h25.7v.3h-25.7zM287.8 1316.5h24v.3h-24zM290 1316.8h22v.3h-22zM282.3 1317.1h29v.3h-29zM288.8 1317.4h23.1v.3h-23.1zM286.9 1317.7h25.1v.3h-25.1zM280.8 1318h30.2v.3h-30.2zM291 1318.3h20.6v.3h-20.6zM281.7 1318.6h30.6v.3h-30.6zM291.8 1318.9h20.1v.3h-20.1zM289.1 1319.2h23v.3h-23zM290.7 1319.5h20.9v.3h-20.9zM289.5 1319.8h22.6v.3h-22.6zM290.1 1320.1h21.4v.3h-21.4zM289.9 1320.4h21.7v.3h-21.7zM290.4 1320.7h21.2v.3h-21.2zM288.2 1321h23.9v.3h-23.9zM289 1321.3h22.4v.3h-22.4zM289.8 1321.6h21.4v.3h-21.4zM286 1321.9h25.9v.3h-25.9zM287.5 1322.2h23.9v.3h-23.9zM290.9 1322.5h20.3v.3h-20.3zM286 1322.8h25.4v.3h-25.4zM289 1323.1h21.8v.3h-21.8zM286.5 1323.4h24.3v.3h-24.3zM290.9 1323.7h20v.3h-20zM297.5 1324h12.9v.3h-12.9zM274.1 1324.3h37.9v.3h-37.9zM286 1324.6h25.3v.3h-25.3zM284.7 1324.9h27.3v.3h-27.3zM283.3 1325.2h28.5v.3h-28.5zM288 1325.5h24.5v.3h-24.5zM284.7 1325.8h27.2v.3h-27.2zM291.1 1326.1h20.6v.3h-20.6zM288 1326.4h23.2v.3h-23.2zM289.5 1326.7h21.5v.3h-21.5zM287.9 1327h23.8v.3h-23.8zM286.2 1327.3h25.9v.3h-25.9zM291.3 1327.6h20.6v.3h-20.6zM287.5 1327.9h24v.3h-24zM282.7 1328.2h29.2v.3h-29.2zM277.6 1328.5h34.3v.3h-34.3zM287.8 1328.8h23.4v.3h-23.4zM289.8 1329.1h21.3v.3h-21.3zM288.1 1329.4h23.3v.3h-23.3zM288.5 1329.7h23v.3h-23zM290.6 1330h21.1v.3h-21.1zM288.1 1330.3h23.6v.3h-23.6zM288.2 1330.6h23v.3h-23zM286.7 1330.9h24.9v.3h-24.9zM289.1 1331.2h22.7v.3h-22.7zM290.4 1331.5h21.9v.3h-21.9zM282.2 1331.8h30v.3h-30zM288.9 1332.1h23.4v.3h-23.4zM291.8 1332.4h19.9v.3h-19.9zM288 1332.7h23.9v.3h-23.9zM297.1 1333h14.4v.3h-14.4zM286.2 1333.3h25.3v.3h-25.3zM284.7 1333.6h26.8v.3h-26.8zM285.5 1333.9h26v.3h-26zM287.3 1334.2h24.2v.3h-24.2zM284.1 1334.5h27.2v.3h-27.2zM289.4 1334.8h21.8v.3h-21.8zM285.8 1335.1h25.1v.3h-25.1zM289.1 1335.4h22.1v.3h-22.1zM291.1 1335.7h20.3v.3h-20.3zM292 1336h19.1v.3h-19.1zM283.6 1336.3h27.3v.3h-27.3zM288.1 1336.6h22.3v.3h-22.3zM283.8 1336.9h27.6v.3h-27.6zM287.6 1337.2h23.7v.3h-23.7zM284.6 1337.5h26.6v.3h-26.6z"/>
<path d="M254.8 140.5l1.1.3-.6.3 1.9.3-.8.3 .8.3-1.9.3 1 .3 .2.3-.7.3 1.8.3-2.3.3 .2.3-1 .3 1.7.3-.5.3-1.5.3-.7.3 2 .3-3.5.3 3.8.3-6.9.3 7.6.3-1.4.3-22.1.3-36 .3 30.1.3-47.5.3 47.8.3-47.8.3 53.6.3 3.8.3-4.5.3 2.8.3-.8.3-.2.3 1.5.3 4.2.3-2.6.3-51.4.3-6.4.3 59 .3-3.5.3-.7.3-5.9.3-44.8.3 41.4.3-45.5.3 49.3.3 2.1.3-51.4.3 51.8.3-47.6.3 44.5.3 4 .3-2.2.3-50.5.3 55 .3 2 .3-6.8.3 2.9.3 5.9.3-59 .3 51.5.3 2 .3-1.5.3-3 .3-3 .3 6.1.3 1.2.3-42.6.3 42.8.3 .7.3-30.6.3 32.3.3-1.5.3-54.4.3 54.7.3 .8.3 2.1.3-2.3.3-55.3.3 0 .3 55.9.3-3.9.3 3.5.3 .3.3 5.1.3-1.1.3 .2.3-5.4.3 .2.3 .8.3-3.9.3-35.7.3 34.4.3 3.7.3-49.7.3 52.6.3-5.3.3 8.3.3 .9.3-2.7.3-6.7.3 4 .3-35.9.3 39 .3 1.6.3-5.2.3-49 .3 49.6.3-1 .3 5.4.3-1.8.3 1.4.3 14.3.3 .4.3-10 .3 8.8.3 .1.3-1.7.3-4.1.3 7.3.3-.4.3 .6.3 1 .3 1.4.3-.8.3 1.1.3-2 .3-1.6.3 1.4.3-2.1.3-1.9.3 1.1.3 3.7.3-3.7.3 3.6.3-7.4.3 7.5.3-.3.3-4.2.3 5.2.3-.8.3 1.8.3-.9.3-4.3.3 5.6.3-1 .3 2.1.3-2.6.3-.5.3-1 .3-.9.3 4.4.3-1.6.3 .6.3 1.4.3-9.9.3 9.1.3-1.3.3-1.8.3-1.7.3 1.9.3-1.2.3 2.8.3-.8.3-8.3.3 8.3.3-9.3.3 11.2.3-.3.3 2.4.3-4.1.3-6.4.3 10.3.3-11.1.3 13 .3-1.2.3-9.7.3 5.5.3 1.3.3-1.6.3-6.4.3 8.6.3-2.4.3 2.5.3-.8.3 1.9.3-.9.3-7.8.3 8.5.3-12.2.3 .5.3 10.7.3 .9.3-.9.3-2.1.3 1.5.3 4.9.3-6.2.3 3.5.3 .8.3 1.1.3-3.6.3 .4.3-.4.3-.4.3-1.3.3 .5.3 2 .3-14 .3 9.6.3-4.6.3 3.4.3 6.5.3-11.2.3 4.5.3 6.8.3-8.6.3-3.3.3 2 .3 6.4.3-6.7.3 9.5.3 2.2.3-.3.3-3.8.3 2.9.3 0 .3-12.5.3 15.5.3 2.3.3-7.5.3 3.9.3-6 .3 7.7.3-5.2.3 2 .3 3.9.3-1.7.3 .9.3 .5.3 .1.3-10.2.3 7.8.3-1.6.3-11.1.3 14.3.3-2.1.3-13 .3 14.8.3-10 .3 8.5.3-1.7.3-.6.3 2.4.3-1.8.3 4.6.3-1.6.3 2.5.3-1.1.3 .8.3-2 .3-11 .3 7.8.3 5.2.3-.6.3-4.8.3 .2.3 2 .3-1.2.3-9.6.3 10.2.3-.3.3 4.4.3-4.5.3-12.9.3 15.3.3-8.9.3 7.1.3 2.1.3-3.8.3-12.1.3 14.5.3-14.8.3 14.5.3-1 .3 3.2.3-2.7.3 3.2.3-11.4.3 9.1.3 1.3.3-3.1.3 1.6.3-.4.3-5.2.3 7.5.3-3.3.3 3.4.3-2.8.3 .3.3-12.4.3 2.6.3 7 .3-14.4.3 16.6.3-5 .3 2.5.3-78.3.3 66.8.3-2.4.3 3.1.3-6.2.3 15.6.3-13.2.3 14.9.3-74.6.3 65.1.3 8.6.3-.3.3-19.2.3 19.5.3 1.2.3-1.7.3 1.7.3-.8.3-77.1.3 75.5.3 1 .3 .3.3-12.6.3-4.5.3 15.3.3-75 .3 75.6.3-3.9.3-62.7.3 52.4.3 13.8.3-1 .3-1.2.3 .3.3-11.2.3 16 .3-.7.3-16 .3 14.2.3-12.2.3 8.4.3-8.7.3 8.3.3 0 .3-4.2.3 3.3.3 .2.3-.7.3-10.3.3 5.4.3 2.5.3-.3.3-2.2.3 1.6.3-1 .3 .8.3 2.1.3-10.7.3 10.4.3-1.8.3-.8.3 1.8.3-.3.3 1 .3 0 .3-10 .3 7.5.3-.2.3 .6.3-7.6.3 .2.3 8.1.3 .1.3-2 .3 2.4.3-3.1.3-5.7.3 8.7.3-1.7.3-8.7.3 5.8.3 2 .3 1.5.3-2.9.3-.5.3 1.8.3 2 .3-2 .3-1.2.3-.8.3 1.2.3 .3.3 1 .3-8.3.3 9.2.3-3.3.3-6.6.3 3.2.3-2 .3-3 .3-3.4.3 6.9.3-9.6.3-3 .3 9.7.3-11.3.3 11.6.3-.3.3-.2.3-4.1.3 1 .3-5.9.3 3.2.3 1.9.3-2.7.3-.2.3-1.5.3 1.8.3 1.4.3-.4.3-10.4.3 10.4.3-1.7.3-1.4.3-4.8.3 3.2.3 0 .3-2.9.3-10.3.3 6.8.3 4.4.3-3.9.3 4.2.3-15.2.3 11.5.3 .7.3-1.5.3-.7.3-5.5.3-5.7.3 9.8.3-2.9.3 .6.3-1.5.3-5.7.3 9.4.3-4.2.3-33.1.3 0 .3-.1.3 .1.3 0 .3-.1.3 .3.3-.3.3 .3.3 .2.3 .1.3 0 .3 .1.3 0 .3-.3.3 53.1.3 2.2.3 1.2.3 2 .3-5.8.3-1.4.3 2.6.3-3 .3-.5.3 3.8.3 2 .3-1.6.3 1.8.3-53.4.3 50.6.3 4.3.3-3 .3-14.1.3 17.5.3-.4.3-1.6.3-1.7.3 6.9.3-51.5.3 40 .3 5.2.3-16.5.3 11.4.3-13.9.3 20.8.3-.3.3-1.1.3-3.9.3-3.5.3-29 .3 20.5.3 14.6.3-3.2.3 4.3.3-5.9.3 4.4.3-9.4.3 4.5.3 .1.3-1.8.3-17.3.3 15.6.3 4.7.3 .4.3-.8.3-1.2.3 3.1.3-6.8.3 2.8.3 2.8.3-1.9.3 8.1.3-34.3.3 35.7.3-7.3.3-5.1.3 7.4.3-26 .3 22.6.3-.4.3 1.9.3 .5.3 .5.3 2.7.3-2.9.3 .8.3-3.6.3-1.9.3 5.4.3-4.9.3 2.1.3-1.4.3-1.3.3 .6.3-1.2.3 1.5.3-3.2.3 3.7.3-22 .3 21.7.3-3.7.3 2.3.3-1.4.3-1.2.3 4.4.3-20.9.3-.6.3 16.2.3 4.1.3 2.1.3-2.9.3 7.2.3-2.2.3 .6.3-.5.3 1.7.3 1.4.3-31.2.3 34.2.3-4.2.3-1 .3-1.8.3 .3.3-.3.3-30.4.3 22.9.3-10.5.3 11.7.3 2.3.3-5.1.3 1.5.3 2.2.3 1 .3-19.6.3 1.2.3 13.5.3-34.7.3 43 .3-4.7.3 1.1.3 .8.3-1.2.3 2.4.3-6.8.3-1.8.3 4.8.3-.1.3-17.7.3 19.2.3 1.4.3-.9.3-.4.3 1.9.3 .9.3-2.7.3 .4.3-3.4.3 3.7.3 .7.3 2.2.3-2.8.3-1.3.3 5.4.3-.7.3-2.1.3-32.6.3 30.2.3 1.8.3-3.5.3-12 .3 14.8.3-2.5.3 2.1.3-3.5.3 .9.3-1.4.3-1.4.3-4.4.3-.1.3 .5.3-2 .3 3.3.3-.9.3-16.5.3 13.6.3 2.2.3-2.1.3-34.8.3 36.7.3-15.4.3 15.6.3-3.7.3-14.7.3 12.6.3-3.8.3-.6.3-6 .3 12.5.3-27.2.3 28.4.3 .3.3-3.1.3-16.9.3 18 .3 .1.3-2.2.3-2.2.3 1.1.3 1.6.3 1.3.3-7.2.3-1.8.3 5.3.3-5.8.3 2.5.3 1.6.3-2.2.3-.3.3-17.1.3 24.6.3 .6.3 .1.3-3.6.3 .9.3-.8.3-4.3.3-.6.3 1.6.3 1.9.3-15.3.3-12.9.3 9.3.3 1.3.3 3 .3-10.2.3 16.7.3-2.5.3 2.5.3-1.8.3 3.5.3-1 .3 1.9.3 1.6.3 .6.3 1.2.3-1.1.3 13.4.3-1.5.3 2 .3-3.7.3 3.9.3-1.5.3 .8.3 .5.3-2.3.3 5.1.3-4.2.3-20 .3 20 .3 3.9.3 .4.3-20.8.3 22.3.3-1.1.3-1.9.3 4.6.3 .6.3 1.6.3-1.8.3 5.3.3-1.9.3-3.9.3 2 .3 3.2.3 .1.3 2.5.3 0 .3-1.8.3 2.9.3-.9.3 3.1.3-.5.3 6.3.3-.3.3 .4.3-3.4.3 1.6.3 3.8.3-9 .3 6.3.3-.5.3 1.3.3-.1.3 .4.3-5.2.3 .9.3 3.6.3 1.1.3-2.9.3 .5.3 .3.3 2.2.3 2.7.3-15.5.3 13.7.3-.3.3 1.1.3-1.3.3 3.6.3-.5.3-2.3.3-.4.3 .3.3-7.9.3 7.1.3 .9.3-3 .3 .2.3-11.8.3 13.3.3-.8.3-1.7.3 .7.3 3.3.3-15.3.3 17.2.3-10.3.3 11 .3-14.5.3-9.2.3 6.9.3-3.4.3-23.8.3 22.5.3-45.2.3 13.3.3 33 .3-1.4.3-22.6.3-7.1.3 30.3.3-2.7.3 2 .3-.5.3-30.5.3 42.6.3 2.8.3 1 .3 1.3.3 .7.3-2.4.3 1.7.3 .1.3-12.4.3 10.5.3 1.9.3-2.3.3 2.9.3 1 .3 1.4.3-.4.3-2.4.3 1.5.3 .4.3-.8.3-.1.3-1.2.3 4.1.3-.4.3-2.4.3-.4.3 1.7.3 2.8.3-2.7.3-.3.3 1.8.3-.5.3 1.3.3-.4.3-1.2.3 2 .3-1.3.3 1.3.3-5.8.3 5.7.3 4.4.3-1.8.3-3.4.3-2 .3 .1.3-2.2.3 .4.3-3.9.3 2.4.3 .4.3-.3.3-2.8.3-.6.3-.5.3 1.7.3-21 .3 20.4.3-3.8.3-.6.3 .7.3-3.3.3 2.3.3-.3.3-2.9.3-1.1.3-1.7.3-3 .3 2.9.3-2.9.3-1.1.3 3.4.3 0 .3-3.7.3 1.5.3-1.6.3-16.5.3 14.2.3-3.4.3-5.6.3 7.4.3-1.7.3-.8.3-2.3.3-2.5.3 1.3.3-2.4.3-3.3.3-1.3.3 .1.3-.5.3-25.7.3 32.6.3 1 .3 .1.3 5.7.3-27.2.3 15.4.3 1 .3-28.6.3 38.8.3-14.5.3-15 .3 9.8.3-18.7.3 16 .3 14.8.3-28.1.3 1.7.3 6.1.3 31.2.3-9.7.3 3.7.3-7.9.3-5.4.3 20.2.3-19.6.3-7.2.3 20.7.3 5.4.3-4.2.3-20.7.3 .3.3-12.6.3-.7.3 37 .3-1.1.3-17.6.3-2.2.3 .4.3 7 .3 45.2.3-45.9.3 17.6.3-15.1.3 26.8.3-23.1.3 19.2.3 .3.3 16 .3-34.9.3-2.3.3 17.4.3 3.7.3-23.5.3 2.4.3 11.8.3-41.1.3 54.4.3-6.5.3 5.4.3 5.6.3-28.9.3-7.8.3 43.1.3-22.8.3 19.1.3-16.4.3 15.9.3-21.7.3 22.1.3-26.9.3 2.9.3-22.5.3 48.7.3-11.2.3-13.5.3 15.9.3-27.4.3 12.1.3-.8.3 5.8.3 .2.3 28.4.3-62 .3 14.4.3-10 .3 25.6.3-.9.3 4.6.3-7.8.3-.3.3-17.1.3 8.9.3-16.3.3-1.2.3-2.5.3 6.2.3 20 .3 10.2.3-46 .3 12.9.3 15 .3 8.1.3-2.6.3-13.4.3 10.2.3-26.2.3 10.7.3-6.1.3 36.8.3-38.4.3 25.2.3-12.3.3 18.6.3-28.5.3 29.1.3 7.9.3-27.2.3-7.4.3 39.3.3-27.7.3-21.4.3 10.1.3 64.7.3 1.8.3 1.1.3-8.3.3 7.2.3 .3.3 .8.3 2.2.3-53.5.3 52.6.3-.9.3 2.3.3-.2.3-1.9.3-3.1.3 0 .3 1.8.3 .6.3-.1.3 2.9.3-2.9.3 .9.3 .1.3 .1.3 .2.3-.5.3-1 .3 1.2.3-2.4.3 4.3.3-.4.3-13.8.3 1.7.3 11.8.3 1.2.3-1.4.3-.1.3-1.7.3 1 .3 .5.3 0 .3-3.4.3 4.5.3-2.3.3 .8.3 2.7.3-1.2.3-3 .3 1.7.3-1.6.3 .9.3-3.7.3 .7.3 3.5.3-1.6.3 3.9.3-6.4.3 6.8.3-1.7.3 2.1.3-.7.3-2.7.3-4.4.3 5.1.3-8 .3 7.7.3-.6.3 1.9.3-1.7.3-6.6.3 8.1.3-11 .3 9.9.3 0 .3 .6.3-2.4.3 1.9.3 1.5.3-2.2.3-.3.3 .1.3-3.2.3 1.8.3 1 .3 1.3.3-1.5.3 2 .3-.4.3 1.8.3-1.3.3 .7.3-6.8.3 6.9.3-.8.3-.8.3-1.7.3 3.7.3-1.5.3-4.3.3 2.6.3 1.3.3-2.2.3-7.8.3 9.3.3-1.4.3-1.1.3 2 .3-4.4.3 5.8.3-1.6.3 .8.3 .9.3-1.8.3 .2.3 2.1.3-2.3.3 1.6.3-7.1.3-.3.3 .6.3 .8.3-3.4.3 1.2.3 1 .3-6.9.3 8.2.3 .3.3-1.3.3 .7.3 .4.3-1.3.3 .5.3-.7.3-3.3.3 2.5.3 .1.3-12.1.3 14 .3-1.6.3-.2.3 .6.3 1.1.3-1.8.3-1.3.3 .5.3-1.8.3-20 .3 21.2.3-16.4.3 15.6.3 2.4.3 .6.3-1.1.3-.2.3 .5.3 2.1.3-34.7.3 29.2.3 .7.3 3.2.3 1.2.3-1.5.3 1.4.3-4.6.3-20.9.3 26.2.3-3.4.3 .3.3-4.5.3-17.2.3 5.4.3-3.2.3 4.8.3-4.3.3 6 .3-3.2.3 1.8.3 .3.3-7.1.3 6.5.3 .6.3-3.3.3 2.3.3 1.3.3-1.4.3-3.7.3 7.7.3-4.4.3-15.5.3 14.7.3-3.4.3-2.9.3 3.8.3 0 .3 3.5.3 .1.3-.9.3-1.9.3 1 .3 4.5.3 33.2.3 .6.3-2.3.3-.7.3 .3.3-.9.3 .9.3-.5.3-.9.3 .8.3 .8.3 .6.3-.4.3 1.1.3-.7.3-1.2.3 1.6.3-1.9.3 .3.3 1.3.3-.5.3 1.2.3-1.1.3 .9.3-.1.3-1.7.3 .5.3 1 .3 .6.3-1.1.3 1.8.3-.8.3 .7.3-1.5.3-.7.3-.7.3-.2.3 1.9.3-.8.3 .1.3-.5.3 .9.3-.8.3 1.5.3-1.3.3 2.2.3-1.7.3-.3.3-1.2.3 .2.3 1.3.3 1.8.3-1.5.3 1 .3-1.2.3-1.1.3-1 .3 1.9.3 .8.3 .2.3-2.6.3 2.1.3-1.5.3 .9.3-.4.3 0 .3-.9.3 .4.3-1.3.3 1.8.3-.6.3 1.2.3-.5.3 .7.3-.2.3 2.4.3-2.6.3 .7.3 0 .3 .8.3-.9.3-.1.3-.3.3 .4.3 0 .3 1.7.3 .4.3-3.4.3 1.3.3 .7.3-1.1.3 2.2.3-1.2.3-.1.3-.5.3 .2.3-.1.3-1.2.3 .5.3 .9.3 1.6.3-3.5.3 1.2.3-.3.3-.3.3 1.6.3 .9.3-2.9.3 2.2.3-1.1.3 .1.3-.7.3 1 .3-.2.3-.2.3-.2.3 1.3.3-.9.3 .1.3-1.8.3 1.6.3-2.4.3 2.7.3-1.5.3 .6.3 .4.3 .2.3-.5.3 .1.3-.3.3 1.9.3-1.3.3 1.5.3-.5.3-1.6.3 .4.3 .3.3 17.7.3 .2.3-.2.3-.5.3-2.5.3 1.9.3-5.5.3 4.2.3-1.9.3 3.2.3-2.4.3 2.2.3 2.5.3-2.7.3 3.2.3-.1.3-4.1.3 3.2.3 .5.3-3.9.3 .8.3 2.6.3-5.4.3 .7.3 .1.3 .7.3-1 .3 1.6.3-1.6.3 2 .3 .1.3 1.5.3-.2.3 .3.3-.8.3 2.2.3-1 .3 .8.3-6.6.3 7.3.3-1.2.3 .1.3 .1.3-.5.3-1.4.3 1.7.3 2.4.3 .2.3-2.5.3 3.6.3-2.4.3 2 .3-.8.3-2.2.3 .8.3 .6.3-.5.3-2.2.3 1.7.3-1 .3-1.1.3 2 .3-.2.3 .3.3-1.5.3 3 .3-2.5.3-1.6.3 .2.3-.4.3-2 .3 4.1.3-2.6.3-.4.3 1.4.3-2.4.3-1.5.3 .8.3 3.6.3 .9.3-1.4.3 .3.3-2.4.3 .1.3-1.4.3 .4.3 .8.3-.7.3 1.9.3 .8.3 1.1.3 .1.3 1.3.3-2.3.3-.5.3-1.2.3 .4.3 3.1.3-2 .3-.1.3 2 .3-2.2.3-.5.3 2.5.3-2 .3 1.9.3-.8.3 1.9.3-2.9.3 1.5.3-.1.3 1.7.3-3.6.3-.1.3-.9.3 .6.3-1.8.3 1.4.3 1.4.3-1.4.3-1 .3 1.7.3 .5.3-.3.3-1.1.3-.3.3-1.7.3-.5.3 2.5.3-.1.3 0 .3-1.3.3 .8.3 2.2.3-1 .3-.4.3-1.6.3 3.2.3-2.5.3-.3.3-.1.3 2.9.3-1 .3-1.5.3-.3.3 2.7.3-1.6.3-2.2.3 2.1.3-2 .3-.2.3 2.1.3-1.8.3 1.6.3-.5.3 1 .3 .9.3-.4.3 2.2.3-3 .3 .7.3 2.1.3 .2.3-1.3.3-1.9.3-.6.3 3.9.3-2.7.3-.2.3 .2.3-1.1.3 .3.3 1.7.3 2.9.3-1.6.3-1.5.3-.7.3 4.8.3-2.1.3-.5.3 3 .3-.9.3-.5.3-.5.3 3.3.3-2.2.3 2.3.3-1.6.3 .9.3 .3.3 .4.3 .8.3 .3.3-1.4.3 .4.3-.4.3 .1.3-4 .3 4 .3 .2.3-1.7.3 2.4.3-.8.3 1 .3 2 .3-1.9.3-1.7.3 1.9.3-3.3.3-1.1.3 .3.3-3.1.3 1.5.3 1.3.3-.2.3-.7.3-.4.3 2.6.3 0 .3-.8.3 .3.3-2.1.3 3.8.3 .6.3-1.3.3-1.6.3 1.5.3 1.3.3 .9.3-.9.3-1.1.3-1.3.3 1.3.3-.6.3 3.2.3-9.9.3 7.1.3 .9.3-.4.3-1.2.3-.2.3 .9.3 2.2.3-2.7.3 2.7.3-1.9.3 1.5.3-2.3.3 1.5.3-1.1.3 .1.3-.9.3-2.1.3 4 .3 0 .3 2.1.3 .8.3 1.7.3-.6.3-2.3.3-.8.3-2.1.3 .8.3 1.1.3 .1.3-.5.3 1 .3-1.1.3 1.6.3-1.4.3 3.1.3-2 .3 .5.3-.9.3-5.5.3 3.5.3-.1.3 .4.3-1.2.3 1.2.3-3.7.3 2.1.3-1.5.3 2.6.3 2.5.3 .5.3-.6.3-.7.3-3.9.3 4.2.3-.9.3 .1.3-2.6.3 2.6.3-6.9.3 7.2.3-.9.3-1.1.3-.1.3-1.5.3 1.4.3 .3.3-1.1.3 2.6.3 0 .3 .8.3-.1.3-.6.3 1.1.3-2.7.3 1.7.3 2.1.3-.8.3-.2.3-.6.3 .8.3 .3.3-1.1.3-.1.3 .3.3-.9.3 1 .3-1.2.3 .4.3 1.6.3-2.4.3 2.3.3-.4.3-1.8.3-.3.3 0 .3 .1.3 1 .3-2.1.3 1.1.3 2.5.3-2.4.3-1.3.3 .9.3-7.9.3 5.8.3 3.4.3-2.9.3 .7.3-.3.3-2.1.3 2.1.3-1.1.3-.1.3 3.8.3-1.7.3-.7.3-.5.3 2.5.3-2.4.3 1.3.3-.5.3-.2.3 2.7.3-2.3.3 2.7.3-3.8.3-.2.3-.3.3 .2.3 .1.3 .3.3-1.2.3 .7.3-.5.3 .1.3 .5.3-.7.3 0 .3 .3.3-.4.3-.3.3-.1.3 1.4.3-.5.3-.6.3 .2.3-.3.3 1.1.3-1 .3 0 .3-.4.3-.1.3 .8.3-.5.3 1.3.3-.5.3 .7.3 1.3.3-.1.3 .7.3 .1.3-1.5.3 1.2.3-.3.3 .9.3-2.6.3-.1.3 0 .3-1.1.3 2.8.3 1 .3-3.8.3 .4.3 1.3.3-1.1.3 3.2.3 0 .3-.3.3-1.7.3-1 .3 3 .3-2.2.3 .3.3-.2.3 .3.3-.5.3 .4.3 .9.3 3.2.3-1.5.3 3.3.3-1.9.3-.9.3-.5.3 .3.3-2.7.3 3.8.3-1.8.3 .8.3-1.3.3 1 .3-.1.3-1.4.3 1.9.3 .8.3-1.2.3 .5.3 1 .3 1.3.3-3.2.3 1.4.3 .5.3-3 .3-2.4.3 1.7.3-1.6.3 .4.3 2 .3 .9.3 .3.3 0 .3-1.9.3 2.7.3-1.7.3-1 .3 1.4.3 .4.3-.4.3 1.2.3 .1.3-1.6.3 3.3.3-3.6.3 3 .3 .8.3-1.2.3-.7.3 1.4.3-.6.3 5.5.3-.6.3 .8.3-.5.3 .2.3 1.3.3-2.1.3 1.2.3-.9.3 .5.3 2.2.3-6.5.3 5.4.3 .4.3-.3.3-3 .3-3.1.3 5 .3-.2.3 .5.3-.6.3-.4.3-1.7.3 1 .3-.2.3-.3.3-.6.3-.5.3 1.6.3 .4.3-.6.3-.2.3 .7.3 .1.3-1.1.3 .3.3-1.1.3-.6.3 1.3.3-1.5.3 1.1.3 0 .3 .5.3 .3.3-.4.3-1.3.3 1.1.3-1.3.3 1 .3-.3.3 1.1.3 .7.3-1 .3 .6.3-.8.3 .6.3 1 .3 .8.3-1.9.3 .3.3-1.4.3 2.1.3 .2.3-2.4.3 .6.3 .1.3-.1.3-1.2.3 1.7.3 .9.3-.8.3 .6.3-1.4.3 1 .3 .6.3-.8.3-.4.3 .4.3 .5.3-.5.3 .6.3-1.6.3 1.2.3-.4.3-1 .3-4.2.3 3.8.3 1.9.3-1.5.3-1.1.3 1.4.3-.3.3-2.1.3-1.8.3 1.9.3-.1.3-.1.3 1.5.3-.5.3 1.6.3-.7.3 1 .3-2 .3 .5.3 .8.3-.5.3 .1.3 1.9.3-.8.3-.9.3 .9.3-.4.3-1.1.3-.7.3-.5.3 1.2.3 0 .3-.4.3 .9.3-1 .3 1.1.3-1.1.3 .5.3-1.5.3 2 .3-1 .3-.9.3-.4.3 .6.3 0 .3 0 .3 .1.3-.4.3 1.2.3 .1.3-.4.3 .4.3 0 .3 1 .3-.2.3-1.2.3 1.3.3-1 .3 .3.3 .3.3-.4.3-.8.3 .4.3-1.1.3 .1.3 .1.3 .4.3-.3.3-.6.3-1.3.3 2.5.3-.2.3-.2.3 .9.3 2.6.3-.4.3-1.3.3-.3.3 .8.3-1.2.3 .9.3-.5.3 2.2.3-2.8.3 1.6.3-1.9.3 1.3.3 .4.3-1.3.3 .9.3-.7.3-.6.3 .1.3 1 .3-.3.3-1 .3 1.5.3-1.7.3 .8.3-1.5.3 1.1.3 .1.3 .8.3-.8.3-9.3.3 1.5.3 .6.3-1 .3 .4.3 .3.3-1.7.3 1.5.3-1.6.3-.1.3 .5.3 .5.3 2.1.3 .3.3-2.6.3 .3.3-.1.3-.6.3 1.4.3-.9.3-.6.3 .5.3 .5.3 3 .3-.1.3-.4.3 .3.3 .1.3 .5.3-.7.3 .6.3-.7.3-.6.3 2.3.3 0 .3 1.2.3-1.2.3-.6.3 .3.3 .4.3-.3.3-.6.3 1.3.3-.9.3 .2.3-.7.3 1.3.3 0 .3 2 .3-1.6.3 4.8.3-1.3.3 1 .3-2.3.3-.4.3 .7.3-.7.3 1.1.3 .6.3-.4.3 .4.3-1.2.3 .2.3 .2.3 .7.3 1 .3-2 .3-.1.3 1.3.3 .5.3-.9.3 .8.3-1.2.3 .3.3-.4.3-.3.3-.9.3 2.8.3-3.2.3 1.1.3-1.6.3 1 .3-.5.3 0 .3-2.3.3 1.5.3 .9.3 .1.3-.5.3-.7.3 .2.3-.5.3 .3.3-1.5.3 .9.3 2.1.3 .2.3-.8.3-.4.3 .4.3-.7.3 .1.3-1 .3 1.1.3-.7.3-.9.3-.1.3 .6.3-1.9.3 .1.3 .2.3-.6.3-.1.3 1.1.3 .1.3 .2.3-3.9.3 2.6.3-.8.3 1.8.3 1.2.3 .4.3-2.2.3 2.2.3-2.2.3-.8.3 1.7.3 .8.3-2.6.3 1.5.3-.6.3 2.6.3-2.4.3-.6.3 .3.3 0 .3 .6.3 .2.3-.6.3 .4.3-4.7.3 .8.3-2.5.3 2.1.3-1.8.3 2.3.3-1 .3-.1.3 .4.3-1.2.3 .6.3-.9.3 .8.3-1.1.3 .2.3-.8.3 2.4.3 0 .3-1.2.3 1.7.3-1.6.3 1.5.3-2 .3 .1.3 .2.3-2.2.3 4.7.3-.2.3-2.2.3 .5.3-1.7.3 1.2.3-1.4.3-4.2.3 6 .3-1.8.3 2.2.3-2.2.3 0 .3 .5.3-1.5.3 1.1.3-.3.3 .6.3-.9.3-.7.3 1.7.3 2 .3-.8.3 .6.3-.5.3 .9.3-1.3.3 .7.3 .4.3-.8.3 0 .3-1.5.3 1.7.3 .5.3-1.2.3-.5.3-.9.3 1.3.3-.3.3-.6.3 5 .3-.3.3-.6.3 1.3.3 .8.3-.2.3 .2.3-.3.3 .7.3 .5.3-.8.3 .8.3-1 .3 .6.3-.6.3 .2.3 .4.3-1.2.3 1.8.3 .4.3 .3.3-.2.3-1.3.3-.8.3 .1.3 .4.3-.1.3 8.1.3-.7.3 .7.3-1.1.3-1.7.3 1.8.3 .2.3-1.6.3 1.1.3-1 .3 1.8.3 .2.3 1 .3 1.2.3-1.2.3-.4.3 1 .3-2.2.3 .2.3 2.9.3-1.4.3 .6.3 .9.3-1.2.3-1.4.3 .1.3 .2.3-.8.3 .4.3-1.1.3 1.1.3-1 .3 1.5.3 .4.3-2 .3 1 .3-.2.3-.7.3 .4.3-9.8.3 8.4.3 1.1.3 1.2.3 1.5.3-2.6.3 .2.3 .3.3 .6.3-.8.3 .9.3-1.1.3 1.6.3 .7.3-.8.3-1.2.3 .3.3 .2.3 .5.3-1.4.3-1.2.3 1.3.3 .7.3 1.2.3-.6.3-.9.3 .6.3-.2.3 0 .3-.6.3 2.2.3-1.7.3-.3.3 1.1.3-.5.3-.5.3-.4.3-.2.3 1.4.3-2.2.3 .4.3 1 .3 1 .3 .1.3 .1.3 .8.3-.4.3 .5.3-.3.3 1 .3-.3.3 .8.3-1 .3-1.3.3 .8.3-.3.3 .1.3-.3.3 1.2.3 1.4.3-1.4.3-1.3.3 1.9.3-.6.3-.7.3 2.3.3-.1.3-2.2.3 3.1.3-1 .3-3.1.3 .4.3 1.3.3 .8.3-.1.3-1.5.3-.5.3 1.1.3-.4.3 .7.3-1.1.3 0 .3 .2.3 .4.3 1.3.3-2.3.3 .4.3 .9.3-.3.3 .6.3 1.1.3-1.1.3-.6.3-.6.3 1.4.3-.7.3 .9.3 .7.3-.8.3-1 .3 1.1.3-.9.3-.2.3 .5.3-.2.3 0 .3 .7.3 .1.3 0 .3-1.2.3 .7.3 .6.3-2.6.3 .7.3 .3.3-1.1.3 1.7.3-.6.3-.3.3 1.2.3-2.5.3 0 .3 2.2.3 .2.3-1.5.3-.1.3 .3.3 1.8.3-.6.3 .3.3-1.1.3 .3.3-.4.3-.5.3 .6.3-1 .3 .3.3 1.6.3 .3.3 .3.3-.6.3-8.9.3 8.2.3 .5.3-.9.3 .4.3-.4.3 .9.3-1.3.3-.1.3-.6.3 .8.3-.5.3 1.4.3 1.2.3-.1.3 .2.3 0 .3-1.5.3 .9.3-1.3.3-9.5.3-.3.3-.6.3 2.4.3-2.6.3-.2.3-2.4.3 4.2.3-2.8.3 .9.3-.5.3-1.1.3-.2.3 2 .3-2 .3-.7.3-.5.3 1.4.3-.5.3 2.7.3-1.9.3 .3.3-1.6.3 2.5.3-.1.3 3.7.3-3.6.3-.4.3 1.7.3 2 .3 0 .3-1.4.3-.5.3-.5.3-.3.3-.8.3-.4.3 3.5.3-1.8.3 .1.3 .7.3-.9.3-1.5.3 2.5.3-1.7.3 1.4.3-.3.3 3.7.3-.3.3-3.8.3 1.9.3-.2.3 2.1.3-1.5.3 2.2.3-1.6.3 .7.3-1.9.3 .5.3-1.6.3 2.3.3-2.4.3 .7.3 2.3.3 1 .3-2.4.3 1.7.3-.7.3-.6.3-.7.3 .1.3 .9.3-.6.3-.7.3 1.4.3 .6.3 .9.3-.6.3 .5.3-1 .3 .8.3 1.8.3-.6.3-3.8.3 1.1.3 1.9.3-4.9.3 1 .3 2.2.3-2.6.3 .9.3-.6.3-.3.3 3.7.3-1.8.3-.6.3-.7.3 .8.3-.3.3 .1.3 .7.3 .3.3-.1.3 .8.3 1 .3-.5.3 .3.3-.7.3-1.1.3 2.5.3-1.7.3-1.1.3 2.3.3 .6.3 .2.3-.3.3 1.5.3-.1.3-1.7.3 1.6.3 .1.3 3.2.3-2 .3-1.9.3 1.5.3-.9.3 .1.3-.8.3 .5.3 0 .3 1.1.3-2.3.3 2.3.3 1.9.3-.7.3-2 .3-.2.3-.8.3 1.3.3-2.4.3 1.6.3-.7.3-2.7.3 3.7.3-.5.3-2.1.3 2.8.3-1.7.3-1 .3 1.9.3-1.2.3 2.1.3 .9.3-2 .3 1.5.3-.4.3-.5.3 .2.3-1.1.3 .3.3 0 .3 1.9.3-.2.3-2.1.3 1.9.3 1.9.3-2.6.3-.3.3 1.2.3 1.6.3 .8.3-.7.3-.6.3-.8.3 1.5.3-1.5.3 1 .3-1.7.3 .8.3 .6.3 .9.3-3.5.3 3.3.3-3.1.3 1.2.3-1.3.3-1.5.3 1.9.3 .8.3-.8.3-1.1.3 1.2.3 .8.3-.1.3 0 .3 .8.3-2.1.3-1 .3 1.8.3 0 .3 .2.3 0 .3-.4.3 .2.3 1.6.3 .3.3-1.9.3 1.5.3-2.2.3-1.6.3-.1.3 1.7.3 1.5.3 .2.3 1.1.3-1.4.3-1.9.3-.7.3-1.6.3 1.7.3-.5.3-.2.3-1.6.3 3.2.3-1 .3-.5.3 0 .3-1.8.3-.8.3 .9.3 1.3.3-1.1.3 .6.3 2.7.3-.1.3-2.5.3 2.3.3-4.4.3 .5.3 0 .3 1.2.3 2.9.3-1.7.3 3.4.3-.6.3-1.6.3-1.2.3 1.9.3-.7.3-.6.3 .5.3-2 .3 .7.3-11.7.3 .5.3-.8.3-.1.3 0 .3 1 .3 1.2.3-1.5.3 .4.3 0 .3 1 .3-.3.3-4 .3 3.8.3-2.6.3 .5.3 2.5.3-3.6.3 1.7.3 2.3.3 1.3.3-2.3.3-.6.3 3 .3 .8.3-1.5.3-.4.3-1.4.3-4.2.3 6.1.3-.8.3 4 .3-1.2.3-1.2.3 1 .3 .4.3-.5.3-1.2.3-8 .3 8.9.3-.5.3-1.6.3 .9.3-.2.3 0 .3 2.4.3-.5.3-1.3.3-.1.3 1.6.3-2.1.3-6 .3 6.7.3-2.3.3-.4.3 .4.3 2 .3 15 .3-.2.3 .7.3-1 .3 .4.3-.4.3-.6.3 .3.3 .7.3-1.3.3 .6.3 .9.3 .8.3-.9.3-1.6.3 2.4.3-.8.3-.4.3-.2.3 .6.3-10.7.3-1.7.3-.4.3 .4.3-7.8.3 5.1.3 1.1.3-1.4.3 1.2.3 1.8.3 .3.3-1.9.3 2.6.3-2.4.3-1 .3 3.2.3-3.2.3 3.6.3-2.3.3 1.3.3 1 .3-1.7.3 .3.3 .3.3 .2.3-.6.3 .7.3-1.4.3-1.3.3 3.2.3-1.4.3 2.5.3-2.3.3 1 .3 2.1.3-1.3.3-.1.3-2.2.3-8.3.3 9.2.3 1.2.3 .8.3-3.5.3 3.3.3-.4.3-.8.3-2.2.3 1 .3-.7.3 .9.3 .3.3-.7.3 .1.3-.7.3 2.9.3 2.1.3-2.5.3 2.6.3-1.4.3-1.4.3-.9.3 3.3.3-1.5.3-.1.3-.8.3 1.4.3 .7.3-1.7.3 2 .3 .2.3-3.5.3 .7.3 .9.3-1 .3 1.8.3 .5.3-1.4.3 2.6.3-1.7.3 .3.3 2 .3-1.9.3-2.2.3-.5.3 2.8.3-.4.3-.6.3 .4.3 1.7.3-4.3.3 2.2.3-.7.3 1.1.3 1.7.3-2.2.3 0 .3 .6.3-1.3.3 1.1.3-1.2.3 3.3.3 1.8.3-1.8.3-.8.3 .6.3-1.3.3 0 .3 1.5.3 .7.3-1.9.3 1.3.3-.2.3-.2.3-.6.3-.5.3-.5.3 2.4.3-1.7.3-2.5.3 1.1.3-1 .3 1.5.3-1 .3 .8.3-1.5.3-1.4.3 .8.3 1.7.3 1.2.3-.9.3-.6.3 .1.3 1.4.3-1.4.3 1.2.3 .6.3-2.3.3 2.9.3-1.5.3-1.9.3 3.1.3 1 .3 .9.3 1.1.3-3 .3 .2.3-.2.3 .1.3-1.4.3 1.1.3 1 .3-2.8.3 .1.3 .6.3-.2.3 .2.3 .1.3-1.2.3-.1.3 2.3.3-1.6.3 .1.3-1.9.3-.3.3 1.5.3-.2.3-2.6.3 .4.3 .2.3-.3.3-1.8.3 3.8.3-2.8.3 4.8.3-.1.3-.3.3-2.2.3-1.4.3 3.3.3-.3.3 .4.3-1.7.3 2.5.3-.3.3-2.6.3 3.9.3-.5.3 3.7.3-.2.3 0 .3-.4.3 .2.3-.2.3 3.7.3-2.1.3 1.8.3-3.3.3-1 .3 3 .3-1.7.3-1.2.3 1.3.3 .6.3-2 .3 0 .3-1.7.3 .3.3 3.4.3-3.6.3 1.7.3-1.2.3 1.8.3 1.1.3 .4.3-1.7.3 .6.3-1 .3 1.4.3-.5.3-2.4.3 2.6.3-.7.3-.8.3-.4.3 2.4.3-2.9.3 .3.3 1.1.3 .5.3 2 .3-2 .3 .6.3 .9.3-.3.3-.4.3 1 .3 1.4.3-.3.3-2 .3 3.3.3 .2.3 .6.3-2.4.3 .8.3 2.3.3-6.2.3 .4.3 2.3.3-3.8.3 .9.3-.8.3 2.3.3 0 .3 .2.3 1.3.3-2.2.3-.6.3 2.5.3-.5.3-.3.3 2.5.3-1.4.3 .7.3 .5.3-1.1.3 .7.3-.9.3-2.2.3 .5.3 .8.3-1.5.3 1.2.3 0 .3 .6.3-2.2.3 1.1.3 .9.3-.2.3-1.2.3-1.5.3 3.9.3-1.8.3-.2.3 3.6.3-2.4.3 2.9.3-1.1.3 1.3.3-.5.3-.7.3-.2.3-1.2.3 2.2.3-2.2.3 1.6.3 .4.3-1.4.3 1.4.3-.4.3 .1.3-1.7.3 2.4.3-1.4.3-.5.3 1.5.3 2.2.3-1 .3 1.9.3-1.5.3-1.5.3 2.7.3-3.1.3-.9.3 2.3.3 3.3.3-2.6.3 2.6.3-1.7.3-1.3.3 .1.3 .7.3 1.9.3 0 .3-.4.3-.6.3-.5.3-.2.3 1.7.3-1.6.3-.1.3-.3.3 1.7.3-1 .3 .1.3 1.7.3 .8.3-.1.3-1.1.3-.7.3-1.7.3 1.9.3-2 .3-1.6.3 .4.3 2.4.3-.9.3 2.5.3-4.7.3 4.2.3-.2.3-1 .3-.7.3-1.1.3-1.2.3 2.4.3 1.3.3 .2.3 .3.3-.5.3-.2.3 1.2.3-2.7.3 1.1.3-1.4.3-.6.3-.6.3 1.3.3 1 .3-2.5.3 .7.3-2.1.3 .7.3 2 .3-1.3.3 .3.3 1.3.3 .4.3 1.7.3-1.4.3-.3.3-.1.3 .6.3 1.4.3-2.7.3 1.3.3-1.7.3 1 .3 8.7.3-.2.3-.7.3-.9.3 2.8.3-.6.3-1.5.3 1.5.3 0 .3 .8.3-2.8.3 .5.3 .8.3-1 .3 .4.3 1.8.3-1.6.3-1.3.3 1.2.3-.7.3-1.1.3 1.4.3 1.8.3-.6.3-1.3.3 1.5.3-.4.3 1.9.3-.9.3-2.5.3 2.4.3-1.7.3-.4.3-.2.3 .6.3 .2.3-.9.3 2.9.3 .2.3-.8.3 .4.3-.4.3 .1.3-.8.3-.9.3 1.6.3 .4.3-2.9.3 2.2.3-1.8.3 2.2.3 .9.3-1.3.3-.1.3 1 .3 0 .3 .7.3-.7.3-1.7.3-.6.3 1.4.3 .7.3 .4.3-.4.3 1 .3-.9.3 0 .3 .2.3 1.1.3-.3.3-11.1.3 1.1.3 0 .3 1.1.3 .7.3-1.6.3 .8.3 .5.3-.7.3 1 .3-1.2.3-1.4.3 1.6.3 .3.3-1.1.3-.1.3 5 .3-3.1.3 .8.3 .6.3-.5.3-.1.3-1.4.3 0 .3 2 .3-.1.3-.2.3-1.6.3-.6.3 1.3.3-.1.3-.8.3 0 .3 1.4.3 .1.3-.7.3 1.3.3-1 .3 .8.3-.7.3-2.4.3 1.7.3-2.5.3 1.8.3-1.1.3 1.5.3 .1.3-.1.3 2.1.3-.2.3 2.4.3-.7.3 0 .3 1.4.3-.6.3 .5.3-1.4.3 1 .3-.8.3 1.6.3-.8.3-1.1.3 .1.3 2.2.3-.5.3-2.8.3 1.2.3-.7.3-.2.3 1.3.3 .1.3-1.8.3-.5.3 1 .3 .4.3 .5.3-.3.3 1.5.3-.6.3-1.3.3 .2.3-.6.3-.7.3 .4.3-.3.3 .5.3-.5.3-.1.3 .6.3 .4.3 .6.3 .5.3 .3.3-.3.3 0 .3 .5.3-8.8.3 .2.3-.9.3 1.3.3-1.6.3-.2.3-1.1.3 1.5.3-.8.3 .4.3-1 .3-1.6.3 1.2.3 .5.3-.2.3-.8.3 .4.3 1 .3-.2.3 .5.3 .8.3-2.9.3 1.5.3 .4.3 .4.3 .3.3-1.3.3 .7.3-1.4.3 .5.3 15.7.3-.2.3 .6.3 .7.3-1.2.3 1.5.3-.4.3 0 .3-1.1.3 .9.3-.3.3 .1.3 .5.3-1 .3-.6.3-.2.3 1 .3-.4.3-.2.3 .7.3-.1.3 .6.3-.3.3 0 .3-.5.3 .8.3-.9.3 .5.3 0 .3-.2.3 .2.3-.3.3 .3.3-.6.3 .2.3-.4.3 .7.3 .4.3 .2.3 .3.3-1.4.3 .4.3-.3.3 .1.3 .2.3 .1.3-.1.3 .1.3 .3.3-1 .3 .1.3-.3.3 .1.3 .3.3-.2.3 .9.3-.8.3 .7.3-1 .3 .5.3 .1.3 .7.3-.2.3-.3.3-.5.3 .2.3-.5.3 .5.3-.4.3 .2.3-.8.3 .9.3 .5.3-.3.3 .5.3-.6.3 .4.3 .2.3-.2.3-.2.3-.7.3 0 .3 .5.3-.5.3 0 .3 .5.3-.1.3-.5.3 1 .3 .1.3 .1.3 .3.3 .4.3-.6.3-.5.3 .3.3-1 .3-.1.3 .5.3-.4.3 .1.3-.1.3 0 .3 .1.3 1 .3-.2.3 .7.3-.8.3 .5.3-1 .3 .1.3 .8.3-.8.3 .2.3-.3.3 .9.3-.8.3 .1.3-.1.3-.2.3 .3.3 .1.3 .7.3-.9.3 .1.3 0 .3 .5.3-.1.3-.6.3 .5.3-.8.3 .3.3-.1.3 .4.3 .1.3-.2.3-.5.3 .6.3 .5.3-.6.3-.2.3-.5.3 .8.3 .2.3 .3.3-.4.3 .1.3-.1.3 .3.3-.8.3 .2.3 .3.3-.5.3 .5.3 .3.3-.8.3-.4.3 .1.3 .2.3 .7.3 .2.3-.1.3-.6.3 .7.3-.7.3 .6.3-.2.3-.1.3 0 .3 .1.3 .6.3-.2.3-.3.3-.3.3 0 .3-.2.3 .1.3-.4.3 .2.3 .9.3-.6.3 .8.3-.2.3 0 .3 0 .3 .3.3-.3.3-.8.3 .4.3-.1.3 .2.3-.2.3 0 .3 .2.3 .2.3-.1.3 .5.3 0 .3-.5.3 .2.3-.2.3 .6.3-.6.3 .6.3 0 .3 0 .3-.8.3 .2.3-.3.3 .2.3-.9.3 .1.3 .2.3 .2.3 .4.3 0 .3 .8.3-.4.3 0 .3-1 .3 .4.3-.2.3 .2.3-.2.3 .5.3-.8.3 1 .3 .1.3-.7.3 .7.3-.3.3 .4.3-1 .3 .7.3 .2.3-.3.3-.5.3 0 .3-.5.3 .8.3-.9.3 .5.3 .2.3 0 .3-.1.3 0 .3 .2.3 .4.3-.2.3-.3.3 .1.3 .4.3-.2.3-.9.3 .5.3 .2.3 .4.3 0 .3 .5.3-.6.3 .2.3-.6.3 .5.3-.8.3 .3.3 .2.3 0 .3-.4.3-.1.3 .7.3-.5.3 .5.3 .5.3-.5.3-.1.3 .1.3 .1.3-.4.3 .1.3-.1.3-.3.3-.5.3 .2.3 .6.3-.3.3 .1.3 1.2.3-.6.3 .4.3-.2.3-.1.3-.5.3 0 .3 .4.3 .4.3-.6.3-.5.3 1.3.3-.4.3-.4.3-.6.3 .4.3 .8.3-.6.3 0 .3-.6.3 .1.3 .9.3-.4.3 0 .3 0 .3 .7.3-.7.3-.1.3-.4.3 .2.3-.2.3 .5.3-.4.3 .3.3 .2.3-.4.3-.2.3-.3.3 .4.3-.3.3 .8.3-.6.3 .7.3-.9.3 .4.3 .4.3 .5.3-.4.3 .1.3 0 .3-.6.3 .7.3-.3.3 .3.3 .3.3-.1.3-.2.3-.3.3 .3.3-.6.3-.2.3 0 .3 .2.3 .3.3-.2.3 .3.3 .4.3-.3.3-.3.3-.1.3 .1.3-.1.3 .2.3-.3.3 .2.3-.3.3 .6.3 .3.3-.8.3 .6.3-.2.3 .2.3-.5.3 .3.3 .3.3-.3.3-.3.3-.5.3 .2.3 0 .3 .4.3-.9.3 .6.3 .7.3-.4.3 .2.3 .5.3-.6.3 .3.3-.2.3 .1.3-.8.3 .2.3-.2.3 .7.3 .7.3-1.2.3 .2.3-.5.3-.2.3 .5.3 .3.3 .1.3-.2.3-.5.3 .2.3 .6.3-1.5.3 .8.3 .1.3 .2.3-.3.3-.6.3 1.2.3 0 .3 .2.3-.3.3-.6.3 .8.3-.5.3 .5.3-.3.3 .3.3-.9.3 .8.3 .1.3-.8.3 .1.3 .7.3-.6.3 .6.3-.8.3 .6.3 .1.3-.5.3-.3.3 .8.3 .2.3-.1.3 .1.3 .1.3-10.8.3-.3.3 1.1.3-.3.3 .5.3-1.3.3-.1.3-.7.3 1.6.3-1.8.3 .1.3 0 .3-.5.3 1.2.3 .4.3-.8.3 .7.3-.6.3 .1.3-.5.3 .7.3-1.1.3 1.9.3-1.6.3 0 .3 .4.3-.1.3 .8.3-.1.3-2.2.3 .9.3 .9.3 .3.3 10.8.3 .1.3-.8.3 1.1.3-.9.3 .4.3-.7.3 .5.3 .2.3-.3.3 .2.3 .2.3 .1.3-.3.3-.3.3 .2.3 .1.3 .3.3 .3.3-.3.3-.3.3-.3.3 0 .3-.1.3 0 .3 1 .3-1 .3 .5.3-.5.3 .3.3 .6.3-.8.3 .4.3 0 .3 .2.3 .5.3-1.2.3 .2.3 .2.3 .1.3 0 .3-.4.3-.1.3 .2.3-.2.3 .1.3 .2.3-.1.3 0 .3 .1.3 .2.3 .5.3 .2.3-.4.3-.2.3-.1.3-.2.3 .4.3 .7.3-.6.3-.6.3-.2.3 .4.3-.5.3 1.1.3-.5.3 .1.3-.3.3 .6.3 0 .3-.5.3-.1.3 .4.3 .2.3-.2.3 .1.3 0 .3 0 .3 .1.3 .4.3 .1.3-.1.3-.3.3 .2.3-.3.3-.4.3 .3.3-.3.3 .3.3 .1.3-.6.3 .6.3 0 .3-.9.3 .6.3 .7.3-.4.3 .2.3-.5.3 .5.3-.6.3 .1.3 0 .3 .6.3-.8.3-.2.3 .7.3-.5.3-.2.3 .1.3-.5.3 0 .3 .1.3-.4.3 1.5.3-.8.3 .8.3-.2.3 .7.3-.6.3-.2.3-.5.3-.3.3 .8.3 .4.3-.2.3-.5.3 .5.3-.1.3-.6.3-.1.3 .3.3 .1.3 .2.3 0 .3-.5.3 .4.3 .1.3 .6.3-.1.3 0 .3-.5.3 .2.3-.4.3 .1.3-.1.3 0 .3 0 .3-.1.3-.3.3-.2.3 .3.3 .3.3-.4.3-.2.3-.5.3 1.1.3-.2.3-.2.3" fill="none" stroke="#0000ff" stroke-width="1.0" stroke-linejoin="bevel"/>
<path d="M318.7 140.5l-4.6.3 12.3.3-11 .3 6 .3-1.4.3 1.6.3 3.1.3 5 .3 .3.3-7.9.3-2.4.3 .3.3 1.6.3 8.8.3-8.2.3 2 .3-10.7.3 4.8.3 9 .3-4.8.3-1.7.3-3.1.3-5.4.3-22.2.3 6.6.3 17.5.3-19.7.3 3.8.3 .7.3-9.5.3 7.4.3 11.3.3-8.7.3-1.4.3-2 .3 7.8.3-7.4.3 24.6.3-33 .3 8.1.3 5.6.3-7.3.3 4 .3 14.7.3-21 .3-3.8.3 22.3.3-2.7.3-10.3.3 3.8.3-8.8.3 3.3.3 7.2.3-3.6.3-13 .3 6.1.3 5.3.3 5.1.3-1.7.3 3.9.3 3.1.3-6.8.3-7.5.3 11 .3 1.8.3-11.8.3 9.7.3-15.2.3 .4.3 14 .3 3.7.3 2.6.3-14.4.3-5.4.3 8.7.3-6.8.3 7.8.3-.4.3-4 .3 1.2.3-2.3.3 6.4.3-1.5.3-4.7.3-.3.3 2.4.3 4.5.3-6.3.3 2.6.3 .8.3-4.5.3 6.6.3-7.8.3 10.7.3 1 .3-.4.3 4.3.3-11.3.3-2.5.3 19 .3-4.3.3-14.8.3 4.7.3 5.4.3 5.9.3 .2.3-1.4.3-14.2.3 13.8.3-5.8.3 9.7.3-13.9.3 9.9.3 7.6.3 7.4.3-8.8.3 13 .3-2.5.3-2.5.3-.2.3-3.7.3 10.7.3-.8.3 .7.3-5.6.3-2.5.3 5.6.3-4.2.3-4.8.3 18 .3-11.7.3-2.3.3 3.5.3-3.1.3 .3.3 .1.3 3 .3-6.2.3 3.9.3-2.3.3 10.5.3-9.3.3 4.6.3-3.3.3 10 .3 .4.3-12.2.3 7.1.3 4.2.3 6.6.3-18.9.3 11.3.3-.5.3-4.7.3-3.6.3 4.8.3-4.1.3-5.7.3 19 .3-11.4.3 3.3.3 2.4.3-1.3.3-3.5.3 3.5.3 1 .3-4.3.3-.4.3 4.8.3-.3.3-9.5.3 7.8.3-5.6.3 4.8.3 4.9.3 .6.3-6.2.3 1.3.3-10.4.3-1.5.3 9 .3 1 .3 9 .3-10.9.3-2.2.3 2.4.3 1.8.3 1.9.3 4.8.3-4.1.3-9 .3 7 .3-3 .3-4.3.3-.8.3 6.8.3 7.3.3-8.6.3-3.7.3 19.2.3-5.6.3-9 .3 14.7.3-8.2.3-3.8.3-7 .3 3.5.3 6.7.3-5.7.3-3.3.3 4.2.3 8.1.3-12.8.3 16.7.3-1.7.3-6.5.3-10.6.3 10.7.3-1.3.3 4.1.3-6.2.3 .8.3 2.7.3 7.8.3-10.6.3 8.6.3-14.4.3 7.2.3-10.8.3 11.7.3-.3.3-4.3.3 9.3.3-11.1.3 5.6.3-4.7.3-.2.3 2.2.3-8.1.3 14.8.3-2.8.3-.6.3 3.1.3-14.5.3 20.7.3-18.7.3 10.5.3 .8.3-4.9.3 10.2.3-10.5.3 5.4.3 6.8.3-9 .3 7.8.3-12.2.3 1.8.3 10.9.3-10.2.3-1.8.3 .7.3-.3.3 8.3.3-1.4.3 3.7.3-6.9.3 4.1.3-10.1.3 5.7.3-11.3.3 2.9.3 10.7.3-4 .3-3 .3 1.2.3 7.9.3-10.6.3 11.5.3-1 .3-4.1.3-1.9.3-5 .3 14.3.3-13.1.3 10.5.3-.9.3-7.5.3-7.1.3 17.2.3-10.2.3 11.2.3-4.3.3 7.1.3-2 .3-6.1.3 5.9.3-6.6.3-.9.3 3.3.3-13.8.3 .2.3 2.7.3 14.7.3-13 .3 3.6.3 5.2.3 .7.3-5.2.3-3.5.3 3.9.3-10 .3 7.3.3 .5.3-.2.3-2.1.3 4.6.3 1.4.3-7.2.3 14.7.3-13.2.3 4.5.3 9.6.3-9 .3 4.7.3-7.4.3 4 .3 5.5.3-8.7.3-1.7.3 6.3.3-.9.3 8.4.3-7.7.3 3.3.3-3.2.3-10.7.3-1 .3 14.3.3-1.3.3 2.1.3-11.1.3 1.4.3 9 .3-5.5.3-5.4.3 11.9.3-5 .3 2.1.3 3.6.3-8.1.3-1.2.3 9.6.3-5.7.3-.3.3-7.8.3 8.4.3-6 .3 8.5.3-11.2.3 7.5.3-10.1.3 9.8.3-5.7.3 .9.3-.8.3 .8.3 .5.3 0 .3 9.3.3-2.3.3-3.9.3 .3.3 5.4.3-4.1.3 9 .3-19.7.3 1.9.3 3.8.3-2.4.3 7.5.3 3.9.3-9 .3 6.4.3 2.2.3-1.2.3-2 .3 .6.3-6.4.3 1.7.3 4 .3-8.5.3 6.6.3 .2.3 4 .3 1.3.3 1.6.3-11 .3 7.8.3-1.2.3-10.2.3 11.4.3 4.1.3-9.1.3 11.5.3-17.1.3 2.8.3-5.8.3-1 .3-.1.3 8.7.3-4.5.3 6.5.3-3.6.3 3.3.3 .1.3-3.7.3-1.7.3 12.1.3-16 .3 1 .3 7.3.3-.9.3-6.6.3 14.5.3-18.8.3 6.4.3 3.7.3-.3.3 3.4.3-9.6.3 12.2.3-.2.3-10.5.3-.8.3 10.5.3-13.4.3 8.8.3-7.6.3 2.1.3 10.4.3-4 .3-7.2.3 4.8.3 8.1.3-4.1.3-13.9.3 7.8.3 4 .3 4.8.3-13.5.3-2.5.3 3 .3 12.8.3-15.6.3 14.2.3-14.1.3-26.5.3-2.4.3 4.9.3-4.6.3 .1.3 .2.3-1.1.3 4.7.3-5.5.3 2 .3 3.7.3-1.8.3 2.3.3-3.3.3 2.8.3-26.2.3 2.9.3 7.5.3-9.6.3 10.3.3-6.4.3 .5.3-3.1.3 12.7.3-13.2.3 8.3.3-7.7.3 9.4.3-.7.3-4.8.3 .8.3-2.3.3-2.2.3 6.8.3-1.4.3 .4.3-.9.3-1.6.3 22.8.3-22.3.3 1.2.3-5.3.3 11.1.3-8.7.3 5.2.3 .8.3-2.7.3-6.1.3 7.6.3-2.7.3-.8.3 5.1.3-6.9.3 6.2.3-2.3.3 2.6.3-7.2.3 4.6.3-6.2.3 8.6.3-1.3.3 36.3.3-32.2.3 3.5.3-9.6.3 1 .3 1.3.3-8.5.3 4.3.3-1.7.3 11.7.3 1.8.3 6.3.3-15.1.3 45.2.3-53.5.3 8.7.3-2.7.3 3.2.3-11.8.3 5.4.3-2 .3-1.4.3-3.2.3 13 .3 3 .3-4.4.3-8.9.3 3.2.3-2.8.3 7 .3 .5.3-1.6.3 1.3.3-1.5.3-4.1.3 3.8.3 .3.3-7.5.3 11 .3-3.5.3-5.8.3 0 .3 2.7.3-1.4.3 5.1.3-6.3.3 2.4.3 1.2.3 1.8.3 3.5.3-3.8.3 3.4.3-2.5.3-7.8.3 .6.3 4.3.3-.5.3 3 .3 .9.3-7.4.3 .3.3 5.6.3 0 .3-6.3.3 6.6.3-2.5.3-3.4.3 9.7.3-8.4.3-4.4.3 4.1.3-3.6.3 10.4.3-12.7.3 24.1.3-16.4.3 .4.3-.9.3-6.5.3 5.9.3 1.4.3-5.2.3 11.3.3-8.7.3 3.4.3-2.4.3-3 .3 4.6.3-3.6.3 .8.3 4.1.3 3.3.3-2 .3-1.1.3 5.9.3-7.4.3-2.9.3 3.6.3 6.7.3-1.8.3-7.4.3 5.3.3 3.1.3-4.4.3 1.6.3-.2.3-2.1.3-3.1.3 2.3.3-.5.3-.3.3 2.2.3-6.7.3 2.8.3-1.6.3 13.1.3-1.2.3-10 .3 4.8.3-.8.3 4.6.3-3.9.3-4.9.3 10.2.3-1.6.3-2.4.3 3 .3-7.5.3 2.3.3-5.5.3 7.6.3 .8.3-3 .3-.7.3 6.2.3-2.2.3 3.4.3 1.5.3-8 .3-1.8.3 1.5.3 3.4.3 2.7.3-7 .3 7.3.3-7.7.3 2 .3 3.7.3-4.8.3 11.1.3 .4.3-8.9.3 5.2.3 .6.3 .9.3 2.6.3-2.3.3-4.6.3-5.1.3 7.7.3-8.5.3 4.7.3 .2.3 7.3.3-8.3.3 .7.3 .5.3 0 .3 30.7.3-2.1.3-2.8.3 6.6.3-3.9.3 6.6.3-2.9.3-1.2.3 9.6.3-12.2.3 5.8.3-2.7.3-3.2.3 3.7.3-1.2.3-.4.3 21.1.3-18.1.3 2.5.3 3.5.3-3.5.3-.6.3 7.5.3-.3.3-9.1.3 5.9.3-1.5.3 5.8.3-2.2.3-.8.3-3.2.3 8.9.3 .1.3-2 .3-6.1.3-3.5.3 5.8.3-7.8.3 4.5.3 1.8.3 6.6.3-5.9.3-2.6.3 3.3.3 15 .3-7.3.3-6.8.3 4.6.3-4.5.3 5.1.3 .2.3 6.7.3-10.1.3 3.8.3 5.3.3-9.4.3 5 .3-.5.3-5 .3 14.2.3-12 .3 4.5.3-4.4.3 6.8.3 4.7.3-6.8.3 8.5.3-15.3.3 4.6.3 6.6.3-3.6.3 4.3.3-6.1.3 10.9.3-15.6.3 7.5.3 5.5.3-7.7.3-2.1.3 1.1.3-1.5.3 5.9.3-8 .3 12.8.3-.4.3-8.9.3 8.8.3-4.2.3 14.1.3-19.1.3 4.5.3 2.1.3 .5.3-.9.3 5.5.3-8.1.3-8.3.3 9.2.3-7.7.3 2 .3 8.5.3-5.5.3-5.3.3 2.1.3 4.5.3-7.3.3 7.3.3-55 .3 52.8.3-5.7.3 2.9.3 2.3.3 1.2.3 4.6.3-9.3.3-.3.3-2.4.3 4 .3 11.5.3-3.3.3-8.8.3 .8.3 2.9.3-7.5.3 5.2.3 6.7.3-5 .3 6 .3-2 .3-12 .3 14.3.3-4 .3-1.7.3-6.3.3-2.2.3 11.7.3-9.2.3 8.2.3 3.5.3-3.2.3-2.3.3-5.8.3 3.7.3 8.1.3-9.6.3 7.3.3 4.3.3-17.1.3 13.7.3-9.9.3-3.2.3 8.3.3-2.4.3 2 .3 2.8.3-4.3.3 9.4.3-3.6.3-12.7.3 7.8.3 2.6.3 2 .3-2.8.3 .6.3-.3.3 4.8.3-13.3.3 10.6.3-9.4.3 5.4.3 1.9.3-2.8.3 1.2.3 4.2.3-8 .3-1.4.3 1.5.3 3.2.3-4.9.3 8.6.3 7.2.3-10.7.3 2.6.3-11.8.3-.6.3 8.8.3-.1.3 .3.3-6.5.3 9.6.3 .2.3 2.1.3 11.8.3-22.7.3 3.2.3 9.8.3-7.7.3-2.4.3-4.9.3 4.6.3 6.5.3-2.1.3 2.1.3-8.2.3 12.8.3-7.1.3-44 .3-.4.3-1.7.3 8.2.3-6.7.3 5.9.3 4.5.3 .3.3-11.2.3-3.5.3 3.9.3-1.9.3 7.7.3-2.6.3-5.2.3 3 .3-2.9.3-1.5.3 2.6.3 .5.3-1.7.3 6.7.3-5.1.3 2.2.3-5.7.3 1 .3-4.6.3 5.4.3 3.1.3-5.4.3 12.4.3-5.3.3 7 .3 24.3.3-36.4.3 12.5.3-9.3.3 7.9.3-3.9.3 0 .3-1.3.3-1.3.3-5.2.3 5.2.3-2.8.3 3.1.3 1.1.3 4.9.3-13.4.3 17 .3-6.6.3-9.9.3 9.5.3-.9.3 2.2.3-11 .3 2.2.3-1.9.3 5.5.3 5.5.3 1 .3 4.1.3 3.6.3-16.1.3 7.5.3-2.7.3-4.4.3-.5.3 10.6.3-4.7.3-.1.3 0 .3-3.4.3 10.6.3-9.1.3 3 .3-.8.3 1.9.3 .1.3-5.3.3-.2.3 3.2.3-1.3.3 4.5.3-6 .3 4 .3 2.6.3 3 .3-5.5.3-7.3.3 5.6.3-7.5.3 5.8.3-2.7.3 3.8.3-.9.3 3.1.3-1.5.3 4 .3-3.9.3-9.1.3 3.7.3 10.8.3-14.9.3 6.4.3 8.5.3-6.8.3-2.3.3 .7.3 9.3.3 .3.3-8.8.3 0 .3-3.7.3-.3.3 2.7.3 4.8.3-2.4.3 3.3.3-11.1.3 7.6.3 2.3.3-5.5.3 .3.3 3.9.3-7.3.3 5 .3-6.8.3 7.1.3-3 .3 5.2.3-11.7.3 16.6.3-6 .3-4.2.3 7.1.3-.2.3-1.5.3-6.7.3-4.1.3 11.1.3-3.8.3 6.1.3-5.1.3-5.9.3 2.2.3 3.1.3-6.6.3 5.3.3 3.1.3-11.8.3 8.1.3 13.7.3-5.4.3-5.9.3 6.1.3-4 .3 2.2.3-5 .3 12.3.3-9 .3-.9.3-4.3.3 12.7.3-12.3.3 2.2.3-6.2.3 10.9.3 4.4.3-10.6.3-4 .3 12 .3 .2.3-7.4.3-4.6.3 4.4.3 1.7.3-2 .3-.7.3-5.1.3 2.8.3 10.3.3-4 .3-5.5.3 5.7.3-1.5.3 0 .3-2.6.3 21.1.3-22 .3 5.9.3-8.7.3 3.1.3 9.2.3-5.6.3-6.3.3 2.4.3 7.8.3-4.9.3 .1.3 11.9.3-7.8.3-8.1.3 9.1.3-2.9.3 .1.3 10.8.3 2 .3-11.2.3-1.8.3 1.1.3-2.4.3 13.1.3-12 .3 2.3.3-3 .3-1 .3 1.2.3 1.9.3 2.4.3-3.6.3 1.3.3-3.3.3-7.5.3 4.3.3 5.6.3 3 .3-1.3.3-1.4.3-7.3.3-3.6.3 11.1.3-4.8.3 .6.3 9.7.3-10.7.3 5.7.3-7 .3 2.9.3 1.3.3-9.6.3-1.7.3 8.9.3 5.6.3-11.2.3 7.3.3-8.6.3 2.1.3-.2.3 10.1.3-3.5.3-4.2.3 2.6.3-9.3.3 4.9.3 6 .3-2.8.3-3.3.3 .6.3 9.8.3-4.8.3 2.8.3-7.2.3-1.6.3-.1.3 2.9.3 6.2.3-11.1.3 7.3.3-1.9.3 2.4.3 2.2.3-.6.3-2.6.3-5.5.3-3.8.3 3 .3 1.9.3-1.5.3-4.8.3 13.3.3-7.5.3-1.9.3-1.5.3 11.4.3-9.3.3-1.7.3 4.9.3-5.7.3 4.9.3 .8.3-5.4.3-6.4.3-4.2.3 1.9.3-.9.3 3 .3-.2.3-2.4.3-.4.3 1 .3 .3.3-2.1.3 3.3.3 .3.3-.3.3-.6.3 4.2.3-.6.3 .1.3-2.1.3-.6.3 1.5.3-2.7.3-2.6.3 .8.3 2.2.3 5.2.3-4.6.3 2.4.3-.1.3-2.1.3 .2.3 7.4.3-7.9.3-2.3.3 4.6.3-8.5.3 3.5.3 3.8.3-.8.3 1.6.3-1.3.3 .1.3-1.1.3 4.1.3-4.1.3-3.8.3 5.8.3-5.5.3 3.7.3 4.8.3-5.4.3 8.2.3-3.8.3-1.4.3 1.3.3-4.4.3 5.6.3-3.9.3-1 .3 1.4.3-.4.3 2.6.3-2.6.3 1.6.3 4.3.3-1.7.3-1.9.3-6.3.3 2.1.3 4.9.3-4.4.3 4.8.3-6.9.3 5.8.3 3.1.3-.6.3-9.9.3 10.2.3-9.5.3 7.3.3 4.8.3-6.4.3-4.2.3-1.9.3 9.5.3-6.4.3 9.4.3-2.5.3 2.1.3-4.5.3-.7.3 .4.3 1.4.3 2.1.3 1.7.3-4.8.3-.6.3 .5.3-6.5.3 7.6.3 2 .3-3.9.3 4 .3-5.9.3 13.4.3-14.5.3 4.2.3 .3.3 .3.3-1.4.3 3.3.3-2.5.3 2.7.3 .2.3-4.2.3 1.1.3 2.4.3-7.4.3 2 .3 7.2.3-1.6.3 .3.3 1.5.3-7.1.3-2.1.3 6.4.3-2.6.3 .7.3-1.8.3-2.2.3 9.3.3 .8.3 5.3.3-11.9.3 3.7.3-4.3.3 3.1.3 1.4.3 .5.3-5 .3 10.5.3-2.7.3-6 .3 .7.3 5.8.3-3.7.3 3.2.3-6.4.3 1.1.3-2.2.3 6 .3-6.7.3 10.8.3-1.4.3-3 .3 1.1.3-6.4.3 1.6.3 3.6.3-3.3.3 2.9.3 3.7.3-4.1.3-7.2.3 6.5.3 0 .3-2.8.3 7.3.3 2.8.3 20 .3-8.8.3-10.2.3 4.9.3 1 .3 5.7.3-3.1.3-.7.3-3.7.3-5.7.3 12 .3-6.3.3 .6.3-7.1.3 8.4.3-11.3.3 9.4.3 2 .3-3.3.3-2.2.3 16.7.3-13 .3-8.9.3 14.8.3 .1.3-13.6.3 12.2.3-5.3.3-3 .3 9.2.3-1.1.3-1.5.3 28.5.3-28.8.3 1.2.3-2.3.3-9.8.3 7.4.3-2.9.3 .3.3 19 .3-15.5.3 3.8.3-7.7.3 3.5.3 10.6.3-10.6.3 15.7.3-15.4.3 5.1.3-8.7.3 17.4.3-12.1.3 7.3.3-8.2.3-8.8.3 13.1.3-.7.3 19.1.3-24.3.3 1 .3 .1.3-7.9.3 2.9.3 12.1.3-11.2.3 13.9.3-7.1.3 4.7.3 .5.3 1.1.3-14.3.3-.8.3 9.4.3-1.8.3-2.8.3 4.4.3-1.2.3-.4.3 4.4.3-9.8.3-.8.3-7.6.3 14 .3 2.9.3-10.9.3 10 .3-7.4.3-1.7.3 13.9.3-5.8.3 3.2.3-11.4.3-4 .3 8.6.3-1.8.3 3.9.3-3.4.3-1.4.3-4.3.3 15.6.3-12 .3 5.2.3 8.9.3-12.1.3-.8.3 1.6.3 2.7.3 .8.3-3.3.3 8.8.3-21.4.3 9.9.3 .6.3 .4.3 10.3.3-7.7.3 6.8.3-11.6.3 13.5.3-7.2.3-13.2.3 24.5.3 7.7.3-24.4.3 1.4.3-5.9.3 12.5.3-14 .3 36 .3-24.6.3-10.8.3-1.4.3 19.5.3-14.9.3 1.2.3-4 .3 7.6.3 3.3.3 13.9.3-16.1.3-8.3.3 0 .3 9.4.3 11.8.3-8.3.3-.6.3-7.2.3 11.8.3-5.7.3-4.8.3 6.1.3-9.3.3-4.9.3 3.2.3 15.5.3 1.9.3-9.5.3 2.8.3 6.5.3 2.2.3 1.9.3-16.2.3 15.5.3-15.8.3 8 .3 3.8.3-15.1.3 7 .3-1.7.3-2.2.3 11.1.3 3 .3-9.1.3-1.9.3-4.5.3-5.9.3 22.4.3-13.5.3 11.3.3 5.3.3-11.4.3-1.2.3-1.9.3 6.6.3-.4.3-2.9.3-1.1.3 4.3.3-7.9.3 2.6.3 4 .3 8 .3-11 .3-3.6.3-2.7.3 7.8.3-2.8.3-.9.3 .9.3-2 .3 3.8.3 6.4.3-.8.3 .5.3-6.1.3 .7.3 2.2.3-11.6.3-4.8.3 9.5.3-3.4.3 9.8.3-3.9.3 .6.3 5.4.3-12.7.3 11.1.3-1.8.3-6.7.3 8.1.3-11.4.3 19.6.3-15.4.3 15.1.3-9.4.3-3.9.3 10.8.3-3.2.3-5 .3-2 .3-4.9.3 4.7.3 4.7.3 2.4.3 1 .3-9.3.3 6.5.3-10.7.3 18.1.3-13.5.3 8.5.3-9.2.3 8.5.3-6.4.3-6.6.3 16.5.3-2.5.3-3.8.3 .3.3 12.8.3-14.6.3 5.5.3 13.9.3-17.8.3-3.8.3 8.3.3-4.6.3-6.5.3 14.6.3-10 .3-2.1.3 12.4.3-4.6.3-2.9.3 4.2.3-3.5.3 4.8.3-11.2.3 13.9.3-14.7.3-2.5.3 2.2.3 5.1.3 15 .3-9 .3-5.4.3 2 .3 8.2.3-18.7.3 16.5.3-11.4.3 1 .3 8.8.3-5.2.3-5.7.3 10.4.3-1.3.3 10.3.3-18.8.3 .9.3-1.8.3 10.3.3-5.7.3-10.4.3 9.4.3-11.2.3 14.8.3 5.5.3-2.3.3-15.2.3 13.7.3 .3.3-.5.3-15.2.3 16.9.3-6.2.3-1.7.3 .7.3 2.7.3-8 .3 15.1.3 3.6.3-20.1.3 10.6.3-.4.3 .2.3 3.3.3 7.6.3-10.6.3-5.6.3 5.3.3-13.2.3 16.4.3 1 .3-14.2.3 2.3.3 16.7.3-20.1.3 11.6.3 .9.3-4.1.3-4.4.3 .6.3 8.6.3-4.6.3-.7.3 3.2.3-3.7.3-12.3.3 26.7.3-12.9.3 4.5.3 18.1.3-23.2.3 10.1.3-17.1.3 4.7.3 9.9.3-9.1.3 1.4.3 .6.3 7.4.3 5.3.3-3.8.3-15.9.3 10.4.3-14.1.3 15.2.3-7.7.3 3.4.3 33.2.3 11.8.3-8.4.3 4.4.3-1 .3-1 .3-5.1.3 2.4.3-5 .3-4.4.3-4.2.3 13.3.3 0 .3 2.1.3-3.8.3 9.8.3-6.2.3-3.7.3-.9.3 2.6.3 3.5.3-3.7.3-2.8.3 6.8.3-9.6.3-33.4.3-1.6.3 6.8.3 1.3.3 5.7.3-7.9.3 .9.3 1.6.3-2.1.3-4.7.3 2.7.3-4.7.3 4 .3 5.8.3-19.5.3 2.8.3 6.2.3-1.3.3-2.7.3 3 .3 4.9.3-1.3.3 2.8.3 1.4.3-3 .3-4.2.3 6.4.3-1 .3-3.1.3-2.5.3 2.8.3-7 .3 7.2.3-10.5.3 14.3.3 4 .3-.9.3 2.1.3-12 .3 4.2.3-3.6.3-.5.3 14.8.3-14.4.3 5.6.3-6.4.3 9.4.3-6 .3-.1.3 9.8.3-2.1.3 5.4.3-.6.3-12.2.3 12 .3-6.5.3-9.4.3 14.5.3-1 .3-9.8.3-4.8.3 10.6.3-2.8.3 4.2.3-11.6.3 15.9.3-6.9.3-7.2.3 1.7.3 4.1.3 4.2.3-11 .3-2.7.3 12 .3-1.4.3-13.9.3 9.9.3-7.1.3 12.9.3-11.4.3 7.6.3-7.3.3 13.4.3-.6.3 2.9.3-15.5.3 16.6.3-15.1.3 47.5.3-8.4.3-.4.3 2.5.3-6.3.3 6 .3-13.9.3 7.5.3 13.5.3-15.4.3 13.1.3-3.1.3-3.7.3-1 .3 9.9.3-16.8.3 7.3.3 7.1.3-10.5.3-4.5.3 10.3.3 .3.3-13.1.3 2 .3-3.1.3 14.4.3 5.9.3-.9.3-15.7.3 13.1.3-11.4.3 6.8.3-3.2.3 4.9.3-13.6.3 9.2.3 2.2.3-8 .3 11.3.3 3.2.3-2.5.3 4.1.3-2.5.3-5.4.3-1.1.3 3.9.3 8 .3-11.3.3 1 .3-12.6.3 11.4.3-1.8.3 9 .3-10.4.3 5 .3-4.3.3-4.3.3 8.9.3-4.5.3 .9.3 1.6.3-7.5.3 .5.3 10.8.3-2 .3 4.1.3-5.9.3-3.1.3-8.3.3 18.2.3-9.4.3 11.3.3-5.8.3-4.2.3 .2.3 1.5.3-3.2.3 7.3.3-2.4.3-10.3.3 1 .3 2.4.3 1.5.3 .8.3 8 .3-12.1.3 5 .3-1.6.3-1.2.3-5.9.3 16.4.3-7.1.3-2 .3-4.9.3 6 .3 2.4.3 3.8.3-9.5.3 5.1.3-1.2.3-1.3.3 9.8.3-7.8.3-3.5.3 22.6.3-20.7.3 6.2.3-3.5.3 6.6.3-6.9.3 .8.3-6.1.3-.6.3 .1.3 8.9.3-8.3.3 7.4.3-12 .3 3.1.3 5.7.3-11.3.3 4 .3 11.6.3-.3.3-.5.3-12.2.3-.7.3-5.3.3 7.8.3-7.4.3 5.3.3 3.9.3 3.2.3-2.7.3-2.8.3 1.1.3 1.1.3-1.9.3 2.5.3-6.8.3 1.4.3 2.6.3 6.7.3-7.1.3 .6.3-1.7.3-3.4.3 5 .3-3.1.3-4.1.3 4.2.3-4.2.3 8.8.3-9.3.3 4.4.3-4.7.3-8 .3 3.5.3-.9.3-1.6.3 .5.3 2.9.3-4.6.3 10.4.3-9.6.3 6.6.3 1.2.3-8.1.3 6.7.3-1.9.3 4.7.3-4.9.3 .2.3 1.6.3-1.4.3-.8.3-2.4.3 1.8.3 0 .3-5 .3 2.8.3-2.5.3 8.7.3-2.1.3 6 .3-12.3.3-2.3.3 4.6.3-.3.3-15.2.3-.6.3 2.1.3-10.3.3-1.3.3 9.8.3 .2.3 .3.3-6.6.3 6.9.3 1.7.3-.5.3-.3.3 6.8.3-9.5.3-.2.3 .4.3 1.6.3-6.4.3 1.2.3 14.7.3-7.7.3 2.4.3 11.9.3 6.6.3-3.5.3 2.7.3 2.3.3-7.6.3 3.1.3 1.4.3 2.7.3 4.8.3-7.1.3-2.1.3-2.6.3 7.1.3-6.2.3-2.4.3-3.5.3 16.4.3-2.4.3-7.4.3 2.2.3-3.1.3 3.5.3 6.3.3-10.4.3-1.3.3 9.1.3 17 .3-18 .3 20.6.3-1 .3-9.3.3 3.5.3 4.5.3-10.8.3 2.6.3 .7.3 1.3.3 1.8.3-6.8.3 4.5.3-4.7.3-3 .3 4.9.3 1.7.3 5.6.3-5.5.3 3.8.3-10.2.3 13.6.3-4.6.3-.9.3 0 .3 2 .3 .5.3 .8.3-4.6.3 .5.3 1 .3-4.9.3 8.1.3-17.7.3 11 .3 4.6.3-8.2.3 11 .3-1.4.3 3.7.3 5.8.3-9.1.3-2.4.3 2.2.3 1.9.3-2.7.3-.7.3-2.5.3 4.2.3-11.1.3 2.7.3-6.4.3 5.9.3 1 .3 8.3.3 3 .3 1 .3-2.5.3-3.8.3 8.7.3-11.8.3-.3.3 11.5.3-7.3.3 3.2.3-4.5.3-.4.3-8.7.3 11.1.3 12.2.3-16.8.3 3.2.3 7.5.3 1.1.3-12.2.3-4 .3 3.6.3 .5.3 5.1.3-10.7.3 16.2.3-10.1.3 7.8.3-10.3.3 1.5.3-.7.3-.2.3 13.2.3-16.8.3 14.2.3 0 .3-4.3.3-6.6.3-.7.3-5.3.3 10.7.3-5.4.3 .8.3 10.7.3-6.5.3 7.4.3-16.7.3 17.9.3-10.9.3-1.4.3 2.7.3-8 .3 15.1.3-3 .3 1.9.3-3.7.3-13.2.3-.2.3 16.4.3-7.7.3-4.7.3 4 .3 9.3.3-4.6.3-6.1.3-4 .3 15.5.3-14 .3 3.2.3 6 .3-7.8.3 3.3.3 2.5.3-9.2.3 10.8.3 .6.3 4.5.3-4.8.3-5 .3-4 .3 11.8.3-12.4.3 .2.3 17 .3-7.7.3-.8.3 6.8.3-7.8.3-3.6.3 15.8.3-18.1.3 16 .3-17.3.3 5.4.3-.1.3 2.1.3 3.3.3-10.2.3 11.1.3 .5.3-15.7.3-.1.3-7.6.3-2.3.3 6.1.3-2.8.3-.5.3-3.2.3 5 .3-.5.3 .9.3 1 .3 .4.3 .7.3-1.7.3-4.1.3 .9.3 3 .3 .5.3-36.4.3 33.6.3 7.2.3-4.5.3 .2.3 1.2.3-4.7.3 1.8.3 35.9.3-2.5.3-.2.3 4.6.3-4.5.3 3.4.3 3.2.3-2.5.3 4.6.3-2.9.3 7.2.3-9 .3 1.9.3-5.3.3 14.1.3-6.1.3 2.1.3-10 .3 2.2.3 4.8.3 7.2.3-15.5.3 8 .3-9.8.3 9.5.3 4.5.3-11.5.3-4.7.3 3.7.3 17.6.3-14.9.3-4.3.3 10.3.3 .2.3-6.3.3 .1.3 1.5.3 5.8.3-7 .3 .7.3-4.6.3 1.9.3 7.7.3-2.7.3 4.2.3-8.6.3-3.7.3 7.2.3 6.8.3-11.6.3-1.1.3 2.5.3 3.6.3-3.3.3 6.4.3-2.9.3-2.1.3 9.3.3-9.4.3-.2.3-1.3.3 1.8.3 0 .3-6.4.3 1.1.3 5.6.3 2.3.3-7.3.3 6.3.3 6.2.3-7.5.3 .2.3 1.6.3-1.2.3-.8.3-1 .3 3.5.3-6.2.3 .3.3 9.7.3 5.6.3-5.8.3-6.6.3-5.7.3 6.5.3-6.4.3 18.3.3-6.3.3 3.8.3-8.3.3-3.8.3 10 .3-2.3.3 8.3.3-10.7.3-6.3.3 5.6.3 10.1.3-6.8.3-8.7.3 2.4.3 2.8.3 7.5.3-13.3.3 6.6.3 3.9.3-14.6.3 16.5.3 3.3.3-19 .3 13.6.3 4.2.3 1.3.3-11.5.3-4.5.3 5.1.3 2.2.3 4.7.3-4.7.3-.3.3 1.3.3-5.7.3 1.2.3 .9.3 1.1.3-8.6.3 15.2.3 1.3.3-11.2.3 8.6.3-5.5.3 10.3.3-18.5.3 12 .3 2.2.3-.4.3 8.3.3-2.4.3-17.8.3 14.2.3-6.9.3-6.5.3 17.7.3-18.6.3 8.3.3-.2.3-.6.3 8 .3 .1.3-6.8.3-.4.3-8.8.3 15.2.3 .1.3-8.9.3 7.7.3 2.8.3-6.9.3-2.8.3-3.7.3 9.6.3 4 .3-11 .3 5.6.3-8.8.3-4.8.3 2.7.3 7.9.3-.9.3 3 .3-2.3.3 2.1.3-6.6.3-1 .3-7 .3 7.3.3 6.9.3-5.8.3-.4.3-1.3.3 .8.3 9 .3-2.9.3-1.8.3 6.8.3-12.3.3 12.5.3-15.6.3 6.9.3-.3.3 3.1.3 4 .3-.9.3-8 .3 1.8.3 4.6.3 .2.3 1.2.3-.8.3-10.6.3-56.2.3 18.4.3-20.4.3 15.6.3-6.4.3 .1.3 6.5.3-4.1.3 1.8.3-4.9.3 7.7.3-4.1.3 10.8.3-21.3.3-2.2.3 10.6.3 9.9.3-10.6.3-8.1.3 6.4.3 3.3.3-5.9.3 9.9.3 5.3.3-21.3.3 13.1.3 3 .3-13 .3 3.7.3-.6.3 11.5.3-2.8.3-7.3.3-7.2.3 14.5.3-9.3.3 9 .3 2.3.3-7.2.3 4.8.3-5.6.3-4.4.3 15.4.3-4.4.3-2.9.3-1.5.3-4.6.3 1.7.3 6.8.3-1.3.3-4.8.3 2.6.3-3.7.3 12.1.3-9.2.3-3 .3 11.3.3 8.9.3-17.6.3 8.5.3 2.9.3-14.1.3 6.8.3 8.7.3-4.4.3-10.7.3 5.7.3-10 .3 2.6.3 10.4.3 4.2.3 .8.3-12.7.3 13.9.3-10.7.3-9.8.3 13.1.3 15.9.3-11.7.3-13.6.3 7.7.3 1.1.3 3.2.3-10.9.3 8.3.3 2.5.3-14.4.3 12.1.3 4.8.3-17.6.3 .6.3 6.6.3 12.7.3-15.6.3 6.4.3-3.3.3 3.4.3-10.6.3 8 .3 1.9.3-9.5.3 8.7.3 6.3.3-8.1.3-10 .3 10.2.3 10.7.3-8.1.3-3.3.3 7.9.3 5.4.3 1.1.3-18.7.3 1.7.3 6.8.3-1.3.3-1.5.3-6.9.3 7.7.3 7.7.3-3.4.3 3.7.3-5.4.3-1.7.3 2.9.3-8 .3 18.6.3-15.9.3-.4.3-5.5.3-1.1.3 4.8.3 14.7.3-16.5.3 12.1.3-12.4.3 11.7.3-7.5.3 7.6.3-11.6.3 9.3.3-6 .3 6.3.3 5.9.3-3 .3-.1.3-7.6.3-1.7.3-.4.3 17.8.3-4.6.3-1.7.3 2.1.3-3.9.3 1.6.3-4.8.3 4.4.3 .4.3 1.6.3-5.3.3 4.9.3-5.8.3-2.1.3 .7.3 6.2.3 3.8.3-13.6.3-1.6.3 7.7.3-5.6.3 15.9.3-13.7.3 4.5.3 8.1.3-7.7.3 7.2.3-4.6.3 1.4.3-12 .3-5.5.3 22.9.3-13.2.3 2 .3 10.5.3-16.3.3-2.8.3 12.1.3 6.1.3-10.8.3-5.3.3 9.5.3-6.2.3 2.4.3 19.9.3-17.4.3-9.4.3 19.3.3-1 .3-15.5.3 8.2.3 4.2.3 .2.3-4.7.3-6.8.3 11.9.3-12 .3 12.6.3 .7.3-20.5.3 7.1.3-2.2.3 10.4.3-10.6.3 16 .3-18.8.3 10.6.3-5.4.3 11.9.3-7.1.3 11.2.3-11.4.3-15 .3 25.5.3-19.1.3 7.5.3-11.3.3 7.9.3 4.7.3-6.1.3 .6.3 12.1.3-.4.3-13.3.3 2.5.3 .3.3 9.6.3-13.2.3 5.5.3-5.5.3 10.4.3-8.5.3 3.5.3 5.5.3-5.9.3 10.3.3-10.5.3-8.9.3 11.4.3 9.8.3-15.7.3 9.7.3-13.6.3 9.7.3 29.6.3-4.2.3 7.7.3-1.1.3 8.1.3-13.5.3 11.8.3-3.4.3 1.8.3-7.8.3 8.2.3-16.5.3 6.7.3-.4.3-6 .3 5.6.3-2.7.3 9.4.3 5.6.3-8.6.3 .4.3 7.9.3-8.5.3-1.6.3 1.3.3-2.3.3 8 .3-4 .3-2 .3 2.2.3-4.6.3 7.7.3 .6.3-7.2.3 1.2.3 8.4.3-6 .3 5.6.3-7.4.3-4.8.3-6 .3 11.6.3 1.2.3 3.8.3-2.1.3-5 .3 7.6.3-5.7.3-.2.3-4.4.3 1.6.3 10.1.3-1.8.3-1.7.3-7.2.3 13 .3-20.7.3 1.6.3 2.7.3 2.7.3-3 .3 3.7.3-7.8.3 3.3.3-3.4.3 7.9.3-6.6.3 7.9.3-4.1.3-5.9.3 2.3.3 7.2.3-3.8.3-2.2.3-4.2.3 8 .3-5.9.3 11.3.3-5.1.3-4 .3-1.3.3 4.1.3-7.9.3 14.1.3-.9.3-7 .3-.7.3-3.3.3 13.2.3 2.4.3-7 .3-.7.3-2.7.3 4.1.3 9.3.3-1.3.3-6.5.3-3 .3-7.7.3 11.8.3-3.7.3 4.4.3-3.9.3 11.1.3-2.2.3-12.9.3-2.8.3-4.3.3 10 .3-4 .3 3.7.3-7.5.3 9.9.3 12.4.3-2.2.3-18.3.3 1.2.3 13.9.3-2.3.3-7.3.3 11.1.3-12.3.3 7.6.3 9.5.3-11.7.3 6.5.3-4.1.3 5.6.3-15.4.3 9.6.3-3.4.3-4 .3 11.1.3 3.2.3-3.8.3-10.5.3 3.3.3-2.3.3 4.8.3-7 .3 10.6.3 1.9.3-3.1.3-4.4.3 5.3.3 1 .3-8.9.3 6.7.3-6 .3 8.1.3 2.7.3-4.4.3-27.2.3-6.1.3-7.8.3 9.2.3-2.2.3-14.8.3 11.5.3 7.9.3-12.6.3-7.4.3 11.6.3-10.2.3 14.1.3-8.1.3-6.4.3 7.2.3-8.3.3 13.1.3 .8.3-7 .3 4 .3 5 .3-4 .3-2.7.3-9.3.3 14.7.3 1.2.3-2.4.3-7.5.3-3.7.3 3.6.3-7.6.3 7.4.3-2.8.3 .5.3 18.3.3-6.9.3-11 .3 6.6.3 2.8.3-.3.3-.9.3-9.9.3 12.7.3 2.5.3 .5.3 6.5.3-19.8.3 10.6.3-15.7.3 18 .3-3.6.3-8.3.3 1.7.3-.7.3-9.6.3 8.8.3-6.3.3 1.5.3 16.5.3 .3.3-15.5.3-1.6.3-1.8.3 11.1.3 4.1.3-7.4.3-1.1.3 24.6.3-23.3.3 19.5.3-11.1.3-2.1.3-3 .3-.2.3 3 .3-7.9.3 4.4.3 13 .3-11.2.3 10.1.3-7 .3 2.3.3-17 .3 16.5.3-3.5.3-7.1.3 8.1.3-14.6.3 14.9.3 4.7.3-12.2.3-2.4.3 4.6.3-2.5.3 10.8.3-17.1.3 4.7.3 8.5.3-.5.3-5.8.3 .6.3 4.6.3 1.8.3 .7.3-.1.3 2.3.3-7 .3-6.2.3 8.6.3 5.7.3-7.8.3-7.8.3 16.7.3-6.5.3-.7.3-2.5.3 8.7.3 6.4.3-8.1.3-4.2.3 1.2.3 8 .3-.7.3-11.2.3 16.3.3-14.9.3 10.1.3-4.6.3-6.1.3 5.8.3-5 .3-5.5.3 5.4.3 11.5.3 8.4.3-23.6.3 4.5.3 11.8.3 3.4.3-13.7.3 .8.3-2.5.3-2 .3 1.5.3 14 .3-15.6.3 16.2.3-12.7.3 2.6.3 2 .3-14 .3 6.1.3 4.7.3 6.6.3-1.9.3 1.3.3-6.2.3 6.7.3 1.3.3-9.3.3 11 .3-6.3.3-8.8.3 17.8.3-21.6.3 11.5.3-6.7.3 15.8.3-2.9.3-1.4.3-12.6.3 13.7.3-2.2.3-9.4.3 6 .3 .6.3 4.3.3-13.8.3 17.2.3-6.1.3-4.7.3-10.5.3 8.8.3 19.7.3-10.9.3-10.1.3-3.6.3 10.6.3-2.5.3 5.7.3 2 .3 0 .3-16 .3 14.3.3-4.9.3-6.3.3 4.4.3-4.4.3 2.8.3 .4.3-4.3.3 1.6.3 4.9.3 7.1.3-13 .3 16.8.3-9.9.3-1.6.3 9.6.3-4.1.3 .9.3-12.2.3 15.5.3-9.1.3-7.7.3 2.7.3 12 .3 1.9.3-10.7.3 7.6.3 8 .3-3.6.3-1.9.3-.8.3-7 .3 1 .3 2.4.3-11.8.3 8.9.3 2.4.3-8.3.3 6.8.3-8.4.3 6.8.3 3.8.3 10.3.3-16 .3 4.3.3 1 .3 .1.3-6.4.3 18.2.3-13 .3 12.8.3-7 .3-1.5.3-3.7.3 9.5.3-8.8.3 2.9.3 7.1.3-2.2.3-10.5.3 12.2.3-6.5.3-2.5.3 .5.3-1.5.3 2.6.3 10.5.3-6.4.3 1.3.3-1.4.3-.5.3-5.7.3 11.9.3-12.4.3-6.2.3 10.9.3-13.9.3 14.8.3 0 .3-14.6.3 12.4.3 12.9.3-5.6.3 4 .3-14.8.3 3.5.3 9.6.3-10.8.3 7.5.3-6.1.3 3.4.3-11.1.3 15.3.3-14.6.3 8.7.3 9.7.3-19.3.3 9 .3 .6.3-9.5.3 18.1.3-14.1.3 .2.3-.1.3-4.6.3 9.8.3 1.2.3-8.6.3-1.3.3 6.8.3 2 .3-1.8.3-10.6.3 .2.3 3.6.3 3 .3 3.7.3-5.9.3 12.4.3-3.6.3 6.6.3-1.5.3-11.6.3 2.9.3 .6.3 4.1.3-4.1.3 3.6.3-4.1.3 5.3.3-2.1.3 1.9.3-2.1.3 2.4.3 0 .3-5.2.3 4.7.3-.1.3 2.9.3 4.2.3-5.5.3 7.7.3-7.7.3-7.9.3 12.8.3-1 .3-3.2.3-6 .3 6 .3-.4.3-9.9.3 1.9.3 7.7.3 3.5.3-4.5.3-7.4.3 1.8.3 6 .3-10.6.3 7.7.3 4.2.3 3.1.3-1 .3 .4.3-12.5.3 14.3.3-5.8.3 .2.3 7.6.3-6.4.3-5.9.3-2.8.3 12.6.3-4.3.3-2.5.3 3.6.3 6.2.3-7.7.3-.3.3-.5.3 8.5.3-2.9.3 5.1.3-5.6.3-4.4.3 10.2.3-8.3.3 3.9.3 19.8.3-3.4.3 7.5.3 4.4.3-3.6.3-4.5.3 16.6.3-.1.3-17.2.3-3.1.3 9.6.3 1.6.3 .3.3-.8.3-2.6.3-.5.3 .5.3-4.8.3 7.3.3 .1.3 9.3.3-11.6.3-.2.3-2.4.3 3.4.3 18.5.3-19.3.3-3.1.3 9.6.3-5.8.3-9.5.3 13 .3-5.9.3 11.3.3-14 .3 7.2.3 21.5.3-20.4.3 6.9.3-4.7.3-13.5.3 3.2.3 9.9.3 .8.3 3.7.3 .4.3-13.3.3 10.1.3-13.3.3 17.1.3-50 .3-3.6.3-.2.3 2.7.3 1.8.3-27.7.3 20.3.3 10 .3-6.6.3 11.6.3-9.6.3-1.5.3 11.4.3-18 .3-.5.3 12.5.3-4.2.3-1 .3-4.1.3 9.5.3-.9.3-4.3.3 6.5.3-2.2.3 .5.3-3.9.3-.5.3 7.6.3-7 .3 .5.3-.2.3 .9.3 4.7.3-10.9.3 8.2.3-12.3.3 5.6.3 4.9.3 4.2.3-6 .3 2.2.3-8.3.3 9.8.3-.6.3-2.8.3 4.3.3 40.9.3 2 .3 4.6.3-1.6.3-9.8.3 2.3.3 .5.3 6.4.3-8 .3 6 .3 5.3.3-10.5.3 8.8.3 1.4.3 1.4.3-12.3.3 5.1.3 3.6.3 0 .3-15.6.3 22 .3-9.5.3-.7.3 7.5.3-7.2.3 1.2.3 2.4.3-1.6.3-8.7.3-2.3.3-38.1.3-3.9.3 3.6.3-3.5.3-5.9.3 4.6.3-4.6.3 7.1.3-5.1.3 7.6.3-3.5.3 2.4.3-2.8.3 2.5.3-2.9.3 4.6.3-9.1.3 .9.3 7.9.3-5.7.3-2.4.3 3.9.3 4 .3-2.8.3-5.8.3 1.8.3 1.4.3 2.5.3 .6.3-5.6.3 3.4.3 9.8.3-8.8.3-1.7.3 5.3.3-3.6.3-4.4.3 7 .3-2.9.3 3.6.3-1.8.3-2.1.3 4.4.3-9.2.3 1.2.3 7.9.3-6.7.3 6.5.3 .9.3-3.2.3 1.8.3 7.7.3-7.5.3 1 .3-2.8.3 3 .3-3.7.3 2.5.3-5.3.3 1.3.3-1.5.3 6.7.3-4.6.3 1.6.3-8.3.3 11.4.3-4.3.3-.4.3 .2.3 3.3.3-2.1.3 2.1.3 .4.3-3.9.3-1.8.3-4.8.3 2.8.3 6.8.3 1.6.3-7.5.3 6.7.3-2.3.3 .6.3-4.5.3 5.7.3-6.1.3 5.4.3-.5.3-.7.3-2.5.3 2.8.3 2.3.3-8.4.3 .4.3 8 .3 .6.3-6.3.3 3 .3 2.6.3 .1.3-1.2.3-6.7.3 .6.3 6.3.3 1.7.3-.2.3-7 .3 3.5.3-.4.3 2.6.3-4.1.3 3.8.3-3.2.3 4.7.3-.3.3 6.5.3-15.6.3 7.4.3-3.1.3 2.9.3-9 .3 8.2.3-2.3.3 2.2.3-2.7.3 5.4.3-2.3.3-1.4.3-6.1.3 7.9.3-2.4.3-2 .3 5 .3 1.2.3-1.8.3-7.3.3-1.1.3 3.9.3-2.5.3 8.1.3-1.4.3-.7.3 3 .3-.3.3-3 .3 .8.3 8.6.3-8.5.3 2.6.3-7.4.3 2 .3-3.1.3-4.6.3 11.1.3-.8.3-3.9.3 4.4.3-2.9.3-2 .3 6.9.3-.1.3-1.1.3-8.6.3 8 .3-.3.3 2.1.3-10.3.3 5.8.3 4.1.3-10.1.3 11.1.3-5.8.3 7.8.3-3 .3-4.8.3 1.7.3-5.6.3 9.5.3-4.1.3 4.4.3-1 .3-1.4.3-7.4.3 4.1.3 5.7.3-7.3.3 3.8.3-3.6.3 5.8.3 1 .3-.6.3-2.9.3-4 .3 5.8.3-1.1.3 1.9.3 .5.3-6.7.3 6.4.3-3.1.3-1.1.3 14.6.3-10.8.3-1.4.3-2.7.3 1.7.3-.4.3-3.2.3-1.3.3 3.6.3 .5.3-3.6.3 3.8.3 .7.3 .9.3-2 .3 1.1.3-1.3.3 1.5.3 0 .3-1.4.3 1 .3 .4.3-4.2.3 6.1.3-6.5.3 5.1.3-1.5.3-4.5.3 5.5.3 3.3.3-1.2.3-4.4.3 5.2.3-1.8.3-.4.3 .9.3-.4.3 1.1.3-6.3.3 6.4.3-5.3.3-2.1.3 7.5.3 0 .3-9.7.3 8.4.3-.9.3 .6.3 2.3.3-4.4.3-1.9.3-1.1.3 4.9.3 .7.3-.9.3-.6.3-1.9.3 2.2.3-5.4.3-4.8.3 12.5.3-5.1.3-1.5.3 5.9.3 1.3.3-.7.3 1 .3-4 .3-6.7.3 6.3.3 4.4.3-3.2.3 1.9.3-6.7.3 6 .3-5.6.3 2.4.3 2.8.3 .9.3-.2.3-6 .3 7.6.3 .1.3-7 .3 6.2.3-1.2.3-8.7.3 10.5.3-2.9.3-4.4.3 5.2.3 .3.3 .8.3-3 .3 .1.3 1.1.3 .1.3-.2.3-2.3.3-.7.3-.5.3 6.3.3-3.5.3-4.2.3 3.1.3 3.9.3-6 .3 7 .3-5.7.3-2.9.3-1.7.3 7.2.3 2.7.3 .4.3-1.9.3 .4.3 1.1.3-6.8.3-15.7.3 14.8.3 4.8.3-5.5.3 4.5.3 0 .3 1.6.3 2.8.3-.1.3-3.9.3-4.8.3 4.2.3 2.5.3-1.6.3 3.6.3-1.6.3 1.6.3-7.1.3 5.8.3-4.2.3-.5.3-2.5.3 6.2.3 .3.3 1.8.3-5.8.3 3.4.3 1.7.3-4.8.3 5.6.3-6.3.3-.7.3 6.3.3-5.9.3 4.7.3 5.7.3-5.7.3-5.5.3 .2.3 3.1.3-.6.3 2.4.3-1.4.3 .7.3 1.1.3-3 .3 .8.3-3.1.3 2.8.3 2.3.3-1.4.3 .5.3-5.2.3 1.9.3 4.5.3 .6.3 .9.3-7.5.3 4 .3 2.7.3-.5.3-.1.3-.7.3 1.3.3-.1.3-.8.3-.4.3-3.9.3-1.2.3 6.1.3-1.5.3 1.6.3-1.1.3 1.4.3 1.1.3-4.2.3 2.9.3-1.3.3 .4.3-4.4.3 4.1.3-.5.3 0 .3 1.5.3 .4.3-5 .3 4.8.3-6.2.3-.3.3 7.4.3-4.1.3 4.3.3-10.4.3 3.5.3-2.9.3 7.7.3-4.1.3 5.3.3-2 .3 1.5.3 .4.3-1 .3 .5.3-2.2.3-7.7.3 9.9.3-1 .3-.8.3 1.5.3 1.5.3-5.3.3-2.3.3-1.3.3 7.3.3-5 .3 6 .3-.4.3-9.7.3 23.4.3-2.1.3 11.1.3-4.3.3-.8.3-4.1.3-.7.3 6.3.3-1.6.3-5.9.3-1.1.3 4.6.3 3 .3-5.2.3 2.5.3-1.1.3-.9.3 3.8.3 0 .3 3.8.3-.4.3-6 .3 9.2.3-3.9.3-2.1.3-6.9.3 9.3.3-1.3.3-1.9.3 .2.3 3.5.3-6.5.3 19.4.3-40.3.3-.2.3 3.5.3 3.8.3 .9.3-5.9.3 2 .3 .5.3-4.8.3 3.6.3 .3.3-.3.3 2.8.3 1.2.3-3.1.3-.2.3 3.6.3-6.9.3 6.6.3-3.6.3-1.9.3 5.6.3-3.3.3 2.5.3-9.1.3 8.3.3-6.3.3-1.1.3 7.5.3 2.3.3-9.9.3-1.5.3 8.4.3-4 .3 6.3.3-3.7.3 4 .3 .2.3-6.1.3 10.3.3-4.8.3 .6.3-2.1.3-.4.3 2 .3-5.3.3 1.8.3 1.7.3 1.8.3-2.6.3-3.2.3 2.9.3-4.1.3 3.5.3 1.3.3 2.8.3-5.6.3 4.3.3-.4.3-.9.3 .5.3 .3.3 1.5.3-9.9.3 9.2.3-9.9.3 3.6.3 2 .3-.8.3-.9.3 4.1.3-4.4.3 4 .3 .9.3-.6.3 1.4.3-3.8.3 2.6.3-2 .3 3.5.3-2.6.3-3.9.3 13.1.3-7.4.3-1 .3-3.6.3 1.7.3-1.1.3 2 .3 2.2.3-7.7.3 6.5.3-1.9.3-6.1.3 10.2.3-9.3.3 10.1.3-2.7.3 1.6.3-1.2.3 .6.3-.2.3 .5.3-2.2.3 .8.3 .8.3-3.8.3 1.5.3 3.4.3-4.9.3 3 .3-2.5.3 4.4.3 6.6.3-23.4.3 11.9.3-1.3.3-1.4.3 4.7.3-3.3.3 6.4.3-3.1.3 1.5.3-1.6.3-1.7.3 5.1.3-3.8.3-4.8.3-5.1.3 10.2.3 2 .3-1.7.3 .4.3 2.1.3-2.5.3 .1.3-1.5.3 2.4.3 1.3.3-8.2.3 6.7.3 2.9.3-3.8.3 9.1.3-10.9.3-1.5.3 .8.3 1.8.3-3.2.3 5.3.3-3.6.3 3.3.3 2 .3 .9.3-8.4.3 4.5.3-4.3.3 3.8.3-3 .3" fill="none" stroke="#ff0000" stroke-width="1.3" stroke-linejoin="bevel"/>
<path d="M420.5 106.5l.1.5 .1.5 0 .5-.1.5 0 .5-.1.5-.1.5 .2.5-.1.5 .1.5 0 .5-.1.5 0 .5 .3.5-.1.5-.3.5 0 .5 0 .5 .1.5 .2.5 .1.5 0 .5 0 .5 .1.5-.1.5-.1.5-.1.5 0 .5 .2.5-.2.5 0 .5 0 .5 0 .5-.2.5 0 .5 .2.5 .1.5 0 .5 .1.5-.1.5 0 .5-.2.5 .1.5-.1.5 .1.5-.1.5 0 .5-.1.5 .1.5 0 .5 0 .5-.1.5 .1.5-.1.5 0 .5 .1.5 0 .5-.1.5 .1.5 .2.5 0 .5-.1.5 .1.5-.2.5-.1.5 .3.5-.1.5 .2.5-.4.5 .2.5 .1.5 0 .5 2.8.5-1.3.5 .1.5-.1.5 .5.5-1.6.5 1.2.5 .6.5 .3.5-1.2.5 .3.5 .3.5-.2.5 .3.5 .7.5-1.1.5-.8.5 .1.5 1.2.5-1.2.5-.3.5-.2.5 1.5.5 .2.5-.3.5-.4.5 .5.5 .2.5-.6.5-.5.5 1.8.5-.6.5-.1.5-.2.5 .3.5-.6.5 .6.5-.2.5 .8.5-1.4.5-.1.5 .5.5 1.2.5-.3.5-.6.5 .2.5 .3.5-1.5.5 1.2.5 .7.5 3.3.5-.8.5 .1.5-.8.5 .7.5-1.1.5 .7.5-1.3.5-2.3.5-.8.5 .4.5 1.1.5 1 .5-2.6.5 2.3.5 1.3.5-1.1.5 2.1.5-1.1.5 .9.5-.1.5-.4.5-3 .5 .3.5 1.4.5 2 .5-2.9.5 1.6.5-1 .5-.5.5 .7.5-1.7.5-.9.5 .4.5 1.1.5 2.2.5 1.7.5-2.6.5-.3.5 .4.5 1.5.5-1.3.5 2.6.5-1.7.5-2.9.5-1.5.5 1.1.5 3.1.5-2.2.5 .8.5 1.4.5-2.7.5 3.3.5-1.9.5 1.2.5 1.8.5 0 .5-1.7.5 1.6.5 .9.5-2.1.5-.6.5 3.7.5-.2.5-2.3.5-3.4.5 2.6.5-.5.5 .2.5 .4.5 1.6.5-1 .5-3.2.5 .5.5-2.4.5 3.8.5-2.7.5 2.1.5 3.8.5-.1.5 1.2.5-3.4.5 1.3.5 1.5.5-.9.5-3.1.5 2.4.5-1.5.5-.8.5 2 .5-1.1.5-2.3.5 3.7.5-2.5.5-3.5.5-.6.5 .3.5 .5.5 1.5.5-1.1.5 1.2.5 .9.5-1.6.5 .9.5 .5.5-.1.5-.7.5-.4.5 .3.5 .7.5-.7.5-.1.5-.3.5-.7.5 .8.5-.5.5 1.4.5-1.4.5-.4.5 .4.5 .1.5 1.1.5-.6.5 .2.5 1.2.5-1.9.5 .7.5 .1.5 .4.5 .1.5-.7.5 1.1.5-1.1.5 .9.5-1.7.5-.4.5 1.1.5 .4.5-.3.5 .4.5 .4.5-1.4.5 0 .5-1 .5 .8.5 1.2.5-.8.5 .3.5-.8.5 1 .5 .2.5 .3.5 .6.5-1.6.5 .9.5 .3.5 1 .5 .2.5-1.4.5 .8.5-1 .5 .3.5-.9.5 .1.5 .3.5 .2.5-1.2.5 .6.5 .3.5-.3.5 .4.5 1.2.5-.6.5 .5.5-1 .5 .9.5-1.5.5 1.4.5-.7.5 .5.5 .2.5-.1.5-.1.5-.1.5 .1.5-1.5.5 .3.5 0 .5 .9.5 .7.5 .1.5-.3.5-1.2.5 .7.5 .5.5-1.5.5 .4.5-.2.5-.1.5-.3.5 1.1.5-.3.5 .7.5-1 .5 0 .5 .8.5-.6.5-.3.5-1.2.5 .8.5-.3.5 .1.5 .4.5 .2.5 .1.5-.2.5-.5.5 1.5.5 0 .5 .6.5-.6.5 .7.5 .4.5 .5.5-1.5.5-1.1.5 .5.5 .5.5 .1.5 .5.5-.8.5 .6.5 0 .5-.5.5-.1.5-.3.5 .1.5 .7.5 .3.5-.3.5 .6.5-1 .5 .6.5-1 .5 .8.5 .5.5-.6.5 .9.5-1.5.5-.5.5 .2.5 .6.5-1.4.5 .9.5 .2.5 .4.5 .8.5-1.4.5 .5.5-1 .5-.5.5 1.9.5-.6.5-.8.5 1.4.5 .2.5-.4.5 0 .5-1.4.5-.3.5 .9.5 .2.5-.9.5 1.5.5-.2.5-.3.5 .6.5 .9.5-1.2.5 .9.5-.3.5 .2.5 0 .5 .5.5-.4.5 0 .5-.3.5 .5.5-.3.5-.3.5-.3.5-1.2.5 .8.5 .8.5-.5.5-.9.5 1 .5-.5.5 1.2.5 .5.5 0 .5-.4.5 0 .5-.4.5-.1.5 .5.5 .7.5 .3.5-.6.5 .1.5-1.6.5 .1.5 .4.5 .4.5 .8.5-1.2.5-.7.5 .8.5 .2.5 0 .5-.8.5 .8.5-.5.5 .1.5-.4.5-.2.5 .6.5 1.3.5 0 .5-1.3.5-.4.5 .1.5 .1.5 .4.5 .7.5-.5.5 1.1.5-1.3.5 1.2.5-1.1.5 .8.5-.6.5-.4.5 1.7.5-.5.5-.5.5-.6.5 .8.5-.4.5-1 .5-.3.5 1 .5 1.2.5-.7.5 .2.5-1.1.5 3.1.5-1.5.5 1.2.5-2.1.5 2 .5-.9.5 .5.5 .1.5-1 .5-1.5.5 .6.5 2.2.5 1.2.5 .2.5-2.4.5 .7.5-.3.5-1.9.5-.6.5 3.1.5-3.7.5 2.5.5-1 .5-.2.5 .4.5-.9.5-.1.5 3.4.5 1 .5-1.1.5-.2.5-.6.5 0 .5 .7.5-3.3.5 0 .5 .8.5 .8.5 .2.5 .8.5 0 .5-2 .5 2.8.5-.2.5-3.7.5 2.6.5-2.2.5 1.7.5-.4.5 2.3.5-1.8.5 .4.5-2.5.5 1.1.5 3.1.5-2.3.5 1.8.5-1.3.5-1.3.5 .4.5-.1.5 1.8.5-.3.5-1.7.5 .4.5 1.1.5-.3.5-.7.5 .9.5-.3.5 .5.5-1.7.5 1.5.5-.1.5-2.2.5 3.1.5-3.4.5 2.2.5-.3.5-.2.5 1.4.5-1.5.5 .2.5 2.9.5-2.1.5 1.9.5-2.3.5 .8.5 2.7.5-2 .5 .9.5-3.3.5 1.4.5 1.8.5-.3.5-.4.5-.9.5 1.4.5-2.5.5 1.2.5-1 .5-1 .5 2.5.5-1.5.5 2.1.5-.4.5-1.5.5-2.5.5 2.6.5 0 .5-2.4.5-.6.5 4.6.5-.9.5 .8.5-.7.5-1.8.5-.5.5 1.3.5-.8.5 0 .5 2.1.5-1.7.5 1.3.5-4.6.5 .1.5 .1.5 .2.5 .3.5 .2.5-.5.5 .6.5-.9.5 .7.5-.4.5-.4.5 8.8.5 1.2.5 .4.5-1.8.5 2 .5-1.2.5-.7.5-2.5.5 3.6.5-2 .5 9.6.5-10.4.5 2.4.5 2.8.5 0 .5-2 .5-5.7.5-.5.5-.3.5 1.4.5 3 .5-4.5.5 1.9.5-1 .5-1.5.5 1.5.5-.5.5-.2.5 .6.5-1.3.5-1.1.5 1.3.5 1.4.5-.2.5 .4.5-.7.5-1.6.5 1.6.5-1.5.5 .1.5-.1.5 2.2.5-2.4.5 0 .5 1.1.5 0 .5 3.3.5-2.8.5 .4.5-.4.5-.4.5 1.1.5-2.5.5 1.8.5-.4.5 2.2.5-3.7.5 .5.5 3.4.5-1.4.5 2.2.5-2.2.5 2.4.5-3.7.5 2.1.5 0 .5 0 .5 1.8.5-3 .5 .2.5 .5.5 3.3.5-.1.5-1.5.5-2.3.5 1 .5-2.8.5 4.1.5-.9.5-.3.5-1.9.5 .7.5 1.5.5 1.1.5-.3.5-.4.5-1.3.5-.9.5-1.4.5 3.7.5 .4.5-1.8.5-1 .5-.5.5 1.3.5-1.2.5-.8.5-.1.5-1.5.5 1.8.5 .5.5 .5.5 3.3.5-1.4.5-3.1.5 2.4.5-1.9.5-1.8.5 3.7.5 .1.5-1 .5 .1.5-.8.5-1.9.5 2 .5-.8.5-1 .5 2.5.5-1.2.5-.5.5 1.3.5-1.3.5 3.6.5 2.2.5 .4.5-3.9.5 .2.5 .5.5-1 .5-.3.5 .4.5 .9.5 .5.5-.3.5-1.4.5 3.5.5-1.3.5-3 .5 3.6.5-1.5.5-.5.5 .4.5 .7.5 2.1.5-3.2.5 0 .5-.2.5 1.8.5 .4.5 .5.5-.6.5-1.2.5 2.1.5-1.8.5 16.2.5-13 .5-2.2.5 .1.5-2.6.5 1.3.5 2.7.5 2 .5-2.1.5-1.8.5 .2.5 2.6.5-2.3.5 1.1.5-1.7.5-2.2.5 1.4.5 3.2.5 1.2.5 0 .5-4 .5 1 .5 2.1.5-3 .5-.3.5-.4.5-2.1.5 .8.5 .8.5-2.4.5 .6.5-1.1.5 1 .5 19.1.5-19.3.5-1 .5 3.5.5 .1.5-.3.5-1.8.5-.3.5 .9.5 .1.5 .3.5 .4.5-3.5.5 2 .5 .4.5 1.6.5 .4.5-.4.5-.1.5 1 .5-3.2.5-3.1.5 3 .5-.6.5 .4.5-.6.5 1.8.5-1.9.5 3.3.5-.5.5-1.3.5 .1.5 .4.5 0 .5-3 .5-.3.5-.1.5 3.5.5-1.1.5 1.5.5 1.1.5 2.6.5-2 .5-4 .5-.2.5 2.2.5-.6.5 3.4.5 .7.5-3.7.5 .9.5 1.1.5 .8.5-1.9.5 1.7.5-3.6.5 1.4.5 14.8.5-14.5.5-2.5.5 .5.5-.4.5 2.4.5-.9.5-.5.5-.8.5 1.3.5 24 .5-21.2.5-1.2.5 .7.5-3.5.5-.1.5 3.7.5-.2.5-3.3.5 1 .5-1.6.5 .2.5 1.4.5-1.1.5-.6.5 .3.5 .2.5-.2.5 .3.5-1.1.5 .9.5 0 .5 2.3.5-1.9.5 .1.5-.8.5-1 .5-.7.5 1.2.5 1.5.5-.5.5 .9.5 .7.5-1.8.5-.6.5-.9.5 1.5.5 .8.5-.1.5 13.1.5-11.6.5-3.2.5-.4.5 .3.5 .7.5-1 .5 1.1.5 1.4.5-.6.5-1 .5-1 .5 .5.5 1.7.5-.3.5 .1.5 1 .5-.1.5-1 .5 0 .5-.3.5-1.8.5 3 .5 .2.5-.7.5 .2.5-1.5.5 .6.5-.8.5 .8.5 .7.5 .8.5-.6.5-1.4.5 1.4.5 0 .5 .5.5-.1.5 .2.5 .8.5-2.1.5 .3.5-1.4.5 .4.5 1 .5 1.6.5-2.5.5 .1.5 .6.5 0 .5 .6.5-1.2.5 .5.5-2.4.5 1.4.5 .6.5 .2.5 .7.5 1.3.5-1.2.5-1.6.5 .7.5-.7.5 .9.5-1 .5 1.9.5-.5.5 .7.5-1 .5 0 .5-.8.5 1.3.5-.8.5 1 .5-.1.5 .4.5-.9.5-.4.5 0 .5-2 .5 1.2.5 .4.5-.5.5 .8.5-.4.5 2.2.5-1.6.5 1.1.5-.6.5 .9.5 .8.5-2.5.5-.6.5 .3.5-1.3.5 3.3.5-2.5.5 2.3.5-.3.5 0 .5 2.3.5-1.5.5-.9.5 1.8.5-2.8.5 1.2.5 .1.5-.4.5-1.4.5 1.7.5 2.1.5-1.5.5 .2.5 .8.5 .4.5-2.3.5 1 .5-1.1.5-.9.5-.9.5 .1.5 1.4.5 1.6.5-1.3.5 0 .5 1.1.5-1.7.5 1.5.5 .3.5-1.2.5 1 .5 0 .5-.2.5 1.5.5-1.2.5-.1.5-1.1.5 0 .5 .8.5-1.5.5 .9.5-1.4.5 0 .5 1.7.5-.8.5 1.9.5-1.3.5-1.2.5 1.4.5-.7.5-.6.5 1.8.5-.8.5 .2.5 1.5.5 .1.5-.4.5 .5.5 .7.5-1.2.5-.4.5-.7.5-.4.5 .2.5-.2.5-.3.5 .1.5-.3.5 .4.5 .2.5-.3.5 .1.5 1.4.5-1.4.5-.2.5 1.6.5-.5.5 1.3.5-2.2.5-1 .5 0 .5 1.6.5-.7.5-.3.5 .9.5 1.8.5-2.5.5-.5.5 .4.5 1.5.5 .2.5-.8.5-.9.5 1.9.5 1.4.5-2.7.5 .5.5-1.4.5 .4.5-.3.5 2 .5-1.3.5-.3.5 .6.5 .2.5 .7.5-.3.5 .7.5 .4.5-1 .5-1.3.5 1.2.5 .3.5-.1.5-.2.5-.6.5 0 .5 1.5.5 1.1.5-1.6.5-1.4.5 .5.5-.3.5 2.1.5-.7.5 .1.5 .5.5-1.2.5 .1.5 0 .5 .9.5 .8.5-1 .5-.1.5-.5.5-1 .5 .7.5-1.5.5 1.2.5-.7.5 .6.5 1.6.5-1 .5-.1.5 0 .5 1.2.5 .3.5-.7.5-.7.5 .9.5-1.2.5 .5.5-2 .5 1.7.5-1.4.5-.6.5 2.8.5-1.6.5 .6.5-3.3.5-.2.5 .6.5 .5.5 1 .5-.9.5 .7.5-1 .5-.5.5 .5.5 .4.5 .2.5 .8.5-.2.5-.6.5 .9.5-.5.5-.4.5-.1.5 .9.5-.1.5-1.1.5-.6.5 1.2.5-.9.5 .9.5 .4.5 .4.5-.2.5 .1.5-1.5.5 .7.5 0 .5-.1.5 .9.5-.2.5-.6.5 .2.5 .9.5 .1.5 .4.5-1.2.5 1.8.5-2.3.5 .9.5-.9.5 1.9.5-.5.5-.2.5-1.3.5 1.1.5-.1.5-.1.5 .7.5-.7.5-.6.5 .8.5-.1.5 .9.5 .1.5 .8.5-.6.5-.9.5 1 .5-1.1.5 1.4.5-.3.5-1.4.5-.3.5 2.1.5 3.9.5 .3.5-.3.5 .2.5-1.7.5-.6.5-.1.5-.2.5 .3.5 1.7.5-.5.5-.8.5-1.4.5-.1.5 2.6.5-.6.5 .1.5 .4.5 1.8.5-2 .5 1.7.5-.9.5-.6.5-.7.5 1.8.5-.1.5-2.6.5 2.7.5-1 .5 .4.5-.6.5 1.2.5-.2.5 .5.5 1 .5-2.6.5-2.2.5 2 .5 .4.5-.2.5 1.8.5-.5.5-1.7.5 1.5.5-1.3.5-1 .5 .6.5 1.5.5 .3.5 .6.5 1.7.5-1.5.5-1.3.5 .4.5 .2.5-1 .5 1 .5-2.1.5 .7.5 1.1.5-.5.5-.1.5 .2.5-.1.5 1.4.5-2.7.5 1.2.5 1.3.5-.6.5-.9.5 .9.5-.3.5 0 .5 .9.5 1.8.5-1 .5-.4.5-.5.5 1.8.5-1.1.5-1 .5-2.4.5 1.3.5-.4.5 1.8.5-1.7.5 .6.5-.7.5 1.8.5-1.1.5 .1.5-.1.5-1.4.5 1.3.5 1.2.5 1.4.5-.9.5-3 .5 1.7.5 .2.5-1.5.5-.4.5 1.1.5 .9.5-.9.5 2.1.5-1 .5-1.7.5-.2.5 1.3.5 .3.5 1.6.5 1.4.5-3.7.5-1.2.5 .7.5 2.3.5-1.9.5 .9.5 1.5.5-.5.5-.4.5-.8.5 1 .5-.1.5 2.1.5-2.2.5 .3.5 2.3.5 1.6.5-2.1.5-2.1.5 2.3.5-1.3.5-3.5.5 1.5.5-.8.5 .3.5 2 .5-1.7.5-.7.5 2.1.5-2.9.5 .2.5 .6.5-.1.5 .8.5-1.8.5 1.1.5 .9.5 .4.5 .1.5 .3.5 0 .5 .9.5-2.6.5 .6.5-1.7.5 2.8.5-1.3.5 1.6.5 .4.5-1.2.5 2 .5-1.5.5-1.3.5 2.1.5-.7.5 1.4.5 .5.5-1.9.5 .4.5-1.3.5 .1.5 1.2.5-.8.5 3 .5-1.9.5-.7.5 .3.5 .8.5 1.1.5 1.1.5-.4.5-.6.5-1.2.5-.5.5-1.8.5 1.3.5 .7.5-.1.5 1.7.5 1 .5-.5.5-1.3.5-.2.5 1.1.5-.8.5-1.3.5-1.4.5 2.3.5 .1.5-.4.5 .3.5-.1.5 .1.5-.9.5 2.7.5-2 .5 1.4.5 1.7.5-3.9.5 .3.5-.4.5-.4.5 2.3.5 .3.5 1.2.5-.9.5-1.9.5 1.8.5 .6.5-2.9.5 2.8.5-.8.5-.4.5 1.9.5-.1.5-.6.5 .3.5 .7.5-2.3.5 1.3.5-2.5.5 2 .5-.3.5-.8.5 .9.5 1 .5-.4.5-1.2.5 1.4.5 .1.5-1.4.5 0 .5-1.3.5 .6.5 2.1.5-1.5.5 2.4.5-2.5.5-.1.5-.5.5 1.2.5-1.2.5 .3.5 2 .5-1 .5-.1.5-.3.5-1.4.5 1.4.5 1.3.5-1.9.5 .8.5 .5.5 2 .5-1.6.5-.2.5-1.1.5 2 .5-.8.5 .2.5 0 .5 .7.5 .8.5 .2.5-3.6.5 .4.5 .2.5 3 .5-1.7.5 1.4.5-1.3.5-2 .5 1.2.5 .6.5-2.1.5 .4.5 1.3.5 1.8.5 .5.5-2.7.5 .2.5-.6.5 .5.5-2 .5 2.3.5-1.1.5 .1.5 1.3.5-3.2.5 2.5.5 1 .5-.5.5 0 .5-2.2.5 .1.5 1.6.5-.5.5 1.5.5 .6.5-1.7.5-.8.5-1.1.5 .8.5 .6.5 3 .5-1.6.5-.7.5-.3.5 1.7.5-2.5.5-1 .5-.8.5 3 .5-1.3.5 3.1.5-.5.5-.2.5 .2.5-1.5.5 1.9.5 1.9.5-1.7.5 .2.5-.8.5 .7.5 1.8.5-2.6.5-1.2.5 2.6.5-1.4.5 2.1.5-.6.5 .7.5-.1.5-2.2.5 1.7.5 .2.5 .7.5-.4.5 1.4.5-3.1.5 1.5.5 1.2.5-1.8.5 .8.5-2.3.5-.2.5 .6.5-1.3.5 0 .5 1.3.5 .9.5-.4.5-.8.5-1.6.5 1.4.5 0 .5 .7.5 .8.5 1.1.5-2.5.5 .1.5 2 .5-.8.5 1.3.5-1.2.5-.3.5 .8.5 2 .5-.6.5-.4.5-1.4.5 1.8.5 .9.5-3.3.5 .8.5-1.3.5 0 .5 2.2.5-.7.5-1.6.5 0 .5 2.4.5-1.8.5 .6.5 .5.5-1.3.5 1.9.5-2.4.5 2.6.5-.2.5 0 .5 .5.5-.1.5 .6.5-.2.5-.7.5-.8.5 .6.5-3.1.5 1.5.5 .2.5 1 .5 1 .5 1.3.5 0 .5-.6.5-1.2.5 1.8.5-2.9.5 2 .5-.7.5 1.3.5 .5.5-.8.5-.3.5-.6.5 3 .5-1.3.5 0 .5-1.2.5 1.4.5 .3.5-.2.5-2.5.5 3.3.5-2.6.5 .4.5 1.8.5-.2.5-1.1.5 1.3.5-3 .5 2.9.5-1.9.5 .9.5-.7.5-13.4.5-.2.5 .4.5-.6.5 1.1.5 .3.5 .1.5 .2.5-.6.5 1.3.5 .3.5-.5.5-.6.5 .6.5-.4.5-.7.5 1.4.5-.6.5 .6.5-.4.5-1 .5 .6.5-1.7.5 .9.5 1.3.5 .1.5 1.4.5-1.4.5 .8.5 .4.5-.8.5-.1.5-.2.5-.1.5-1.4.5 .6.5-.1.5 .6.5-.2.5 .7.5-.5.5-.7.5 2.4.5-1.1.5 .4.5-.3.5-.6.5 .2.5 .1.5 1.1.5-.3.5-.1.5-.4.5-.2.5-.9.5 1 .5-.2.5 .2.5 1.4.5-.1.5-.3.5 .4.5-2.2.5 1.1.5 .1.5 .5.5-1.4.5 1 .5-.1.5 .6.5 .1.5-1.1.5 .5.5 .2.5-1.2.5 1.1.5 1.4.5-.5.5 .8.5-.7.5 .9.5 .4.5 2.2.5-1.3.5 0 .5 1.1.5 1.3.5-.7.5-.5.5 1.5.5-.6.5 2.4.5-.1.5-.2.5-1.1.5 1.2.5 .2.5 .2.5 2.1.5-.6.5 3.4.5 .8.5-2.2.5 1.5.5 .3.5-1.1.5 0 .5-1.3.5 1.3.5 .9.5 0 .5 .3.5 .7.5-2.1.5 1.1.5-1 .5 .7.5-1.7.5 2.4.5-1.2.5 1 .5-.2.5-.5.5 .5.5-.7.5-1.3.5 .9.5 3.1.5-.3.5-1 .5-1 .5 1.3.5-2.4.5 .5.5 .7.5-1.1.5-1.5.5 .6.5-1.5.5 1.7.5-1.5.5 3.7.5 .2.5-1.3.5 1.3.5 .5.5 0 .5-.1.5 .6.5-1.9.5 .8.5-1.5.5 1.1.5 2.5.5-1.9.5 .7.5-1.1.5-.8.5 1.8.5-2 .5 .6.5 1.5.5-1.7.5-.5.5 1.3.5 2.8.5-3 .5-.8.5-1.7.5 2 .5-1 .5-.8.5 1.2.5 2.2.5-1.5.5 1.3.5-2.4.5-.9.5 .2.5 .6.5 1 .5 .2.5-1.3.5 1.8.5 2 .5-1.9.5-1.1.5 1.9.5 .6.5 1.6.5-.1.5-2.8.5 1.4.5-.1.5-1.1.5 .4.5 .2.5-1 .5-.4.5 .8.5 1 .5 1.6.5-1 .5 .4.5-2.1.5-.3.5 2.3.5-1.6.5-.6.5 0 .5-.1.5 2.1.5 1.7.5-2.9.5 1.5.5-2.9.5-.6.5 2.6.5-.2.5-.2.5 .1.5 .8.5 .8.5 1.5.5-3.4.5 1 .5 .9.5-.6.5-1.9.5-.3.5 1.7.5 2.8.5-2 .5 .5.5 .6.5 .4.5-11.5.5-.7.5-.8.5-.4.5-.1.5-.4.5-.9.5-.2.5-1.5.5-.7.5-.1.5-.6.5-.4.5-.5.5 2.4.5 .7.5-2.3.5 1.6.5-2.2.5-1.9.5 2.9.5-1.8.5 2.8.5-1.9.5 2.5.5 1.6.5-2 .5 2.4.5-2 .5-2.2.5 .5.5-.2.5 1.4.5-.1.5-1.6.5 .4.5 1.1.5-1.6.5 1.7.5 .7.5-.1.5 .1.5 1.6.5 1.4.5-4.5.5-1.1.5-.2.5 4.4.5 .5.5 .2.5-.2.5 1.8.5-1.4.5-3 .5 .1.5-.8.5 2.3.5-2.5.5 1.7.5-1.9.5 3.4.5-3.3.5 .8.5 3 .5-2.4.5-.5.5 .3.5 2.6.5-3.4.5 .5.5 .4.5 .3.5 2.2.5-.4.5-1.7.5 2.4.5-2.4.5 2.8.5-1.3.5 2.1.5 .7.5 1 .5-1 .5-2.3.5-2.7.5-2.9.5 2.6.5-1.9.5 1.1.5 2 .5 .6.5 .4.5 1.5.5 .4.5-1.6.5-2.1.5 3.5.5-4.9.5-.4.5 14.6.5-10.8.5-1.6.5-1.2.5-.8.5 3.6.5-.6.5-.9.5 .5.5 1.3.5-2.5.5 1.9.5-.2.5 .8.5 1 .5-.8.5-2.1.5-1.4.5 1.2.5 3.5.5-4.5.5 4 .5-.9.5-3.6.5 .5.5 3.5.5 1.3.5 1.2.5-1.8.5-2.5.5 .1.5-1.8.5 4.7.5-.2.5-2.1.5 1.7.5 .2.5-1.7.5 1.8.5-1.9.5-1.4.5 4.8.5-2.6.5 .4.5 2.5.5-.3.5-.2.5-.7.5-1.6.5 1.5.5 3.1.5-.9.5-.6.5 .8.5-.1.5-2.6.5 3.4.5 .6.5-1.6.5 .1.5-3 .5 1.1.5 1.7.5-.5.5-1.6.5-1.2.5-5.6.5 2 .5 .6.5 6.4.5-4.4.5-5.5.5 1.5.5 1.2.5 1.5.5 6 .5-4.8.5-1.5.5-1 .5-.6.5 4.8.5 0 .5-1.3.5-3.1.5 1.1.5 2 .5-1.1.5-6.3.5 5.3.5-1.3.5-.9.5 5.2.5 .8.5-4.7.5 4.3.5 3.9.5-2.3.5-2 .5 .1.5 1.3.5-2.1.5 4.3.5-.2.5-7.3.5 3.9.5-4.5.5 3.7.5-3.1.5 1.2.5 .2.5-1.2.5 2.5.5-1.1.5-1.1.5-.8.5 1.5.5 2.7.5-.4.5 .6.5-3.2.5 3 .5 2 .5 2.1.5-2.8.5 2.7.5 1.2.5-2.3.5-1.3.5-5.3.5 8.8.5-3.4.5 1.9.5-1.1.5-.1.5-3.2.5 7 .5 .6.5-2.5.5 4.4.5-2.9.5-3.6.5 .3.5 1.4.5 2.5.5-3.8.5-1.6.5-2 .5 5.1.5-6.4.5 .1.5 6.9.5-3.4.5 1.4.5-2.9.5-1.4.5 3.7.5 .1.5 1.9.5-3.7.5 27.4.5-23.2.5 1.3.5-.4.5-3.8.5 .6.5-4.1.5 .6.5 1.3.5-5.8.5 4.6.5-3.8.5 1.6.5 3.2.5-2.5.5-1.4.5 1.8.5-.6.5-3.8.5 5.8.5-.1.5-1.1.5-3.4.5 .7.5-1.3.5 5.3.5 .8.5 .6.5-1.5.5 1.9.5 .4.5-5 .5 2.5.5 1.7.5-1 .5 3 .5-2.3.5 13.4.5-16 .5-.3.5 2.7.5 2.9.5-1.6.5 4.2.5-9.5.5 4.2.5 1.6.5-2.3.5-2.1.5-5.2.5 6.3.5-3.7.5 1.5.5-.8.5 2.4.5 4.4.5-1.6.5 0 .5 4.5.5-10.1.5 2.2.5 .3.5 7.4.5-7.6.5 3.1.5 2.4.5 2.4.5-4.3.5-4.8.5 5.5.5-3.4.5 2.8.5 1 .5 2.1.5-7 .5-4.2.5 6.8.5 1 .5-7.5.5 6.6.5 3.2.5 .8.5-6 .5 .8.5 2.9.5 0 .5 2.9.5 14.1.5-14 .5-.7.5-3.4.5-5.8.5 2.5.5 .9.5 3.3.5-3.6.5 2.5.5 1.9.5-.3.5-5.4.5 4.2.5-2.2.5-.8.5-2.9.5 1.7.5 2.4.5 .9.5 1 .5-3.3.5 2.3.5 2.7.5-5.1.5 0 .5-.2.5-.1.5-.4.5 6 .5-3 .5-3.7.5 4.9.5-4.8.5 1.7.5 6 .5-7.3.5-.9.5 1.7.5 .6.5 4 .5-4 .5 3.6.5 4.5.5 .2.5-2.1.5-2.6.5-.4.5 .7.5-3 .5 3.7.5-.2.5-2.9.5-1.7.5-.8.5 26.7.5-23.9.5-.8.5 1.2.5-1.2.5-3.7.5 1.1.5-.3.5 5.6.5-3.6.5-.3.5-.2.5 2.2.5-2.8.5 2.1.5 2.3.5 .6.5 4.1.5 .8.5-6.5.5 3.9.5-3.7.5 3.4.5 1.2.5-6.7.5 2.2.5 .3.5-5.8.5 6.9.5-2.4.5-3.4.5 .2.5 2.1.5 0 .5 24.1.5-19.9.5-5.1.5 6.1.5-2.4.5-2.6.5 2.4.5 2.5.5-.7.5 6.3.5-6.4.5-2.5.5-.6.5-3.4.5-1.3.5 6 .5-1.2.5 1 .5 2.3.5-1.7.5-1.4.5 1.8.5 1.7.5-2.2.5 1.9.5-1.6.5 2.7.5-.3.5 2.3.5-4 .5 14.3.5-11.8.5-4.7.5 2.1.5 .2.5 5.6.5-6.7.5 1.4.5 5.9.5-6.8.5-.9.5 2.2.5 2 .5 0 .5 4.2.5-5.8.5-2.5.5 7 .5-5.7.5 1.4.5-5.7.5-.4.5-.7.5 7.2.5-3.7.5 4.6.5-3.4.5-.6.5-.6.5-.7.5 .8.5-4.6.5 10.7.5-1.6.5-1.8.5 2.7.5 9.7.5-12 .5-3.4.5 .6.5 2.1.5-1.9.5 1.2.5-5.5.5 4.1.5-3.3.5 7.6.5-1.2.5-2.5.5 4.5.5 2.9.5-5.4.5-2.5.5 2.7.5 5.1.5-1.7.5-4.2.5-4.4.5 9.7.5-5.9.5-.5.5 4.8.5-3.7.5 2.2.5 .9.5-3.6.5-.5.5-1.6.5 4.2.5-3.6.5 8.7.5-6.1.5-1.7.5 3.7.5 .7.5-2.8.5-1.1.5 2.6.5-1.1.5-3.6.5 6.5.5-1.4.5 1.3.5-1.3.5-1 .5 2.7.5" fill="none" stroke="#111" stroke-width="0.85" stroke-linejoin="bevel"/>
<line x1="424" y1="159.3" x2="533" y2="159.3" stroke="#111" stroke-width="0.7"/>
<line x1="425" y1="160.3" x2="507" y2="160.3" stroke="#111" stroke-width="0.7"/>
<line x1="424" y1="161.6" x2="474" y2="161.6" stroke="#111" stroke-width="0.7"/>
<line x1="426" y1="162.6" x2="466" y2="162.6" stroke="#111" stroke-width="0.7"/>
<line x1="427" y1="164.0" x2="455" y2="164.0" stroke="#111" stroke-width="0.7"/>
<line x1="428" y1="165.4" x2="445" y2="165.4" stroke="#111" stroke-width="0.7"/>
<line x1="429" y1="166.8" x2="438" y2="166.8" stroke="#111" stroke-width="0.7"/>
<g shape-rendering="crispEdges"><rect x="357.5" y="110.5" width="52" height="9.3" fill="#00aaf0"/><rect x="357.5" y="119.7" width="52" height="27.8" fill="#00fcdc"/><rect x="357.5" y="147.4" width="52" height="27.5" fill="#7b7bf6"/><rect x="357.5" y="174.8" width="52" height="102.7" fill="#00fcdc"/><rect x="357.5" y="277.5" width="52" height="3.9" fill="#f2c2f2"/><rect x="357.5" y="281.3" width="52" height="5" fill="#a9a9a9"/><rect x="357.5" y="286.3" width="52" height="2.9" fill="#ffff00"/><rect x="357.5" y="289.2" width="52" height="0.7" fill="#222222"/><rect x="357.5" y="289.9" width="52" height="3.8" fill="#a9a9a9"/><rect x="357.5" y="293.6" width="52" height="5.5" fill="#ffff00"/><rect x="357.5" y="299.1" width="52" height="1.9" fill="#555555"/><rect x="357.5" y="301" width="52" height="3.2" fill="#ffff00"/><rect x="357.5" y="304.2" width="52" height="5.5" fill="#a9a9a9"/><rect x="357.5" y="309.6" width="52" height="5.6" fill="#ffff00"/><rect x="357.5" y="315.2" width="52" height="2.4" fill="#555555"/><rect x="357.5" y="317.5" width="52" height="5.5" fill="#ffff00"/><rect x="357.5" y="323" width="52" height="2" fill="#555555"/><rect x="357.5" y="325" width="52" height="9.6" fill="#ffff00"/><rect x="357.5" y="334.5" width="52" height="1.1" fill="#222222"/><rect x="357.5" y="335.5" width="52" height="3.4" fill="#ffff00"/><rect x="357.5" y="338.8" width="52" height="1.2" fill="#222222"/><rect x="357.5" y="340" width="52" height="6.4" fill="#ffff00"/><rect x="357.5" y="346.3" width="52" height="61.5" fill="#00fcdc"/><rect x="357.5" y="407.8" width="52" height="1.2" fill="#604000"/><rect x="357.5" y="409" width="52" height="2.5" fill="#ffff00"/><rect x="357.5" y="411.5" width="52" height="1.4" fill="#222222"/><rect x="357.5" y="412.8" width="52" height="2" fill="#a9a9a9"/><rect x="357.5" y="414.8" width="52" height="1.2" fill="#222222"/><rect x="357.5" y="416" width="52" height="2" fill="#ffff00"/><rect x="357.5" y="418" width="52" height="1.2" fill="#222222"/><rect x="357.5" y="419.2" width="52" height="1.7" fill="#a9a9a9"/><rect x="357.5" y="420.8" width="52" height="1.2" fill="#222222"/><rect x="357.5" y="422" width="52" height="2.2" fill="#ffff00"/><rect x="357.5" y="424.2" width="52" height="1.1" fill="#222222"/><rect x="357.5" y="425.2" width="52" height="12.1" fill="#ffff00"/><rect x="357.5" y="437.2" width="52" height="7" fill="#a9a9a9"/><rect x="357.5" y="444.2" width="52" height="22.5" fill="#ffff00"/><rect x="357.5" y="466.6" width="52" height="1.8" fill="#333"/><rect x="357.5" y="468.4" width="52" height="27.2" fill="#ffff00"/><rect x="357.5" y="495.5" width="52" height="50.8" fill="#a2f0fc"/><rect x="357.5" y="546.3" width="52" height="7" fill="#ffff00"/><rect x="357.5" y="553.3" width="52" height="1.4" fill="#222222"/><rect x="357.5" y="554.6" width="52" height="26.2" fill="#ffff00"/><rect x="357.5" y="580.7" width="52" height="1.8" fill="#555555"/><rect x="357.5" y="582.5" width="52" height="15.8" fill="#ffff00"/><rect x="357.5" y="598.2" width="52" height="1.8" fill="#222222"/><rect x="357.5" y="600" width="52" height="19.6" fill="#ffff00"/><rect x="357.5" y="619.5" width="52" height="3.5" fill="#a9a9a9"/><rect x="357.5" y="623" width="52" height="13.3" fill="#ffff00"/><rect x="357.5" y="636.2" width="52" height="3.8" fill="#a9a9a9"/><rect x="357.5" y="640" width="52" height="14.1" fill="#ffff00"/><rect x="357.5" y="654" width="52" height="7.8" fill="#00fcdc"/><rect x="357.5" y="661.8" width="52" height="26.1" fill="#ffff00"/><rect x="357.5" y="687.8" width="52" height="47" fill="#7b7bf6"/><rect x="357.5" y="734.8" width="52" height="2.3" fill="#7b7bf6"/><rect x="357.5" y="737" width="52" height="4.8" fill="#a9a9a9"/><rect x="357.5" y="741.8" width="52" height="1.3" fill="#ffff00"/><rect x="357.5" y="743" width="52" height="1.1" fill="#222222"/><rect x="357.5" y="744" width="52" height="9.3" fill="#a9a9a9"/><rect x="357.5" y="753.2" width="52" height="6.4" fill="#ffff00"/><rect x="357.5" y="759.6" width="52" height="26.4" fill="#7b7bf6"/><rect x="358.5" y="786" width="52" height="20.6" fill="#7b7bf6"/><rect x="358.5" y="806.5" width="52" height="4" fill="#f2c2f2"/><rect x="358.5" y="810.5" width="52" height="2" fill="#b8b048"/><rect x="358.5" y="812.5" width="52" height="2.5" fill="#a8e4ee"/><rect x="358.5" y="815" width="52" height="59.7" fill="#00fcdc"/><rect x="358.5" y="874.6" width="52" height="36.7" fill="#ffff00"/><rect x="358.5" y="911.2" width="52" height="1.3" fill="#222222"/><rect x="358.5" y="912.5" width="52" height="7.8" fill="#a9a9a9"/><rect x="358.5" y="920.3" width="52" height="30.7" fill="#ffff00"/><rect x="358.5" y="950.9" width="52" height="48.9" fill="#7b7bf6"/><rect x="358.5" y="999.8" width="52" height="5.2" fill="#ffff00"/><rect x="358.5" y="1004.9" width="52" height="3.5" fill="#a9a9a9"/><rect x="358.5" y="1008.4" width="52" height="9.7" fill="#ffff00"/><rect x="358.5" y="1018" width="52" height="2" fill="#222222"/><rect x="358.5" y="1020" width="52" height="2" fill="#ffff00"/><rect x="358.5" y="1022" width="52" height="2" fill="#222222"/><rect x="358.5" y="1024" width="52" height="2" fill="#d8d800"/><rect x="358.5" y="1026" width="52" height="1.3" fill="#222222"/><rect x="358.5" y="1027.2" width="52" height="18.6" fill="#ffff00"/><rect x="358.5" y="1045.7" width="52" height="2.3" fill="#a9a9a9"/><rect x="358.5" y="1048" width="52" height="13" fill="#ffff00"/><rect x="358.5" y="1060.9" width="52" height="4.4" fill="#a9a9a9"/><rect x="358.5" y="1065.3" width="52" height="45.5" fill="#ffff00"/><rect x="358.5" y="1110.8" width="52" height="15.1" fill="#00fcdc"/><rect x="358.5" y="1125.8" width="52" height="2.8" fill="#c8c800"/><rect x="358.5" y="1128.5" width="52" height="11.6" fill="#ff3c00"/><rect x="358.5" y="1140" width="52" height="9" fill="#00fcdc"/><rect x="358.5" y="1148.9" width="52" height="27.1" fill="#ff3c00"/><rect x="358.5" y="1176" width="52" height="4.5" fill="#f8a8a0"/><rect x="358.5" y="1180.4" width="52" height="4.6" fill="#ff3c00"/><rect x="358.5" y="1185" width="52" height="4.3" fill="#ff6a20"/><rect x="358.5" y="1189.2" width="52" height="34.1" fill="#ff3c00"/><rect x="358.5" y="1223.3" width="52" height="4.8" fill="#c8d040"/><rect x="358.5" y="1228" width="52" height="13.5" fill="#ff3c00"/><rect x="358.5" y="1241.4" width="52" height="7.6" fill="#f8a8a0"/><rect x="358.5" y="1249" width="52" height="3.6" fill="#e07090"/><rect x="358.5" y="1252.6" width="52" height="21.3" fill="#9c4a42"/><rect x="358.5" y="1273.8" width="52" height="7" fill="#f8a8a0"/><rect x="358.5" y="1280.8" width="52" height="7.5" fill="#ffd800"/><rect x="358.5" y="1288.3" width="52" height="2.8" fill="#ff5030"/><rect x="358.5" y="1291" width="52" height="5.3" fill="#ffd800"/><rect x="358.5" y="1296.2" width="52" height="3.8" fill="#e070c0"/><rect x="358.5" y="1300" width="52" height="6.8" fill="#ff3c00"/><rect x="358.5" y="1306.7" width="52" height="5.3" fill="#f8a8a0"/><rect x="358.5" y="1312" width="52" height="25.8" fill="#9c4a42"/><rect x="358.5" y="1337.7" width="52" height="4.9" fill="#f8a8a0"/></g>
<line x1="357.5" y1="425.2" x2="409.5" y2="425.2" stroke="#333" stroke-width="0.7"/>
<line x1="357.5" y1="437.2" x2="409.5" y2="437.2" stroke="#333" stroke-width="0.7"/>
<line x1="357.5" y1="444.2" x2="409.5" y2="444.2" stroke="#333" stroke-width="0.7"/>
<line x1="357.5" y1="468.4" x2="409.5" y2="468.4" stroke="#333" stroke-width="0.7"/>
<line x1="357.5" y1="554.6" x2="409.5" y2="554.6" stroke="#333" stroke-width="0.7"/>
<line x1="357.5" y1="582.5" x2="409.5" y2="582.5" stroke="#333" stroke-width="0.7"/>
<line x1="357.5" y1="600" x2="409.5" y2="600" stroke="#333" stroke-width="0.7"/>
<line x1="357.5" y1="619.5" x2="409.5" y2="619.5" stroke="#333" stroke-width="0.7"/>
<line x1="357.5" y1="640" x2="409.5" y2="640" stroke="#333" stroke-width="0.7"/>
<line x1="357.5" y1="661.8" x2="409.5" y2="661.8" stroke="#333" stroke-width="0.7"/>
<line x1="358.5" y1="874.6" x2="410.5" y2="874.6" stroke="#333" stroke-width="0.7"/>
<line x1="358.5" y1="911.2" x2="410.5" y2="911.2" stroke="#333" stroke-width="0.7"/>
<line x1="358.5" y1="920.3" x2="410.5" y2="920.3" stroke="#333" stroke-width="0.7"/>
<line x1="358.5" y1="1027.2" x2="410.5" y2="1027.2" stroke="#333" stroke-width="0.7"/>
<line x1="358.5" y1="1045.7" x2="410.5" y2="1045.7" stroke="#333" stroke-width="0.7"/>
<line x1="358.5" y1="1048" x2="410.5" y2="1048" stroke="#333" stroke-width="0.7"/>
<line x1="358.5" y1="1060.9" x2="410.5" y2="1060.9" stroke="#333" stroke-width="0.7"/>
<line x1="358.5" y1="1065.3" x2="410.5" y2="1065.3" stroke="#333" stroke-width="0.7"/>
<line x1="357.5" y1="105.8" x2="357.5" y2="786" stroke="#333" stroke-width="1.0"/>
<line x1="358.5" y1="786" x2="358.5" y2="1342.6" stroke="#333" stroke-width="1.0"/>
<line x1="409.5" y1="105.8" x2="409.5" y2="786" stroke="#333" stroke-width="1.0"/>
<line x1="410.5" y1="786" x2="410.5" y2="1342.6" stroke="#333" stroke-width="1.0"/>
<line x1="358.5" y1="1342.6" x2="410.5" y2="1342.6" stroke="#333" stroke-width="1.0"/>
<text x="383.5" y="136.5" font-size="9.4" fill="#003030" text-anchor="middle" textLength="45.6" lengthAdjust="spacingAndGlyphs" stroke="#003030" stroke-width="0.25">DOLERITE</text>
<text x="383.5" y="227.9" font-size="9.4" fill="#003030" text-anchor="middle" textLength="45.6" lengthAdjust="spacingAndGlyphs" stroke="#003030" stroke-width="0.25">DOLERITE</text>
<text x="383.5" y="379.3" font-size="9.4" fill="#003030" text-anchor="middle" textLength="45.6" lengthAdjust="spacingAndGlyphs" stroke="#003030" stroke-width="0.25">DOLERITE</text>
<text x="384.5" y="846.3" font-size="9.4" fill="#003030" text-anchor="middle" textLength="45.6" lengthAdjust="spacingAndGlyphs" stroke="#003030" stroke-width="0.25">DOLERITE</text>
<text x="384.5" y="1120.9" font-size="9.4" fill="#003030" text-anchor="middle" textLength="45.6" lengthAdjust="spacingAndGlyphs" stroke="#003030" stroke-width="0.25">DOLERITE</text>
<text x="383.5" y="433.7" font-size="9.8" fill="#1e1e00" text-anchor="middle" textLength="44.5" lengthAdjust="spacingAndGlyphs" stroke="#1e1e00" stroke-width="0.25">Sandstone</text>
<text x="383.5" y="458.2" font-size="9.8" fill="#1e1e00" text-anchor="middle" textLength="44.5" lengthAdjust="spacingAndGlyphs" stroke="#1e1e00" stroke-width="0.25">Sandstone</text>
<text x="383.5" y="484.6" font-size="9.8" fill="#1e1e00" text-anchor="middle" textLength="44.5" lengthAdjust="spacingAndGlyphs" stroke="#1e1e00" stroke-width="0.25">Sandstone</text>
<text x="383.5" y="569" font-size="9.8" fill="#1e1e00" text-anchor="middle" textLength="44.5" lengthAdjust="spacingAndGlyphs" stroke="#1e1e00" stroke-width="0.25">Sandstone</text>
<text x="383.5" y="592.8" font-size="9.8" fill="#1e1e00" text-anchor="middle" textLength="44.5" lengthAdjust="spacingAndGlyphs" stroke="#1e1e00" stroke-width="0.25">Sandstone</text>
<text x="383.5" y="611.6" font-size="9.8" fill="#1e1e00" text-anchor="middle" textLength="44.5" lengthAdjust="spacingAndGlyphs" stroke="#1e1e00" stroke-width="0.25">Sandstone</text>
<text x="383.5" y="631.7" font-size="9.8" fill="#1e1e00" text-anchor="middle" textLength="44.5" lengthAdjust="spacingAndGlyphs" stroke="#1e1e00" stroke-width="0.25">Sandstone</text>
<text x="383.5" y="649.2" font-size="9.8" fill="#1e1e00" text-anchor="middle" textLength="44.5" lengthAdjust="spacingAndGlyphs" stroke="#1e1e00" stroke-width="0.25">Sandstone</text>
<text x="383.5" y="677.2" font-size="9.8" fill="#1e1e00" text-anchor="middle" textLength="44.5" lengthAdjust="spacingAndGlyphs" stroke="#1e1e00" stroke-width="0.25">Sandstone</text>
<text x="384.5" y="894.7" font-size="9.8" fill="#1e1e00" text-anchor="middle" textLength="44.5" lengthAdjust="spacingAndGlyphs" stroke="#1e1e00" stroke-width="0.25">Sandstone</text>
<text x="384.5" y="939" font-size="9.8" fill="#1e1e00" text-anchor="middle" textLength="44.5" lengthAdjust="spacingAndGlyphs" stroke="#1e1e00" stroke-width="0.25">Sandstone</text>
<text x="384.5" y="1038.9" font-size="9.8" fill="#1e1e00" text-anchor="middle" textLength="44.5" lengthAdjust="spacingAndGlyphs" stroke="#1e1e00" stroke-width="0.25">Sandstone</text>
<text x="384.5" y="1056.8" font-size="9.8" fill="#1e1e00" text-anchor="middle" textLength="44.5" lengthAdjust="spacingAndGlyphs" stroke="#1e1e00" stroke-width="0.25">Sandstone</text>
<text x="384.5" y="1090.1" font-size="9.8" fill="#1e1e00" text-anchor="middle" textLength="44.5" lengthAdjust="spacingAndGlyphs" stroke="#1e1e00" stroke-width="0.25">Sandstone</text>
<text x="383.5" y="523.3" font-size="9.4" fill="#1a4a50" text-anchor="middle" textLength="22" lengthAdjust="spacingAndGlyphs" stroke="#1a4a50" stroke-width="0.25">Siltite</text>
<text x="384.5" y="1164.8" font-size="9.4" fill="#3a0a00" text-anchor="middle" textLength="40.4" lengthAdjust="spacingAndGlyphs" stroke="#3a0a00" stroke-width="0.25">GRANITE</text>
<text x="384.5" y="1208.6" font-size="9.4" fill="#3a0a00" text-anchor="middle" textLength="40.4" lengthAdjust="spacingAndGlyphs" stroke="#3a0a00" stroke-width="0.25">GRANITE</text>
<text x="384.5" y="1237.3" font-size="9.4" fill="#3a0a00" text-anchor="middle" textLength="40.4" lengthAdjust="spacingAndGlyphs" stroke="#3a0a00" stroke-width="0.25">GRANITE</text>
<line x1="110.3" y1="105.8" x2="543.5" y2="105.8" stroke="#333" stroke-width="1.2"/>
<line x1="179.6" y1="105.8" x2="179.6" y2="786" stroke="#222" stroke-width="1.0"/>
<line x1="180.6" y1="786" x2="180.6" y2="1342.8" stroke="#222" stroke-width="1.0"/>
<line x1="357" y1="105.8" x2="357" y2="786" stroke="#444" stroke-width="0.9"/>
<line x1="358" y1="786" x2="358" y2="1342.8" stroke="#444" stroke-width="0.9"/>
<line x1="543.5" y1="105.8" x2="543.5" y2="786" stroke="#555" stroke-width="1.0"/>
<line x1="544.5" y1="786" x2="544.5" y2="1342.8" stroke="#555" stroke-width="1.0"/>
<line x1="544.5" y1="1342.8" x2="544.5" y2="1356" stroke="#888" stroke-width="1.0"/>
<line x1="15.4" y1="96.4" x2="15.4" y2="786" stroke="#222" stroke-width="1.1"/>
<line x1="15.9" y1="786" x2="15.9" y2="1357" stroke="#222" stroke-width="1.1"/>
<line x1="110.2" y1="97.4" x2="110.2" y2="786" stroke="#000" stroke-width="2.2"/>
<line x1="111" y1="786" x2="111" y2="1356.5" stroke="#000" stroke-width="2.2"/>
<path d="M108 98l.4.7-.2.7-.3.7 1.3.7-.3.7-1 .7 1 .7-.8.7 1.1.7-.1.7-1 .7 1 .7-.4.7-.1.7-.2.7-.6.7 1.1.7-.6.7-.4.7 1.2.7 0 .7-.9.7 .7.7-.3.7 .3.7 0 .7 0 .7-.4.7 .5.7 0 .7 0 .7 .2.7-1.3.7 .6.7-.1.7 .1.7 .2.7-1 .7 .2.7 .1.7-.1.7 .7.7-.2.7-.1.7 .1.7 .2.7-.6.7-.2.7 1.1.7-.8.7 .4.7-.6.7-.1.7 1.1.7-.5.7 .4.7-.2.7 .3.7-.5.7 .2.7-.4.7 .8.7-.4.7-.7.7 .3.7 .8.7-1.3.7 .6.7 .2.7-.3.7 0 .7 .3.7 .5.7-1.3.7 1.5.7-.8.7 .2.7 0 .7 .3.7 .2.7-1.6.7 1.2.7 .5.7-1.1.7-.3.7 1 .7-.8.7-.2.7 1.3.7 .1.7-1.1.7 .3.7 .7.7 .1.7-1.2.7 1.2.7-1.7.7 1.6.7-.8.7 0 .7 .4.7 .2.7 .1.7 .1.7-.1.7-.3.7 .4.7-.4.7-.2.7 .2.7 .2.7 .2.7-.1.7-.2.7 .3.7-1.1.7 .9.7-.5.7 .3.7 .2.7-.1.7-.4.7 .6.7 0 .7-.9.7 .6.7 .1.7-.3.7 .4.7-.4.7-.1.7 .6.7-.2.7-1 .7 1.4.7-.5.7 .4.7-.4.7-.1.7 .3.7-.4.7-1 .7 .3.7 .3.7 .9.7 .1.7-.8.7-.4.7 .9.7-.4.7 0 .7 .4.7 .4.7-1.1.7 .3.7 .7.7-1.5.7 1.2.7 .2.7-.8.7 .5.7-.1.7 0 .7 .2.7 .3.7-1.5.7 1.4.7-1 .7 .9.7-.9.7 .1.7 .7.7 .3.7-.3.7 0 .7-.2.7-1 .7 .6.7 .9.7-.2.7-.5.7-.3.7 0 .7 .6.7 0 .7-.1.7 0 .7-.8.7 1.2.7 .1.7-.2.7 0 .7 .1.7 .2.7-1.2.7 0 .7 .8.7 0 .7 .4.7-1.3.7-.2.7 1.1.7-.4.7 .3.7 .1.7-.6.7 .3.7 .5.7-.7.7 .5.7 .3.7-1.2.7-.1.7 .8.7 .4.7-.4.7 .2.7 .3.7-.2.7-1 .7 .1.7 .9.7-1.1.7 .5.7 .1.7 .2.7 .2.7-.3.7 .3.7-.6.7 .4.7-.1.7 0 .7-.4.7 1.1.7-.9.7 .2.7 .5.7-.2.7 .1.7-.5.7 .7.7-.3.7-.9.7 .9.7 .2.7 .1.7-1.2.7 1 .7-.7.7 .3.7 .3.7 .1.7 .1.7 0 .7 0 .7-.8.7 .9.7-.1.7-.2.7-.7.7-.1.7 .6.7 .5.7-.2.7 0 .7-.8.7 1 .7-1 .7 .2.7-.4.7 .6.7 .5.7 0 .7-.9.7-.4.7 .5.7 .6.7 .3.7 0 .7-.1.7-.4.7-.8.7 1.4.7-1.2.7 .4.7 .8.7-.8.7 .5.7-.1.7-1.1.7 .6.7 .1.7 .5.7-.4.7-.2.7 .5.7 0 .7-.1.7 .1.7-1.1.7 .5.7 .5.7 .1.7 .4.7-.9.7 .6.7 .1.7 0 .7 .1.7-.6.7-.2.7 .7.7-.4.7 .4.7 .1.7-1.2.7 1 .7-.9.7 .6.7 0 .7 .6.7-1.5.7 1 .7-.3.7-.5.7 .4.7 0 .7 .5.7-1 .7 1.4.7-1.5.7 1.5.7-1.3.7 1.2.7-.4.7 0 .7 .4.7-.3.7-.4.7 .6.7-.4.7 .4.7-.2.7 .4.7-.1.7 0 .7-.5.7 .1.7 .1.7 0 .7 .2.7 0 .7-.2.7-.8.7 0 .7 .8.7-.3.7 0 .7 .1.7 0 .7 .6.7-1.2.7 .9.7-1 .7 1.2.7-.1.7-.4.7 .2.7 0 .7-.3.7 .4.7-.8.7 .9.7-1.5.7 .9.7 .3.7-.1.7 .5.7-1 .7 .5.7-.2.7 .5.7-.6.7 .2.7-.5.7 .4.7-.1.7 .5.7-.6.7 .4.7 .6.7-1.6.7 .6.7 .7.7-.5.7-.2.7 .3.7 .5.7-.3.7-.5.7 .4.7 .2.7-.1.7 .5.7-.5.7 .1.7 .4.7-.9.7 .9.7-.4.7-.9.7-.1.7 .2.7 .9.7-.7.7-.2.7 1.1.7-.2.7 0 .7 .3.7-.3.7 .1.7 .1.7-1.1.7 .9.7-1.3.7 1.3.7 .1.7 0 .7-.2.7-1 .7 1.4.7-.9.7 .8.7-.4.7 0 .7 .1.7-.8.7 .8.7-.7.7 .4.7 .2.7-.5.7 .1.7-.4.7 .3.7 .8.7-1.1.7 0 .7 .6.7 0 .7 .3.7 .1.7 .1.7-.9.7 .3.7 .4.7 .3.7-1.2.7 .1.7 1.1.7-.4.7 .4.7-.6.7-.4.7 .3.7 .5.7-.8.7 1.1.7-.3.7 .2.7 .1.7-.6.7 .2.7 .2.7-1.5.7 1.6.7-1 .7 1 .7 .1.7-1.3.7 1.1.7-.3.7 .1.7-.4.7 .3.7-.6.7 .4.7-.8.7 1.5.7-.1.7 0 .7-.3.7-.2.7-.2.7-.1.7 .9.7-.7.7 .6.7-.4.7 0 .7 0 .7 .4.7-.2.7-.1.7-.6.7-.5.7 1.2.7-.2.7 .4.7-.8.7 .1.7-.1.7 .2.7 .4.7 .1.7-.2.7-.1.7 0 .7 .3.7 .1.7-1.2.7 .2.7 .2.7 .8.7-.7.7-.3.7 .2.7-.4.7 1.1.7-.6.7 .6.7-.9.7 .5.7 0 .7 0 .7 0 .7 .5.7-.2.7-.6.7 .4.7-.1.7 .6.7-.4.7-.3.7 .6.7-.2.7-.7.7 .9.7-1 .7 1 .7-.1.7 .1.7-.3.7-.4.7 .4.7-1.3.7 1.5.7-.1.7 .3.7-1.4.7 .4.7 .7.7 0 .7-.4.7-.4.7 .7.7 0 .7 .4.7 0 .7-.9.7 .4.7 .3.7 0 .7 0 .7-.2.7-.1.7-.1.7 .5.7-.7.7-.1.7 .5.7 .3.7-1.4.7 1 .7 .4.7-.2.7-.8.7-.2.7 1.1.7-.1.7 0 .7 .2.7-1.3.7 .4.7-.4.7 1.2.7-.4.7 .5.7 .1.7-.2.7 .1.7-.8.7-.1.7 .5.7 .5.7-.8.7 .4.7-.2.7-.1.7-.2.7 .6.7 .2.7-.6.7 .6.7-.2.7 .3.7-.3.7 .2.7-.4.7-.2.7 .3.7 .4.7 0 .7-.7.7 .4.7-.5.7 0 .7 .3.7-.5.7 .5.7 .4.7 .1.7-.8.7 .2.7-.6.7 1.1.7-.2.7 0 .7-.3.7-.3.7 .2.7 0 .7 .1.7-.5.7 .7.7-.2.7-.1.7 .2.7 .3.7-1.3.7 1.2.7 0 .7 .3.7 0 .7 0 .7-1.1.7 1 .7-.6.7 .1.7 .4.7-1 .7-.1.7 1.2.7-.2.7 .1.7-1.1.7 .5.7 .8.7 0 .7-.9.7 .7.7-.7.7-.3.7 .5.7-.2.7-.3.7 1.2.7-.4.7-.8.7 .1.7 .7.7 .1.7-.5.7 0 .7 .6.7-.5.7-.3.7 .7.7 .1.7-.8.7 0 .7 .9.7-1 .7 .5.7 .6.7-1.6.7 1.4.7-.1.7-.6.7 .7.7-.3.7 0 .7 .5.7-1 .7-.1.7-.1.7 1 .7-1.2.7 1.3.7-.1.7-1.2.7 1 .7-.1.7-.1.7-.1.7-.1.7 .6.7-1 .7 .5.7 .3.7 .2.7 0 .7-.2.7-.9.7 .2.7 .7.7 .3.7-.2.7-.5.7 .1.7-.4.7-.3.7 .6.7 .5.7-1.3.7 .6.7 .8.7-.4.7-.2.7 .4.7 0 .7-.8.7 1 .7-.6.7 .7.7-.2.7 .1.7-1.3.7 1.2.7-1.1.7 .7.7 .6.7-.2.7 .1.7-.1.7-.1.7-.6.7 .9.7-1.3.7 .9.7-.1.7 .3.7-.6.7 .2.7 .3.7 .3.7 0 .7-.1.7-.6.7 .7.7 0 .7-.7.7 .5.7 .1.7-.1.7-.3.7 .2.7 .3.7-.2.7-.5.7 .8.7-.8.7-.1.7 .4.7-.2.7-.5.7 .2.7 .4.7-.2.7-.1.7 0 .7-.3.7 .9.7 .2.7-.3.7 0 .7 .3.7-.3.7-.7.7 .3.7-.4.7-.2.7 1.4.7-.6.7 .4.7-.7.7-.1.7 .6.7 .4.7-.4.7-.1.7 .5.7-.1.7-.2.7 .1.7-.5.7 .7.7-.7.7 0 .7-.5.7 .2.7-.3.7 .8.7-.9.7 .3.7 .6.7-.2.7 .5.7-.1.7 .1.7 0 .7-.1.7-.4.7 .6.7-.4.7-.5.7 .7.7 0 .7-.9.7 1.2.7 0 .7-.2.7-.7.7 .2.7 .5.7-.1.7 0 .7 0 .7-.4.7 .6.7-.9.7 .3.7 .6.7 .1.7-1.2.7-.1.7 1.1.7-.6.7 .1.7 .5.7-.4.7-.3.7 .6.7-.3.7 0 .7 .3.7-1.1.7 1.3.7-.3.7-.3.7 .3.7-.5.7 .1.7 0 .7-.5.7 .2.7 .3.7 .4.7-.9.7 1.1.7-.2.7-.2.7-.2.7 .4.7 .2.7-.7.7 .9.7-1.1.7 .4.7 0 .7 0 .7 .3.7-.2.7-.2.7 .4.7-.5.7 .2.7 .7.7-1.1.7 .8.7-.3.7 .6.7-.2.7 .1.7-1.5.7 .6.7 .6.7 .1.7 .2.7 .1.7-.4.7 0 .7 .2.7 .2.7-.6.7 0 .7-.1.7 .6.7-.5.7 .6.7-.3.7 .2.7 .1.7-.4.7-.6.7 .2.7 .2.7-.1.7 .3.7 .3.7-.4.7-.1.7 0 .7 .5.7-.6.7 .2.7 .2.7-.7.7 .3.7-.2.7 .5.7-.3.7 .3.7 .1.7-.8.7 1.1.7-.6.7 .4.7-.3.7 .4.7-.4.7-.8.7 1.2.7-.3.7-.1.7-.4.7 0 .7 .9.7-.2.7 .2.7-1 .7 .3.7 .3.7-.7.7 1 .7 .1.7 0 .7-.9.7 .3.7-.2.7-.6.7 1 .7 .2.7-.2.7 0 .7 .1.7-.3.7 .6.7-1 .7 .9.7-.1.7 .9.7-.6.7-.1.7 .8.7-.5.7 .3.7 0 .7-.1.7 .3.7-.1.7-.4.7-.2.7 .6.7-1.1.7 .7.7-.3.7-.2.7 .5.7-1 .7 1.2.7-.2.7 .2.7 0 .7 0 .7 0 .7-1 .7 .7.7 0 .7 .2.7 .1.7-1.1.7 .9.7 .2.7-1.1.7 .6.7 .4.7 .3.7-.2.7-.2.7-.4.7 .7.7 .1.7 .1.7-.8.7 .7.7-.2.7-.1.7-.4.7 .3.7 0 .7 .4.7-1.4.7 1.2.7-.4.7 .1.7-.2.7 .7.7-1.1.7 1 .7 .2.7-.2.7 .2.7-1.4.7 .9.7-1.1.7 1.2.7-.1.7 .5.7-.8.7-.3.7 1 .7 0 .7 0 .7-.4.7-.7.7 .9.7-.8.7 .8.7-.4.7 .7.7-.4.7 .3.7-.3.7-.7.7 .5.7-.9.7 1.4.7-1 .7 1 .7-1.3.7 .7.7 .4.7 0 .7-.1.7-.1.7 .1.7 0 .7 .2.7 0 .7-.7.7 .6.7 .1.7-.7.7 .2.7 0 .7 0 .7 .1.7 .1.7-.5.7 0 .7 .5.7 .5.7-1.2.7 .7.7-.4.7 .6.7-.5.7 .5.7 .3.7-.1.7-.7.7 .3.7 0 .7-.6.7 .7.7-.4.7-.2.7 .8.7-.3.7-.1.7-.3.7 .8.7-.1.7-.3.7 .2.7-1.3.7 .8.7 .7.7 .1.7 0 .7-1 .7 .9.7-.1.7-.9.7-.1.7 1.2.7-1.3.7 .3.7-.2.7 .9.7-.3.7-.3.7 .7.7 .2.7-1 .7 .7.7-.3.7 .1.7 .2.7-.4.7 .7.7-.2.7-.2.7-.5.7 .6.7-.5.7 .6.7-.7.7 .8.7 0 .7-.7.7 0 .7 .2.7-.4.7 .7.7-.2.7-.9.7 0 .7 .6.7 .3.7-1.1.7 .8.7-.6.7 .8.7 .5.7 0 .7-.7.7 .6.7-.5.7 .1.7 .3.7 0 .7 .1.7-.8.7 .1.7 0 .7 .3.7-.1.7-.4.7 .8.7-.2.7-.7.7 .7.7 .3.7-.7.7 0 .7 0 .7 .9.7-.7.7-.5.7 .1.7 .7.7 0 .7-.5.7 .3.7 .3.7-.3.7 .4.7 0 .7-.9.7 .8.7-.3.7 .5.7 .1.7-.8.7 .4.7-1.1.7 1.4.7-.1.7 0 .7 .1.7-.5.7 0 .7 0 .7 .4.7-.2.7-.1.7-.2.7 .3.7-.5.7 .7.7 .1.7-.7.7 .5.7 .1.7-.7.7 .9.7-.9.7 .2.7 .2.7 .2.7-.5.7 .8.7-.3.7-.1.7-.1.7-.7.7 1 .7-.3.7 .3.7-.4.7 .4.7-1 .7 .4.7 .4.7 0 .7 .1.7-.1.7-1.4.7 1.6.7 .2.7-1.1.7 .5.7-.7.7 .6.7 .3.7-.1.7-.8.7 .4.7 .4.7-.2.7 .3.7-.3.7-.3.7 .5.7 .2.7 .1.7-1.5.7 1.2.7-.5.7 .6.7-.3.7-.8.7 1 .7-.4.7 .6.7-.8.7 .5.7 .2.7-.5.7 0 .7 .8.7-1 .7 .4.7-.2.7 .3.7-1 .7 .6.7-.1.7 .9.7 0 .7 .1.7-.6.7-.3.7-.1.7 .5.7-.8.7 0 .7 .6.7 .3.7 .1.7 0 .7 .2.7 .1.7-1.4.7 1.4.7-.7.7 .2.7-.4.7 1 .7-.3.7-.7.7 .4.7-.5.7 1.1.7-1 .7 .5.7-.9.7 .1.7 .6.7 .1.7-.9.7 1.2.7-.8.7-.3.7-.2.7 1.4.7-.3.7 .4.7-.2.7-.3.7-.3.7 .3.7 .4.7-.3.7-.7.7 .7.7 .1.7 .4.7-.3.7 .2.7-.4.7-.2.7-.2.7 .7.7-.4.7 .4.7-.6.7 .2.7 .2.7-.4.7 .1.7 .4.7-.3.7 .1.7-.2.7-.3.7 .8.7 .2.7-.9.7 .5.7-.9.7 .5.7-.3.7 .5.7-.7.7 .2.7-.2.7 1.1.7 0 .7-.4.7-.1.7 0 .7 0 .7-.6.7 .1.7 .8.7-.2.7 .1.7 0 .7 .4.7-1.6.7 .1.7 .6.7 1 .7 0 .7-1.3.7 .6.7 .6.7-1.1.7 .5.7-.2.7 .3.7 0 .7 0 .7 .3.7-.8.7 .9.7-1.2.7 .3.7 .1.7-.6.7 1.3.7-.9.7 .3.7 .9.7-1.3.7 .6.7 .3.7-.2.7-.2.7-.6.7 1.1.7 .2.7 .1.7-.6.7 .2.7 .1.7 .1.7 0 .7-.7.7 .2.7 .4.7 .3.7-.1.7-1.2.7 .6.7-.7.7 .2.7 .8.7 .1.7-1.1.7 .9.7-.7.7 1.2.7-.1.7-1.4.7 1.2.7 0 .7-.1.7-.4.7 .2.7-.2.7 .7.7-.2.7-.5.7 .2.7 0 .7 .1.7 .5.7-.2.7-1.5.7 .3.7 .8.7 .2.7-.2.7-.2.7 0 .7-.1.7 .9.7-.7.7-.8.7 1.1.7 .3.7-.3.7-.5.7 .1.7 .5.7 .3.7-.6.7 .6.7-1.1.7 .5.7 .4.7-.1.7-.4.7-.7.7 .5.7 0 .7 .8.7-1.2.7 1.2.7-.1.7-.1.7 .2.7-1.2.7 1.1.7-.1.7 0 .7 .2.7-.3.7-.5.7 .7.7 0 .7-.1.7 .1.7-.8.7 .6.7-.2.7 .2.7-.6.7-.5.7 1.2.7 .1.7-.4.7 .4.7 .1.7-.6.7-.5.7 .3.7 .8.7-.6.7 .4.7 .2.7-.2.7-.9.7-.3.7 1.2.7-1 .7 .2.7 0 .7 .1.7 .5.7-.3.7-.7.7 .6.7-.2.7 .8.7-.2.7-.3.7-.2.7 .1.7 .8.7 0 .7-.9.7 .9.7 .1.7-.4.7 .2.7-.4.7 .1.7 .2.7 0 .7-1.3.7 .1.7 .7.7 0 .7-.8.7 1.3.7 .1.7-.4.7-.3.7 .5.7-.2.7 .3.7-.5.7 .1.7-.3.7 0 .7 1 .7-1.4.7 .8.7 .1.7-.1.7 .3.7 0 .7-1.2.7 .7.7 .6.7-.4.7 0 .7 .4.7-.8.7 .4.7 .6.7-1 .7 .8.7-1.5.7 .9.7-.1.7 .8.7-.1.7 .1.7-.5.7 .4.7-.3.7 0 .7-.4.7-.3.7 0 .7 .1.7 .7.7-.7.7 .9.7 .2.7-.6.7 .2.7-.4.7 .8.7-.1.7-.1.7-.6.7 .6.7 0 .7-.5.7-.9.7 1.4.7-.3.7-.2.7 .6.7-1.4.7 .1.7 .6.7-.2.7 .9.7 0 .7-.6.7-.7.7 1.4.7-1 .7 .5.7-.5.7 .4.7 .5.7-.1.7 0 .7-.1.7 .1.7-.7.7 .7.7-1.2.7 1.4.7-.4.7-.1.7 .4.7 0 .7-.7.7 .4.7 .2.7-.3.7-.9.7 .6.7-.3.7 .1.7 .2.7 .5.7-.4.7 .7.7-.6.7 .2.7 .1.7-.4.7 .4.7 .1.7-.5.7 .3.7 .1.7-.2.7 .4.7-1.2.7 0 .7 1 .7-.7.7 .8.7 .1.7-.6.7-.6.7 .6.7 .3.7-.5.7 .7.7-1 .7 1.1.7-.3.7-.5.7 .3.7 .2.7-.1.7-.3.7 .8.7-1.1.7 0 .7 .7.7-.2.7-.2.7 .7.7 0 .7-.6.7 .5.7-.8.7-.5.7 1.1.7-.1.7 .5.7-.6.7 .5.7 0 .7-.4.7 .4.7-.2.7 .2.7-.6.7 .6.7 .1.7-.6.7-.7.7 1.2.7-.1.7-.7.7 .6.7-.1.7 .1.7-1 .7 1 .7-1.3.7 1.4.7-.3.7-.2.7 .1.7-.2.7 .5.7 .1.7-.3.7 .2.7 .1.7-.5.7 .5.7-.2.7-.8.7 0 .7 1.1.7-1.1.7 1.2.7-.3.7-.6.7-.4.7 .2.7 .8.7-.8.7 1.1.7-1.5.7 1.1.7-.5.7 .9.7-1.5.7 1.4.7-.5.7 .4.7-.1.7-.9.7 1.1.7-.1.7-.6.7-.6.7 .4.7 .9.7-.4.7 .2.7-.6.7 .3.7-.3.7-.5.7 1.1.7-1 .7 .9.7-.6.7-.5.7 .6.7 .2.7 .6.7-.4.7-.2.7-.7.7 .8.7 .4.7-.6.7 .8.7-.1.7-1.6.7 1.1.7 .4.7-.5.7 .1.7-.1.7 .7.7-1.3.7 1 .7-.9.7 .8.7 .2.7-.6.7-.2.7 .2.7 .5.7" fill="none" stroke="#000" stroke-width="0.9"/>
<text x="60.9" y="124.2" font-size="14" fill="#111" text-anchor="middle" textLength="24.9" lengthAdjust="spacingAndGlyphs">(20)</text>
<text x="60.9" y="144.7" font-size="14" fill="#111" text-anchor="middle" textLength="24.9" lengthAdjust="spacingAndGlyphs">(50)</text>
<text x="60.9" y="165.3" font-size="14" fill="#111" text-anchor="middle" textLength="24.9" lengthAdjust="spacingAndGlyphs">(80)</text>
<text x="61.4" y="186.7" font-size="14" fill="#111" text-anchor="middle" textLength="32.7" lengthAdjust="spacingAndGlyphs">(110)</text>
<text x="61.4" y="207.2" font-size="14" fill="#111" text-anchor="middle" textLength="32.7" lengthAdjust="spacingAndGlyphs">(140)</text>
<text x="61.4" y="227.8" font-size="14" fill="#111" text-anchor="middle" textLength="32.7" lengthAdjust="spacingAndGlyphs">(170)</text>
<text x="61.4" y="248.4" font-size="14" fill="#111" text-anchor="middle" textLength="32.7" lengthAdjust="spacingAndGlyphs">(200)</text>
<text x="61.4" y="268.6" font-size="14" fill="#111" text-anchor="middle" textLength="32.7" lengthAdjust="spacingAndGlyphs">(230)</text>
<text x="61.4" y="289" font-size="14" fill="#111" text-anchor="middle" textLength="32.7" lengthAdjust="spacingAndGlyphs">(260)</text>
<text x="61.4" y="309.7" font-size="14" fill="#111" text-anchor="middle" textLength="32.7" lengthAdjust="spacingAndGlyphs">(290)</text>
<text x="61.4" y="330.3" font-size="14" fill="#111" text-anchor="middle" textLength="32.7" lengthAdjust="spacingAndGlyphs">(320)</text>
<text x="61.4" y="350.9" font-size="14" fill="#111" text-anchor="middle" textLength="32.7" lengthAdjust="spacingAndGlyphs">(350)</text>
<text x="61.4" y="371.9" font-size="14" fill="#111" text-anchor="middle" textLength="32.7" lengthAdjust="spacingAndGlyphs">(380)</text>
<text x="61.4" y="392.6" font-size="14" fill="#111" text-anchor="middle" textLength="32.7" lengthAdjust="spacingAndGlyphs">(410)</text>
<text x="61.4" y="413.3" font-size="14" fill="#111" text-anchor="middle" textLength="32.7" lengthAdjust="spacingAndGlyphs">(440)</text>
<text x="61.4" y="434" font-size="14" fill="#111" text-anchor="middle" textLength="32.7" lengthAdjust="spacingAndGlyphs">(470)</text>
<text x="61.4" y="454.6" font-size="14" fill="#111" text-anchor="middle" textLength="32.7" lengthAdjust="spacingAndGlyphs">(500)</text>
<text x="61.4" y="475.3" font-size="14" fill="#111" text-anchor="middle" textLength="32.7" lengthAdjust="spacingAndGlyphs">(530)</text>
<text x="61.4" y="495.7" font-size="14" fill="#111" text-anchor="middle" textLength="32.7" lengthAdjust="spacingAndGlyphs">(560)</text>
<text x="61.4" y="516.4" font-size="14" fill="#111" text-anchor="middle" textLength="32.7" lengthAdjust="spacingAndGlyphs">(590)</text>
<text x="61.4" y="537" font-size="14" fill="#111" text-anchor="middle" textLength="32.7" lengthAdjust="spacingAndGlyphs">(620)</text>
<text x="61.4" y="557.7" font-size="14" fill="#111" text-anchor="middle" textLength="32.7" lengthAdjust="spacingAndGlyphs">(650)</text>
<text x="61.4" y="578.4" font-size="14" fill="#111" text-anchor="middle" textLength="32.7" lengthAdjust="spacingAndGlyphs">(680)</text>
<text x="61.4" y="599" font-size="14" fill="#111" text-anchor="middle" textLength="32.7" lengthAdjust="spacingAndGlyphs">(710)</text>
<text x="61.4" y="619.6" font-size="14" fill="#111" text-anchor="middle" textLength="32.7" lengthAdjust="spacingAndGlyphs">(740)</text>
<text x="61.4" y="640.3" font-size="14" fill="#111" text-anchor="middle" textLength="32.7" lengthAdjust="spacingAndGlyphs">(770)</text>
<text x="61.4" y="661.3" font-size="14" fill="#111" text-anchor="middle" textLength="32.7" lengthAdjust="spacingAndGlyphs">(800)</text>
<text x="61.4" y="681.8" font-size="14" fill="#111" text-anchor="middle" textLength="32.7" lengthAdjust="spacingAndGlyphs">(830)</text>
<text x="61.4" y="702.9" font-size="14" fill="#111" text-anchor="middle" textLength="32.7" lengthAdjust="spacingAndGlyphs">(860)</text>
<text x="61.4" y="723.6" font-size="14" fill="#111" text-anchor="middle" textLength="32.7" lengthAdjust="spacingAndGlyphs">(890)</text>
<text x="61.4" y="744.6" font-size="14" fill="#111" text-anchor="middle" textLength="32.7" lengthAdjust="spacingAndGlyphs">(920)</text>
<text x="61.4" y="765.3" font-size="14" fill="#111" text-anchor="middle" textLength="32.7" lengthAdjust="spacingAndGlyphs">(950)</text>
<text x="63" y="798.5" font-size="14" fill="#111" text-anchor="middle" textLength="40.4" lengthAdjust="spacingAndGlyphs">(1010)</text>
<text x="63" y="818.9" font-size="14" fill="#111" text-anchor="middle" textLength="40.4" lengthAdjust="spacingAndGlyphs">(1040)</text>
<text x="63" y="839.6" font-size="14" fill="#111" text-anchor="middle" textLength="40.4" lengthAdjust="spacingAndGlyphs">(1070)</text>
<text x="63" y="860.3" font-size="14" fill="#111" text-anchor="middle" textLength="40.4" lengthAdjust="spacingAndGlyphs">(1100)</text>
<text x="63" y="881" font-size="14" fill="#111" text-anchor="middle" textLength="40.4" lengthAdjust="spacingAndGlyphs">(1130)</text>
<text x="63" y="901.7" font-size="14" fill="#111" text-anchor="middle" textLength="40.4" lengthAdjust="spacingAndGlyphs">(1160)</text>
<text x="63" y="922.4" font-size="14" fill="#111" text-anchor="middle" textLength="40.4" lengthAdjust="spacingAndGlyphs">(1190)</text>
<text x="63" y="943.3" font-size="14" fill="#111" text-anchor="middle" textLength="40.4" lengthAdjust="spacingAndGlyphs">(1220)</text>
<text x="63" y="964" font-size="14" fill="#111" text-anchor="middle" textLength="40.4" lengthAdjust="spacingAndGlyphs">(1250)</text>
<text x="63" y="984.7" font-size="14" fill="#111" text-anchor="middle" textLength="40.4" lengthAdjust="spacingAndGlyphs">(1280)</text>
<text x="63" y="1005.4" font-size="14" fill="#111" text-anchor="middle" textLength="40.4" lengthAdjust="spacingAndGlyphs">(1310)</text>
<text x="63" y="1026.1" font-size="14" fill="#111" text-anchor="middle" textLength="40.4" lengthAdjust="spacingAndGlyphs">(1340)</text>
<text x="63" y="1046.7" font-size="14" fill="#111" text-anchor="middle" textLength="40.4" lengthAdjust="spacingAndGlyphs">(1370)</text>
<text x="63" y="1067" font-size="14" fill="#111" text-anchor="middle" textLength="40.4" lengthAdjust="spacingAndGlyphs">(1400)</text>
<text x="63" y="1087.6" font-size="14" fill="#111" text-anchor="middle" textLength="40.4" lengthAdjust="spacingAndGlyphs">(1430)</text>
<text x="63" y="1108.2" font-size="14" fill="#111" text-anchor="middle" textLength="40.4" lengthAdjust="spacingAndGlyphs">(1460)</text>
<text x="63" y="1128.8" font-size="14" fill="#111" text-anchor="middle" textLength="40.4" lengthAdjust="spacingAndGlyphs">(1490)</text>
<text x="63" y="1149.3" font-size="14" fill="#111" text-anchor="middle" textLength="40.4" lengthAdjust="spacingAndGlyphs">(1520)</text>
<text x="63" y="1169.9" font-size="14" fill="#111" text-anchor="middle" textLength="40.4" lengthAdjust="spacingAndGlyphs">(1550)</text>
<text x="63" y="1190.5" font-size="14" fill="#111" text-anchor="middle" textLength="40.4" lengthAdjust="spacingAndGlyphs">(1580)</text>
<text x="63" y="1211.2" font-size="14" fill="#111" text-anchor="middle" textLength="40.4" lengthAdjust="spacingAndGlyphs">(1610)</text>
<text x="63" y="1231.9" font-size="14" fill="#111" text-anchor="middle" textLength="40.4" lengthAdjust="spacingAndGlyphs">(1640)</text>
<text x="63" y="1252.5" font-size="14" fill="#111" text-anchor="middle" textLength="40.4" lengthAdjust="spacingAndGlyphs">(1670)</text>
<text x="63" y="1273.8" font-size="14" fill="#111" text-anchor="middle" textLength="40.4" lengthAdjust="spacingAndGlyphs">(1700)</text>
<text x="63" y="1293.9" font-size="14" fill="#111" text-anchor="middle" textLength="40.4" lengthAdjust="spacingAndGlyphs">(1730)</text>
<text x="63" y="1314.6" font-size="14" fill="#111" text-anchor="middle" textLength="40.4" lengthAdjust="spacingAndGlyphs">(1760)</text>
<text x="63" y="1334.9" font-size="14" fill="#111" text-anchor="middle" textLength="40.4" lengthAdjust="spacingAndGlyphs">(1790)</text>
<text x="63" y="1355.2" font-size="14" fill="#111" text-anchor="middle" textLength="40.4" lengthAdjust="spacingAndGlyphs">(1820)</text>
<line x1="13.2" y1="109.8" x2="544.5" y2="109.8" stroke="#99cc33" stroke-width="1.6"/>
<line x1="13.2" y1="119.9" x2="544.5" y2="119.9" stroke="#3a9ad9" stroke-width="1.4"/>
<line x1="13.2" y1="175.2" x2="544.5" y2="175.2" stroke="#99cc33" stroke-width="1.6"/>
<line x1="13.2" y1="277.5" x2="544.5" y2="277.5" stroke="#2a2a90" stroke-width="1.3"/>
<line x1="13.2" y1="281.5" x2="544.5" y2="281.5" stroke="#b040c0" stroke-width="1.3"/>
<line x1="13.2" y1="346.3" x2="544.5" y2="346.3" stroke="#b0a828" stroke-width="1.3"/>
<line x1="13.2" y1="408.1" x2="544.5" y2="408.1" stroke="#b01818" stroke-width="1.5"/>
<line x1="13.2" y1="495.6" x2="544.5" y2="495.6" stroke="#2828c8" stroke-width="1.4"/>
<line x1="13.2" y1="546.4" x2="544.5" y2="546.4" stroke="#2828c8" stroke-width="1.4"/>
<line x1="13.2" y1="654.4" x2="544.5" y2="654.4" stroke="#40d0e0" stroke-width="1.4"/>
<line x1="13.2" y1="661.9" x2="544.5" y2="661.9" stroke="#40c040" stroke-width="1.4"/>
<line x1="13.2" y1="736.9" x2="544.5" y2="736.9" stroke="#e04848" stroke-width="1.3"/>
<line x1="13.2" y1="809.3" x2="544.5" y2="809.3" stroke="#e090e0" stroke-width="1.2"/>
<line x1="13.2" y1="811.4" x2="544.5" y2="811.4" stroke="#b8b040" stroke-width="1.0"/>
<line x1="13.2" y1="812.6" x2="544.5" y2="812.6" stroke="#a8e0e8" stroke-width="1.4"/>
<line x1="13.2" y1="814.3" x2="544.5" y2="814.3" stroke="#2090d0" stroke-width="1.3"/>
<line x1="13.2" y1="874.4" x2="544.5" y2="874.4" stroke="#40c8a0" stroke-width="1.3"/>
<line x1="13.2" y1="1000.5" x2="544.5" y2="1000.5" stroke="#d09030" stroke-width="1.3"/>
<line x1="16.2" y1="1111.3" x2="544.5" y2="1111.3" stroke="#d890d8" stroke-width="1.3"/>
<line x1="16.2" y1="1126.1" x2="544.5" y2="1126.1" stroke="#70c870" stroke-width="1.3"/>
<line x1="16.2" y1="1140" x2="544.5" y2="1140" stroke="#90d8e0" stroke-width="1.5"/>
<line x1="16.2" y1="1149.2" x2="544.5" y2="1149.2" stroke="#60c060" stroke-width="1.3"/>
<line x1="16.2" y1="1176.2" x2="544.5" y2="1176.2" stroke="#c8c070" stroke-width="1.4"/>
<line x1="16.2" y1="1180.1" x2="544.5" y2="1180.1" stroke="#e0a0a0" stroke-width="1.4"/>
<line x1="16.2" y1="1185" x2="544.5" y2="1185" stroke="#900090" stroke-width="1.5"/>
<line x1="16.2" y1="1189.3" x2="544.5" y2="1189.3" stroke="#101090" stroke-width="1.6"/>
<line x1="16.2" y1="1224" x2="544.5" y2="1224" stroke="#30a0a8" stroke-width="1.0"/>
<line x1="16.2" y1="1225.8" x2="544.5" y2="1225.8" stroke="#40b040" stroke-width="1.0"/>
<line x1="16.2" y1="1228.2" x2="544.5" y2="1228.2" stroke="#c8c050" stroke-width="1.0"/>
<line x1="16.2" y1="1242" x2="544.5" y2="1242" stroke="#a01818" stroke-width="1.6"/>
<line x1="16.2" y1="1249.6" x2="544.5" y2="1249.6" stroke="#d030d0" stroke-width="1.4"/>
<line x1="16.2" y1="1252.4" x2="544.5" y2="1252.4" stroke="#4020c0" stroke-width="1.5"/>
<line x1="16.2" y1="1273.8" x2="544.5" y2="1273.8" stroke="#30d0e0" stroke-width="1.5"/>
<line x1="16.2" y1="1281" x2="544.5" y2="1281" stroke="#40c040" stroke-width="1.5"/>
<line x1="16.2" y1="1288.3" x2="544.5" y2="1288.3" stroke="#c0c000" stroke-width="1.3"/>
<line x1="16.2" y1="1290.4" x2="544.5" y2="1290.4" stroke="#e04040" stroke-width="1.5"/>
<line x1="16.2" y1="1297" x2="544.5" y2="1297" stroke="#d040d0" stroke-width="1.4"/>
<line x1="16.2" y1="1300" x2="544.5" y2="1300" stroke="#9040e0" stroke-width="1.5"/>
<line x1="16.2" y1="1308" x2="544.5" y2="1308" stroke="#2080e0" stroke-width="1.5"/>
<line x1="16.2" y1="1311.4" x2="544.5" y2="1311.4" stroke="#40d0b0" stroke-width="1.4"/>
<line x1="13.2" y1="1338" x2="544.5" y2="1338" stroke="#a0d040" stroke-width="1.4"/>
<line x1="13.2" y1="147.5" x2="675" y2="147.5" stroke="#1ba1e2" stroke-width="2.6"/>
<line x1="13.2" y1="688.6" x2="675.2" y2="688.6" stroke="#1ba1e2" stroke-width="2.6"/>
<line x1="13.2" y1="760.1" x2="675.2" y2="760.1" stroke="#1ba1e2" stroke-width="2.6"/>
<line x1="13.2" y1="951.2" x2="675.2" y2="951.2" stroke="#1ba1e2" stroke-width="2.6"/>
<line x1="16.2" y1="1130.7" x2="675" y2="1130.7" stroke="#e6007e" stroke-width="5.0"/>
<line x1="13.2" y1="176.9" x2="678" y2="176.9" stroke="#1ba1e2" stroke-width="2.5" stroke-dasharray="9.5 5.87" stroke-dashoffset="2.37" stroke-linecap="round"/>
<line x1="13.2" y1="735.1" x2="678" y2="735.1" stroke="#1ba1e2" stroke-width="2.5" stroke-dasharray="9.5 5.87" stroke-dashoffset="2.37" stroke-linecap="round"/>
<line x1="13.2" y1="807.1" x2="678" y2="807.1" stroke="#1ba1e2" stroke-width="2.5" stroke-dasharray="9.5 5.87" stroke-dashoffset="2.37" stroke-linecap="round"/>
<line x1="13.2" y1="996.6" x2="678" y2="996.6" stroke="#1ba1e2" stroke-width="2.5" stroke-dasharray="9.5 5.87" stroke-dashoffset="2.37" stroke-linecap="round"/>
<line x1="20" y1="735.1" x2="545" y2="735.1" stroke="#e08030" stroke-width="1.6" stroke-dasharray="2.2 13.4" stroke-dashoffset="-3"/>
<line x1="20" y1="807.1" x2="545" y2="807.1" stroke="#a020c0" stroke-width="1.6" stroke-dasharray="2.2 13.4" stroke-dashoffset="-3"/>
<path d="M16.2,1111.3 Q13.3,1107.3 13.2,1082" fill="none" stroke="#d890d8" stroke-width="0.9"/>
<path d="M16.2,1126.1 Q13.3,1122.1 13.2,1095" fill="none" stroke="#70c870" stroke-width="0.9"/>
<path d="M16.2,1140 Q13.3,1136 13.2,1100" fill="none" stroke="#90d8e0" stroke-width="0.9"/>
<path d="M16.2,1149.2 Q13.3,1145.2 13.2,1110" fill="none" stroke="#60c060" stroke-width="0.9"/>
<path d="M16.2,1176.2 Q13.3,1172.2 13.2,1140" fill="none" stroke="#c8c070" stroke-width="0.9"/>
<path d="M16.2,1180.1 Q13.3,1176.1 13.2,1145" fill="none" stroke="#e0a0a0" stroke-width="0.9"/>
<path d="M16.2,1185 Q13.3,1181 13.2,1150" fill="none" stroke="#900090" stroke-width="0.9"/>
<path d="M16.2,1189.3 Q13.3,1185.3 13.2,1160" fill="none" stroke="#101090" stroke-width="0.9"/>
<path d="M16.2,1224 Q13.3,1220 13.2,1196" fill="none" stroke="#30a0a8" stroke-width="0.9"/>
<path d="M16.2,1225.8 Q13.3,1221.8 13.2,1202" fill="none" stroke="#40b040" stroke-width="0.9"/>
<path d="M16.2,1228.2 Q13.3,1224.2 13.2,1208" fill="none" stroke="#c8c050" stroke-width="0.9"/>
<path d="M16.2,1242 Q13.3,1238 13.2,1215" fill="none" stroke="#a01818" stroke-width="0.9"/>
<path d="M16.2,1249.6 Q13.3,1245.6 13.2,1226" fill="none" stroke="#d030d0" stroke-width="0.9"/>
<path d="M16.2,1252.4 Q13.3,1248.4 13.2,1236" fill="none" stroke="#4020c0" stroke-width="0.9"/>
<path d="M16.2,1273.8 Q13.3,1269.8 13.2,1256" fill="none" stroke="#30d0e0" stroke-width="0.9"/>
<path d="M16.2,1281 Q13.3,1277 13.2,1262" fill="none" stroke="#40c040" stroke-width="0.9"/>
<path d="M16.2,1288.3 Q13.3,1284.3 13.2,1268" fill="none" stroke="#c0c000" stroke-width="0.9"/>
<path d="M16.2,1290.4 Q13.3,1286.4 13.2,1274" fill="none" stroke="#e04040" stroke-width="0.9"/>
<path d="M16.2,1297 Q13.3,1293 13.2,1286" fill="none" stroke="#d040d0" stroke-width="0.9"/>
<path d="M16.2,1300 Q13.3,1296 13.2,1292" fill="none" stroke="#9040e0" stroke-width="0.9"/>
<path d="M16.2,1308 Q13.3,1304 13.2,1302" fill="none" stroke="#2080e0" stroke-width="0.9"/>
<path d="M16.2,1311.4 Q13.3,1314.4 13.2,1318" fill="none" stroke="#40d0b0" stroke-width="0.9"/>
<rect x="462.1" y="109.3" width="91.4" height="11.6" fill="#fff"/>
<text x="462.6" y="118.3" font-size="11.6" fill="#111" font-weight="bold" textLength="90.4" lengthAdjust="spacingAndGlyphs">Lateritic complex</text>
<rect x="461.8" y="127.9" width="43.8" height="11.6" fill="#fff"/>
<text x="462.3" y="136.9" font-size="11.6" fill="#111" font-weight="bold" textLength="42.8" lengthAdjust="spacingAndGlyphs">Dolerite</text>
<rect x="533.5" y="144.7" width="73" height="11.6" fill="#fff"/>
<text x="534" y="153.7" font-size="11.6" fill="#111" font-weight="bold" textLength="72" lengthAdjust="spacingAndGlyphs">Banded white</text>
<rect x="533.5" y="160.4" width="84" height="11.6" fill="#fff"/>
<text x="534" y="169.4" font-size="11.6" fill="#111" font-weight="bold" textLength="83" lengthAdjust="spacingAndGlyphs">dolostone, with</text>
<rect x="533.5" y="176.1" width="80" height="11.6" fill="#fff"/>
<text x="534" y="185.1" font-size="11.6" fill="#111" font-weight="bold" textLength="79" lengthAdjust="spacingAndGlyphs">clay-rich layers</text>
<rect x="441.5" y="167.1" width="88" height="11.6" fill="#fff"/>
<text x="442" y="176.1" font-size="11.6" fill="#111" font-weight="bold" textLength="87" lengthAdjust="spacingAndGlyphs">High-H2 content</text>
<rect x="461.8" y="212.6" width="43.8" height="11.6" fill="#fff"/>
<text x="462.3" y="221.6" font-size="11.6" fill="#111" font-weight="bold" textLength="42.8" lengthAdjust="spacingAndGlyphs">Dolerite</text>
<rect x="461.9" y="311.1" width="128" height="11.6" fill="#fff"/>
<text x="462.4" y="320.1" font-size="11.6" fill="#111" font-weight="bold" textLength="127" lengthAdjust="spacingAndGlyphs">Banded grey sandstone,</text>
<rect x="461.9" y="325.7" width="105.4" height="11.6" fill="#fff"/>
<text x="462.4" y="334.7" font-size="11.6" fill="#111" font-weight="bold" textLength="104.4" lengthAdjust="spacingAndGlyphs">with clay-rich layers</text>
<rect x="461.8" y="368.9" width="43.8" height="11.6" fill="#fff"/>
<text x="462.3" y="377.9" font-size="11.6" fill="#111" font-weight="bold" textLength="42.8" lengthAdjust="spacingAndGlyphs">Dolerite</text>
<rect x="461.7" y="416.6" width="157" height="11.6" fill="#fff"/>
<text x="462.2" y="425.6" font-size="11.6" fill="#111" font-weight="bold" textLength="156" lengthAdjust="spacingAndGlyphs">Banded grey/pink sandstone,</text>
<rect x="464.7" y="431.9" width="90.6" height="11.6" fill="#fff"/>
<text x="465.2" y="440.9" font-size="11.6" fill="#111" font-weight="bold" textLength="89.6" lengthAdjust="spacingAndGlyphs">U-rich clay layers</text>
<rect x="461.7" y="444.5" width="105" height="11.6" fill="#fff"/>
<text x="462.2" y="453.5" font-size="11.6" fill="#111" font-weight="bold" textLength="104" lengthAdjust="spacingAndGlyphs">microconglomerate</text>
<rect x="461.7" y="462" width="123.8" height="11.6" fill="#fff"/>
<text x="462.2" y="471" font-size="11.6" fill="#111" font-weight="bold" textLength="122.8" lengthAdjust="spacingAndGlyphs">Banded red sandstone,</text>
<rect x="461.7" y="487.1" width="76" height="11.6" fill="#fff"/>
<text x="462.2" y="496.1" font-size="11.6" fill="#111" font-weight="bold" textLength="75" lengthAdjust="spacingAndGlyphs">Conglomerate</text>
<rect x="461.7" y="511.3" width="173" height="11.6" fill="#fff"/>
<text x="462.2" y="520.3" font-size="11.6" fill="#111" font-weight="bold" textLength="172" lengthAdjust="spacingAndGlyphs">Homogeneous red thin sanstone</text>
<rect x="461.7" y="547.8" width="105" height="11.6" fill="#fff"/>
<text x="462.2" y="556.8" font-size="11.6" fill="#111" font-weight="bold" textLength="104" lengthAdjust="spacingAndGlyphs">microconglomerate</text>
<rect x="461.7" y="583.9" width="123.8" height="11.6" fill="#fff"/>
<text x="462.2" y="592.9" font-size="11.6" fill="#111" font-weight="bold" textLength="122.8" lengthAdjust="spacingAndGlyphs">Banded red sandstone,</text>
<rect x="461.7" y="624.4" width="123.8" height="11.6" fill="#fff"/>
<text x="462.2" y="633.4" font-size="11.6" fill="#111" font-weight="bold" textLength="122.8" lengthAdjust="spacingAndGlyphs">Banded red sandstone,</text>
<rect x="461.8" y="653.1" width="43.8" height="11.6" fill="#fff"/>
<text x="462.3" y="662.1" font-size="11.6" fill="#111" font-weight="bold" textLength="42.8" lengthAdjust="spacingAndGlyphs">Dolerite</text>
<rect x="461.7" y="670.2" width="78" height="11.6" fill="#fff"/>
<text x="462.2" y="679.2" font-size="11.6" fill="#111" font-weight="bold" textLength="77" lengthAdjust="spacingAndGlyphs">Red sandstone</text>
<rect x="461.7" y="699.6" width="80.5" height="11.6" fill="#fff"/>
<text x="462.2" y="708.6" font-size="11.6" fill="#111" font-weight="bold" textLength="79.5" lengthAdjust="spacingAndGlyphs">Red dolostone,</text>
<rect x="461.7" y="713.9" width="105.4" height="11.6" fill="#fff"/>
<text x="462.2" y="722.9" font-size="11.6" fill="#111" font-weight="bold" textLength="104.4" lengthAdjust="spacingAndGlyphs">with clay-rich layers</text>
<rect x="461.7" y="744.3" width="123.8" height="11.6" fill="#fff"/>
<text x="462.2" y="753.3" font-size="11.6" fill="#111" font-weight="bold" textLength="122.8" lengthAdjust="spacingAndGlyphs">Banded red sandstone,</text>
<rect x="461.7" y="770.4" width="122" height="11.6" fill="#fff"/>
<text x="462.2" y="779.4" font-size="11.6" fill="#111" font-weight="bold" textLength="121" lengthAdjust="spacingAndGlyphs">Banded red dolostone,</text>
<rect x="461.7" y="785.4" width="105.4" height="11.6" fill="#fff"/>
<text x="462.2" y="794.4" font-size="11.6" fill="#111" font-weight="bold" textLength="104.4" lengthAdjust="spacingAndGlyphs">with clay-rich layers</text>
<rect x="462" y="806.2" width="50.5" height="11.6" fill="#fff"/>
<text x="462.5" y="815.2" font-size="11.6" fill="#111" font-weight="bold" textLength="49.5" lengthAdjust="spacingAndGlyphs">Quartzite</text>
<rect x="462" y="835.9" width="43.8" height="11.6" fill="#fff"/>
<text x="462.5" y="844.9" font-size="11.6" fill="#111" font-weight="bold" textLength="42.8" lengthAdjust="spacingAndGlyphs">Dolerite</text>
<rect x="464" y="887.8" width="122.5" height="11.6" fill="#fff"/>
<text x="464.5" y="896.8" font-size="11.6" fill="#111" font-weight="bold" textLength="121.5" lengthAdjust="spacingAndGlyphs">Banded red sandstone,</text>
<rect x="462" y="935.1" width="81" height="11.6" fill="#fff"/>
<text x="462.5" y="944.1" font-size="11.6" fill="#111" font-weight="bold" textLength="80" lengthAdjust="spacingAndGlyphs">Red sandstone,</text>
<rect x="461.7" y="955.7" width="204" height="11.6" fill="#fff"/>
<text x="462.2" y="964.7" font-size="11.6" fill="#111" font-weight="bold" textLength="203" lengthAdjust="spacingAndGlyphs">Banded red dolostone, Stromatolithes</text>
<rect x="463.5" y="968.2" width="162" height="11.6" fill="#fff"/>
<text x="464" y="977.2" font-size="11.6" fill="#111" font-weight="bold" textLength="161" lengthAdjust="spacingAndGlyphs">Red limestone, Stromatolithes</text>
<rect x="463.5" y="980.7" width="141" height="11.6" fill="#fff"/>
<text x="464" y="989.7" font-size="11.6" fill="#111" font-weight="bold" textLength="140" lengthAdjust="spacingAndGlyphs">Dolostone, Stromatolithes</text>
<rect x="461.7" y="1003.4" width="136" height="11.6" fill="#fff"/>
<text x="462.2" y="1012.4" font-size="11.6" fill="#111" font-weight="bold" textLength="135" lengthAdjust="spacingAndGlyphs">Microconglomerate, slate</text>
<rect x="461.7" y="1020.5" width="123.8" height="11.6" fill="#fff"/>
<text x="462.2" y="1029.5" font-size="11.6" fill="#111" font-weight="bold" textLength="122.8" lengthAdjust="spacingAndGlyphs">Banded red sandstone,</text>
<rect x="464.7" y="1045.1" width="104.5" height="11.6" fill="#fff"/>
<text x="465.2" y="1054.1" font-size="11.6" fill="#111" font-weight="bold" textLength="103.5" lengthAdjust="spacingAndGlyphs">microconglomerate</text>
<rect x="464.7" y="1060.6" width="80" height="11.6" fill="#fff"/>
<text x="465.2" y="1069.6" font-size="11.6" fill="#111" font-weight="bold" textLength="79" lengthAdjust="spacingAndGlyphs">Red sandstone,</text>
<rect x="464.7" y="1075.6" width="104.5" height="11.6" fill="#fff"/>
<text x="465.2" y="1084.6" font-size="11.6" fill="#111" font-weight="bold" textLength="103.5" lengthAdjust="spacingAndGlyphs">microconglomerate</text>
<rect x="461.7" y="1099.2" width="119" height="11.6" fill="#fff"/>
<text x="462.2" y="1108.2" font-size="11.6" fill="#111" font-weight="bold" textLength="118" lengthAdjust="spacingAndGlyphs">White/pink sandstone</text>
<rect x="464.7" y="1111.7" width="43" height="11.6" fill="#fff"/>
<text x="465.2" y="1120.7" font-size="11.6" fill="#111" font-weight="bold" textLength="42" lengthAdjust="spacingAndGlyphs">Dolerite</text>
<rect x="464.7" y="1121.8" width="50.5" height="11.6" fill="#fff"/>
<text x="465.2" y="1130.8" font-size="11.6" fill="#111" font-weight="bold" textLength="49.5" lengthAdjust="spacingAndGlyphs">Quartzite</text>
<text x="634.2" y="169.2" font-size="28.3" fill="#000" font-weight="bold" textLength="31.2" lengthAdjust="spacingAndGlyphs" stroke="#000" stroke-width="0.5">CC</text>
<text x="634" y="324" font-size="27" fill="#000" font-weight="bold" textLength="29.8" lengthAdjust="spacingAndGlyphs" stroke="#000" stroke-width="0.5">BS</text>
<text x="641" y="529" font-size="27" fill="#000" font-weight="bold" textLength="13.6" lengthAdjust="spacingAndGlyphs" stroke="#000" stroke-width="0.5">S</text>
<text x="633.6" y="633.2" font-size="27" fill="#000" font-weight="bold" textLength="30" lengthAdjust="spacingAndGlyphs" stroke="#000" stroke-width="0.5">BS</text>
<text x="633.6" y="718" font-size="28.3" fill="#000" font-weight="bold" textLength="30.8" lengthAdjust="spacingAndGlyphs" stroke="#000" stroke-width="0.5">CC</text>
<text x="633.6" y="756.2" font-size="27" fill="#000" font-weight="bold" textLength="30" lengthAdjust="spacingAndGlyphs" stroke="#000" stroke-width="0.5">BS</text>
<text x="633.6" y="796" font-size="28.3" fill="#000" font-weight="bold" textLength="30.8" lengthAdjust="spacingAndGlyphs" stroke="#000" stroke-width="0.5">CC</text>
<text x="633.6" y="900.2" font-size="27" fill="#000" font-weight="bold" textLength="30" lengthAdjust="spacingAndGlyphs" stroke="#000" stroke-width="0.5">BS</text>
<text x="636.8" y="993.7" font-size="28.3" fill="#000" font-weight="bold" textLength="31" lengthAdjust="spacingAndGlyphs" stroke="#000" stroke-width="0.5">CC</text>
<text x="636.8" y="1094.6" font-size="27" fill="#000" font-weight="bold" textLength="30.5" lengthAdjust="spacingAndGlyphs" stroke="#000" stroke-width="0.5">BS</text>
<text x="551.6" y="1160.6" font-size="25" fill="#000" font-weight="bold" textLength="123.9" lengthAdjust="spacingAndGlyphs" stroke="#000" stroke-width="0.4">Basement</text>
<text x="329.6" y="288.8" font-size="18" fill="#000" font-weight="bold" textLength="24.6" lengthAdjust="spacingAndGlyphs">mc</text>
<text x="332.6" y="419.6" font-size="11" fill="#000" font-weight="bold" textLength="23" lengthAdjust="spacingAndGlyphs">Mag</text>
<text x="338.2" y="446.8" font-size="17.5" fill="#000" font-weight="bold" textLength="11" lengthAdjust="spacingAndGlyphs">U</text>
<text x="329.6" y="885.6" font-size="11" fill="#000" font-weight="bold" textLength="24" lengthAdjust="spacingAndGlyphs">Hem</text>
<text x="329.6" y="1011.3" font-size="11" fill="#000" font-weight="bold" textLength="24" lengthAdjust="spacingAndGlyphs">Hem</text>
<text x="332.6" y="1073.6" font-size="11" fill="#000" font-weight="bold" textLength="23" lengthAdjust="spacingAndGlyphs">Mag</text>
<g transform="translate(344.7,192.6) rotate(-90)"><rect x="-1" y="-10" width="49.5" height="13.5" fill="#fff"/><text x="0" y="0" font-size="13.3" font-weight="bold" fill="#000" stroke="#fff" stroke-width="3.5" paint-order="stroke" stroke-linejoin="round" textLength="47.5" lengthAdjust="spacingAndGlyphs">Density</text></g>
<g transform="translate(280.9,262.2) rotate(-90)"><text x="0" y="0" font-size="13.3" font-weight="bold" fill="#000" stroke="#fff" stroke-width="4.6" paint-order="stroke" stroke-linejoin="round" textLength="52.2" lengthAdjust="spacingAndGlyphs">Neutron</text></g>
<g transform="translate(131.6,267.2) rotate(-90)"><text x="0" y="0" font-size="14.5" font-weight="bold" fill="#000" stroke="#fff" stroke-width="4.6" paint-order="stroke" stroke-linejoin="round" textLength="76.2" lengthAdjust="spacingAndGlyphs">Gamma ray</text></g>
<g transform="translate(614.5,1064) rotate(-90)"><text x="0" y="0" font-size="14" font-style="italic" fill="#111" textLength="52" lengthAdjust="spacingAndGlyphs">iron-rich</text></g>
<g transform="translate(594,1111.4) rotate(-90)"><text x="0" y="0" font-size="14" font-style="italic" fill="#111" textLength="29.7" lengthAdjust="spacingAndGlyphs">none</text></g>
<g transform="translate(612.7,1111.4) rotate(-90)"><text x="0" y="0" font-size="14" font-style="italic" fill="#111" textLength="29" lengthAdjust="spacingAndGlyphs">iron-</text></g>
<g transform="translate(630.4,1111.4) rotate(-90)"><text x="0" y="0" font-size="14" font-style="italic" fill="#111" textLength="22.4" lengthAdjust="spacingAndGlyphs">rich</text></g>
<line x1="619.6" y1="1001.4" x2="619.6" y2="1076.9" stroke="#111" stroke-width="2" stroke-dasharray="6.5 4.2"/>
<g transform="translate(421,110.6) rotate(21)"><path d="M0,0 L-6.3,-6.6 L-3.1,-6.6 L-3.1,-29 L3.1,-29 L3.1,-6.6 L6.3,-6.6 Z" fill="#fff" stroke="#111" stroke-width="1.2" stroke-linejoin="miter"/></g></svg>
</body></html>
